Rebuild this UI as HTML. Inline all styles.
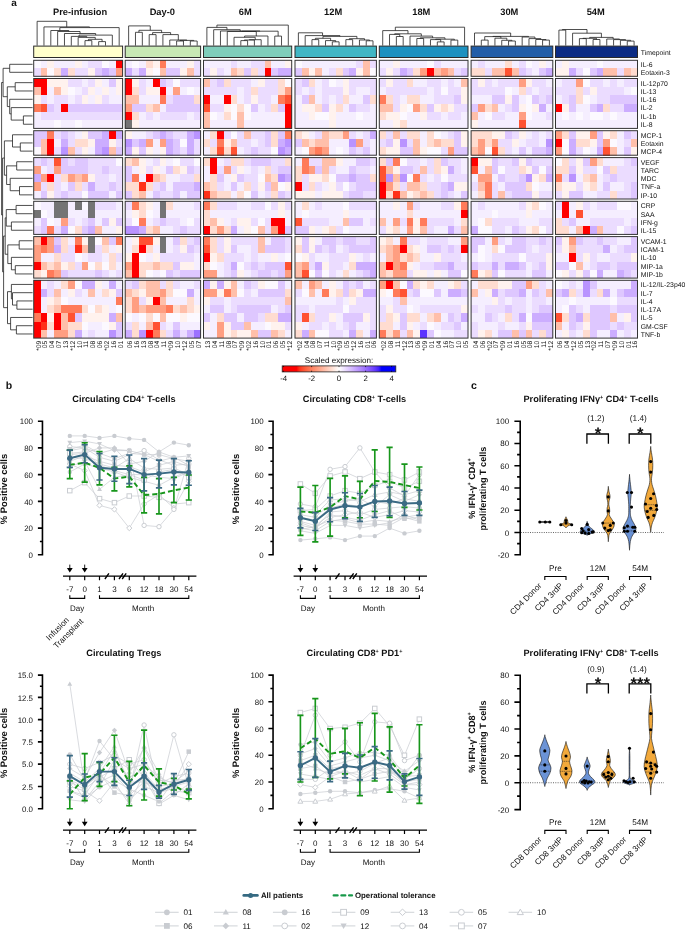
<!DOCTYPE html>
<html><head><meta charset="utf-8"><style>
html,body{margin:0;padding:0;background:#fff;width:685px;height:930px;overflow:hidden}
svg{display:block;will-change:transform}
text{font-family:"Liberation Sans",sans-serif;fill:#111;text-rendering:geometricPrecision}
.b{font-weight:bold}
</style></head><body>
<svg width="685" height="930" viewBox="0 0 685 930">
<text x="11.3" y="5.9" class="b" font-size="10">a</text>
<text x="80.1" y="14.8" class="b" font-size="9.3" text-anchor="middle">Pre-infusion</text>
<path d="M84.99,45.60V40.60H91.83V45.60M98.67,45.60V41.60H105.50V45.60M88.41,40.60V39.30H102.08V41.60M78.15,45.60V37.40H95.25V39.30M71.31,45.60V36.40H86.70V37.40M79.00,36.40V35.10H112.34V45.60M64.47,45.60V33.50H95.67V35.10M57.63,45.60V31.50H80.07V33.50M50.80,45.60V30.50H68.85V31.50M59.83,30.50V27.60H119.18V45.60M43.96,45.60V26.90H89.50V27.60M37.12,45.60V21.30H66.73V26.90" fill="none" stroke="#222" stroke-width="0.8"/>
<rect x="33.70" y="46.1" width="88.90" height="11.4" fill="#ffffcc" stroke="#2a2a2a" stroke-width="1"/>
<g shape-rendering="crispEdges"><rect x="33.7" y="60.3" width="7.1" height="8.3" fill="#fcf9ff"/><rect x="40.5" y="60.3" width="7.1" height="8.3" fill="#f5eeff"/><rect x="47.4" y="60.3" width="7.1" height="8.3" fill="#fff2ee"/><rect x="54.2" y="60.3" width="7.1" height="8.3" fill="#f5eeff"/><rect x="61.1" y="60.3" width="7.1" height="8.3" fill="#f5eeff"/><rect x="67.9" y="60.3" width="7.1" height="8.3" fill="#f5eeff"/><rect x="74.7" y="60.3" width="7.1" height="8.3" fill="#fff2ee"/><rect x="81.6" y="60.3" width="7.1" height="8.3" fill="#f5eeff"/><rect x="88.4" y="60.3" width="7.1" height="8.3" fill="#ebdcff"/><rect x="95.2" y="60.3" width="7.1" height="8.3" fill="#ebdcff"/><rect x="102.1" y="60.3" width="7.1" height="8.3" fill="#fcf9ff"/><rect x="108.9" y="60.3" width="7.1" height="8.3" fill="#f5eeff"/><rect x="115.8" y="60.3" width="7.1" height="8.3" fill="#ff0000"/><rect x="33.7" y="68.3" width="7.1" height="8.3" fill="#ebdcff"/><rect x="40.5" y="68.3" width="7.1" height="8.3" fill="#ffbfaa"/><rect x="47.4" y="68.3" width="7.1" height="8.3" fill="#fcf9ff"/><rect x="54.2" y="68.3" width="7.1" height="8.3" fill="#ffdcd0"/><rect x="61.1" y="68.3" width="7.1" height="8.3" fill="#ccadff"/><rect x="67.9" y="68.3" width="7.1" height="8.3" fill="#ffdcd0"/><rect x="74.7" y="68.3" width="7.1" height="8.3" fill="#ebdcff"/><rect x="81.6" y="68.3" width="7.1" height="8.3" fill="#ebdcff"/><rect x="88.4" y="68.3" width="7.1" height="8.3" fill="#fff2ee"/><rect x="95.2" y="68.3" width="7.1" height="8.3" fill="#dec7ff"/><rect x="102.1" y="68.3" width="7.1" height="8.3" fill="#ccadff"/><rect x="108.9" y="68.3" width="7.1" height="8.3" fill="#dec7ff"/><rect x="115.8" y="68.3" width="7.1" height="8.3" fill="#ff9e81"/><rect x="33.7" y="78.5" width="7.1" height="8.6" fill="#ff0000"/><rect x="40.5" y="78.5" width="7.1" height="8.6" fill="#ff0000"/><rect x="47.4" y="78.5" width="7.1" height="8.6" fill="#fff2ee"/><rect x="54.2" y="78.5" width="7.1" height="8.6" fill="#fff2ee"/><rect x="61.1" y="78.5" width="7.1" height="8.6" fill="#fff2ee"/><rect x="67.9" y="78.5" width="7.1" height="8.6" fill="#ebdcff"/><rect x="74.7" y="78.5" width="7.1" height="8.6" fill="#ebdcff"/><rect x="81.6" y="78.5" width="7.1" height="8.6" fill="#f5eeff"/><rect x="88.4" y="78.5" width="7.1" height="8.6" fill="#ebdcff"/><rect x="95.2" y="78.5" width="7.1" height="8.6" fill="#fff2ee"/><rect x="102.1" y="78.5" width="7.1" height="8.6" fill="#f5eeff"/><rect x="108.9" y="78.5" width="7.1" height="8.6" fill="#dec7ff"/><rect x="115.8" y="78.5" width="7.1" height="8.6" fill="#fff2ee"/><rect x="33.7" y="86.8" width="7.1" height="8.6" fill="#ffbfaa"/><rect x="40.5" y="86.8" width="7.1" height="8.6" fill="#ff0000"/><rect x="47.4" y="86.8" width="7.1" height="8.6" fill="#f5eeff"/><rect x="54.2" y="86.8" width="7.1" height="8.6" fill="#ffbfaa"/><rect x="61.1" y="86.8" width="7.1" height="8.6" fill="#fff2ee"/><rect x="67.9" y="86.8" width="7.1" height="8.6" fill="#fcf9ff"/><rect x="74.7" y="86.8" width="7.1" height="8.6" fill="#f5eeff"/><rect x="81.6" y="86.8" width="7.1" height="8.6" fill="#ebdcff"/><rect x="88.4" y="86.8" width="7.1" height="8.6" fill="#fff2ee"/><rect x="95.2" y="86.8" width="7.1" height="8.6" fill="#f5eeff"/><rect x="102.1" y="86.8" width="7.1" height="8.6" fill="#fff2ee"/><rect x="108.9" y="86.8" width="7.1" height="8.6" fill="#f5eeff"/><rect x="115.8" y="86.8" width="7.1" height="8.6" fill="#fff2ee"/><rect x="33.7" y="95.1" width="7.1" height="8.6" fill="#fff2ee"/><rect x="40.5" y="95.1" width="7.1" height="8.6" fill="#ebdcff"/><rect x="47.4" y="95.1" width="7.1" height="8.6" fill="#f5eeff"/><rect x="54.2" y="95.1" width="7.1" height="8.6" fill="#ebdcff"/><rect x="61.1" y="95.1" width="7.1" height="8.6" fill="#ebdcff"/><rect x="67.9" y="95.1" width="7.1" height="8.6" fill="#f5eeff"/><rect x="74.7" y="95.1" width="7.1" height="8.6" fill="#ebdcff"/><rect x="81.6" y="95.1" width="7.1" height="8.6" fill="#fff2ee"/><rect x="88.4" y="95.1" width="7.1" height="8.6" fill="#f5eeff"/><rect x="95.2" y="95.1" width="7.1" height="8.6" fill="#fff2ee"/><rect x="102.1" y="95.1" width="7.1" height="8.6" fill="#ebdcff"/><rect x="108.9" y="95.1" width="7.1" height="8.6" fill="#f5eeff"/><rect x="115.8" y="95.1" width="7.1" height="8.6" fill="#f5eeff"/><rect x="33.7" y="103.5" width="7.1" height="8.6" fill="#ff7b5a"/><rect x="40.5" y="103.5" width="7.1" height="8.6" fill="#ff5232"/><rect x="47.4" y="103.5" width="7.1" height="8.6" fill="#dec7ff"/><rect x="54.2" y="103.5" width="7.1" height="8.6" fill="#ebdcff"/><rect x="61.1" y="103.5" width="7.1" height="8.6" fill="#ff0000"/><rect x="67.9" y="103.5" width="7.1" height="8.6" fill="#dec7ff"/><rect x="74.7" y="103.5" width="7.1" height="8.6" fill="#dec7ff"/><rect x="81.6" y="103.5" width="7.1" height="8.6" fill="#dec7ff"/><rect x="88.4" y="103.5" width="7.1" height="8.6" fill="#dec7ff"/><rect x="95.2" y="103.5" width="7.1" height="8.6" fill="#dec7ff"/><rect x="102.1" y="103.5" width="7.1" height="8.6" fill="#dec7ff"/><rect x="108.9" y="103.5" width="7.1" height="8.6" fill="#dec7ff"/><rect x="115.8" y="103.5" width="7.1" height="8.6" fill="#dec7ff"/><rect x="33.7" y="111.8" width="7.1" height="8.6" fill="#f5eeff"/><rect x="40.5" y="111.8" width="7.1" height="8.6" fill="#ebdcff"/><rect x="47.4" y="111.8" width="7.1" height="8.6" fill="#ebdcff"/><rect x="54.2" y="111.8" width="7.1" height="8.6" fill="#ebdcff"/><rect x="61.1" y="111.8" width="7.1" height="8.6" fill="#ebdcff"/><rect x="67.9" y="111.8" width="7.1" height="8.6" fill="#ebdcff"/><rect x="74.7" y="111.8" width="7.1" height="8.6" fill="#ebdcff"/><rect x="81.6" y="111.8" width="7.1" height="8.6" fill="#ebdcff"/><rect x="88.4" y="111.8" width="7.1" height="8.6" fill="#ebdcff"/><rect x="95.2" y="111.8" width="7.1" height="8.6" fill="#ebdcff"/><rect x="102.1" y="111.8" width="7.1" height="8.6" fill="#ebdcff"/><rect x="108.9" y="111.8" width="7.1" height="8.6" fill="#ebdcff"/><rect x="115.8" y="111.8" width="7.1" height="8.6" fill="#ebdcff"/><rect x="33.7" y="120.1" width="7.1" height="8.6" fill="#f5eeff"/><rect x="40.5" y="120.1" width="7.1" height="8.6" fill="#f5eeff"/><rect x="47.4" y="120.1" width="7.1" height="8.6" fill="#f5eeff"/><rect x="54.2" y="120.1" width="7.1" height="8.6" fill="#fcf9ff"/><rect x="61.1" y="120.1" width="7.1" height="8.6" fill="#f5eeff"/><rect x="67.9" y="120.1" width="7.1" height="8.6" fill="#f5eeff"/><rect x="74.7" y="120.1" width="7.1" height="8.6" fill="#fcf9ff"/><rect x="81.6" y="120.1" width="7.1" height="8.6" fill="#f5eeff"/><rect x="88.4" y="120.1" width="7.1" height="8.6" fill="#f5eeff"/><rect x="95.2" y="120.1" width="7.1" height="8.6" fill="#f5eeff"/><rect x="102.1" y="120.1" width="7.1" height="8.6" fill="#f5eeff"/><rect x="108.9" y="120.1" width="7.1" height="8.6" fill="#f5eeff"/><rect x="115.8" y="120.1" width="7.1" height="8.6" fill="#f5eeff"/><rect x="33.7" y="130.7" width="7.1" height="8.5" fill="#dec7ff"/><rect x="40.5" y="130.7" width="7.1" height="8.5" fill="#dec7ff"/><rect x="47.4" y="130.7" width="7.1" height="8.5" fill="#ff7b5a"/><rect x="54.2" y="130.7" width="7.1" height="8.5" fill="#ebdcff"/><rect x="61.1" y="130.7" width="7.1" height="8.5" fill="#dec7ff"/><rect x="67.9" y="130.7" width="7.1" height="8.5" fill="#ebdcff"/><rect x="74.7" y="130.7" width="7.1" height="8.5" fill="#f5eeff"/><rect x="81.6" y="130.7" width="7.1" height="8.5" fill="#fff2ee"/><rect x="88.4" y="130.7" width="7.1" height="8.5" fill="#dec7ff"/><rect x="95.2" y="130.7" width="7.1" height="8.5" fill="#dec7ff"/><rect x="102.1" y="130.7" width="7.1" height="8.5" fill="#ccadff"/><rect x="108.9" y="130.7" width="7.1" height="8.5" fill="#ff0000"/><rect x="115.8" y="130.7" width="7.1" height="8.5" fill="#ccadff"/><rect x="33.7" y="138.9" width="7.1" height="8.5" fill="#dec7ff"/><rect x="40.5" y="138.9" width="7.1" height="8.5" fill="#ffbfaa"/><rect x="47.4" y="138.9" width="7.1" height="8.5" fill="#ff0000"/><rect x="54.2" y="138.9" width="7.1" height="8.5" fill="#f5eeff"/><rect x="61.1" y="138.9" width="7.1" height="8.5" fill="#ccadff"/><rect x="67.9" y="138.9" width="7.1" height="8.5" fill="#ebdcff"/><rect x="74.7" y="138.9" width="7.1" height="8.5" fill="#ffdcd0"/><rect x="81.6" y="138.9" width="7.1" height="8.5" fill="#ffdcd0"/><rect x="88.4" y="138.9" width="7.1" height="8.5" fill="#fff2ee"/><rect x="95.2" y="138.9" width="7.1" height="8.5" fill="#ccadff"/><rect x="102.1" y="138.9" width="7.1" height="8.5" fill="#ccadff"/><rect x="108.9" y="138.9" width="7.1" height="8.5" fill="#fff2ee"/><rect x="115.8" y="138.9" width="7.1" height="8.5" fill="#ebdcff"/><rect x="33.7" y="147.0" width="7.1" height="8.5" fill="#fcf9ff"/><rect x="40.5" y="147.0" width="7.1" height="8.5" fill="#ffbfaa"/><rect x="47.4" y="147.0" width="7.1" height="8.5" fill="#ff0000"/><rect x="54.2" y="147.0" width="7.1" height="8.5" fill="#ebdcff"/><rect x="61.1" y="147.0" width="7.1" height="8.5" fill="#b993ff"/><rect x="67.9" y="147.0" width="7.1" height="8.5" fill="#ffbfaa"/><rect x="74.7" y="147.0" width="7.1" height="8.5" fill="#ebdcff"/><rect x="81.6" y="147.0" width="7.1" height="8.5" fill="#fff2ee"/><rect x="88.4" y="147.0" width="7.1" height="8.5" fill="#f5eeff"/><rect x="95.2" y="147.0" width="7.1" height="8.5" fill="#ccadff"/><rect x="102.1" y="147.0" width="7.1" height="8.5" fill="#b993ff"/><rect x="108.9" y="147.0" width="7.1" height="8.5" fill="#ffbfaa"/><rect x="115.8" y="147.0" width="7.1" height="8.5" fill="#dec7ff"/><rect x="33.7" y="157.6" width="7.1" height="8.6" fill="#ebdcff"/><rect x="40.5" y="157.6" width="7.1" height="8.6" fill="#dec7ff"/><rect x="47.4" y="157.6" width="7.1" height="8.6" fill="#ebdcff"/><rect x="54.2" y="157.6" width="7.1" height="8.6" fill="#ff5232"/><rect x="61.1" y="157.6" width="7.1" height="8.6" fill="#dec7ff"/><rect x="67.9" y="157.6" width="7.1" height="8.6" fill="#ebdcff"/><rect x="74.7" y="157.6" width="7.1" height="8.6" fill="#dec7ff"/><rect x="81.6" y="157.6" width="7.1" height="8.6" fill="#dec7ff"/><rect x="88.4" y="157.6" width="7.1" height="8.6" fill="#ebdcff"/><rect x="95.2" y="157.6" width="7.1" height="8.6" fill="#ebdcff"/><rect x="102.1" y="157.6" width="7.1" height="8.6" fill="#ebdcff"/><rect x="108.9" y="157.6" width="7.1" height="8.6" fill="#ebdcff"/><rect x="115.8" y="157.6" width="7.1" height="8.6" fill="#fcf9ff"/><rect x="33.7" y="165.9" width="7.1" height="8.6" fill="#ff9e81"/><rect x="40.5" y="165.9" width="7.1" height="8.6" fill="#f5eeff"/><rect x="47.4" y="165.9" width="7.1" height="8.6" fill="#ebdcff"/><rect x="54.2" y="165.9" width="7.1" height="8.6" fill="#ff9e81"/><rect x="61.1" y="165.9" width="7.1" height="8.6" fill="#dec7ff"/><rect x="67.9" y="165.9" width="7.1" height="8.6" fill="#dec7ff"/><rect x="74.7" y="165.9" width="7.1" height="8.6" fill="#dec7ff"/><rect x="81.6" y="165.9" width="7.1" height="8.6" fill="#dec7ff"/><rect x="88.4" y="165.9" width="7.1" height="8.6" fill="#ebdcff"/><rect x="95.2" y="165.9" width="7.1" height="8.6" fill="#ebdcff"/><rect x="102.1" y="165.9" width="7.1" height="8.6" fill="#dec7ff"/><rect x="108.9" y="165.9" width="7.1" height="8.6" fill="#ebdcff"/><rect x="115.8" y="165.9" width="7.1" height="8.6" fill="#ebdcff"/><rect x="33.7" y="174.2" width="7.1" height="8.6" fill="#ccadff"/><rect x="40.5" y="174.2" width="7.1" height="8.6" fill="#ff9e81"/><rect x="47.4" y="174.2" width="7.1" height="8.6" fill="#ff0000"/><rect x="54.2" y="174.2" width="7.1" height="8.6" fill="#ebdcff"/><rect x="61.1" y="174.2" width="7.1" height="8.6" fill="#ffdcd0"/><rect x="67.9" y="174.2" width="7.1" height="8.6" fill="#ff9e81"/><rect x="74.7" y="174.2" width="7.1" height="8.6" fill="#ffbfaa"/><rect x="81.6" y="174.2" width="7.1" height="8.6" fill="#ff9e81"/><rect x="88.4" y="174.2" width="7.1" height="8.6" fill="#fff2ee"/><rect x="95.2" y="174.2" width="7.1" height="8.6" fill="#ebdcff"/><rect x="102.1" y="174.2" width="7.1" height="8.6" fill="#ebdcff"/><rect x="108.9" y="174.2" width="7.1" height="8.6" fill="#f5eeff"/><rect x="115.8" y="174.2" width="7.1" height="8.6" fill="#ebdcff"/><rect x="33.7" y="182.4" width="7.1" height="8.6" fill="#ff9e81"/><rect x="40.5" y="182.4" width="7.1" height="8.6" fill="#ebdcff"/><rect x="47.4" y="182.4" width="7.1" height="8.6" fill="#ffdcd0"/><rect x="54.2" y="182.4" width="7.1" height="8.6" fill="#ebdcff"/><rect x="61.1" y="182.4" width="7.1" height="8.6" fill="#f5eeff"/><rect x="67.9" y="182.4" width="7.1" height="8.6" fill="#dec7ff"/><rect x="74.7" y="182.4" width="7.1" height="8.6" fill="#ffdcd0"/><rect x="81.6" y="182.4" width="7.1" height="8.6" fill="#ebdcff"/><rect x="88.4" y="182.4" width="7.1" height="8.6" fill="#ccadff"/><rect x="95.2" y="182.4" width="7.1" height="8.6" fill="#ebdcff"/><rect x="102.1" y="182.4" width="7.1" height="8.6" fill="#ebdcff"/><rect x="108.9" y="182.4" width="7.1" height="8.6" fill="#dec7ff"/><rect x="115.8" y="182.4" width="7.1" height="8.6" fill="#ebdcff"/><rect x="33.7" y="190.7" width="7.1" height="8.6" fill="#f5eeff"/><rect x="40.5" y="190.7" width="7.1" height="8.6" fill="#dec7ff"/><rect x="47.4" y="190.7" width="7.1" height="8.6" fill="#fff2ee"/><rect x="54.2" y="190.7" width="7.1" height="8.6" fill="#ebdcff"/><rect x="61.1" y="190.7" width="7.1" height="8.6" fill="#dec7ff"/><rect x="67.9" y="190.7" width="7.1" height="8.6" fill="#ebdcff"/><rect x="74.7" y="190.7" width="7.1" height="8.6" fill="#ebdcff"/><rect x="81.6" y="190.7" width="7.1" height="8.6" fill="#fcf9ff"/><rect x="88.4" y="190.7" width="7.1" height="8.6" fill="#dec7ff"/><rect x="95.2" y="190.7" width="7.1" height="8.6" fill="#dec7ff"/><rect x="102.1" y="190.7" width="7.1" height="8.6" fill="#dec7ff"/><rect x="108.9" y="190.7" width="7.1" height="8.6" fill="#f5eeff"/><rect x="115.8" y="190.7" width="7.1" height="8.6" fill="#dec7ff"/><rect x="33.7" y="201.3" width="7.1" height="8.6" fill="#fcf9ff"/><rect x="40.5" y="201.3" width="7.1" height="8.6" fill="#f5eeff"/><rect x="47.4" y="201.3" width="7.1" height="8.6" fill="#f5eeff"/><rect x="54.2" y="201.3" width="7.1" height="8.6" fill="#747474"/><rect x="61.1" y="201.3" width="7.1" height="8.6" fill="#747474"/><rect x="67.9" y="201.3" width="7.1" height="8.6" fill="#f5eeff"/><rect x="74.7" y="201.3" width="7.1" height="8.6" fill="#747474"/><rect x="81.6" y="201.3" width="7.1" height="8.6" fill="#fcf9ff"/><rect x="88.4" y="201.3" width="7.1" height="8.6" fill="#747474"/><rect x="95.2" y="201.3" width="7.1" height="8.6" fill="#ebdcff"/><rect x="102.1" y="201.3" width="7.1" height="8.6" fill="#ebdcff"/><rect x="108.9" y="201.3" width="7.1" height="8.6" fill="#ebdcff"/><rect x="115.8" y="201.3" width="7.1" height="8.6" fill="#f5eeff"/><rect x="33.7" y="209.6" width="7.1" height="8.6" fill="#747474"/><rect x="40.5" y="209.6" width="7.1" height="8.6" fill="#fcf9ff"/><rect x="47.4" y="209.6" width="7.1" height="8.6" fill="#f5eeff"/><rect x="54.2" y="209.6" width="7.1" height="8.6" fill="#747474"/><rect x="61.1" y="209.6" width="7.1" height="8.6" fill="#747474"/><rect x="67.9" y="209.6" width="7.1" height="8.6" fill="#f5eeff"/><rect x="74.7" y="209.6" width="7.1" height="8.6" fill="#f5eeff"/><rect x="81.6" y="209.6" width="7.1" height="8.6" fill="#f5eeff"/><rect x="88.4" y="209.6" width="7.1" height="8.6" fill="#747474"/><rect x="95.2" y="209.6" width="7.1" height="8.6" fill="#f5eeff"/><rect x="102.1" y="209.6" width="7.1" height="8.6" fill="#f5eeff"/><rect x="108.9" y="209.6" width="7.1" height="8.6" fill="#f5eeff"/><rect x="115.8" y="209.6" width="7.1" height="8.6" fill="#f5eeff"/><rect x="33.7" y="217.9" width="7.1" height="8.6" fill="#f5eeff"/><rect x="40.5" y="217.9" width="7.1" height="8.6" fill="#dec7ff"/><rect x="47.4" y="217.9" width="7.1" height="8.6" fill="#fcf9ff"/><rect x="54.2" y="217.9" width="7.1" height="8.6" fill="#f5eeff"/><rect x="61.1" y="217.9" width="7.1" height="8.6" fill="#ff9e81"/><rect x="67.9" y="217.9" width="7.1" height="8.6" fill="#ebdcff"/><rect x="74.7" y="217.9" width="7.1" height="8.6" fill="#f5eeff"/><rect x="81.6" y="217.9" width="7.1" height="8.6" fill="#ebdcff"/><rect x="88.4" y="217.9" width="7.1" height="8.6" fill="#dec7ff"/><rect x="95.2" y="217.9" width="7.1" height="8.6" fill="#f5eeff"/><rect x="102.1" y="217.9" width="7.1" height="8.6" fill="#dec7ff"/><rect x="108.9" y="217.9" width="7.1" height="8.6" fill="#fff2ee"/><rect x="115.8" y="217.9" width="7.1" height="8.6" fill="#dec7ff"/><rect x="33.7" y="226.1" width="7.1" height="8.6" fill="#ebdcff"/><rect x="40.5" y="226.1" width="7.1" height="8.6" fill="#dec7ff"/><rect x="47.4" y="226.1" width="7.1" height="8.6" fill="#ff7b5a"/><rect x="54.2" y="226.1" width="7.1" height="8.6" fill="#ebdcff"/><rect x="61.1" y="226.1" width="7.1" height="8.6" fill="#ccadff"/><rect x="67.9" y="226.1" width="7.1" height="8.6" fill="#fcf9ff"/><rect x="74.7" y="226.1" width="7.1" height="8.6" fill="#ffdcd0"/><rect x="81.6" y="226.1" width="7.1" height="8.6" fill="#dec7ff"/><rect x="88.4" y="226.1" width="7.1" height="8.6" fill="#ccadff"/><rect x="95.2" y="226.1" width="7.1" height="8.6" fill="#ffbfaa"/><rect x="102.1" y="226.1" width="7.1" height="8.6" fill="#f5eeff"/><rect x="108.9" y="226.1" width="7.1" height="8.6" fill="#f5eeff"/><rect x="115.8" y="226.1" width="7.1" height="8.6" fill="#fff2ee"/><rect x="33.7" y="236.6" width="7.1" height="8.6" fill="#ffbfaa"/><rect x="40.5" y="236.6" width="7.1" height="8.6" fill="#ff0000"/><rect x="47.4" y="236.6" width="7.1" height="8.6" fill="#ff9e81"/><rect x="54.2" y="236.6" width="7.1" height="8.6" fill="#dec7ff"/><rect x="61.1" y="236.6" width="7.1" height="8.6" fill="#ffdcd0"/><rect x="67.9" y="236.6" width="7.1" height="8.6" fill="#f5eeff"/><rect x="74.7" y="236.6" width="7.1" height="8.6" fill="#ff7b5a"/><rect x="81.6" y="236.6" width="7.1" height="8.6" fill="#fff2ee"/><rect x="88.4" y="236.6" width="7.1" height="8.6" fill="#747474"/><rect x="95.2" y="236.6" width="7.1" height="8.6" fill="#fcf9ff"/><rect x="102.1" y="236.6" width="7.1" height="8.6" fill="#ffbfaa"/><rect x="108.9" y="236.6" width="7.1" height="8.6" fill="#dec7ff"/><rect x="115.8" y="236.6" width="7.1" height="8.6" fill="#ff7b5a"/><rect x="33.7" y="244.9" width="7.1" height="8.6" fill="#ff9e81"/><rect x="40.5" y="244.9" width="7.1" height="8.6" fill="#ff7b5a"/><rect x="47.4" y="244.9" width="7.1" height="8.6" fill="#ff9e81"/><rect x="54.2" y="244.9" width="7.1" height="8.6" fill="#ccadff"/><rect x="61.1" y="244.9" width="7.1" height="8.6" fill="#ffdcd0"/><rect x="67.9" y="244.9" width="7.1" height="8.6" fill="#ebdcff"/><rect x="74.7" y="244.9" width="7.1" height="8.6" fill="#ff3118"/><rect x="81.6" y="244.9" width="7.1" height="8.6" fill="#ffbfaa"/><rect x="88.4" y="244.9" width="7.1" height="8.6" fill="#747474"/><rect x="95.2" y="244.9" width="7.1" height="8.6" fill="#ebdcff"/><rect x="102.1" y="244.9" width="7.1" height="8.6" fill="#ffdcd0"/><rect x="108.9" y="244.9" width="7.1" height="8.6" fill="#f5eeff"/><rect x="115.8" y="244.9" width="7.1" height="8.6" fill="#fff2ee"/><rect x="33.7" y="253.2" width="7.1" height="8.6" fill="#ff9e81"/><rect x="40.5" y="253.2" width="7.1" height="8.6" fill="#f5eeff"/><rect x="47.4" y="253.2" width="7.1" height="8.6" fill="#f5eeff"/><rect x="54.2" y="253.2" width="7.1" height="8.6" fill="#ffdcd0"/><rect x="61.1" y="253.2" width="7.1" height="8.6" fill="#ebdcff"/><rect x="67.9" y="253.2" width="7.1" height="8.6" fill="#ebdcff"/><rect x="74.7" y="253.2" width="7.1" height="8.6" fill="#fcf9ff"/><rect x="81.6" y="253.2" width="7.1" height="8.6" fill="#f5eeff"/><rect x="88.4" y="253.2" width="7.1" height="8.6" fill="#ebdcff"/><rect x="95.2" y="253.2" width="7.1" height="8.6" fill="#ebdcff"/><rect x="102.1" y="253.2" width="7.1" height="8.6" fill="#f5eeff"/><rect x="108.9" y="253.2" width="7.1" height="8.6" fill="#ffdcd0"/><rect x="115.8" y="253.2" width="7.1" height="8.6" fill="#ebdcff"/><rect x="33.7" y="261.5" width="7.1" height="8.6" fill="#ff0000"/><rect x="40.5" y="261.5" width="7.1" height="8.6" fill="#ffbfaa"/><rect x="47.4" y="261.5" width="7.1" height="8.6" fill="#ffdcd0"/><rect x="54.2" y="261.5" width="7.1" height="8.6" fill="#ffbfaa"/><rect x="61.1" y="261.5" width="7.1" height="8.6" fill="#fff2ee"/><rect x="67.9" y="261.5" width="7.1" height="8.6" fill="#ffdcd0"/><rect x="74.7" y="261.5" width="7.1" height="8.6" fill="#ebdcff"/><rect x="81.6" y="261.5" width="7.1" height="8.6" fill="#ff9e81"/><rect x="88.4" y="261.5" width="7.1" height="8.6" fill="#fcf9ff"/><rect x="95.2" y="261.5" width="7.1" height="8.6" fill="#ffdcd0"/><rect x="102.1" y="261.5" width="7.1" height="8.6" fill="#fcf9ff"/><rect x="108.9" y="261.5" width="7.1" height="8.6" fill="#ffdcd0"/><rect x="115.8" y="261.5" width="7.1" height="8.6" fill="#f5eeff"/><rect x="33.7" y="269.8" width="7.1" height="8.6" fill="#ffdcd0"/><rect x="40.5" y="269.8" width="7.1" height="8.6" fill="#fff2ee"/><rect x="47.4" y="269.8" width="7.1" height="8.6" fill="#ff7b5a"/><rect x="54.2" y="269.8" width="7.1" height="8.6" fill="#ff9e81"/><rect x="61.1" y="269.8" width="7.1" height="8.6" fill="#dec7ff"/><rect x="67.9" y="269.8" width="7.1" height="8.6" fill="#ebdcff"/><rect x="74.7" y="269.8" width="7.1" height="8.6" fill="#ebdcff"/><rect x="81.6" y="269.8" width="7.1" height="8.6" fill="#ebdcff"/><rect x="88.4" y="269.8" width="7.1" height="8.6" fill="#ebdcff"/><rect x="95.2" y="269.8" width="7.1" height="8.6" fill="#dec7ff"/><rect x="102.1" y="269.8" width="7.1" height="8.6" fill="#ebdcff"/><rect x="108.9" y="269.8" width="7.1" height="8.6" fill="#f5eeff"/><rect x="115.8" y="269.8" width="7.1" height="8.6" fill="#ebdcff"/><rect x="33.7" y="280.3" width="7.1" height="8.6" fill="#ff0000"/><rect x="40.5" y="280.3" width="7.1" height="8.6" fill="#f5eeff"/><rect x="47.4" y="280.3" width="7.1" height="8.6" fill="#ebdcff"/><rect x="54.2" y="280.3" width="7.1" height="8.6" fill="#f5eeff"/><rect x="61.1" y="280.3" width="7.1" height="8.6" fill="#ffdcd0"/><rect x="67.9" y="280.3" width="7.1" height="8.6" fill="#ff9e81"/><rect x="74.7" y="280.3" width="7.1" height="8.6" fill="#fcf9ff"/><rect x="81.6" y="280.3" width="7.1" height="8.6" fill="#ccadff"/><rect x="88.4" y="280.3" width="7.1" height="8.6" fill="#ccadff"/><rect x="95.2" y="280.3" width="7.1" height="8.6" fill="#fff2ee"/><rect x="102.1" y="280.3" width="7.1" height="8.6" fill="#f5eeff"/><rect x="108.9" y="280.3" width="7.1" height="8.6" fill="#ccadff"/><rect x="115.8" y="280.3" width="7.1" height="8.6" fill="#f5eeff"/><rect x="33.7" y="288.6" width="7.1" height="8.6" fill="#ff0000"/><rect x="40.5" y="288.6" width="7.1" height="8.6" fill="#ccadff"/><rect x="47.4" y="288.6" width="7.1" height="8.6" fill="#ebdcff"/><rect x="54.2" y="288.6" width="7.1" height="8.6" fill="#ffbfaa"/><rect x="61.1" y="288.6" width="7.1" height="8.6" fill="#f5eeff"/><rect x="67.9" y="288.6" width="7.1" height="8.6" fill="#fff2ee"/><rect x="74.7" y="288.6" width="7.1" height="8.6" fill="#ebdcff"/><rect x="81.6" y="288.6" width="7.1" height="8.6" fill="#f5eeff"/><rect x="88.4" y="288.6" width="7.1" height="8.6" fill="#ffbfaa"/><rect x="95.2" y="288.6" width="7.1" height="8.6" fill="#f5eeff"/><rect x="102.1" y="288.6" width="7.1" height="8.6" fill="#ffdcd0"/><rect x="108.9" y="288.6" width="7.1" height="8.6" fill="#fff2ee"/><rect x="115.8" y="288.6" width="7.1" height="8.6" fill="#dec7ff"/><rect x="33.7" y="296.8" width="7.1" height="8.6" fill="#ff0000"/><rect x="40.5" y="296.8" width="7.1" height="8.6" fill="#f5eeff"/><rect x="47.4" y="296.8" width="7.1" height="8.6" fill="#fff2ee"/><rect x="54.2" y="296.8" width="7.1" height="8.6" fill="#ffdcd0"/><rect x="61.1" y="296.8" width="7.1" height="8.6" fill="#fcf9ff"/><rect x="67.9" y="296.8" width="7.1" height="8.6" fill="#f5eeff"/><rect x="74.7" y="296.8" width="7.1" height="8.6" fill="#f5eeff"/><rect x="81.6" y="296.8" width="7.1" height="8.6" fill="#f5eeff"/><rect x="88.4" y="296.8" width="7.1" height="8.6" fill="#f5eeff"/><rect x="95.2" y="296.8" width="7.1" height="8.6" fill="#f5eeff"/><rect x="102.1" y="296.8" width="7.1" height="8.6" fill="#f5eeff"/><rect x="108.9" y="296.8" width="7.1" height="8.6" fill="#f5eeff"/><rect x="115.8" y="296.8" width="7.1" height="8.6" fill="#ff7b5a"/><rect x="33.7" y="305.1" width="7.1" height="8.6" fill="#ff0000"/><rect x="40.5" y="305.1" width="7.1" height="8.6" fill="#f5eeff"/><rect x="47.4" y="305.1" width="7.1" height="8.6" fill="#ffdcd0"/><rect x="54.2" y="305.1" width="7.1" height="8.6" fill="#ffbfaa"/><rect x="61.1" y="305.1" width="7.1" height="8.6" fill="#ff7b5a"/><rect x="67.9" y="305.1" width="7.1" height="8.6" fill="#ff7b5a"/><rect x="74.7" y="305.1" width="7.1" height="8.6" fill="#ff7b5a"/><rect x="81.6" y="305.1" width="7.1" height="8.6" fill="#ffdcd0"/><rect x="88.4" y="305.1" width="7.1" height="8.6" fill="#fcf9ff"/><rect x="95.2" y="305.1" width="7.1" height="8.6" fill="#ffdcd0"/><rect x="102.1" y="305.1" width="7.1" height="8.6" fill="#fff2ee"/><rect x="108.9" y="305.1" width="7.1" height="8.6" fill="#f5eeff"/><rect x="115.8" y="305.1" width="7.1" height="8.6" fill="#fcf9ff"/><rect x="33.7" y="313.3" width="7.1" height="8.6" fill="#ff7b5a"/><rect x="40.5" y="313.3" width="7.1" height="8.6" fill="#ff0000"/><rect x="47.4" y="313.3" width="7.1" height="8.6" fill="#fff2ee"/><rect x="54.2" y="313.3" width="7.1" height="8.6" fill="#ff0000"/><rect x="61.1" y="313.3" width="7.1" height="8.6" fill="#ffbfaa"/><rect x="67.9" y="313.3" width="7.1" height="8.6" fill="#ff5232"/><rect x="74.7" y="313.3" width="7.1" height="8.6" fill="#dec7ff"/><rect x="81.6" y="313.3" width="7.1" height="8.6" fill="#fff2ee"/><rect x="88.4" y="313.3" width="7.1" height="8.6" fill="#fff2ee"/><rect x="95.2" y="313.3" width="7.1" height="8.6" fill="#fff2ee"/><rect x="102.1" y="313.3" width="7.1" height="8.6" fill="#fff2ee"/><rect x="108.9" y="313.3" width="7.1" height="8.6" fill="#ccadff"/><rect x="115.8" y="313.3" width="7.1" height="8.6" fill="#ffbfaa"/><rect x="33.7" y="321.6" width="7.1" height="8.6" fill="#ff0000"/><rect x="40.5" y="321.6" width="7.1" height="8.6" fill="#ff3118"/><rect x="47.4" y="321.6" width="7.1" height="8.6" fill="#ffdcd0"/><rect x="54.2" y="321.6" width="7.1" height="8.6" fill="#ff0000"/><rect x="61.1" y="321.6" width="7.1" height="8.6" fill="#ffbfaa"/><rect x="67.9" y="321.6" width="7.1" height="8.6" fill="#ffdcd0"/><rect x="74.7" y="321.6" width="7.1" height="8.6" fill="#ffdcd0"/><rect x="81.6" y="321.6" width="7.1" height="8.6" fill="#fcf9ff"/><rect x="88.4" y="321.6" width="7.1" height="8.6" fill="#f5eeff"/><rect x="95.2" y="321.6" width="7.1" height="8.6" fill="#f5eeff"/><rect x="102.1" y="321.6" width="7.1" height="8.6" fill="#fcf9ff"/><rect x="108.9" y="321.6" width="7.1" height="8.6" fill="#fff2ee"/><rect x="115.8" y="321.6" width="7.1" height="8.6" fill="#dec7ff"/><rect x="33.7" y="329.8" width="7.1" height="8.6" fill="#ff0000"/><rect x="40.5" y="329.8" width="7.1" height="8.6" fill="#ffbfaa"/><rect x="47.4" y="329.8" width="7.1" height="8.6" fill="#f5eeff"/><rect x="54.2" y="329.8" width="7.1" height="8.6" fill="#ff9e81"/><rect x="61.1" y="329.8" width="7.1" height="8.6" fill="#ff9e81"/><rect x="67.9" y="329.8" width="7.1" height="8.6" fill="#ffdcd0"/><rect x="74.7" y="329.8" width="7.1" height="8.6" fill="#ccadff"/><rect x="81.6" y="329.8" width="7.1" height="8.6" fill="#f5eeff"/><rect x="88.4" y="329.8" width="7.1" height="8.6" fill="#ebdcff"/><rect x="95.2" y="329.8" width="7.1" height="8.6" fill="#f5eeff"/><rect x="102.1" y="329.8" width="7.1" height="8.6" fill="#f5eeff"/><rect x="108.9" y="329.8" width="7.1" height="8.6" fill="#b993ff"/><rect x="115.8" y="329.8" width="7.1" height="8.6" fill="#dec7ff"/></g>
<rect x="33.70" y="60.30" width="88.90" height="16.00" fill="none" stroke="#333" stroke-width="1"/>
<rect x="33.70" y="78.50" width="88.90" height="49.90" fill="none" stroke="#333" stroke-width="1"/>
<rect x="33.70" y="130.70" width="88.90" height="24.50" fill="none" stroke="#333" stroke-width="1"/>
<rect x="33.70" y="157.60" width="88.90" height="41.40" fill="none" stroke="#333" stroke-width="1"/>
<rect x="33.70" y="201.30" width="88.90" height="33.10" fill="none" stroke="#333" stroke-width="1"/>
<rect x="33.70" y="236.60" width="88.90" height="41.50" fill="none" stroke="#333" stroke-width="1"/>
<rect x="33.70" y="280.30" width="88.90" height="57.80" fill="none" stroke="#333" stroke-width="1"/>
<text transform="translate(40.52,340.6) rotate(-90)" font-size="6.8" text-anchor="end">*09</text>
<text transform="translate(47.36,340.6) rotate(-90)" font-size="6.8" text-anchor="end">05</text>
<text transform="translate(54.20,340.6) rotate(-90)" font-size="6.8" text-anchor="end">04</text>
<text transform="translate(61.03,340.6) rotate(-90)" font-size="6.8" text-anchor="end">07</text>
<text transform="translate(67.87,340.6) rotate(-90)" font-size="6.8" text-anchor="end">13</text>
<text transform="translate(74.71,340.6) rotate(-90)" font-size="6.8" text-anchor="end">*12</text>
<text transform="translate(81.55,340.6) rotate(-90)" font-size="6.8" text-anchor="end">10</text>
<text transform="translate(88.39,340.6) rotate(-90)" font-size="6.8" text-anchor="end">11</text>
<text transform="translate(95.23,340.6) rotate(-90)" font-size="6.8" text-anchor="end">08</text>
<text transform="translate(102.07,340.6) rotate(-90)" font-size="6.8" text-anchor="end">06</text>
<text transform="translate(108.90,340.6) rotate(-90)" font-size="6.8" text-anchor="end">*02</text>
<text transform="translate(115.74,340.6) rotate(-90)" font-size="6.8" text-anchor="end">16</text>
<text transform="translate(122.58,340.6) rotate(-90)" font-size="6.8" text-anchor="end">01</text>
<text x="162.3" y="14.8" class="b" font-size="9.3" text-anchor="middle">Day-0</text>
<path d="M135.48,45.60V32.30H142.34V45.60M149.19,45.60V34.60H156.05V45.60M176.61,45.60V41.00H183.46V45.60M190.32,45.60V41.00H197.17V45.60M180.04,41.00V40.40H193.75V41.00M169.75,45.60V40.00H186.89V40.40M162.90,45.60V34.60H178.32V40.00M152.62,34.60V32.60H170.61V34.60M138.91,32.30V30.30H161.61V32.60M128.63,45.60V25.90H150.26V30.30" fill="none" stroke="#222" stroke-width="0.8"/>
<rect x="125.20" y="46.1" width="75.40" height="11.4" fill="#c7e9b4" stroke="#2a2a2a" stroke-width="1"/>
<g shape-rendering="crispEdges"><rect x="125.2" y="60.3" width="7.2" height="8.3" fill="#f5eeff"/><rect x="132.1" y="60.3" width="7.2" height="8.3" fill="#fcf9ff"/><rect x="138.9" y="60.3" width="7.2" height="8.3" fill="#f5eeff"/><rect x="145.8" y="60.3" width="7.2" height="8.3" fill="#ffdcd0"/><rect x="152.6" y="60.3" width="7.2" height="8.3" fill="#fff2ee"/><rect x="159.5" y="60.3" width="7.2" height="8.3" fill="#ff7b5a"/><rect x="166.3" y="60.3" width="7.2" height="8.3" fill="#f5eeff"/><rect x="173.2" y="60.3" width="7.2" height="8.3" fill="#f5eeff"/><rect x="180.0" y="60.3" width="7.2" height="8.3" fill="#f5eeff"/><rect x="186.9" y="60.3" width="7.2" height="8.3" fill="#fff2ee"/><rect x="193.7" y="60.3" width="7.2" height="8.3" fill="#ebdcff"/><rect x="125.2" y="68.3" width="7.2" height="8.3" fill="#ccadff"/><rect x="132.1" y="68.3" width="7.2" height="8.3" fill="#ebdcff"/><rect x="138.9" y="68.3" width="7.2" height="8.3" fill="#ccadff"/><rect x="145.8" y="68.3" width="7.2" height="8.3" fill="#fff2ee"/><rect x="152.6" y="68.3" width="7.2" height="8.3" fill="#fcf9ff"/><rect x="159.5" y="68.3" width="7.2" height="8.3" fill="#ffbfaa"/><rect x="166.3" y="68.3" width="7.2" height="8.3" fill="#dec7ff"/><rect x="173.2" y="68.3" width="7.2" height="8.3" fill="#dec7ff"/><rect x="180.0" y="68.3" width="7.2" height="8.3" fill="#fff2ee"/><rect x="186.9" y="68.3" width="7.2" height="8.3" fill="#ffbfaa"/><rect x="193.7" y="68.3" width="7.2" height="8.3" fill="#ebdcff"/><rect x="125.2" y="78.5" width="7.2" height="8.6" fill="#ff0000"/><rect x="132.1" y="78.5" width="7.2" height="8.6" fill="#fff2ee"/><rect x="138.9" y="78.5" width="7.2" height="8.6" fill="#ebdcff"/><rect x="145.8" y="78.5" width="7.2" height="8.6" fill="#f5eeff"/><rect x="152.6" y="78.5" width="7.2" height="8.6" fill="#ff0000"/><rect x="159.5" y="78.5" width="7.2" height="8.6" fill="#dec7ff"/><rect x="166.3" y="78.5" width="7.2" height="8.6" fill="#ebdcff"/><rect x="173.2" y="78.5" width="7.2" height="8.6" fill="#fcf9ff"/><rect x="180.0" y="78.5" width="7.2" height="8.6" fill="#ebdcff"/><rect x="186.9" y="78.5" width="7.2" height="8.6" fill="#ebdcff"/><rect x="193.7" y="78.5" width="7.2" height="8.6" fill="#ebdcff"/><rect x="125.2" y="86.8" width="7.2" height="8.6" fill="#ff0000"/><rect x="132.1" y="86.8" width="7.2" height="8.6" fill="#ffdcd0"/><rect x="138.9" y="86.8" width="7.2" height="8.6" fill="#ebdcff"/><rect x="145.8" y="86.8" width="7.2" height="8.6" fill="#fff2ee"/><rect x="152.6" y="86.8" width="7.2" height="8.6" fill="#fff2ee"/><rect x="159.5" y="86.8" width="7.2" height="8.6" fill="#ff0000"/><rect x="166.3" y="86.8" width="7.2" height="8.6" fill="#f5eeff"/><rect x="173.2" y="86.8" width="7.2" height="8.6" fill="#ff9e81"/><rect x="180.0" y="86.8" width="7.2" height="8.6" fill="#f5eeff"/><rect x="186.9" y="86.8" width="7.2" height="8.6" fill="#fcf9ff"/><rect x="193.7" y="86.8" width="7.2" height="8.6" fill="#f5eeff"/><rect x="125.2" y="95.1" width="7.2" height="8.6" fill="#ffbfaa"/><rect x="132.1" y="95.1" width="7.2" height="8.6" fill="#ffbfaa"/><rect x="138.9" y="95.1" width="7.2" height="8.6" fill="#f5eeff"/><rect x="145.8" y="95.1" width="7.2" height="8.6" fill="#f5eeff"/><rect x="152.6" y="95.1" width="7.2" height="8.6" fill="#f5eeff"/><rect x="159.5" y="95.1" width="7.2" height="8.6" fill="#ff7b5a"/><rect x="166.3" y="95.1" width="7.2" height="8.6" fill="#ebdcff"/><rect x="173.2" y="95.1" width="7.2" height="8.6" fill="#dec7ff"/><rect x="180.0" y="95.1" width="7.2" height="8.6" fill="#dec7ff"/><rect x="186.9" y="95.1" width="7.2" height="8.6" fill="#dec7ff"/><rect x="193.7" y="95.1" width="7.2" height="8.6" fill="#ffdcd0"/><rect x="125.2" y="103.5" width="7.2" height="8.6" fill="#ff9e81"/><rect x="132.1" y="103.5" width="7.2" height="8.6" fill="#dec7ff"/><rect x="138.9" y="103.5" width="7.2" height="8.6" fill="#dec7ff"/><rect x="145.8" y="103.5" width="7.2" height="8.6" fill="#ffdcd0"/><rect x="152.6" y="103.5" width="7.2" height="8.6" fill="#ffbfaa"/><rect x="159.5" y="103.5" width="7.2" height="8.6" fill="#f5eeff"/><rect x="166.3" y="103.5" width="7.2" height="8.6" fill="#dec7ff"/><rect x="173.2" y="103.5" width="7.2" height="8.6" fill="#dec7ff"/><rect x="180.0" y="103.5" width="7.2" height="8.6" fill="#dec7ff"/><rect x="186.9" y="103.5" width="7.2" height="8.6" fill="#dec7ff"/><rect x="193.7" y="103.5" width="7.2" height="8.6" fill="#dec7ff"/><rect x="125.2" y="111.8" width="7.2" height="8.6" fill="#ff0000"/><rect x="132.1" y="111.8" width="7.2" height="8.6" fill="#ffdcd0"/><rect x="138.9" y="111.8" width="7.2" height="8.6" fill="#f5eeff"/><rect x="145.8" y="111.8" width="7.2" height="8.6" fill="#ebdcff"/><rect x="152.6" y="111.8" width="7.2" height="8.6" fill="#f5eeff"/><rect x="159.5" y="111.8" width="7.2" height="8.6" fill="#ebdcff"/><rect x="166.3" y="111.8" width="7.2" height="8.6" fill="#ebdcff"/><rect x="173.2" y="111.8" width="7.2" height="8.6" fill="#ebdcff"/><rect x="180.0" y="111.8" width="7.2" height="8.6" fill="#ebdcff"/><rect x="186.9" y="111.8" width="7.2" height="8.6" fill="#f5eeff"/><rect x="193.7" y="111.8" width="7.2" height="8.6" fill="#ebdcff"/><rect x="125.2" y="120.1" width="7.2" height="8.6" fill="#747474"/><rect x="132.1" y="120.1" width="7.2" height="8.6" fill="#fff2ee"/><rect x="138.9" y="120.1" width="7.2" height="8.6" fill="#f5eeff"/><rect x="145.8" y="120.1" width="7.2" height="8.6" fill="#f5eeff"/><rect x="152.6" y="120.1" width="7.2" height="8.6" fill="#f5eeff"/><rect x="159.5" y="120.1" width="7.2" height="8.6" fill="#f5eeff"/><rect x="166.3" y="120.1" width="7.2" height="8.6" fill="#f5eeff"/><rect x="173.2" y="120.1" width="7.2" height="8.6" fill="#f5eeff"/><rect x="180.0" y="120.1" width="7.2" height="8.6" fill="#f5eeff"/><rect x="186.9" y="120.1" width="7.2" height="8.6" fill="#f5eeff"/><rect x="193.7" y="120.1" width="7.2" height="8.6" fill="#f5eeff"/><rect x="125.2" y="130.7" width="7.2" height="8.5" fill="#fff2ee"/><rect x="132.1" y="130.7" width="7.2" height="8.5" fill="#f5eeff"/><rect x="138.9" y="130.7" width="7.2" height="8.5" fill="#f5eeff"/><rect x="145.8" y="130.7" width="7.2" height="8.5" fill="#ebdcff"/><rect x="152.6" y="130.7" width="7.2" height="8.5" fill="#dec7ff"/><rect x="159.5" y="130.7" width="7.2" height="8.5" fill="#ccadff"/><rect x="166.3" y="130.7" width="7.2" height="8.5" fill="#dec7ff"/><rect x="173.2" y="130.7" width="7.2" height="8.5" fill="#ebdcff"/><rect x="180.0" y="130.7" width="7.2" height="8.5" fill="#ebdcff"/><rect x="186.9" y="130.7" width="7.2" height="8.5" fill="#ccadff"/><rect x="193.7" y="130.7" width="7.2" height="8.5" fill="#b993ff"/><rect x="125.2" y="138.9" width="7.2" height="8.5" fill="#b993ff"/><rect x="132.1" y="138.9" width="7.2" height="8.5" fill="#dec7ff"/><rect x="138.9" y="138.9" width="7.2" height="8.5" fill="#ccadff"/><rect x="145.8" y="138.9" width="7.2" height="8.5" fill="#ff9e81"/><rect x="152.6" y="138.9" width="7.2" height="8.5" fill="#f5eeff"/><rect x="159.5" y="138.9" width="7.2" height="8.5" fill="#ff9e81"/><rect x="166.3" y="138.9" width="7.2" height="8.5" fill="#ccadff"/><rect x="173.2" y="138.9" width="7.2" height="8.5" fill="#dec7ff"/><rect x="180.0" y="138.9" width="7.2" height="8.5" fill="#fcf9ff"/><rect x="186.9" y="138.9" width="7.2" height="8.5" fill="#ccadff"/><rect x="193.7" y="138.9" width="7.2" height="8.5" fill="#ebdcff"/><rect x="125.2" y="147.0" width="7.2" height="8.5" fill="#ccadff"/><rect x="132.1" y="147.0" width="7.2" height="8.5" fill="#fff2ee"/><rect x="138.9" y="147.0" width="7.2" height="8.5" fill="#dec7ff"/><rect x="145.8" y="147.0" width="7.2" height="8.5" fill="#fff2ee"/><rect x="152.6" y="147.0" width="7.2" height="8.5" fill="#f5eeff"/><rect x="159.5" y="147.0" width="7.2" height="8.5" fill="#fff2ee"/><rect x="166.3" y="147.0" width="7.2" height="8.5" fill="#ccadff"/><rect x="173.2" y="147.0" width="7.2" height="8.5" fill="#dec7ff"/><rect x="180.0" y="147.0" width="7.2" height="8.5" fill="#ebdcff"/><rect x="186.9" y="147.0" width="7.2" height="8.5" fill="#ccadff"/><rect x="193.7" y="147.0" width="7.2" height="8.5" fill="#ebdcff"/><rect x="125.2" y="157.6" width="7.2" height="8.6" fill="#ffdcd0"/><rect x="132.1" y="157.6" width="7.2" height="8.6" fill="#ffbfaa"/><rect x="138.9" y="157.6" width="7.2" height="8.6" fill="#fff2ee"/><rect x="145.8" y="157.6" width="7.2" height="8.6" fill="#f5eeff"/><rect x="152.6" y="157.6" width="7.2" height="8.6" fill="#ebdcff"/><rect x="159.5" y="157.6" width="7.2" height="8.6" fill="#fff2ee"/><rect x="166.3" y="157.6" width="7.2" height="8.6" fill="#f5eeff"/><rect x="173.2" y="157.6" width="7.2" height="8.6" fill="#fcf9ff"/><rect x="180.0" y="157.6" width="7.2" height="8.6" fill="#ebdcff"/><rect x="186.9" y="157.6" width="7.2" height="8.6" fill="#ebdcff"/><rect x="193.7" y="157.6" width="7.2" height="8.6" fill="#fcf9ff"/><rect x="125.2" y="165.9" width="7.2" height="8.6" fill="#dec7ff"/><rect x="132.1" y="165.9" width="7.2" height="8.6" fill="#f5eeff"/><rect x="138.9" y="165.9" width="7.2" height="8.6" fill="#fff2ee"/><rect x="145.8" y="165.9" width="7.2" height="8.6" fill="#ebdcff"/><rect x="152.6" y="165.9" width="7.2" height="8.6" fill="#fff2ee"/><rect x="159.5" y="165.9" width="7.2" height="8.6" fill="#f5eeff"/><rect x="166.3" y="165.9" width="7.2" height="8.6" fill="#dec7ff"/><rect x="173.2" y="165.9" width="7.2" height="8.6" fill="#ffdcd0"/><rect x="180.0" y="165.9" width="7.2" height="8.6" fill="#fff2ee"/><rect x="186.9" y="165.9" width="7.2" height="8.6" fill="#dec7ff"/><rect x="193.7" y="165.9" width="7.2" height="8.6" fill="#ebdcff"/><rect x="125.2" y="174.2" width="7.2" height="8.6" fill="#dec7ff"/><rect x="132.1" y="174.2" width="7.2" height="8.6" fill="#ff7b5a"/><rect x="138.9" y="174.2" width="7.2" height="8.6" fill="#f5eeff"/><rect x="145.8" y="174.2" width="7.2" height="8.6" fill="#ff0000"/><rect x="152.6" y="174.2" width="7.2" height="8.6" fill="#ffbfaa"/><rect x="159.5" y="174.2" width="7.2" height="8.6" fill="#ffdcd0"/><rect x="166.3" y="174.2" width="7.2" height="8.6" fill="#f5eeff"/><rect x="173.2" y="174.2" width="7.2" height="8.6" fill="#f5eeff"/><rect x="180.0" y="174.2" width="7.2" height="8.6" fill="#ebdcff"/><rect x="186.9" y="174.2" width="7.2" height="8.6" fill="#ebdcff"/><rect x="193.7" y="174.2" width="7.2" height="8.6" fill="#ffdcd0"/><rect x="125.2" y="182.4" width="7.2" height="8.6" fill="#ffdcd0"/><rect x="132.1" y="182.4" width="7.2" height="8.6" fill="#ffdcd0"/><rect x="138.9" y="182.4" width="7.2" height="8.6" fill="#ff3118"/><rect x="145.8" y="182.4" width="7.2" height="8.6" fill="#ffdcd0"/><rect x="152.6" y="182.4" width="7.2" height="8.6" fill="#ebdcff"/><rect x="159.5" y="182.4" width="7.2" height="8.6" fill="#dec7ff"/><rect x="166.3" y="182.4" width="7.2" height="8.6" fill="#f5eeff"/><rect x="173.2" y="182.4" width="7.2" height="8.6" fill="#dec7ff"/><rect x="180.0" y="182.4" width="7.2" height="8.6" fill="#dec7ff"/><rect x="186.9" y="182.4" width="7.2" height="8.6" fill="#dec7ff"/><rect x="193.7" y="182.4" width="7.2" height="8.6" fill="#ccadff"/><rect x="125.2" y="190.7" width="7.2" height="8.6" fill="#dec7ff"/><rect x="132.1" y="190.7" width="7.2" height="8.6" fill="#ffdcd0"/><rect x="138.9" y="190.7" width="7.2" height="8.6" fill="#ffbfaa"/><rect x="145.8" y="190.7" width="7.2" height="8.6" fill="#f5eeff"/><rect x="152.6" y="190.7" width="7.2" height="8.6" fill="#dec7ff"/><rect x="159.5" y="190.7" width="7.2" height="8.6" fill="#ebdcff"/><rect x="166.3" y="190.7" width="7.2" height="8.6" fill="#ebdcff"/><rect x="173.2" y="190.7" width="7.2" height="8.6" fill="#dec7ff"/><rect x="180.0" y="190.7" width="7.2" height="8.6" fill="#f5eeff"/><rect x="186.9" y="190.7" width="7.2" height="8.6" fill="#dec7ff"/><rect x="193.7" y="190.7" width="7.2" height="8.6" fill="#dec7ff"/><rect x="125.2" y="201.3" width="7.2" height="8.6" fill="#ebdcff"/><rect x="132.1" y="201.3" width="7.2" height="8.6" fill="#ff7b5a"/><rect x="138.9" y="201.3" width="7.2" height="8.6" fill="#ffdcd0"/><rect x="145.8" y="201.3" width="7.2" height="8.6" fill="#fff2ee"/><rect x="152.6" y="201.3" width="7.2" height="8.6" fill="#f5eeff"/><rect x="159.5" y="201.3" width="7.2" height="8.6" fill="#747474"/><rect x="166.3" y="201.3" width="7.2" height="8.6" fill="#ffdcd0"/><rect x="173.2" y="201.3" width="7.2" height="8.6" fill="#f5eeff"/><rect x="180.0" y="201.3" width="7.2" height="8.6" fill="#f5eeff"/><rect x="186.9" y="201.3" width="7.2" height="8.6" fill="#f5eeff"/><rect x="193.7" y="201.3" width="7.2" height="8.6" fill="#ebdcff"/><rect x="125.2" y="209.6" width="7.2" height="8.6" fill="#f5eeff"/><rect x="132.1" y="209.6" width="7.2" height="8.6" fill="#fff2ee"/><rect x="138.9" y="209.6" width="7.2" height="8.6" fill="#ffdcd0"/><rect x="145.8" y="209.6" width="7.2" height="8.6" fill="#fcf9ff"/><rect x="152.6" y="209.6" width="7.2" height="8.6" fill="#f5eeff"/><rect x="159.5" y="209.6" width="7.2" height="8.6" fill="#747474"/><rect x="166.3" y="209.6" width="7.2" height="8.6" fill="#f5eeff"/><rect x="173.2" y="209.6" width="7.2" height="8.6" fill="#f5eeff"/><rect x="180.0" y="209.6" width="7.2" height="8.6" fill="#f5eeff"/><rect x="186.9" y="209.6" width="7.2" height="8.6" fill="#f5eeff"/><rect x="193.7" y="209.6" width="7.2" height="8.6" fill="#f5eeff"/><rect x="125.2" y="217.9" width="7.2" height="8.6" fill="#ebdcff"/><rect x="132.1" y="217.9" width="7.2" height="8.6" fill="#fcf9ff"/><rect x="138.9" y="217.9" width="7.2" height="8.6" fill="#ff7b5a"/><rect x="145.8" y="217.9" width="7.2" height="8.6" fill="#f5eeff"/><rect x="152.6" y="217.9" width="7.2" height="8.6" fill="#ebdcff"/><rect x="159.5" y="217.9" width="7.2" height="8.6" fill="#dec7ff"/><rect x="166.3" y="217.9" width="7.2" height="8.6" fill="#ebdcff"/><rect x="173.2" y="217.9" width="7.2" height="8.6" fill="#ebdcff"/><rect x="180.0" y="217.9" width="7.2" height="8.6" fill="#f5eeff"/><rect x="186.9" y="217.9" width="7.2" height="8.6" fill="#fcf9ff"/><rect x="193.7" y="217.9" width="7.2" height="8.6" fill="#ebdcff"/><rect x="125.2" y="226.1" width="7.2" height="8.6" fill="#b993ff"/><rect x="132.1" y="226.1" width="7.2" height="8.6" fill="#b993ff"/><rect x="138.9" y="226.1" width="7.2" height="8.6" fill="#ccadff"/><rect x="145.8" y="226.1" width="7.2" height="8.6" fill="#ffdcd0"/><rect x="152.6" y="226.1" width="7.2" height="8.6" fill="#ffbfaa"/><rect x="159.5" y="226.1" width="7.2" height="8.6" fill="#f5eeff"/><rect x="166.3" y="226.1" width="7.2" height="8.6" fill="#f5eeff"/><rect x="173.2" y="226.1" width="7.2" height="8.6" fill="#ebdcff"/><rect x="180.0" y="226.1" width="7.2" height="8.6" fill="#dec7ff"/><rect x="186.9" y="226.1" width="7.2" height="8.6" fill="#ebdcff"/><rect x="193.7" y="226.1" width="7.2" height="8.6" fill="#ebdcff"/><rect x="125.2" y="236.6" width="7.2" height="8.6" fill="#f5eeff"/><rect x="132.1" y="236.6" width="7.2" height="8.6" fill="#fff2ee"/><rect x="138.9" y="236.6" width="7.2" height="8.6" fill="#ff5232"/><rect x="145.8" y="236.6" width="7.2" height="8.6" fill="#ff5232"/><rect x="152.6" y="236.6" width="7.2" height="8.6" fill="#fff2ee"/><rect x="159.5" y="236.6" width="7.2" height="8.6" fill="#747474"/><rect x="166.3" y="236.6" width="7.2" height="8.6" fill="#f5eeff"/><rect x="173.2" y="236.6" width="7.2" height="8.6" fill="#dec7ff"/><rect x="180.0" y="236.6" width="7.2" height="8.6" fill="#ffdcd0"/><rect x="186.9" y="236.6" width="7.2" height="8.6" fill="#ebdcff"/><rect x="193.7" y="236.6" width="7.2" height="8.6" fill="#dec7ff"/><rect x="125.2" y="244.9" width="7.2" height="8.6" fill="#f5eeff"/><rect x="132.1" y="244.9" width="7.2" height="8.6" fill="#ffdcd0"/><rect x="138.9" y="244.9" width="7.2" height="8.6" fill="#ff0000"/><rect x="145.8" y="244.9" width="7.2" height="8.6" fill="#ffdcd0"/><rect x="152.6" y="244.9" width="7.2" height="8.6" fill="#f5eeff"/><rect x="159.5" y="244.9" width="7.2" height="8.6" fill="#747474"/><rect x="166.3" y="244.9" width="7.2" height="8.6" fill="#f5eeff"/><rect x="173.2" y="244.9" width="7.2" height="8.6" fill="#ebdcff"/><rect x="180.0" y="244.9" width="7.2" height="8.6" fill="#fff2ee"/><rect x="186.9" y="244.9" width="7.2" height="8.6" fill="#dec7ff"/><rect x="193.7" y="244.9" width="7.2" height="8.6" fill="#ebdcff"/><rect x="125.2" y="253.2" width="7.2" height="8.6" fill="#fff2ee"/><rect x="132.1" y="253.2" width="7.2" height="8.6" fill="#ff0000"/><rect x="138.9" y="253.2" width="7.2" height="8.6" fill="#fcf9ff"/><rect x="145.8" y="253.2" width="7.2" height="8.6" fill="#f5eeff"/><rect x="152.6" y="253.2" width="7.2" height="8.6" fill="#fff2ee"/><rect x="159.5" y="253.2" width="7.2" height="8.6" fill="#ebdcff"/><rect x="166.3" y="253.2" width="7.2" height="8.6" fill="#ebdcff"/><rect x="173.2" y="253.2" width="7.2" height="8.6" fill="#ebdcff"/><rect x="180.0" y="253.2" width="7.2" height="8.6" fill="#ebdcff"/><rect x="186.9" y="253.2" width="7.2" height="8.6" fill="#ebdcff"/><rect x="193.7" y="253.2" width="7.2" height="8.6" fill="#f5eeff"/><rect x="125.2" y="261.5" width="7.2" height="8.6" fill="#ff9e81"/><rect x="132.1" y="261.5" width="7.2" height="8.6" fill="#ff0000"/><rect x="138.9" y="261.5" width="7.2" height="8.6" fill="#ffdcd0"/><rect x="145.8" y="261.5" width="7.2" height="8.6" fill="#ffdcd0"/><rect x="152.6" y="261.5" width="7.2" height="8.6" fill="#ffbfaa"/><rect x="159.5" y="261.5" width="7.2" height="8.6" fill="#ffdcd0"/><rect x="166.3" y="261.5" width="7.2" height="8.6" fill="#ffdcd0"/><rect x="173.2" y="261.5" width="7.2" height="8.6" fill="#dec7ff"/><rect x="180.0" y="261.5" width="7.2" height="8.6" fill="#fff2ee"/><rect x="186.9" y="261.5" width="7.2" height="8.6" fill="#fff2ee"/><rect x="193.7" y="261.5" width="7.2" height="8.6" fill="#f5eeff"/><rect x="125.2" y="269.8" width="7.2" height="8.6" fill="#ffbfaa"/><rect x="132.1" y="269.8" width="7.2" height="8.6" fill="#ff0000"/><rect x="138.9" y="269.8" width="7.2" height="8.6" fill="#ffdcd0"/><rect x="145.8" y="269.8" width="7.2" height="8.6" fill="#fcf9ff"/><rect x="152.6" y="269.8" width="7.2" height="8.6" fill="#f5eeff"/><rect x="159.5" y="269.8" width="7.2" height="8.6" fill="#fcf9ff"/><rect x="166.3" y="269.8" width="7.2" height="8.6" fill="#dec7ff"/><rect x="173.2" y="269.8" width="7.2" height="8.6" fill="#ebdcff"/><rect x="180.0" y="269.8" width="7.2" height="8.6" fill="#dec7ff"/><rect x="186.9" y="269.8" width="7.2" height="8.6" fill="#dec7ff"/><rect x="193.7" y="269.8" width="7.2" height="8.6" fill="#dec7ff"/><rect x="125.2" y="280.3" width="7.2" height="8.6" fill="#ebdcff"/><rect x="132.1" y="280.3" width="7.2" height="8.6" fill="#dec7ff"/><rect x="138.9" y="280.3" width="7.2" height="8.6" fill="#ffdcd0"/><rect x="145.8" y="280.3" width="7.2" height="8.6" fill="#ffbfaa"/><rect x="152.6" y="280.3" width="7.2" height="8.6" fill="#ffbfaa"/><rect x="159.5" y="280.3" width="7.2" height="8.6" fill="#ebdcff"/><rect x="166.3" y="280.3" width="7.2" height="8.6" fill="#ffdcd0"/><rect x="173.2" y="280.3" width="7.2" height="8.6" fill="#ebdcff"/><rect x="180.0" y="280.3" width="7.2" height="8.6" fill="#f5eeff"/><rect x="186.9" y="280.3" width="7.2" height="8.6" fill="#f5eeff"/><rect x="193.7" y="280.3" width="7.2" height="8.6" fill="#ebdcff"/><rect x="125.2" y="288.6" width="7.2" height="8.6" fill="#ffbfaa"/><rect x="132.1" y="288.6" width="7.2" height="8.6" fill="#ffdcd0"/><rect x="138.9" y="288.6" width="7.2" height="8.6" fill="#fff2ee"/><rect x="145.8" y="288.6" width="7.2" height="8.6" fill="#ffbfaa"/><rect x="152.6" y="288.6" width="7.2" height="8.6" fill="#ffbfaa"/><rect x="159.5" y="288.6" width="7.2" height="8.6" fill="#ff9e81"/><rect x="166.3" y="288.6" width="7.2" height="8.6" fill="#ffdcd0"/><rect x="173.2" y="288.6" width="7.2" height="8.6" fill="#fcf9ff"/><rect x="180.0" y="288.6" width="7.2" height="8.6" fill="#fcf9ff"/><rect x="186.9" y="288.6" width="7.2" height="8.6" fill="#ccadff"/><rect x="193.7" y="288.6" width="7.2" height="8.6" fill="#f5eeff"/><rect x="125.2" y="296.8" width="7.2" height="8.6" fill="#ffdcd0"/><rect x="132.1" y="296.8" width="7.2" height="8.6" fill="#ff9e81"/><rect x="138.9" y="296.8" width="7.2" height="8.6" fill="#ebdcff"/><rect x="145.8" y="296.8" width="7.2" height="8.6" fill="#fff2ee"/><rect x="152.6" y="296.8" width="7.2" height="8.6" fill="#ff0000"/><rect x="159.5" y="296.8" width="7.2" height="8.6" fill="#ffbfaa"/><rect x="166.3" y="296.8" width="7.2" height="8.6" fill="#f5eeff"/><rect x="173.2" y="296.8" width="7.2" height="8.6" fill="#f5eeff"/><rect x="180.0" y="296.8" width="7.2" height="8.6" fill="#f5eeff"/><rect x="186.9" y="296.8" width="7.2" height="8.6" fill="#ffdcd0"/><rect x="193.7" y="296.8" width="7.2" height="8.6" fill="#f5eeff"/><rect x="125.2" y="305.1" width="7.2" height="8.6" fill="#ffdcd0"/><rect x="132.1" y="305.1" width="7.2" height="8.6" fill="#ff9e81"/><rect x="138.9" y="305.1" width="7.2" height="8.6" fill="#ffbfaa"/><rect x="145.8" y="305.1" width="7.2" height="8.6" fill="#ff9e81"/><rect x="152.6" y="305.1" width="7.2" height="8.6" fill="#ff9e81"/><rect x="159.5" y="305.1" width="7.2" height="8.6" fill="#ff9e81"/><rect x="166.3" y="305.1" width="7.2" height="8.6" fill="#ff7b5a"/><rect x="173.2" y="305.1" width="7.2" height="8.6" fill="#ffdcd0"/><rect x="180.0" y="305.1" width="7.2" height="8.6" fill="#ffbfaa"/><rect x="186.9" y="305.1" width="7.2" height="8.6" fill="#ffdcd0"/><rect x="193.7" y="305.1" width="7.2" height="8.6" fill="#fff2ee"/><rect x="125.2" y="313.3" width="7.2" height="8.6" fill="#fcf9ff"/><rect x="132.1" y="313.3" width="7.2" height="8.6" fill="#f5eeff"/><rect x="138.9" y="313.3" width="7.2" height="8.6" fill="#fcf9ff"/><rect x="145.8" y="313.3" width="7.2" height="8.6" fill="#ffdcd0"/><rect x="152.6" y="313.3" width="7.2" height="8.6" fill="#fcf9ff"/><rect x="159.5" y="313.3" width="7.2" height="8.6" fill="#ffbfaa"/><rect x="166.3" y="313.3" width="7.2" height="8.6" fill="#fcf9ff"/><rect x="173.2" y="313.3" width="7.2" height="8.6" fill="#fcf9ff"/><rect x="180.0" y="313.3" width="7.2" height="8.6" fill="#fff2ee"/><rect x="186.9" y="313.3" width="7.2" height="8.6" fill="#fcf9ff"/><rect x="193.7" y="313.3" width="7.2" height="8.6" fill="#fcf9ff"/><rect x="125.2" y="321.6" width="7.2" height="8.6" fill="#ebdcff"/><rect x="132.1" y="321.6" width="7.2" height="8.6" fill="#ffdcd0"/><rect x="138.9" y="321.6" width="7.2" height="8.6" fill="#f5eeff"/><rect x="145.8" y="321.6" width="7.2" height="8.6" fill="#ffbfaa"/><rect x="152.6" y="321.6" width="7.2" height="8.6" fill="#ff5232"/><rect x="159.5" y="321.6" width="7.2" height="8.6" fill="#ebdcff"/><rect x="166.3" y="321.6" width="7.2" height="8.6" fill="#f5eeff"/><rect x="173.2" y="321.6" width="7.2" height="8.6" fill="#dec7ff"/><rect x="180.0" y="321.6" width="7.2" height="8.6" fill="#f5eeff"/><rect x="186.9" y="321.6" width="7.2" height="8.6" fill="#f5eeff"/><rect x="193.7" y="321.6" width="7.2" height="8.6" fill="#f5eeff"/><rect x="125.2" y="329.8" width="7.2" height="8.6" fill="#ccadff"/><rect x="132.1" y="329.8" width="7.2" height="8.6" fill="#ffdcd0"/><rect x="138.9" y="329.8" width="7.2" height="8.6" fill="#b993ff"/><rect x="145.8" y="329.8" width="7.2" height="8.6" fill="#ff0000"/><rect x="152.6" y="329.8" width="7.2" height="8.6" fill="#ff7b5a"/><rect x="159.5" y="329.8" width="7.2" height="8.6" fill="#ffdcd0"/><rect x="166.3" y="329.8" width="7.2" height="8.6" fill="#ebdcff"/><rect x="173.2" y="329.8" width="7.2" height="8.6" fill="#ccadff"/><rect x="180.0" y="329.8" width="7.2" height="8.6" fill="#ebdcff"/><rect x="186.9" y="329.8" width="7.2" height="8.6" fill="#ccadff"/><rect x="193.7" y="329.8" width="7.2" height="8.6" fill="#9c71ff"/></g>
<rect x="125.20" y="60.30" width="75.40" height="16.00" fill="none" stroke="#333" stroke-width="1"/>
<rect x="125.20" y="78.50" width="75.40" height="49.90" fill="none" stroke="#333" stroke-width="1"/>
<rect x="125.20" y="130.70" width="75.40" height="24.50" fill="none" stroke="#333" stroke-width="1"/>
<rect x="125.20" y="157.60" width="75.40" height="41.40" fill="none" stroke="#333" stroke-width="1"/>
<rect x="125.20" y="201.30" width="75.40" height="33.10" fill="none" stroke="#333" stroke-width="1"/>
<rect x="125.20" y="236.60" width="75.40" height="41.50" fill="none" stroke="#333" stroke-width="1"/>
<rect x="125.20" y="280.30" width="75.40" height="57.80" fill="none" stroke="#333" stroke-width="1"/>
<text transform="translate(132.03,340.6) rotate(-90)" font-size="6.8" text-anchor="end">06</text>
<text transform="translate(138.88,340.6) rotate(-90)" font-size="6.8" text-anchor="end">16</text>
<text transform="translate(145.74,340.6) rotate(-90)" font-size="6.8" text-anchor="end">13</text>
<text transform="translate(152.59,340.6) rotate(-90)" font-size="6.8" text-anchor="end">08</text>
<text transform="translate(159.45,340.6) rotate(-90)" font-size="6.8" text-anchor="end">04</text>
<text transform="translate(166.30,340.6) rotate(-90)" font-size="6.8" text-anchor="end">11</text>
<text transform="translate(173.15,340.6) rotate(-90)" font-size="6.8" text-anchor="end">*09</text>
<text transform="translate(180.01,340.6) rotate(-90)" font-size="6.8" text-anchor="end">10</text>
<text transform="translate(186.86,340.6) rotate(-90)" font-size="6.8" text-anchor="end">*12</text>
<text transform="translate(193.72,340.6) rotate(-90)" font-size="6.8" text-anchor="end">05</text>
<text transform="translate(200.57,340.6) rotate(-90)" font-size="6.8" text-anchor="end">07</text>
<text x="245.2" y="14.8" class="b" font-size="9.3" text-anchor="middle">6M</text>
<path d="M240.82,45.60V40.60H247.60V45.60M244.21,40.60V40.00H254.38V45.60M249.30,40.00V39.70H261.17V45.60M234.03,45.60V37.30H255.23V39.70M244.63,37.30V36.00H267.95V45.60M227.25,45.60V31.50H256.29V36.00M274.74,45.60V36.10H281.52V45.60M241.77,31.50V31.20H278.13V36.10M220.46,45.60V31.00H259.95V31.20M213.68,45.60V29.70H240.21V31.00M206.89,45.60V27.40H226.94V29.70M216.92,27.40V25.10H288.31V45.60" fill="none" stroke="#222" stroke-width="0.8"/>
<rect x="203.50" y="46.1" width="88.20" height="11.4" fill="#7fcdbb" stroke="#2a2a2a" stroke-width="1"/>
<g shape-rendering="crispEdges"><rect x="203.5" y="60.3" width="7.1" height="8.3" fill="#f5eeff"/><rect x="210.3" y="60.3" width="7.1" height="8.3" fill="#f5eeff"/><rect x="217.1" y="60.3" width="7.1" height="8.3" fill="#f5eeff"/><rect x="223.9" y="60.3" width="7.1" height="8.3" fill="#f5eeff"/><rect x="230.6" y="60.3" width="7.1" height="8.3" fill="#ebdcff"/><rect x="237.4" y="60.3" width="7.1" height="8.3" fill="#f5eeff"/><rect x="244.2" y="60.3" width="7.1" height="8.3" fill="#f5eeff"/><rect x="251.0" y="60.3" width="7.1" height="8.3" fill="#ebdcff"/><rect x="257.8" y="60.3" width="7.1" height="8.3" fill="#ebdcff"/><rect x="264.6" y="60.3" width="7.1" height="8.3" fill="#ffbfaa"/><rect x="271.3" y="60.3" width="7.1" height="8.3" fill="#f5eeff"/><rect x="278.1" y="60.3" width="7.1" height="8.3" fill="#f5eeff"/><rect x="284.9" y="60.3" width="7.1" height="8.3" fill="#fff2ee"/><rect x="203.5" y="68.3" width="7.1" height="8.3" fill="#ebdcff"/><rect x="210.3" y="68.3" width="7.1" height="8.3" fill="#fff2ee"/><rect x="217.1" y="68.3" width="7.1" height="8.3" fill="#ebdcff"/><rect x="223.9" y="68.3" width="7.1" height="8.3" fill="#f5eeff"/><rect x="230.6" y="68.3" width="7.1" height="8.3" fill="#ffbfaa"/><rect x="237.4" y="68.3" width="7.1" height="8.3" fill="#ffdcd0"/><rect x="244.2" y="68.3" width="7.1" height="8.3" fill="#dec7ff"/><rect x="251.0" y="68.3" width="7.1" height="8.3" fill="#ffdcd0"/><rect x="257.8" y="68.3" width="7.1" height="8.3" fill="#ebdcff"/><rect x="264.6" y="68.3" width="7.1" height="8.3" fill="#ff0000"/><rect x="271.3" y="68.3" width="7.1" height="8.3" fill="#dec7ff"/><rect x="278.1" y="68.3" width="7.1" height="8.3" fill="#ccadff"/><rect x="284.9" y="68.3" width="7.1" height="8.3" fill="#ccadff"/><rect x="203.5" y="78.5" width="7.1" height="8.6" fill="#ffbfaa"/><rect x="210.3" y="78.5" width="7.1" height="8.6" fill="#ebdcff"/><rect x="217.1" y="78.5" width="7.1" height="8.6" fill="#dec7ff"/><rect x="223.9" y="78.5" width="7.1" height="8.6" fill="#ffdcd0"/><rect x="230.6" y="78.5" width="7.1" height="8.6" fill="#ebdcff"/><rect x="237.4" y="78.5" width="7.1" height="8.6" fill="#ebdcff"/><rect x="244.2" y="78.5" width="7.1" height="8.6" fill="#ebdcff"/><rect x="251.0" y="78.5" width="7.1" height="8.6" fill="#f5eeff"/><rect x="257.8" y="78.5" width="7.1" height="8.6" fill="#fff2ee"/><rect x="264.6" y="78.5" width="7.1" height="8.6" fill="#ebdcff"/><rect x="271.3" y="78.5" width="7.1" height="8.6" fill="#ebdcff"/><rect x="278.1" y="78.5" width="7.1" height="8.6" fill="#ffdcd0"/><rect x="284.9" y="78.5" width="7.1" height="8.6" fill="#fcf9ff"/><rect x="203.5" y="86.8" width="7.1" height="8.6" fill="#ebdcff"/><rect x="210.3" y="86.8" width="7.1" height="8.6" fill="#ebdcff"/><rect x="217.1" y="86.8" width="7.1" height="8.6" fill="#ebdcff"/><rect x="223.9" y="86.8" width="7.1" height="8.6" fill="#ebdcff"/><rect x="230.6" y="86.8" width="7.1" height="8.6" fill="#ebdcff"/><rect x="237.4" y="86.8" width="7.1" height="8.6" fill="#f5eeff"/><rect x="244.2" y="86.8" width="7.1" height="8.6" fill="#ebdcff"/><rect x="251.0" y="86.8" width="7.1" height="8.6" fill="#ffdcd0"/><rect x="257.8" y="86.8" width="7.1" height="8.6" fill="#ebdcff"/><rect x="264.6" y="86.8" width="7.1" height="8.6" fill="#ebdcff"/><rect x="271.3" y="86.8" width="7.1" height="8.6" fill="#ebdcff"/><rect x="278.1" y="86.8" width="7.1" height="8.6" fill="#ffdcd0"/><rect x="284.9" y="86.8" width="7.1" height="8.6" fill="#ff9e81"/><rect x="203.5" y="95.1" width="7.1" height="8.6" fill="#ff0000"/><rect x="210.3" y="95.1" width="7.1" height="8.6" fill="#f5eeff"/><rect x="217.1" y="95.1" width="7.1" height="8.6" fill="#f5eeff"/><rect x="223.9" y="95.1" width="7.1" height="8.6" fill="#ff0000"/><rect x="230.6" y="95.1" width="7.1" height="8.6" fill="#ffdcd0"/><rect x="237.4" y="95.1" width="7.1" height="8.6" fill="#f5eeff"/><rect x="244.2" y="95.1" width="7.1" height="8.6" fill="#ebdcff"/><rect x="251.0" y="95.1" width="7.1" height="8.6" fill="#fff2ee"/><rect x="257.8" y="95.1" width="7.1" height="8.6" fill="#ebdcff"/><rect x="264.6" y="95.1" width="7.1" height="8.6" fill="#ebdcff"/><rect x="271.3" y="95.1" width="7.1" height="8.6" fill="#f5eeff"/><rect x="278.1" y="95.1" width="7.1" height="8.6" fill="#ff7b5a"/><rect x="284.9" y="95.1" width="7.1" height="8.6" fill="#ff5232"/><rect x="203.5" y="103.5" width="7.1" height="8.6" fill="#ff5232"/><rect x="210.3" y="103.5" width="7.1" height="8.6" fill="#ebdcff"/><rect x="217.1" y="103.5" width="7.1" height="8.6" fill="#ebdcff"/><rect x="223.9" y="103.5" width="7.1" height="8.6" fill="#fff2ee"/><rect x="230.6" y="103.5" width="7.1" height="8.6" fill="#fcf9ff"/><rect x="237.4" y="103.5" width="7.1" height="8.6" fill="#ffdcd0"/><rect x="244.2" y="103.5" width="7.1" height="8.6" fill="#fcf9ff"/><rect x="251.0" y="103.5" width="7.1" height="8.6" fill="#dec7ff"/><rect x="257.8" y="103.5" width="7.1" height="8.6" fill="#f5eeff"/><rect x="264.6" y="103.5" width="7.1" height="8.6" fill="#ebdcff"/><rect x="271.3" y="103.5" width="7.1" height="8.6" fill="#ffdcd0"/><rect x="278.1" y="103.5" width="7.1" height="8.6" fill="#dec7ff"/><rect x="284.9" y="103.5" width="7.1" height="8.6" fill="#ff0000"/><rect x="203.5" y="111.8" width="7.1" height="8.6" fill="#ffbfaa"/><rect x="210.3" y="111.8" width="7.1" height="8.6" fill="#fcf9ff"/><rect x="217.1" y="111.8" width="7.1" height="8.6" fill="#f5eeff"/><rect x="223.9" y="111.8" width="7.1" height="8.6" fill="#ffdcd0"/><rect x="230.6" y="111.8" width="7.1" height="8.6" fill="#fcf9ff"/><rect x="237.4" y="111.8" width="7.1" height="8.6" fill="#ffbfaa"/><rect x="244.2" y="111.8" width="7.1" height="8.6" fill="#fcf9ff"/><rect x="251.0" y="111.8" width="7.1" height="8.6" fill="#f5eeff"/><rect x="257.8" y="111.8" width="7.1" height="8.6" fill="#f5eeff"/><rect x="264.6" y="111.8" width="7.1" height="8.6" fill="#f5eeff"/><rect x="271.3" y="111.8" width="7.1" height="8.6" fill="#f5eeff"/><rect x="278.1" y="111.8" width="7.1" height="8.6" fill="#f5eeff"/><rect x="284.9" y="111.8" width="7.1" height="8.6" fill="#ff0000"/><rect x="203.5" y="120.1" width="7.1" height="8.6" fill="#ffbfaa"/><rect x="210.3" y="120.1" width="7.1" height="8.6" fill="#f5eeff"/><rect x="217.1" y="120.1" width="7.1" height="8.6" fill="#f5eeff"/><rect x="223.9" y="120.1" width="7.1" height="8.6" fill="#f5eeff"/><rect x="230.6" y="120.1" width="7.1" height="8.6" fill="#f5eeff"/><rect x="237.4" y="120.1" width="7.1" height="8.6" fill="#ffbfaa"/><rect x="244.2" y="120.1" width="7.1" height="8.6" fill="#f5eeff"/><rect x="251.0" y="120.1" width="7.1" height="8.6" fill="#f5eeff"/><rect x="257.8" y="120.1" width="7.1" height="8.6" fill="#f5eeff"/><rect x="264.6" y="120.1" width="7.1" height="8.6" fill="#f5eeff"/><rect x="271.3" y="120.1" width="7.1" height="8.6" fill="#f5eeff"/><rect x="278.1" y="120.1" width="7.1" height="8.6" fill="#f5eeff"/><rect x="284.9" y="120.1" width="7.1" height="8.6" fill="#ff0000"/><rect x="203.5" y="130.7" width="7.1" height="8.5" fill="#f5eeff"/><rect x="210.3" y="130.7" width="7.1" height="8.5" fill="#ffdcd0"/><rect x="217.1" y="130.7" width="7.1" height="8.5" fill="#ff0000"/><rect x="223.9" y="130.7" width="7.1" height="8.5" fill="#ebdcff"/><rect x="230.6" y="130.7" width="7.1" height="8.5" fill="#fcf9ff"/><rect x="237.4" y="130.7" width="7.1" height="8.5" fill="#ebdcff"/><rect x="244.2" y="130.7" width="7.1" height="8.5" fill="#ffbfaa"/><rect x="251.0" y="130.7" width="7.1" height="8.5" fill="#ebdcff"/><rect x="257.8" y="130.7" width="7.1" height="8.5" fill="#ebdcff"/><rect x="264.6" y="130.7" width="7.1" height="8.5" fill="#dec7ff"/><rect x="271.3" y="130.7" width="7.1" height="8.5" fill="#ffdcd0"/><rect x="278.1" y="130.7" width="7.1" height="8.5" fill="#dec7ff"/><rect x="284.9" y="130.7" width="7.1" height="8.5" fill="#ff7b5a"/><rect x="203.5" y="138.9" width="7.1" height="8.5" fill="#ffdcd0"/><rect x="210.3" y="138.9" width="7.1" height="8.5" fill="#ebdcff"/><rect x="217.1" y="138.9" width="7.1" height="8.5" fill="#ff7b5a"/><rect x="223.9" y="138.9" width="7.1" height="8.5" fill="#fff2ee"/><rect x="230.6" y="138.9" width="7.1" height="8.5" fill="#ffbfaa"/><rect x="237.4" y="138.9" width="7.1" height="8.5" fill="#ebdcff"/><rect x="244.2" y="138.9" width="7.1" height="8.5" fill="#ebdcff"/><rect x="251.0" y="138.9" width="7.1" height="8.5" fill="#f5eeff"/><rect x="257.8" y="138.9" width="7.1" height="8.5" fill="#ebdcff"/><rect x="264.6" y="138.9" width="7.1" height="8.5" fill="#dec7ff"/><rect x="271.3" y="138.9" width="7.1" height="8.5" fill="#ffdcd0"/><rect x="278.1" y="138.9" width="7.1" height="8.5" fill="#ccadff"/><rect x="284.9" y="138.9" width="7.1" height="8.5" fill="#b993ff"/><rect x="203.5" y="147.0" width="7.1" height="8.5" fill="#f5eeff"/><rect x="210.3" y="147.0" width="7.1" height="8.5" fill="#ffdcd0"/><rect x="217.1" y="147.0" width="7.1" height="8.5" fill="#ff5232"/><rect x="223.9" y="147.0" width="7.1" height="8.5" fill="#ffdcd0"/><rect x="230.6" y="147.0" width="7.1" height="8.5" fill="#ff5232"/><rect x="237.4" y="147.0" width="7.1" height="8.5" fill="#f5eeff"/><rect x="244.2" y="147.0" width="7.1" height="8.5" fill="#ebdcff"/><rect x="251.0" y="147.0" width="7.1" height="8.5" fill="#dec7ff"/><rect x="257.8" y="147.0" width="7.1" height="8.5" fill="#ebdcff"/><rect x="264.6" y="147.0" width="7.1" height="8.5" fill="#ebdcff"/><rect x="271.3" y="147.0" width="7.1" height="8.5" fill="#fcf9ff"/><rect x="278.1" y="147.0" width="7.1" height="8.5" fill="#b993ff"/><rect x="284.9" y="147.0" width="7.1" height="8.5" fill="#ccadff"/><rect x="203.5" y="157.6" width="7.1" height="8.6" fill="#ffdcd0"/><rect x="210.3" y="157.6" width="7.1" height="8.6" fill="#ff0000"/><rect x="217.1" y="157.6" width="7.1" height="8.6" fill="#f5eeff"/><rect x="223.9" y="157.6" width="7.1" height="8.6" fill="#ebdcff"/><rect x="230.6" y="157.6" width="7.1" height="8.6" fill="#ffdcd0"/><rect x="237.4" y="157.6" width="7.1" height="8.6" fill="#ffdcd0"/><rect x="244.2" y="157.6" width="7.1" height="8.6" fill="#ebdcff"/><rect x="251.0" y="157.6" width="7.1" height="8.6" fill="#dec7ff"/><rect x="257.8" y="157.6" width="7.1" height="8.6" fill="#dec7ff"/><rect x="264.6" y="157.6" width="7.1" height="8.6" fill="#dec7ff"/><rect x="271.3" y="157.6" width="7.1" height="8.6" fill="#ebdcff"/><rect x="278.1" y="157.6" width="7.1" height="8.6" fill="#ebdcff"/><rect x="284.9" y="157.6" width="7.1" height="8.6" fill="#ffdcd0"/><rect x="203.5" y="165.9" width="7.1" height="8.6" fill="#f5eeff"/><rect x="210.3" y="165.9" width="7.1" height="8.6" fill="#ff0000"/><rect x="217.1" y="165.9" width="7.1" height="8.6" fill="#ebdcff"/><rect x="223.9" y="165.9" width="7.1" height="8.6" fill="#ff9e81"/><rect x="230.6" y="165.9" width="7.1" height="8.6" fill="#ebdcff"/><rect x="237.4" y="165.9" width="7.1" height="8.6" fill="#fff2ee"/><rect x="244.2" y="165.9" width="7.1" height="8.6" fill="#f5eeff"/><rect x="251.0" y="165.9" width="7.1" height="8.6" fill="#ebdcff"/><rect x="257.8" y="165.9" width="7.1" height="8.6" fill="#f5eeff"/><rect x="264.6" y="165.9" width="7.1" height="8.6" fill="#ffdcd0"/><rect x="271.3" y="165.9" width="7.1" height="8.6" fill="#ebdcff"/><rect x="278.1" y="165.9" width="7.1" height="8.6" fill="#dec7ff"/><rect x="284.9" y="165.9" width="7.1" height="8.6" fill="#dec7ff"/><rect x="203.5" y="174.2" width="7.1" height="8.6" fill="#f5eeff"/><rect x="210.3" y="174.2" width="7.1" height="8.6" fill="#ffdcd0"/><rect x="217.1" y="174.2" width="7.1" height="8.6" fill="#dec7ff"/><rect x="223.9" y="174.2" width="7.1" height="8.6" fill="#f5eeff"/><rect x="230.6" y="174.2" width="7.1" height="8.6" fill="#fff2ee"/><rect x="237.4" y="174.2" width="7.1" height="8.6" fill="#dec7ff"/><rect x="244.2" y="174.2" width="7.1" height="8.6" fill="#ebdcff"/><rect x="251.0" y="174.2" width="7.1" height="8.6" fill="#ebdcff"/><rect x="257.8" y="174.2" width="7.1" height="8.6" fill="#fcf9ff"/><rect x="264.6" y="174.2" width="7.1" height="8.6" fill="#ffbfaa"/><rect x="271.3" y="174.2" width="7.1" height="8.6" fill="#ffdcd0"/><rect x="278.1" y="174.2" width="7.1" height="8.6" fill="#b993ff"/><rect x="284.9" y="174.2" width="7.1" height="8.6" fill="#ccadff"/><rect x="203.5" y="182.4" width="7.1" height="8.6" fill="#ffbfaa"/><rect x="210.3" y="182.4" width="7.1" height="8.6" fill="#ffdcd0"/><rect x="217.1" y="182.4" width="7.1" height="8.6" fill="#ebdcff"/><rect x="223.9" y="182.4" width="7.1" height="8.6" fill="#f5eeff"/><rect x="230.6" y="182.4" width="7.1" height="8.6" fill="#dec7ff"/><rect x="237.4" y="182.4" width="7.1" height="8.6" fill="#f5eeff"/><rect x="244.2" y="182.4" width="7.1" height="8.6" fill="#ffdcd0"/><rect x="251.0" y="182.4" width="7.1" height="8.6" fill="#ebdcff"/><rect x="257.8" y="182.4" width="7.1" height="8.6" fill="#fff2ee"/><rect x="264.6" y="182.4" width="7.1" height="8.6" fill="#dec7ff"/><rect x="271.3" y="182.4" width="7.1" height="8.6" fill="#ffbfaa"/><rect x="278.1" y="182.4" width="7.1" height="8.6" fill="#fcf9ff"/><rect x="284.9" y="182.4" width="7.1" height="8.6" fill="#fff2ee"/><rect x="203.5" y="190.7" width="7.1" height="8.6" fill="#ff3118"/><rect x="210.3" y="190.7" width="7.1" height="8.6" fill="#ffbfaa"/><rect x="217.1" y="190.7" width="7.1" height="8.6" fill="#ffdcd0"/><rect x="223.9" y="190.7" width="7.1" height="8.6" fill="#ffdcd0"/><rect x="230.6" y="190.7" width="7.1" height="8.6" fill="#f5eeff"/><rect x="237.4" y="190.7" width="7.1" height="8.6" fill="#ffdcd0"/><rect x="244.2" y="190.7" width="7.1" height="8.6" fill="#fcf9ff"/><rect x="251.0" y="190.7" width="7.1" height="8.6" fill="#dec7ff"/><rect x="257.8" y="190.7" width="7.1" height="8.6" fill="#f5eeff"/><rect x="264.6" y="190.7" width="7.1" height="8.6" fill="#ebdcff"/><rect x="271.3" y="190.7" width="7.1" height="8.6" fill="#ffdcd0"/><rect x="278.1" y="190.7" width="7.1" height="8.6" fill="#dec7ff"/><rect x="284.9" y="190.7" width="7.1" height="8.6" fill="#ebdcff"/><rect x="203.5" y="201.3" width="7.1" height="8.6" fill="#ff7b5a"/><rect x="210.3" y="201.3" width="7.1" height="8.6" fill="#ffdcd0"/><rect x="217.1" y="201.3" width="7.1" height="8.6" fill="#ebdcff"/><rect x="223.9" y="201.3" width="7.1" height="8.6" fill="#ebdcff"/><rect x="230.6" y="201.3" width="7.1" height="8.6" fill="#ebdcff"/><rect x="237.4" y="201.3" width="7.1" height="8.6" fill="#f5eeff"/><rect x="244.2" y="201.3" width="7.1" height="8.6" fill="#f5eeff"/><rect x="251.0" y="201.3" width="7.1" height="8.6" fill="#ebdcff"/><rect x="257.8" y="201.3" width="7.1" height="8.6" fill="#ebdcff"/><rect x="264.6" y="201.3" width="7.1" height="8.6" fill="#fcf9ff"/><rect x="271.3" y="201.3" width="7.1" height="8.6" fill="#ebdcff"/><rect x="278.1" y="201.3" width="7.1" height="8.6" fill="#fff2ee"/><rect x="284.9" y="201.3" width="7.1" height="8.6" fill="#ebdcff"/><rect x="203.5" y="209.6" width="7.1" height="8.6" fill="#ffdcd0"/><rect x="210.3" y="209.6" width="7.1" height="8.6" fill="#f5eeff"/><rect x="217.1" y="209.6" width="7.1" height="8.6" fill="#f5eeff"/><rect x="223.9" y="209.6" width="7.1" height="8.6" fill="#f5eeff"/><rect x="230.6" y="209.6" width="7.1" height="8.6" fill="#f5eeff"/><rect x="237.4" y="209.6" width="7.1" height="8.6" fill="#f5eeff"/><rect x="244.2" y="209.6" width="7.1" height="8.6" fill="#f5eeff"/><rect x="251.0" y="209.6" width="7.1" height="8.6" fill="#f5eeff"/><rect x="257.8" y="209.6" width="7.1" height="8.6" fill="#f5eeff"/><rect x="264.6" y="209.6" width="7.1" height="8.6" fill="#f5eeff"/><rect x="271.3" y="209.6" width="7.1" height="8.6" fill="#f5eeff"/><rect x="278.1" y="209.6" width="7.1" height="8.6" fill="#fff2ee"/><rect x="284.9" y="209.6" width="7.1" height="8.6" fill="#f5eeff"/><rect x="203.5" y="217.9" width="7.1" height="8.6" fill="#ffdcd0"/><rect x="210.3" y="217.9" width="7.1" height="8.6" fill="#ffbfaa"/><rect x="217.1" y="217.9" width="7.1" height="8.6" fill="#fff2ee"/><rect x="223.9" y="217.9" width="7.1" height="8.6" fill="#f5eeff"/><rect x="230.6" y="217.9" width="7.1" height="8.6" fill="#ebdcff"/><rect x="237.4" y="217.9" width="7.1" height="8.6" fill="#fff2ee"/><rect x="244.2" y="217.9" width="7.1" height="8.6" fill="#fff2ee"/><rect x="251.0" y="217.9" width="7.1" height="8.6" fill="#ebdcff"/><rect x="257.8" y="217.9" width="7.1" height="8.6" fill="#fcf9ff"/><rect x="264.6" y="217.9" width="7.1" height="8.6" fill="#ebdcff"/><rect x="271.3" y="217.9" width="7.1" height="8.6" fill="#ff0000"/><rect x="278.1" y="217.9" width="7.1" height="8.6" fill="#ff0000"/><rect x="284.9" y="217.9" width="7.1" height="8.6" fill="#f5eeff"/><rect x="203.5" y="226.1" width="7.1" height="8.6" fill="#ff0000"/><rect x="210.3" y="226.1" width="7.1" height="8.6" fill="#ffdcd0"/><rect x="217.1" y="226.1" width="7.1" height="8.6" fill="#ff9e81"/><rect x="223.9" y="226.1" width="7.1" height="8.6" fill="#ffdcd0"/><rect x="230.6" y="226.1" width="7.1" height="8.6" fill="#ccadff"/><rect x="237.4" y="226.1" width="7.1" height="8.6" fill="#f5eeff"/><rect x="244.2" y="226.1" width="7.1" height="8.6" fill="#fff2ee"/><rect x="251.0" y="226.1" width="7.1" height="8.6" fill="#fcf9ff"/><rect x="257.8" y="226.1" width="7.1" height="8.6" fill="#ffbfaa"/><rect x="264.6" y="226.1" width="7.1" height="8.6" fill="#ebdcff"/><rect x="271.3" y="226.1" width="7.1" height="8.6" fill="#ff9e81"/><rect x="278.1" y="226.1" width="7.1" height="8.6" fill="#ff0000"/><rect x="284.9" y="226.1" width="7.1" height="8.6" fill="#dec7ff"/><rect x="203.5" y="236.6" width="7.1" height="8.6" fill="#ff7b5a"/><rect x="210.3" y="236.6" width="7.1" height="8.6" fill="#ffdcd0"/><rect x="217.1" y="236.6" width="7.1" height="8.6" fill="#ebdcff"/><rect x="223.9" y="236.6" width="7.1" height="8.6" fill="#fff2ee"/><rect x="230.6" y="236.6" width="7.1" height="8.6" fill="#ebdcff"/><rect x="237.4" y="236.6" width="7.1" height="8.6" fill="#ebdcff"/><rect x="244.2" y="236.6" width="7.1" height="8.6" fill="#ebdcff"/><rect x="251.0" y="236.6" width="7.1" height="8.6" fill="#ebdcff"/><rect x="257.8" y="236.6" width="7.1" height="8.6" fill="#ffbfaa"/><rect x="264.6" y="236.6" width="7.1" height="8.6" fill="#f5eeff"/><rect x="271.3" y="236.6" width="7.1" height="8.6" fill="#dec7ff"/><rect x="278.1" y="236.6" width="7.1" height="8.6" fill="#dec7ff"/><rect x="284.9" y="236.6" width="7.1" height="8.6" fill="#ebdcff"/><rect x="203.5" y="244.9" width="7.1" height="8.6" fill="#ff5232"/><rect x="210.3" y="244.9" width="7.1" height="8.6" fill="#ffdcd0"/><rect x="217.1" y="244.9" width="7.1" height="8.6" fill="#ebdcff"/><rect x="223.9" y="244.9" width="7.1" height="8.6" fill="#fff2ee"/><rect x="230.6" y="244.9" width="7.1" height="8.6" fill="#dec7ff"/><rect x="237.4" y="244.9" width="7.1" height="8.6" fill="#f5eeff"/><rect x="244.2" y="244.9" width="7.1" height="8.6" fill="#f5eeff"/><rect x="251.0" y="244.9" width="7.1" height="8.6" fill="#ebdcff"/><rect x="257.8" y="244.9" width="7.1" height="8.6" fill="#ffbfaa"/><rect x="264.6" y="244.9" width="7.1" height="8.6" fill="#dec7ff"/><rect x="271.3" y="244.9" width="7.1" height="8.6" fill="#dec7ff"/><rect x="278.1" y="244.9" width="7.1" height="8.6" fill="#dec7ff"/><rect x="284.9" y="244.9" width="7.1" height="8.6" fill="#ebdcff"/><rect x="203.5" y="253.2" width="7.1" height="8.6" fill="#ff0000"/><rect x="210.3" y="253.2" width="7.1" height="8.6" fill="#fff2ee"/><rect x="217.1" y="253.2" width="7.1" height="8.6" fill="#ffdcd0"/><rect x="223.9" y="253.2" width="7.1" height="8.6" fill="#ebdcff"/><rect x="230.6" y="253.2" width="7.1" height="8.6" fill="#ebdcff"/><rect x="237.4" y="253.2" width="7.1" height="8.6" fill="#ebdcff"/><rect x="244.2" y="253.2" width="7.1" height="8.6" fill="#f5eeff"/><rect x="251.0" y="253.2" width="7.1" height="8.6" fill="#ebdcff"/><rect x="257.8" y="253.2" width="7.1" height="8.6" fill="#f5eeff"/><rect x="264.6" y="253.2" width="7.1" height="8.6" fill="#f5eeff"/><rect x="271.3" y="253.2" width="7.1" height="8.6" fill="#fff2ee"/><rect x="278.1" y="253.2" width="7.1" height="8.6" fill="#f5eeff"/><rect x="284.9" y="253.2" width="7.1" height="8.6" fill="#fcf9ff"/><rect x="203.5" y="261.5" width="7.1" height="8.6" fill="#ffdcd0"/><rect x="210.3" y="261.5" width="7.1" height="8.6" fill="#fcf9ff"/><rect x="217.1" y="261.5" width="7.1" height="8.6" fill="#f5eeff"/><rect x="223.9" y="261.5" width="7.1" height="8.6" fill="#ebdcff"/><rect x="230.6" y="261.5" width="7.1" height="8.6" fill="#ccadff"/><rect x="237.4" y="261.5" width="7.1" height="8.6" fill="#fcf9ff"/><rect x="244.2" y="261.5" width="7.1" height="8.6" fill="#ebdcff"/><rect x="251.0" y="261.5" width="7.1" height="8.6" fill="#dec7ff"/><rect x="257.8" y="261.5" width="7.1" height="8.6" fill="#ebdcff"/><rect x="264.6" y="261.5" width="7.1" height="8.6" fill="#dec7ff"/><rect x="271.3" y="261.5" width="7.1" height="8.6" fill="#dec7ff"/><rect x="278.1" y="261.5" width="7.1" height="8.6" fill="#dec7ff"/><rect x="284.9" y="261.5" width="7.1" height="8.6" fill="#ff5232"/><rect x="203.5" y="269.8" width="7.1" height="8.6" fill="#ff9e81"/><rect x="210.3" y="269.8" width="7.1" height="8.6" fill="#ff9e81"/><rect x="217.1" y="269.8" width="7.1" height="8.6" fill="#f5eeff"/><rect x="223.9" y="269.8" width="7.1" height="8.6" fill="#ebdcff"/><rect x="230.6" y="269.8" width="7.1" height="8.6" fill="#dec7ff"/><rect x="237.4" y="269.8" width="7.1" height="8.6" fill="#fff2ee"/><rect x="244.2" y="269.8" width="7.1" height="8.6" fill="#f5eeff"/><rect x="251.0" y="269.8" width="7.1" height="8.6" fill="#ebdcff"/><rect x="257.8" y="269.8" width="7.1" height="8.6" fill="#dec7ff"/><rect x="264.6" y="269.8" width="7.1" height="8.6" fill="#dec7ff"/><rect x="271.3" y="269.8" width="7.1" height="8.6" fill="#ebdcff"/><rect x="278.1" y="269.8" width="7.1" height="8.6" fill="#dec7ff"/><rect x="284.9" y="269.8" width="7.1" height="8.6" fill="#ff9e81"/><rect x="203.5" y="280.3" width="7.1" height="8.6" fill="#ccadff"/><rect x="210.3" y="280.3" width="7.1" height="8.6" fill="#fff2ee"/><rect x="217.1" y="280.3" width="7.1" height="8.6" fill="#ccadff"/><rect x="223.9" y="280.3" width="7.1" height="8.6" fill="#fff2ee"/><rect x="230.6" y="280.3" width="7.1" height="8.6" fill="#ffbfaa"/><rect x="237.4" y="280.3" width="7.1" height="8.6" fill="#f5eeff"/><rect x="244.2" y="280.3" width="7.1" height="8.6" fill="#dec7ff"/><rect x="251.0" y="280.3" width="7.1" height="8.6" fill="#ebdcff"/><rect x="257.8" y="280.3" width="7.1" height="8.6" fill="#fff2ee"/><rect x="264.6" y="280.3" width="7.1" height="8.6" fill="#fcf9ff"/><rect x="271.3" y="280.3" width="7.1" height="8.6" fill="#fcf9ff"/><rect x="278.1" y="280.3" width="7.1" height="8.6" fill="#dec7ff"/><rect x="284.9" y="280.3" width="7.1" height="8.6" fill="#f5eeff"/><rect x="203.5" y="288.6" width="7.1" height="8.6" fill="#ff9e81"/><rect x="210.3" y="288.6" width="7.1" height="8.6" fill="#ff9e81"/><rect x="217.1" y="288.6" width="7.1" height="8.6" fill="#fff2ee"/><rect x="223.9" y="288.6" width="7.1" height="8.6" fill="#ff7b5a"/><rect x="230.6" y="288.6" width="7.1" height="8.6" fill="#ffbfaa"/><rect x="237.4" y="288.6" width="7.1" height="8.6" fill="#fcf9ff"/><rect x="244.2" y="288.6" width="7.1" height="8.6" fill="#ebdcff"/><rect x="251.0" y="288.6" width="7.1" height="8.6" fill="#f5eeff"/><rect x="257.8" y="288.6" width="7.1" height="8.6" fill="#dec7ff"/><rect x="264.6" y="288.6" width="7.1" height="8.6" fill="#dec7ff"/><rect x="271.3" y="288.6" width="7.1" height="8.6" fill="#dec7ff"/><rect x="278.1" y="288.6" width="7.1" height="8.6" fill="#dec7ff"/><rect x="284.9" y="288.6" width="7.1" height="8.6" fill="#ffdcd0"/><rect x="203.5" y="296.8" width="7.1" height="8.6" fill="#fff2ee"/><rect x="210.3" y="296.8" width="7.1" height="8.6" fill="#ebdcff"/><rect x="217.1" y="296.8" width="7.1" height="8.6" fill="#ebdcff"/><rect x="223.9" y="296.8" width="7.1" height="8.6" fill="#f5eeff"/><rect x="230.6" y="296.8" width="7.1" height="8.6" fill="#ebdcff"/><rect x="237.4" y="296.8" width="7.1" height="8.6" fill="#ebdcff"/><rect x="244.2" y="296.8" width="7.1" height="8.6" fill="#ebdcff"/><rect x="251.0" y="296.8" width="7.1" height="8.6" fill="#ebdcff"/><rect x="257.8" y="296.8" width="7.1" height="8.6" fill="#ebdcff"/><rect x="264.6" y="296.8" width="7.1" height="8.6" fill="#ebdcff"/><rect x="271.3" y="296.8" width="7.1" height="8.6" fill="#ebdcff"/><rect x="278.1" y="296.8" width="7.1" height="8.6" fill="#ebdcff"/><rect x="284.9" y="296.8" width="7.1" height="8.6" fill="#ffbfaa"/><rect x="203.5" y="305.1" width="7.1" height="8.6" fill="#f5eeff"/><rect x="210.3" y="305.1" width="7.1" height="8.6" fill="#dec7ff"/><rect x="217.1" y="305.1" width="7.1" height="8.6" fill="#dec7ff"/><rect x="223.9" y="305.1" width="7.1" height="8.6" fill="#f5eeff"/><rect x="230.6" y="305.1" width="7.1" height="8.6" fill="#ebdcff"/><rect x="237.4" y="305.1" width="7.1" height="8.6" fill="#dec7ff"/><rect x="244.2" y="305.1" width="7.1" height="8.6" fill="#dec7ff"/><rect x="251.0" y="305.1" width="7.1" height="8.6" fill="#dec7ff"/><rect x="257.8" y="305.1" width="7.1" height="8.6" fill="#dec7ff"/><rect x="264.6" y="305.1" width="7.1" height="8.6" fill="#dec7ff"/><rect x="271.3" y="305.1" width="7.1" height="8.6" fill="#f5eeff"/><rect x="278.1" y="305.1" width="7.1" height="8.6" fill="#ebdcff"/><rect x="284.9" y="305.1" width="7.1" height="8.6" fill="#dec7ff"/><rect x="203.5" y="313.3" width="7.1" height="8.6" fill="#dec7ff"/><rect x="210.3" y="313.3" width="7.1" height="8.6" fill="#f5eeff"/><rect x="217.1" y="313.3" width="7.1" height="8.6" fill="#ffdcd0"/><rect x="223.9" y="313.3" width="7.1" height="8.6" fill="#dec7ff"/><rect x="230.6" y="313.3" width="7.1" height="8.6" fill="#dec7ff"/><rect x="237.4" y="313.3" width="7.1" height="8.6" fill="#f5eeff"/><rect x="244.2" y="313.3" width="7.1" height="8.6" fill="#dec7ff"/><rect x="251.0" y="313.3" width="7.1" height="8.6" fill="#dec7ff"/><rect x="257.8" y="313.3" width="7.1" height="8.6" fill="#ebdcff"/><rect x="264.6" y="313.3" width="7.1" height="8.6" fill="#ffdcd0"/><rect x="271.3" y="313.3" width="7.1" height="8.6" fill="#ffdcd0"/><rect x="278.1" y="313.3" width="7.1" height="8.6" fill="#ccadff"/><rect x="284.9" y="313.3" width="7.1" height="8.6" fill="#ccadff"/><rect x="203.5" y="321.6" width="7.1" height="8.6" fill="#fff2ee"/><rect x="210.3" y="321.6" width="7.1" height="8.6" fill="#f5eeff"/><rect x="217.1" y="321.6" width="7.1" height="8.6" fill="#ff9e81"/><rect x="223.9" y="321.6" width="7.1" height="8.6" fill="#fff2ee"/><rect x="230.6" y="321.6" width="7.1" height="8.6" fill="#dec7ff"/><rect x="237.4" y="321.6" width="7.1" height="8.6" fill="#dec7ff"/><rect x="244.2" y="321.6" width="7.1" height="8.6" fill="#ffbfaa"/><rect x="251.0" y="321.6" width="7.1" height="8.6" fill="#f5eeff"/><rect x="257.8" y="321.6" width="7.1" height="8.6" fill="#f5eeff"/><rect x="264.6" y="321.6" width="7.1" height="8.6" fill="#fcf9ff"/><rect x="271.3" y="321.6" width="7.1" height="8.6" fill="#fff2ee"/><rect x="278.1" y="321.6" width="7.1" height="8.6" fill="#fff2ee"/><rect x="284.9" y="321.6" width="7.1" height="8.6" fill="#ebdcff"/><rect x="203.5" y="329.8" width="7.1" height="8.6" fill="#f5eeff"/><rect x="210.3" y="329.8" width="7.1" height="8.6" fill="#f5eeff"/><rect x="217.1" y="329.8" width="7.1" height="8.6" fill="#ff9e81"/><rect x="223.9" y="329.8" width="7.1" height="8.6" fill="#fff2ee"/><rect x="230.6" y="329.8" width="7.1" height="8.6" fill="#ffdcd0"/><rect x="237.4" y="329.8" width="7.1" height="8.6" fill="#fff2ee"/><rect x="244.2" y="329.8" width="7.1" height="8.6" fill="#fff2ee"/><rect x="251.0" y="329.8" width="7.1" height="8.6" fill="#ffbfaa"/><rect x="257.8" y="329.8" width="7.1" height="8.6" fill="#dec7ff"/><rect x="264.6" y="329.8" width="7.1" height="8.6" fill="#dec7ff"/><rect x="271.3" y="329.8" width="7.1" height="8.6" fill="#ffbfaa"/><rect x="278.1" y="329.8" width="7.1" height="8.6" fill="#ffdcd0"/><rect x="284.9" y="329.8" width="7.1" height="8.6" fill="#f5eeff"/></g>
<rect x="203.50" y="60.30" width="88.20" height="16.00" fill="none" stroke="#333" stroke-width="1"/>
<rect x="203.50" y="78.50" width="88.20" height="49.90" fill="none" stroke="#333" stroke-width="1"/>
<rect x="203.50" y="130.70" width="88.20" height="24.50" fill="none" stroke="#333" stroke-width="1"/>
<rect x="203.50" y="157.60" width="88.20" height="41.40" fill="none" stroke="#333" stroke-width="1"/>
<rect x="203.50" y="201.30" width="88.20" height="33.10" fill="none" stroke="#333" stroke-width="1"/>
<rect x="203.50" y="236.60" width="88.20" height="41.50" fill="none" stroke="#333" stroke-width="1"/>
<rect x="203.50" y="280.30" width="88.20" height="57.80" fill="none" stroke="#333" stroke-width="1"/>
<text transform="translate(210.29,340.6) rotate(-90)" font-size="6.8" text-anchor="end">13</text>
<text transform="translate(217.08,340.6) rotate(-90)" font-size="6.8" text-anchor="end">04</text>
<text transform="translate(223.86,340.6) rotate(-90)" font-size="6.8" text-anchor="end">11</text>
<text transform="translate(230.65,340.6) rotate(-90)" font-size="6.8" text-anchor="end">08</text>
<text transform="translate(237.43,340.6) rotate(-90)" font-size="6.8" text-anchor="end">07</text>
<text transform="translate(244.22,340.6) rotate(-90)" font-size="6.8" text-anchor="end">*09</text>
<text transform="translate(251.00,340.6) rotate(-90)" font-size="6.8" text-anchor="end">*02</text>
<text transform="translate(257.78,340.6) rotate(-90)" font-size="6.8" text-anchor="end">16</text>
<text transform="translate(264.57,340.6) rotate(-90)" font-size="6.8" text-anchor="end">10</text>
<text transform="translate(271.35,340.6) rotate(-90)" font-size="6.8" text-anchor="end">01</text>
<text transform="translate(278.14,340.6) rotate(-90)" font-size="6.8" text-anchor="end">06</text>
<text transform="translate(284.92,340.6) rotate(-90)" font-size="6.8" text-anchor="end">05</text>
<text transform="translate(291.71,340.6) rotate(-90)" font-size="6.8" text-anchor="end">*12</text>
<text x="333.1" y="14.8" class="b" font-size="9.3" text-anchor="middle">12M</text>
<path d="M311.96,45.60V39.60H318.74V45.60M332.31,45.60V41.80H339.09V45.60M325.52,45.60V40.60H335.70V41.80M315.35,39.60V38.30H330.61V40.60M345.88,45.60V39.60H352.66V45.60M366.22,45.60V40.80H373.01V45.60M359.44,45.60V40.00H369.62V40.80M349.27,39.60V38.70H364.53V40.00M322.98,38.30V36.40H356.90V38.70M305.18,45.60V35.60H339.94V36.40M298.39,45.60V32.80H322.56V35.60" fill="none" stroke="#222" stroke-width="0.8"/>
<rect x="295.00" y="46.1" width="81.40" height="11.4" fill="#41b6c4" stroke="#2a2a2a" stroke-width="1"/>
<g shape-rendering="crispEdges"><rect x="295.0" y="60.3" width="7.1" height="8.3" fill="#fcf9ff"/><rect x="301.8" y="60.3" width="7.1" height="8.3" fill="#f5eeff"/><rect x="308.6" y="60.3" width="7.1" height="8.3" fill="#f5eeff"/><rect x="315.4" y="60.3" width="7.1" height="8.3" fill="#f5eeff"/><rect x="322.1" y="60.3" width="7.1" height="8.3" fill="#f5eeff"/><rect x="328.9" y="60.3" width="7.1" height="8.3" fill="#f5eeff"/><rect x="335.7" y="60.3" width="7.1" height="8.3" fill="#f5eeff"/><rect x="342.5" y="60.3" width="7.1" height="8.3" fill="#f5eeff"/><rect x="349.3" y="60.3" width="7.1" height="8.3" fill="#f5eeff"/><rect x="356.0" y="60.3" width="7.1" height="8.3" fill="#ebdcff"/><rect x="362.8" y="60.3" width="7.1" height="8.3" fill="#ffbfaa"/><rect x="369.6" y="60.3" width="7.1" height="8.3" fill="#ebdcff"/><rect x="295.0" y="68.3" width="7.1" height="8.3" fill="#dec7ff"/><rect x="301.8" y="68.3" width="7.1" height="8.3" fill="#ffbfaa"/><rect x="308.6" y="68.3" width="7.1" height="8.3" fill="#fff2ee"/><rect x="315.4" y="68.3" width="7.1" height="8.3" fill="#ffbfaa"/><rect x="322.1" y="68.3" width="7.1" height="8.3" fill="#f5eeff"/><rect x="328.9" y="68.3" width="7.1" height="8.3" fill="#ebdcff"/><rect x="335.7" y="68.3" width="7.1" height="8.3" fill="#ffdcd0"/><rect x="342.5" y="68.3" width="7.1" height="8.3" fill="#dec7ff"/><rect x="349.3" y="68.3" width="7.1" height="8.3" fill="#ccadff"/><rect x="356.0" y="68.3" width="7.1" height="8.3" fill="#fff2ee"/><rect x="362.8" y="68.3" width="7.1" height="8.3" fill="#ffbfaa"/><rect x="369.6" y="68.3" width="7.1" height="8.3" fill="#fcf9ff"/><rect x="295.0" y="78.5" width="7.1" height="8.6" fill="#ebdcff"/><rect x="301.8" y="78.5" width="7.1" height="8.6" fill="#dec7ff"/><rect x="308.6" y="78.5" width="7.1" height="8.6" fill="#ffdcd0"/><rect x="315.4" y="78.5" width="7.1" height="8.6" fill="#f5eeff"/><rect x="322.1" y="78.5" width="7.1" height="8.6" fill="#ebdcff"/><rect x="328.9" y="78.5" width="7.1" height="8.6" fill="#fcf9ff"/><rect x="335.7" y="78.5" width="7.1" height="8.6" fill="#f5eeff"/><rect x="342.5" y="78.5" width="7.1" height="8.6" fill="#fff2ee"/><rect x="349.3" y="78.5" width="7.1" height="8.6" fill="#ebdcff"/><rect x="356.0" y="78.5" width="7.1" height="8.6" fill="#ebdcff"/><rect x="362.8" y="78.5" width="7.1" height="8.6" fill="#ebdcff"/><rect x="369.6" y="78.5" width="7.1" height="8.6" fill="#ebdcff"/><rect x="295.0" y="86.8" width="7.1" height="8.6" fill="#ebdcff"/><rect x="301.8" y="86.8" width="7.1" height="8.6" fill="#f5eeff"/><rect x="308.6" y="86.8" width="7.1" height="8.6" fill="#ebdcff"/><rect x="315.4" y="86.8" width="7.1" height="8.6" fill="#f5eeff"/><rect x="322.1" y="86.8" width="7.1" height="8.6" fill="#ebdcff"/><rect x="328.9" y="86.8" width="7.1" height="8.6" fill="#ebdcff"/><rect x="335.7" y="86.8" width="7.1" height="8.6" fill="#ebdcff"/><rect x="342.5" y="86.8" width="7.1" height="8.6" fill="#fff2ee"/><rect x="349.3" y="86.8" width="7.1" height="8.6" fill="#ebdcff"/><rect x="356.0" y="86.8" width="7.1" height="8.6" fill="#f5eeff"/><rect x="362.8" y="86.8" width="7.1" height="8.6" fill="#f5eeff"/><rect x="369.6" y="86.8" width="7.1" height="8.6" fill="#ebdcff"/><rect x="295.0" y="95.1" width="7.1" height="8.6" fill="#f5eeff"/><rect x="301.8" y="95.1" width="7.1" height="8.6" fill="#dec7ff"/><rect x="308.6" y="95.1" width="7.1" height="8.6" fill="#ffbfaa"/><rect x="315.4" y="95.1" width="7.1" height="8.6" fill="#f5eeff"/><rect x="322.1" y="95.1" width="7.1" height="8.6" fill="#ebdcff"/><rect x="328.9" y="95.1" width="7.1" height="8.6" fill="#f5eeff"/><rect x="335.7" y="95.1" width="7.1" height="8.6" fill="#ebdcff"/><rect x="342.5" y="95.1" width="7.1" height="8.6" fill="#ffdcd0"/><rect x="349.3" y="95.1" width="7.1" height="8.6" fill="#f5eeff"/><rect x="356.0" y="95.1" width="7.1" height="8.6" fill="#f5eeff"/><rect x="362.8" y="95.1" width="7.1" height="8.6" fill="#dec7ff"/><rect x="369.6" y="95.1" width="7.1" height="8.6" fill="#ffdcd0"/><rect x="295.0" y="103.5" width="7.1" height="8.6" fill="#f5eeff"/><rect x="301.8" y="103.5" width="7.1" height="8.6" fill="#fff2ee"/><rect x="308.6" y="103.5" width="7.1" height="8.6" fill="#fff2ee"/><rect x="315.4" y="103.5" width="7.1" height="8.6" fill="#ffdcd0"/><rect x="322.1" y="103.5" width="7.1" height="8.6" fill="#dec7ff"/><rect x="328.9" y="103.5" width="7.1" height="8.6" fill="#fff2ee"/><rect x="335.7" y="103.5" width="7.1" height="8.6" fill="#ffdcd0"/><rect x="342.5" y="103.5" width="7.1" height="8.6" fill="#f5eeff"/><rect x="349.3" y="103.5" width="7.1" height="8.6" fill="#dec7ff"/><rect x="356.0" y="103.5" width="7.1" height="8.6" fill="#ebdcff"/><rect x="362.8" y="103.5" width="7.1" height="8.6" fill="#ebdcff"/><rect x="369.6" y="103.5" width="7.1" height="8.6" fill="#f5eeff"/><rect x="295.0" y="111.8" width="7.1" height="8.6" fill="#f5eeff"/><rect x="301.8" y="111.8" width="7.1" height="8.6" fill="#f5eeff"/><rect x="308.6" y="111.8" width="7.1" height="8.6" fill="#fff2ee"/><rect x="315.4" y="111.8" width="7.1" height="8.6" fill="#fcf9ff"/><rect x="322.1" y="111.8" width="7.1" height="8.6" fill="#fcf9ff"/><rect x="328.9" y="111.8" width="7.1" height="8.6" fill="#fff2ee"/><rect x="335.7" y="111.8" width="7.1" height="8.6" fill="#f5eeff"/><rect x="342.5" y="111.8" width="7.1" height="8.6" fill="#f5eeff"/><rect x="349.3" y="111.8" width="7.1" height="8.6" fill="#f5eeff"/><rect x="356.0" y="111.8" width="7.1" height="8.6" fill="#fcf9ff"/><rect x="362.8" y="111.8" width="7.1" height="8.6" fill="#f5eeff"/><rect x="369.6" y="111.8" width="7.1" height="8.6" fill="#f5eeff"/><rect x="295.0" y="120.1" width="7.1" height="8.6" fill="#f5eeff"/><rect x="301.8" y="120.1" width="7.1" height="8.6" fill="#f5eeff"/><rect x="308.6" y="120.1" width="7.1" height="8.6" fill="#f5eeff"/><rect x="315.4" y="120.1" width="7.1" height="8.6" fill="#f5eeff"/><rect x="322.1" y="120.1" width="7.1" height="8.6" fill="#f5eeff"/><rect x="328.9" y="120.1" width="7.1" height="8.6" fill="#fff2ee"/><rect x="335.7" y="120.1" width="7.1" height="8.6" fill="#f5eeff"/><rect x="342.5" y="120.1" width="7.1" height="8.6" fill="#f5eeff"/><rect x="349.3" y="120.1" width="7.1" height="8.6" fill="#f5eeff"/><rect x="356.0" y="120.1" width="7.1" height="8.6" fill="#f5eeff"/><rect x="362.8" y="120.1" width="7.1" height="8.6" fill="#f5eeff"/><rect x="369.6" y="120.1" width="7.1" height="8.6" fill="#f5eeff"/><rect x="295.0" y="130.7" width="7.1" height="8.5" fill="#ffdcd0"/><rect x="301.8" y="130.7" width="7.1" height="8.5" fill="#fff2ee"/><rect x="308.6" y="130.7" width="7.1" height="8.5" fill="#f5eeff"/><rect x="315.4" y="130.7" width="7.1" height="8.5" fill="#ebdcff"/><rect x="322.1" y="130.7" width="7.1" height="8.5" fill="#ffbfaa"/><rect x="328.9" y="130.7" width="7.1" height="8.5" fill="#ffdcd0"/><rect x="335.7" y="130.7" width="7.1" height="8.5" fill="#ffdcd0"/><rect x="342.5" y="130.7" width="7.1" height="8.5" fill="#ff9e81"/><rect x="349.3" y="130.7" width="7.1" height="8.5" fill="#ebdcff"/><rect x="356.0" y="130.7" width="7.1" height="8.5" fill="#f5eeff"/><rect x="362.8" y="130.7" width="7.1" height="8.5" fill="#ebdcff"/><rect x="369.6" y="130.7" width="7.1" height="8.5" fill="#ccadff"/><rect x="295.0" y="138.9" width="7.1" height="8.5" fill="#dec7ff"/><rect x="301.8" y="138.9" width="7.1" height="8.5" fill="#ffbfaa"/><rect x="308.6" y="138.9" width="7.1" height="8.5" fill="#ffdcd0"/><rect x="315.4" y="138.9" width="7.1" height="8.5" fill="#ffbfaa"/><rect x="322.1" y="138.9" width="7.1" height="8.5" fill="#ffbfaa"/><rect x="328.9" y="138.9" width="7.1" height="8.5" fill="#f5eeff"/><rect x="335.7" y="138.9" width="7.1" height="8.5" fill="#f5eeff"/><rect x="342.5" y="138.9" width="7.1" height="8.5" fill="#f5eeff"/><rect x="349.3" y="138.9" width="7.1" height="8.5" fill="#b993ff"/><rect x="356.0" y="138.9" width="7.1" height="8.5" fill="#ff9e81"/><rect x="362.8" y="138.9" width="7.1" height="8.5" fill="#ebdcff"/><rect x="369.6" y="138.9" width="7.1" height="8.5" fill="#f5eeff"/><rect x="295.0" y="147.0" width="7.1" height="8.5" fill="#f5eeff"/><rect x="301.8" y="147.0" width="7.1" height="8.5" fill="#fcf9ff"/><rect x="308.6" y="147.0" width="7.1" height="8.5" fill="#ff9e81"/><rect x="315.4" y="147.0" width="7.1" height="8.5" fill="#ff7b5a"/><rect x="322.1" y="147.0" width="7.1" height="8.5" fill="#ff9e81"/><rect x="328.9" y="147.0" width="7.1" height="8.5" fill="#f5eeff"/><rect x="335.7" y="147.0" width="7.1" height="8.5" fill="#fcf9ff"/><rect x="342.5" y="147.0" width="7.1" height="8.5" fill="#f5eeff"/><rect x="349.3" y="147.0" width="7.1" height="8.5" fill="#dec7ff"/><rect x="356.0" y="147.0" width="7.1" height="8.5" fill="#ebdcff"/><rect x="362.8" y="147.0" width="7.1" height="8.5" fill="#dec7ff"/><rect x="369.6" y="147.0" width="7.1" height="8.5" fill="#f5eeff"/><rect x="295.0" y="157.6" width="7.1" height="8.6" fill="#f5eeff"/><rect x="301.8" y="157.6" width="7.1" height="8.6" fill="#ff7b5a"/><rect x="308.6" y="157.6" width="7.1" height="8.6" fill="#ebdcff"/><rect x="315.4" y="157.6" width="7.1" height="8.6" fill="#ebdcff"/><rect x="322.1" y="157.6" width="7.1" height="8.6" fill="#ffbfaa"/><rect x="328.9" y="157.6" width="7.1" height="8.6" fill="#ffbfaa"/><rect x="335.7" y="157.6" width="7.1" height="8.6" fill="#fff2ee"/><rect x="342.5" y="157.6" width="7.1" height="8.6" fill="#f5eeff"/><rect x="349.3" y="157.6" width="7.1" height="8.6" fill="#f5eeff"/><rect x="356.0" y="157.6" width="7.1" height="8.6" fill="#dec7ff"/><rect x="362.8" y="157.6" width="7.1" height="8.6" fill="#dec7ff"/><rect x="369.6" y="157.6" width="7.1" height="8.6" fill="#ebdcff"/><rect x="295.0" y="165.9" width="7.1" height="8.6" fill="#ffdcd0"/><rect x="301.8" y="165.9" width="7.1" height="8.6" fill="#ff7b5a"/><rect x="308.6" y="165.9" width="7.1" height="8.6" fill="#ff9e81"/><rect x="315.4" y="165.9" width="7.1" height="8.6" fill="#dec7ff"/><rect x="322.1" y="165.9" width="7.1" height="8.6" fill="#ffbfaa"/><rect x="328.9" y="165.9" width="7.1" height="8.6" fill="#ebdcff"/><rect x="335.7" y="165.9" width="7.1" height="8.6" fill="#f5eeff"/><rect x="342.5" y="165.9" width="7.1" height="8.6" fill="#f5eeff"/><rect x="349.3" y="165.9" width="7.1" height="8.6" fill="#dec7ff"/><rect x="356.0" y="165.9" width="7.1" height="8.6" fill="#ebdcff"/><rect x="362.8" y="165.9" width="7.1" height="8.6" fill="#ebdcff"/><rect x="369.6" y="165.9" width="7.1" height="8.6" fill="#f5eeff"/><rect x="295.0" y="174.2" width="7.1" height="8.6" fill="#ffdcd0"/><rect x="301.8" y="174.2" width="7.1" height="8.6" fill="#ebdcff"/><rect x="308.6" y="174.2" width="7.1" height="8.6" fill="#fff2ee"/><rect x="315.4" y="174.2" width="7.1" height="8.6" fill="#fff2ee"/><rect x="322.1" y="174.2" width="7.1" height="8.6" fill="#ffdcd0"/><rect x="328.9" y="174.2" width="7.1" height="8.6" fill="#fcf9ff"/><rect x="335.7" y="174.2" width="7.1" height="8.6" fill="#dec7ff"/><rect x="342.5" y="174.2" width="7.1" height="8.6" fill="#dec7ff"/><rect x="349.3" y="174.2" width="7.1" height="8.6" fill="#ccadff"/><rect x="356.0" y="174.2" width="7.1" height="8.6" fill="#dec7ff"/><rect x="362.8" y="174.2" width="7.1" height="8.6" fill="#dec7ff"/><rect x="369.6" y="174.2" width="7.1" height="8.6" fill="#ffdcd0"/><rect x="295.0" y="182.4" width="7.1" height="8.6" fill="#ff0000"/><rect x="301.8" y="182.4" width="7.1" height="8.6" fill="#ebdcff"/><rect x="308.6" y="182.4" width="7.1" height="8.6" fill="#ffdcd0"/><rect x="315.4" y="182.4" width="7.1" height="8.6" fill="#ebdcff"/><rect x="322.1" y="182.4" width="7.1" height="8.6" fill="#f5eeff"/><rect x="328.9" y="182.4" width="7.1" height="8.6" fill="#fff2ee"/><rect x="335.7" y="182.4" width="7.1" height="8.6" fill="#ebdcff"/><rect x="342.5" y="182.4" width="7.1" height="8.6" fill="#fcf9ff"/><rect x="349.3" y="182.4" width="7.1" height="8.6" fill="#ebdcff"/><rect x="356.0" y="182.4" width="7.1" height="8.6" fill="#dec7ff"/><rect x="362.8" y="182.4" width="7.1" height="8.6" fill="#dec7ff"/><rect x="369.6" y="182.4" width="7.1" height="8.6" fill="#dec7ff"/><rect x="295.0" y="190.7" width="7.1" height="8.6" fill="#fff2ee"/><rect x="301.8" y="190.7" width="7.1" height="8.6" fill="#fff2ee"/><rect x="308.6" y="190.7" width="7.1" height="8.6" fill="#fff2ee"/><rect x="315.4" y="190.7" width="7.1" height="8.6" fill="#f5eeff"/><rect x="322.1" y="190.7" width="7.1" height="8.6" fill="#fff2ee"/><rect x="328.9" y="190.7" width="7.1" height="8.6" fill="#fff2ee"/><rect x="335.7" y="190.7" width="7.1" height="8.6" fill="#fff2ee"/><rect x="342.5" y="190.7" width="7.1" height="8.6" fill="#ebdcff"/><rect x="349.3" y="190.7" width="7.1" height="8.6" fill="#dec7ff"/><rect x="356.0" y="190.7" width="7.1" height="8.6" fill="#dec7ff"/><rect x="362.8" y="190.7" width="7.1" height="8.6" fill="#ebdcff"/><rect x="369.6" y="190.7" width="7.1" height="8.6" fill="#ebdcff"/><rect x="295.0" y="201.3" width="7.1" height="8.6" fill="#f5eeff"/><rect x="301.8" y="201.3" width="7.1" height="8.6" fill="#ffdcd0"/><rect x="308.6" y="201.3" width="7.1" height="8.6" fill="#f5eeff"/><rect x="315.4" y="201.3" width="7.1" height="8.6" fill="#ebdcff"/><rect x="322.1" y="201.3" width="7.1" height="8.6" fill="#f5eeff"/><rect x="328.9" y="201.3" width="7.1" height="8.6" fill="#f5eeff"/><rect x="335.7" y="201.3" width="7.1" height="8.6" fill="#f5eeff"/><rect x="342.5" y="201.3" width="7.1" height="8.6" fill="#fcf9ff"/><rect x="349.3" y="201.3" width="7.1" height="8.6" fill="#ebdcff"/><rect x="356.0" y="201.3" width="7.1" height="8.6" fill="#ebdcff"/><rect x="362.8" y="201.3" width="7.1" height="8.6" fill="#ebdcff"/><rect x="369.6" y="201.3" width="7.1" height="8.6" fill="#ebdcff"/><rect x="295.0" y="209.6" width="7.1" height="8.6" fill="#f5eeff"/><rect x="301.8" y="209.6" width="7.1" height="8.6" fill="#fcf9ff"/><rect x="308.6" y="209.6" width="7.1" height="8.6" fill="#f5eeff"/><rect x="315.4" y="209.6" width="7.1" height="8.6" fill="#f5eeff"/><rect x="322.1" y="209.6" width="7.1" height="8.6" fill="#f5eeff"/><rect x="328.9" y="209.6" width="7.1" height="8.6" fill="#f5eeff"/><rect x="335.7" y="209.6" width="7.1" height="8.6" fill="#f5eeff"/><rect x="342.5" y="209.6" width="7.1" height="8.6" fill="#fff2ee"/><rect x="349.3" y="209.6" width="7.1" height="8.6" fill="#f5eeff"/><rect x="356.0" y="209.6" width="7.1" height="8.6" fill="#f5eeff"/><rect x="362.8" y="209.6" width="7.1" height="8.6" fill="#f5eeff"/><rect x="369.6" y="209.6" width="7.1" height="8.6" fill="#f5eeff"/><rect x="295.0" y="217.9" width="7.1" height="8.6" fill="#ff5232"/><rect x="301.8" y="217.9" width="7.1" height="8.6" fill="#ebdcff"/><rect x="308.6" y="217.9" width="7.1" height="8.6" fill="#ebdcff"/><rect x="315.4" y="217.9" width="7.1" height="8.6" fill="#ebdcff"/><rect x="322.1" y="217.9" width="7.1" height="8.6" fill="#ebdcff"/><rect x="328.9" y="217.9" width="7.1" height="8.6" fill="#f5eeff"/><rect x="335.7" y="217.9" width="7.1" height="8.6" fill="#f5eeff"/><rect x="342.5" y="217.9" width="7.1" height="8.6" fill="#ffbfaa"/><rect x="349.3" y="217.9" width="7.1" height="8.6" fill="#dec7ff"/><rect x="356.0" y="217.9" width="7.1" height="8.6" fill="#dec7ff"/><rect x="362.8" y="217.9" width="7.1" height="8.6" fill="#f5eeff"/><rect x="369.6" y="217.9" width="7.1" height="8.6" fill="#ebdcff"/><rect x="295.0" y="226.1" width="7.1" height="8.6" fill="#dec7ff"/><rect x="301.8" y="226.1" width="7.1" height="8.6" fill="#dec7ff"/><rect x="308.6" y="226.1" width="7.1" height="8.6" fill="#fff2ee"/><rect x="315.4" y="226.1" width="7.1" height="8.6" fill="#f5eeff"/><rect x="322.1" y="226.1" width="7.1" height="8.6" fill="#fff2ee"/><rect x="328.9" y="226.1" width="7.1" height="8.6" fill="#ffdcd0"/><rect x="335.7" y="226.1" width="7.1" height="8.6" fill="#ebdcff"/><rect x="342.5" y="226.1" width="7.1" height="8.6" fill="#fcf9ff"/><rect x="349.3" y="226.1" width="7.1" height="8.6" fill="#f5eeff"/><rect x="356.0" y="226.1" width="7.1" height="8.6" fill="#f5eeff"/><rect x="362.8" y="226.1" width="7.1" height="8.6" fill="#f5eeff"/><rect x="369.6" y="226.1" width="7.1" height="8.6" fill="#f5eeff"/><rect x="295.0" y="236.6" width="7.1" height="8.6" fill="#fff2ee"/><rect x="301.8" y="236.6" width="7.1" height="8.6" fill="#dec7ff"/><rect x="308.6" y="236.6" width="7.1" height="8.6" fill="#fff2ee"/><rect x="315.4" y="236.6" width="7.1" height="8.6" fill="#f5eeff"/><rect x="322.1" y="236.6" width="7.1" height="8.6" fill="#dec7ff"/><rect x="328.9" y="236.6" width="7.1" height="8.6" fill="#dec7ff"/><rect x="335.7" y="236.6" width="7.1" height="8.6" fill="#ebdcff"/><rect x="342.5" y="236.6" width="7.1" height="8.6" fill="#dec7ff"/><rect x="349.3" y="236.6" width="7.1" height="8.6" fill="#dec7ff"/><rect x="356.0" y="236.6" width="7.1" height="8.6" fill="#ebdcff"/><rect x="362.8" y="236.6" width="7.1" height="8.6" fill="#ebdcff"/><rect x="369.6" y="236.6" width="7.1" height="8.6" fill="#dec7ff"/><rect x="295.0" y="244.9" width="7.1" height="8.6" fill="#ffdcd0"/><rect x="301.8" y="244.9" width="7.1" height="8.6" fill="#dec7ff"/><rect x="308.6" y="244.9" width="7.1" height="8.6" fill="#fff2ee"/><rect x="315.4" y="244.9" width="7.1" height="8.6" fill="#dec7ff"/><rect x="322.1" y="244.9" width="7.1" height="8.6" fill="#ebdcff"/><rect x="328.9" y="244.9" width="7.1" height="8.6" fill="#dec7ff"/><rect x="335.7" y="244.9" width="7.1" height="8.6" fill="#f5eeff"/><rect x="342.5" y="244.9" width="7.1" height="8.6" fill="#ebdcff"/><rect x="349.3" y="244.9" width="7.1" height="8.6" fill="#dec7ff"/><rect x="356.0" y="244.9" width="7.1" height="8.6" fill="#dec7ff"/><rect x="362.8" y="244.9" width="7.1" height="8.6" fill="#dec7ff"/><rect x="369.6" y="244.9" width="7.1" height="8.6" fill="#dec7ff"/><rect x="295.0" y="253.2" width="7.1" height="8.6" fill="#fcf9ff"/><rect x="301.8" y="253.2" width="7.1" height="8.6" fill="#fff2ee"/><rect x="308.6" y="253.2" width="7.1" height="8.6" fill="#ebdcff"/><rect x="315.4" y="253.2" width="7.1" height="8.6" fill="#f5eeff"/><rect x="322.1" y="253.2" width="7.1" height="8.6" fill="#f5eeff"/><rect x="328.9" y="253.2" width="7.1" height="8.6" fill="#ebdcff"/><rect x="335.7" y="253.2" width="7.1" height="8.6" fill="#ebdcff"/><rect x="342.5" y="253.2" width="7.1" height="8.6" fill="#ebdcff"/><rect x="349.3" y="253.2" width="7.1" height="8.6" fill="#fff2ee"/><rect x="356.0" y="253.2" width="7.1" height="8.6" fill="#f5eeff"/><rect x="362.8" y="253.2" width="7.1" height="8.6" fill="#ebdcff"/><rect x="369.6" y="253.2" width="7.1" height="8.6" fill="#f5eeff"/><rect x="295.0" y="261.5" width="7.1" height="8.6" fill="#ffbfaa"/><rect x="301.8" y="261.5" width="7.1" height="8.6" fill="#ff9e81"/><rect x="308.6" y="261.5" width="7.1" height="8.6" fill="#ebdcff"/><rect x="315.4" y="261.5" width="7.1" height="8.6" fill="#ccadff"/><rect x="322.1" y="261.5" width="7.1" height="8.6" fill="#fff2ee"/><rect x="328.9" y="261.5" width="7.1" height="8.6" fill="#ebdcff"/><rect x="335.7" y="261.5" width="7.1" height="8.6" fill="#ebdcff"/><rect x="342.5" y="261.5" width="7.1" height="8.6" fill="#f5eeff"/><rect x="349.3" y="261.5" width="7.1" height="8.6" fill="#ffdcd0"/><rect x="356.0" y="261.5" width="7.1" height="8.6" fill="#ccadff"/><rect x="362.8" y="261.5" width="7.1" height="8.6" fill="#ccadff"/><rect x="369.6" y="261.5" width="7.1" height="8.6" fill="#ccadff"/><rect x="295.0" y="269.8" width="7.1" height="8.6" fill="#ffbfaa"/><rect x="301.8" y="269.8" width="7.1" height="8.6" fill="#ff5232"/><rect x="308.6" y="269.8" width="7.1" height="8.6" fill="#fcf9ff"/><rect x="315.4" y="269.8" width="7.1" height="8.6" fill="#dec7ff"/><rect x="322.1" y="269.8" width="7.1" height="8.6" fill="#fcf9ff"/><rect x="328.9" y="269.8" width="7.1" height="8.6" fill="#ebdcff"/><rect x="335.7" y="269.8" width="7.1" height="8.6" fill="#f5eeff"/><rect x="342.5" y="269.8" width="7.1" height="8.6" fill="#ffdcd0"/><rect x="349.3" y="269.8" width="7.1" height="8.6" fill="#f5eeff"/><rect x="356.0" y="269.8" width="7.1" height="8.6" fill="#ebdcff"/><rect x="362.8" y="269.8" width="7.1" height="8.6" fill="#dec7ff"/><rect x="369.6" y="269.8" width="7.1" height="8.6" fill="#ccadff"/><rect x="295.0" y="280.3" width="7.1" height="8.6" fill="#ffbfaa"/><rect x="301.8" y="280.3" width="7.1" height="8.6" fill="#f5eeff"/><rect x="308.6" y="280.3" width="7.1" height="8.6" fill="#ff9e81"/><rect x="315.4" y="280.3" width="7.1" height="8.6" fill="#ffbfaa"/><rect x="322.1" y="280.3" width="7.1" height="8.6" fill="#f5eeff"/><rect x="328.9" y="280.3" width="7.1" height="8.6" fill="#fff2ee"/><rect x="335.7" y="280.3" width="7.1" height="8.6" fill="#f5eeff"/><rect x="342.5" y="280.3" width="7.1" height="8.6" fill="#dec7ff"/><rect x="349.3" y="280.3" width="7.1" height="8.6" fill="#ebdcff"/><rect x="356.0" y="280.3" width="7.1" height="8.6" fill="#dec7ff"/><rect x="362.8" y="280.3" width="7.1" height="8.6" fill="#f5eeff"/><rect x="369.6" y="280.3" width="7.1" height="8.6" fill="#ebdcff"/><rect x="295.0" y="288.6" width="7.1" height="8.6" fill="#ebdcff"/><rect x="301.8" y="288.6" width="7.1" height="8.6" fill="#fcf9ff"/><rect x="308.6" y="288.6" width="7.1" height="8.6" fill="#ffbfaa"/><rect x="315.4" y="288.6" width="7.1" height="8.6" fill="#f5eeff"/><rect x="322.1" y="288.6" width="7.1" height="8.6" fill="#ff7b5a"/><rect x="328.9" y="288.6" width="7.1" height="8.6" fill="#fff2ee"/><rect x="335.7" y="288.6" width="7.1" height="8.6" fill="#ffdcd0"/><rect x="342.5" y="288.6" width="7.1" height="8.6" fill="#dec7ff"/><rect x="349.3" y="288.6" width="7.1" height="8.6" fill="#ffdcd0"/><rect x="356.0" y="288.6" width="7.1" height="8.6" fill="#fff2ee"/><rect x="362.8" y="288.6" width="7.1" height="8.6" fill="#ccadff"/><rect x="369.6" y="288.6" width="7.1" height="8.6" fill="#ccadff"/><rect x="295.0" y="296.8" width="7.1" height="8.6" fill="#f5eeff"/><rect x="301.8" y="296.8" width="7.1" height="8.6" fill="#f5eeff"/><rect x="308.6" y="296.8" width="7.1" height="8.6" fill="#f5eeff"/><rect x="315.4" y="296.8" width="7.1" height="8.6" fill="#f5eeff"/><rect x="322.1" y="296.8" width="7.1" height="8.6" fill="#f5eeff"/><rect x="328.9" y="296.8" width="7.1" height="8.6" fill="#f5eeff"/><rect x="335.7" y="296.8" width="7.1" height="8.6" fill="#ebdcff"/><rect x="342.5" y="296.8" width="7.1" height="8.6" fill="#f5eeff"/><rect x="349.3" y="296.8" width="7.1" height="8.6" fill="#fff2ee"/><rect x="356.0" y="296.8" width="7.1" height="8.6" fill="#ebdcff"/><rect x="362.8" y="296.8" width="7.1" height="8.6" fill="#ebdcff"/><rect x="369.6" y="296.8" width="7.1" height="8.6" fill="#ebdcff"/><rect x="295.0" y="305.1" width="7.1" height="8.6" fill="#ebdcff"/><rect x="301.8" y="305.1" width="7.1" height="8.6" fill="#ebdcff"/><rect x="308.6" y="305.1" width="7.1" height="8.6" fill="#f5eeff"/><rect x="315.4" y="305.1" width="7.1" height="8.6" fill="#ebdcff"/><rect x="322.1" y="305.1" width="7.1" height="8.6" fill="#ebdcff"/><rect x="328.9" y="305.1" width="7.1" height="8.6" fill="#ebdcff"/><rect x="335.7" y="305.1" width="7.1" height="8.6" fill="#ebdcff"/><rect x="342.5" y="305.1" width="7.1" height="8.6" fill="#fcf9ff"/><rect x="349.3" y="305.1" width="7.1" height="8.6" fill="#ebdcff"/><rect x="356.0" y="305.1" width="7.1" height="8.6" fill="#ebdcff"/><rect x="362.8" y="305.1" width="7.1" height="8.6" fill="#ebdcff"/><rect x="369.6" y="305.1" width="7.1" height="8.6" fill="#ebdcff"/><rect x="295.0" y="313.3" width="7.1" height="8.6" fill="#ebdcff"/><rect x="301.8" y="313.3" width="7.1" height="8.6" fill="#ff5232"/><rect x="308.6" y="313.3" width="7.1" height="8.6" fill="#ffdcd0"/><rect x="315.4" y="313.3" width="7.1" height="8.6" fill="#ebdcff"/><rect x="322.1" y="313.3" width="7.1" height="8.6" fill="#ebdcff"/><rect x="328.9" y="313.3" width="7.1" height="8.6" fill="#fff2ee"/><rect x="335.7" y="313.3" width="7.1" height="8.6" fill="#f5eeff"/><rect x="342.5" y="313.3" width="7.1" height="8.6" fill="#dec7ff"/><rect x="349.3" y="313.3" width="7.1" height="8.6" fill="#dec7ff"/><rect x="356.0" y="313.3" width="7.1" height="8.6" fill="#dec7ff"/><rect x="362.8" y="313.3" width="7.1" height="8.6" fill="#fff2ee"/><rect x="369.6" y="313.3" width="7.1" height="8.6" fill="#ebdcff"/><rect x="295.0" y="321.6" width="7.1" height="8.6" fill="#fff2ee"/><rect x="301.8" y="321.6" width="7.1" height="8.6" fill="#f5eeff"/><rect x="308.6" y="321.6" width="7.1" height="8.6" fill="#ebdcff"/><rect x="315.4" y="321.6" width="7.1" height="8.6" fill="#ebdcff"/><rect x="322.1" y="321.6" width="7.1" height="8.6" fill="#f5eeff"/><rect x="328.9" y="321.6" width="7.1" height="8.6" fill="#ebdcff"/><rect x="335.7" y="321.6" width="7.1" height="8.6" fill="#f5eeff"/><rect x="342.5" y="321.6" width="7.1" height="8.6" fill="#ebdcff"/><rect x="349.3" y="321.6" width="7.1" height="8.6" fill="#dec7ff"/><rect x="356.0" y="321.6" width="7.1" height="8.6" fill="#f5eeff"/><rect x="362.8" y="321.6" width="7.1" height="8.6" fill="#f5eeff"/><rect x="369.6" y="321.6" width="7.1" height="8.6" fill="#ebdcff"/><rect x="295.0" y="329.8" width="7.1" height="8.6" fill="#ffdcd0"/><rect x="301.8" y="329.8" width="7.1" height="8.6" fill="#ccadff"/><rect x="308.6" y="329.8" width="7.1" height="8.6" fill="#ffbfaa"/><rect x="315.4" y="329.8" width="7.1" height="8.6" fill="#fcf9ff"/><rect x="322.1" y="329.8" width="7.1" height="8.6" fill="#fcf9ff"/><rect x="328.9" y="329.8" width="7.1" height="8.6" fill="#ebdcff"/><rect x="335.7" y="329.8" width="7.1" height="8.6" fill="#ebdcff"/><rect x="342.5" y="329.8" width="7.1" height="8.6" fill="#f5eeff"/><rect x="349.3" y="329.8" width="7.1" height="8.6" fill="#ccadff"/><rect x="356.0" y="329.8" width="7.1" height="8.6" fill="#ffdcd0"/><rect x="362.8" y="329.8" width="7.1" height="8.6" fill="#f5eeff"/><rect x="369.6" y="329.8" width="7.1" height="8.6" fill="#ccadff"/></g>
<rect x="295.00" y="60.30" width="81.40" height="16.00" fill="none" stroke="#333" stroke-width="1"/>
<rect x="295.00" y="78.50" width="81.40" height="49.90" fill="none" stroke="#333" stroke-width="1"/>
<rect x="295.00" y="130.70" width="81.40" height="24.50" fill="none" stroke="#333" stroke-width="1"/>
<rect x="295.00" y="157.60" width="81.40" height="41.40" fill="none" stroke="#333" stroke-width="1"/>
<rect x="295.00" y="201.30" width="81.40" height="33.10" fill="none" stroke="#333" stroke-width="1"/>
<rect x="295.00" y="236.60" width="81.40" height="41.50" fill="none" stroke="#333" stroke-width="1"/>
<rect x="295.00" y="280.30" width="81.40" height="57.80" fill="none" stroke="#333" stroke-width="1"/>
<text transform="translate(301.79,340.6) rotate(-90)" font-size="6.8" text-anchor="end">*02</text>
<text transform="translate(308.57,340.6) rotate(-90)" font-size="6.8" text-anchor="end">04</text>
<text transform="translate(315.36,340.6) rotate(-90)" font-size="6.8" text-anchor="end">08</text>
<text transform="translate(322.14,340.6) rotate(-90)" font-size="6.8" text-anchor="end">07</text>
<text transform="translate(328.92,340.6) rotate(-90)" font-size="6.8" text-anchor="end">11</text>
<text transform="translate(335.71,340.6) rotate(-90)" font-size="6.8" text-anchor="end">10</text>
<text transform="translate(342.49,340.6) rotate(-90)" font-size="6.8" text-anchor="end">*09</text>
<text transform="translate(349.27,340.6) rotate(-90)" font-size="6.8" text-anchor="end">05</text>
<text transform="translate(356.06,340.6) rotate(-90)" font-size="6.8" text-anchor="end">*12</text>
<text transform="translate(362.84,340.6) rotate(-90)" font-size="6.8" text-anchor="end">16</text>
<text transform="translate(369.62,340.6) rotate(-90)" font-size="6.8" text-anchor="end">01</text>
<text transform="translate(376.41,340.6) rotate(-90)" font-size="6.8" text-anchor="end">06</text>
<text x="421.3" y="14.8" class="b" font-size="9.3" text-anchor="middle">18M</text>
<path d="M396.36,45.60V36.50H403.18V45.60M389.53,45.60V34.40H399.77V36.50M416.83,45.60V38.50H423.65V45.60M437.30,45.60V41.90H444.12V45.60M430.47,45.60V39.60H440.71V41.90M450.94,45.60V40.10H457.77V45.60M435.59,39.60V39.20H454.35V40.10M420.24,38.50V37.80H444.97V39.20M410.00,45.60V36.10H432.61V37.80M394.65,34.40V33.80H421.30V36.10M382.71,45.60V30.60H407.98V33.80M395.34,30.60V27.20H464.59V45.60" fill="none" stroke="#222" stroke-width="0.8"/>
<rect x="379.30" y="46.1" width="88.70" height="11.4" fill="#1d91c0" stroke="#2a2a2a" stroke-width="1"/>
<g shape-rendering="crispEdges"><rect x="379.3" y="60.3" width="7.1" height="8.3" fill="#f5eeff"/><rect x="386.1" y="60.3" width="7.1" height="8.3" fill="#f5eeff"/><rect x="392.9" y="60.3" width="7.1" height="8.3" fill="#fff2ee"/><rect x="399.8" y="60.3" width="7.1" height="8.3" fill="#f5eeff"/><rect x="406.6" y="60.3" width="7.1" height="8.3" fill="#f5eeff"/><rect x="413.4" y="60.3" width="7.1" height="8.3" fill="#f5eeff"/><rect x="420.2" y="60.3" width="7.1" height="8.3" fill="#f5eeff"/><rect x="427.1" y="60.3" width="7.1" height="8.3" fill="#fcf9ff"/><rect x="433.9" y="60.3" width="7.1" height="8.3" fill="#ebdcff"/><rect x="440.7" y="60.3" width="7.1" height="8.3" fill="#f5eeff"/><rect x="447.5" y="60.3" width="7.1" height="8.3" fill="#f5eeff"/><rect x="454.4" y="60.3" width="7.1" height="8.3" fill="#f5eeff"/><rect x="461.2" y="60.3" width="7.1" height="8.3" fill="#f5eeff"/><rect x="379.3" y="68.3" width="7.1" height="8.3" fill="#ebdcff"/><rect x="386.1" y="68.3" width="7.1" height="8.3" fill="#fff2ee"/><rect x="392.9" y="68.3" width="7.1" height="8.3" fill="#ebdcff"/><rect x="399.8" y="68.3" width="7.1" height="8.3" fill="#ccadff"/><rect x="406.6" y="68.3" width="7.1" height="8.3" fill="#dec7ff"/><rect x="413.4" y="68.3" width="7.1" height="8.3" fill="#ffdcd0"/><rect x="420.2" y="68.3" width="7.1" height="8.3" fill="#ff9e81"/><rect x="427.1" y="68.3" width="7.1" height="8.3" fill="#ff0000"/><rect x="433.9" y="68.3" width="7.1" height="8.3" fill="#ffbfaa"/><rect x="440.7" y="68.3" width="7.1" height="8.3" fill="#ff9e81"/><rect x="447.5" y="68.3" width="7.1" height="8.3" fill="#ffbfaa"/><rect x="454.4" y="68.3" width="7.1" height="8.3" fill="#ebdcff"/><rect x="461.2" y="68.3" width="7.1" height="8.3" fill="#dec7ff"/><rect x="379.3" y="78.5" width="7.1" height="8.6" fill="#ebdcff"/><rect x="386.1" y="78.5" width="7.1" height="8.6" fill="#fff2ee"/><rect x="392.9" y="78.5" width="7.1" height="8.6" fill="#ebdcff"/><rect x="399.8" y="78.5" width="7.1" height="8.6" fill="#ebdcff"/><rect x="406.6" y="78.5" width="7.1" height="8.6" fill="#ffdcd0"/><rect x="413.4" y="78.5" width="7.1" height="8.6" fill="#f5eeff"/><rect x="420.2" y="78.5" width="7.1" height="8.6" fill="#f5eeff"/><rect x="427.1" y="78.5" width="7.1" height="8.6" fill="#ebdcff"/><rect x="433.9" y="78.5" width="7.1" height="8.6" fill="#ebdcff"/><rect x="440.7" y="78.5" width="7.1" height="8.6" fill="#f5eeff"/><rect x="447.5" y="78.5" width="7.1" height="8.6" fill="#ebdcff"/><rect x="454.4" y="78.5" width="7.1" height="8.6" fill="#f5eeff"/><rect x="461.2" y="78.5" width="7.1" height="8.6" fill="#ffbfaa"/><rect x="379.3" y="86.8" width="7.1" height="8.6" fill="#f5eeff"/><rect x="386.1" y="86.8" width="7.1" height="8.6" fill="#ebdcff"/><rect x="392.9" y="86.8" width="7.1" height="8.6" fill="#ebdcff"/><rect x="399.8" y="86.8" width="7.1" height="8.6" fill="#ebdcff"/><rect x="406.6" y="86.8" width="7.1" height="8.6" fill="#ebdcff"/><rect x="413.4" y="86.8" width="7.1" height="8.6" fill="#ebdcff"/><rect x="420.2" y="86.8" width="7.1" height="8.6" fill="#ebdcff"/><rect x="427.1" y="86.8" width="7.1" height="8.6" fill="#f5eeff"/><rect x="433.9" y="86.8" width="7.1" height="8.6" fill="#ebdcff"/><rect x="440.7" y="86.8" width="7.1" height="8.6" fill="#fcf9ff"/><rect x="447.5" y="86.8" width="7.1" height="8.6" fill="#ebdcff"/><rect x="454.4" y="86.8" width="7.1" height="8.6" fill="#ebdcff"/><rect x="461.2" y="86.8" width="7.1" height="8.6" fill="#fff2ee"/><rect x="379.3" y="95.1" width="7.1" height="8.6" fill="#ff7b5a"/><rect x="386.1" y="95.1" width="7.1" height="8.6" fill="#ffdcd0"/><rect x="392.9" y="95.1" width="7.1" height="8.6" fill="#ebdcff"/><rect x="399.8" y="95.1" width="7.1" height="8.6" fill="#f5eeff"/><rect x="406.6" y="95.1" width="7.1" height="8.6" fill="#ffdcd0"/><rect x="413.4" y="95.1" width="7.1" height="8.6" fill="#ffdcd0"/><rect x="420.2" y="95.1" width="7.1" height="8.6" fill="#f5eeff"/><rect x="427.1" y="95.1" width="7.1" height="8.6" fill="#f5eeff"/><rect x="433.9" y="95.1" width="7.1" height="8.6" fill="#ebdcff"/><rect x="440.7" y="95.1" width="7.1" height="8.6" fill="#ebdcff"/><rect x="447.5" y="95.1" width="7.1" height="8.6" fill="#ebdcff"/><rect x="454.4" y="95.1" width="7.1" height="8.6" fill="#dec7ff"/><rect x="461.2" y="95.1" width="7.1" height="8.6" fill="#fff2ee"/><rect x="379.3" y="103.5" width="7.1" height="8.6" fill="#ffbfaa"/><rect x="386.1" y="103.5" width="7.1" height="8.6" fill="#ffbfaa"/><rect x="392.9" y="103.5" width="7.1" height="8.6" fill="#ebdcff"/><rect x="399.8" y="103.5" width="7.1" height="8.6" fill="#fff2ee"/><rect x="406.6" y="103.5" width="7.1" height="8.6" fill="#fcf9ff"/><rect x="413.4" y="103.5" width="7.1" height="8.6" fill="#ff9e81"/><rect x="420.2" y="103.5" width="7.1" height="8.6" fill="#ffdcd0"/><rect x="427.1" y="103.5" width="7.1" height="8.6" fill="#dec7ff"/><rect x="433.9" y="103.5" width="7.1" height="8.6" fill="#fff2ee"/><rect x="440.7" y="103.5" width="7.1" height="8.6" fill="#ffdcd0"/><rect x="447.5" y="103.5" width="7.1" height="8.6" fill="#fff2ee"/><rect x="454.4" y="103.5" width="7.1" height="8.6" fill="#ebdcff"/><rect x="461.2" y="103.5" width="7.1" height="8.6" fill="#ebdcff"/><rect x="379.3" y="111.8" width="7.1" height="8.6" fill="#ffdcd0"/><rect x="386.1" y="111.8" width="7.1" height="8.6" fill="#fff2ee"/><rect x="392.9" y="111.8" width="7.1" height="8.6" fill="#fff2ee"/><rect x="399.8" y="111.8" width="7.1" height="8.6" fill="#fcf9ff"/><rect x="406.6" y="111.8" width="7.1" height="8.6" fill="#f5eeff"/><rect x="413.4" y="111.8" width="7.1" height="8.6" fill="#f5eeff"/><rect x="420.2" y="111.8" width="7.1" height="8.6" fill="#fff2ee"/><rect x="427.1" y="111.8" width="7.1" height="8.6" fill="#ebdcff"/><rect x="433.9" y="111.8" width="7.1" height="8.6" fill="#ebdcff"/><rect x="440.7" y="111.8" width="7.1" height="8.6" fill="#f5eeff"/><rect x="447.5" y="111.8" width="7.1" height="8.6" fill="#ebdcff"/><rect x="454.4" y="111.8" width="7.1" height="8.6" fill="#ebdcff"/><rect x="461.2" y="111.8" width="7.1" height="8.6" fill="#f5eeff"/><rect x="379.3" y="120.1" width="7.1" height="8.6" fill="#f5eeff"/><rect x="386.1" y="120.1" width="7.1" height="8.6" fill="#f5eeff"/><rect x="392.9" y="120.1" width="7.1" height="8.6" fill="#fff2ee"/><rect x="399.8" y="120.1" width="7.1" height="8.6" fill="#ffdcd0"/><rect x="406.6" y="120.1" width="7.1" height="8.6" fill="#f5eeff"/><rect x="413.4" y="120.1" width="7.1" height="8.6" fill="#f5eeff"/><rect x="420.2" y="120.1" width="7.1" height="8.6" fill="#f5eeff"/><rect x="427.1" y="120.1" width="7.1" height="8.6" fill="#f5eeff"/><rect x="433.9" y="120.1" width="7.1" height="8.6" fill="#f5eeff"/><rect x="440.7" y="120.1" width="7.1" height="8.6" fill="#f5eeff"/><rect x="447.5" y="120.1" width="7.1" height="8.6" fill="#f5eeff"/><rect x="454.4" y="120.1" width="7.1" height="8.6" fill="#f5eeff"/><rect x="461.2" y="120.1" width="7.1" height="8.6" fill="#f5eeff"/><rect x="379.3" y="130.7" width="7.1" height="8.5" fill="#ffdcd0"/><rect x="386.1" y="130.7" width="7.1" height="8.5" fill="#ebdcff"/><rect x="392.9" y="130.7" width="7.1" height="8.5" fill="#ffbfaa"/><rect x="399.8" y="130.7" width="7.1" height="8.5" fill="#ebdcff"/><rect x="406.6" y="130.7" width="7.1" height="8.5" fill="#ffdcd0"/><rect x="413.4" y="130.7" width="7.1" height="8.5" fill="#ffdcd0"/><rect x="420.2" y="130.7" width="7.1" height="8.5" fill="#f5eeff"/><rect x="427.1" y="130.7" width="7.1" height="8.5" fill="#ffdcd0"/><rect x="433.9" y="130.7" width="7.1" height="8.5" fill="#fcf9ff"/><rect x="440.7" y="130.7" width="7.1" height="8.5" fill="#f5eeff"/><rect x="447.5" y="130.7" width="7.1" height="8.5" fill="#ebdcff"/><rect x="454.4" y="130.7" width="7.1" height="8.5" fill="#dec7ff"/><rect x="461.2" y="130.7" width="7.1" height="8.5" fill="#fff2ee"/><rect x="379.3" y="138.9" width="7.1" height="8.5" fill="#ebdcff"/><rect x="386.1" y="138.9" width="7.1" height="8.5" fill="#dec7ff"/><rect x="392.9" y="138.9" width="7.1" height="8.5" fill="#fff2ee"/><rect x="399.8" y="138.9" width="7.1" height="8.5" fill="#b993ff"/><rect x="406.6" y="138.9" width="7.1" height="8.5" fill="#ebdcff"/><rect x="413.4" y="138.9" width="7.1" height="8.5" fill="#ffbfaa"/><rect x="420.2" y="138.9" width="7.1" height="8.5" fill="#f5eeff"/><rect x="427.1" y="138.9" width="7.1" height="8.5" fill="#ffdcd0"/><rect x="433.9" y="138.9" width="7.1" height="8.5" fill="#ffbfaa"/><rect x="440.7" y="138.9" width="7.1" height="8.5" fill="#ffdcd0"/><rect x="447.5" y="138.9" width="7.1" height="8.5" fill="#ffdcd0"/><rect x="454.4" y="138.9" width="7.1" height="8.5" fill="#dec7ff"/><rect x="461.2" y="138.9" width="7.1" height="8.5" fill="#fff2ee"/><rect x="379.3" y="147.0" width="7.1" height="8.5" fill="#ffdcd0"/><rect x="386.1" y="147.0" width="7.1" height="8.5" fill="#fff2ee"/><rect x="392.9" y="147.0" width="7.1" height="8.5" fill="#fff2ee"/><rect x="399.8" y="147.0" width="7.1" height="8.5" fill="#dec7ff"/><rect x="406.6" y="147.0" width="7.1" height="8.5" fill="#dec7ff"/><rect x="413.4" y="147.0" width="7.1" height="8.5" fill="#ffbfaa"/><rect x="420.2" y="147.0" width="7.1" height="8.5" fill="#fff2ee"/><rect x="427.1" y="147.0" width="7.1" height="8.5" fill="#fcf9ff"/><rect x="433.9" y="147.0" width="7.1" height="8.5" fill="#fcf9ff"/><rect x="440.7" y="147.0" width="7.1" height="8.5" fill="#ebdcff"/><rect x="447.5" y="147.0" width="7.1" height="8.5" fill="#ff9e81"/><rect x="454.4" y="147.0" width="7.1" height="8.5" fill="#dec7ff"/><rect x="461.2" y="147.0" width="7.1" height="8.5" fill="#dec7ff"/><rect x="379.3" y="157.6" width="7.1" height="8.6" fill="#ffdcd0"/><rect x="386.1" y="157.6" width="7.1" height="8.6" fill="#dec7ff"/><rect x="392.9" y="157.6" width="7.1" height="8.6" fill="#ff7b5a"/><rect x="399.8" y="157.6" width="7.1" height="8.6" fill="#fcf9ff"/><rect x="406.6" y="157.6" width="7.1" height="8.6" fill="#ebdcff"/><rect x="413.4" y="157.6" width="7.1" height="8.6" fill="#ebdcff"/><rect x="420.2" y="157.6" width="7.1" height="8.6" fill="#f5eeff"/><rect x="427.1" y="157.6" width="7.1" height="8.6" fill="#ebdcff"/><rect x="433.9" y="157.6" width="7.1" height="8.6" fill="#ffdcd0"/><rect x="440.7" y="157.6" width="7.1" height="8.6" fill="#dec7ff"/><rect x="447.5" y="157.6" width="7.1" height="8.6" fill="#ebdcff"/><rect x="454.4" y="157.6" width="7.1" height="8.6" fill="#ebdcff"/><rect x="461.2" y="157.6" width="7.1" height="8.6" fill="#f5eeff"/><rect x="379.3" y="165.9" width="7.1" height="8.6" fill="#ff5232"/><rect x="386.1" y="165.9" width="7.1" height="8.6" fill="#ffbfaa"/><rect x="392.9" y="165.9" width="7.1" height="8.6" fill="#fff2ee"/><rect x="399.8" y="165.9" width="7.1" height="8.6" fill="#dec7ff"/><rect x="406.6" y="165.9" width="7.1" height="8.6" fill="#dec7ff"/><rect x="413.4" y="165.9" width="7.1" height="8.6" fill="#ebdcff"/><rect x="420.2" y="165.9" width="7.1" height="8.6" fill="#ffbfaa"/><rect x="427.1" y="165.9" width="7.1" height="8.6" fill="#ebdcff"/><rect x="433.9" y="165.9" width="7.1" height="8.6" fill="#ffdcd0"/><rect x="440.7" y="165.9" width="7.1" height="8.6" fill="#fff2ee"/><rect x="447.5" y="165.9" width="7.1" height="8.6" fill="#ccadff"/><rect x="454.4" y="165.9" width="7.1" height="8.6" fill="#ebdcff"/><rect x="461.2" y="165.9" width="7.1" height="8.6" fill="#f5eeff"/><rect x="379.3" y="174.2" width="7.1" height="8.6" fill="#ff5232"/><rect x="386.1" y="174.2" width="7.1" height="8.6" fill="#b993ff"/><rect x="392.9" y="174.2" width="7.1" height="8.6" fill="#ffbfaa"/><rect x="399.8" y="174.2" width="7.1" height="8.6" fill="#b993ff"/><rect x="406.6" y="174.2" width="7.1" height="8.6" fill="#fcf9ff"/><rect x="413.4" y="174.2" width="7.1" height="8.6" fill="#ff7b5a"/><rect x="420.2" y="174.2" width="7.1" height="8.6" fill="#ebdcff"/><rect x="427.1" y="174.2" width="7.1" height="8.6" fill="#f5eeff"/><rect x="433.9" y="174.2" width="7.1" height="8.6" fill="#ebdcff"/><rect x="440.7" y="174.2" width="7.1" height="8.6" fill="#fcf9ff"/><rect x="447.5" y="174.2" width="7.1" height="8.6" fill="#ebdcff"/><rect x="454.4" y="174.2" width="7.1" height="8.6" fill="#ebdcff"/><rect x="461.2" y="174.2" width="7.1" height="8.6" fill="#ebdcff"/><rect x="379.3" y="182.4" width="7.1" height="8.6" fill="#ff0000"/><rect x="386.1" y="182.4" width="7.1" height="8.6" fill="#ff9e81"/><rect x="392.9" y="182.4" width="7.1" height="8.6" fill="#ffdcd0"/><rect x="399.8" y="182.4" width="7.1" height="8.6" fill="#ebdcff"/><rect x="406.6" y="182.4" width="7.1" height="8.6" fill="#ffbfaa"/><rect x="413.4" y="182.4" width="7.1" height="8.6" fill="#ffbfaa"/><rect x="420.2" y="182.4" width="7.1" height="8.6" fill="#ffdcd0"/><rect x="427.1" y="182.4" width="7.1" height="8.6" fill="#ebdcff"/><rect x="433.9" y="182.4" width="7.1" height="8.6" fill="#ebdcff"/><rect x="440.7" y="182.4" width="7.1" height="8.6" fill="#dec7ff"/><rect x="447.5" y="182.4" width="7.1" height="8.6" fill="#ccadff"/><rect x="454.4" y="182.4" width="7.1" height="8.6" fill="#fff2ee"/><rect x="461.2" y="182.4" width="7.1" height="8.6" fill="#fff2ee"/><rect x="379.3" y="190.7" width="7.1" height="8.6" fill="#ff0000"/><rect x="386.1" y="190.7" width="7.1" height="8.6" fill="#ffdcd0"/><rect x="392.9" y="190.7" width="7.1" height="8.6" fill="#ff3118"/><rect x="399.8" y="190.7" width="7.1" height="8.6" fill="#ffbfaa"/><rect x="406.6" y="190.7" width="7.1" height="8.6" fill="#fff2ee"/><rect x="413.4" y="190.7" width="7.1" height="8.6" fill="#ffdcd0"/><rect x="420.2" y="190.7" width="7.1" height="8.6" fill="#ffbfaa"/><rect x="427.1" y="190.7" width="7.1" height="8.6" fill="#ffdcd0"/><rect x="433.9" y="190.7" width="7.1" height="8.6" fill="#ebdcff"/><rect x="440.7" y="190.7" width="7.1" height="8.6" fill="#dec7ff"/><rect x="447.5" y="190.7" width="7.1" height="8.6" fill="#ebdcff"/><rect x="454.4" y="190.7" width="7.1" height="8.6" fill="#f5eeff"/><rect x="461.2" y="190.7" width="7.1" height="8.6" fill="#dec7ff"/><rect x="379.3" y="201.3" width="7.1" height="8.6" fill="#f5eeff"/><rect x="386.1" y="201.3" width="7.1" height="8.6" fill="#f5eeff"/><rect x="392.9" y="201.3" width="7.1" height="8.6" fill="#fff2ee"/><rect x="399.8" y="201.3" width="7.1" height="8.6" fill="#f5eeff"/><rect x="406.6" y="201.3" width="7.1" height="8.6" fill="#ff9e81"/><rect x="413.4" y="201.3" width="7.1" height="8.6" fill="#ebdcff"/><rect x="420.2" y="201.3" width="7.1" height="8.6" fill="#f5eeff"/><rect x="427.1" y="201.3" width="7.1" height="8.6" fill="#f5eeff"/><rect x="433.9" y="201.3" width="7.1" height="8.6" fill="#f5eeff"/><rect x="440.7" y="201.3" width="7.1" height="8.6" fill="#ebdcff"/><rect x="447.5" y="201.3" width="7.1" height="8.6" fill="#ebdcff"/><rect x="454.4" y="201.3" width="7.1" height="8.6" fill="#fff2ee"/><rect x="461.2" y="201.3" width="7.1" height="8.6" fill="#ff7b5a"/><rect x="379.3" y="209.6" width="7.1" height="8.6" fill="#f5eeff"/><rect x="386.1" y="209.6" width="7.1" height="8.6" fill="#f5eeff"/><rect x="392.9" y="209.6" width="7.1" height="8.6" fill="#f5eeff"/><rect x="399.8" y="209.6" width="7.1" height="8.6" fill="#f5eeff"/><rect x="406.6" y="209.6" width="7.1" height="8.6" fill="#ffdcd0"/><rect x="413.4" y="209.6" width="7.1" height="8.6" fill="#f5eeff"/><rect x="420.2" y="209.6" width="7.1" height="8.6" fill="#f5eeff"/><rect x="427.1" y="209.6" width="7.1" height="8.6" fill="#f5eeff"/><rect x="433.9" y="209.6" width="7.1" height="8.6" fill="#f5eeff"/><rect x="440.7" y="209.6" width="7.1" height="8.6" fill="#f5eeff"/><rect x="447.5" y="209.6" width="7.1" height="8.6" fill="#f5eeff"/><rect x="454.4" y="209.6" width="7.1" height="8.6" fill="#f5eeff"/><rect x="461.2" y="209.6" width="7.1" height="8.6" fill="#ff0000"/><rect x="379.3" y="217.9" width="7.1" height="8.6" fill="#ffbfaa"/><rect x="386.1" y="217.9" width="7.1" height="8.6" fill="#f5eeff"/><rect x="392.9" y="217.9" width="7.1" height="8.6" fill="#ff9e81"/><rect x="399.8" y="217.9" width="7.1" height="8.6" fill="#ebdcff"/><rect x="406.6" y="217.9" width="7.1" height="8.6" fill="#ff7b5a"/><rect x="413.4" y="217.9" width="7.1" height="8.6" fill="#fff2ee"/><rect x="420.2" y="217.9" width="7.1" height="8.6" fill="#ff7b5a"/><rect x="427.1" y="217.9" width="7.1" height="8.6" fill="#ebdcff"/><rect x="433.9" y="217.9" width="7.1" height="8.6" fill="#ebdcff"/><rect x="440.7" y="217.9" width="7.1" height="8.6" fill="#ebdcff"/><rect x="447.5" y="217.9" width="7.1" height="8.6" fill="#ebdcff"/><rect x="454.4" y="217.9" width="7.1" height="8.6" fill="#f5eeff"/><rect x="461.2" y="217.9" width="7.1" height="8.6" fill="#ffdcd0"/><rect x="379.3" y="226.1" width="7.1" height="8.6" fill="#ebdcff"/><rect x="386.1" y="226.1" width="7.1" height="8.6" fill="#fff2ee"/><rect x="392.9" y="226.1" width="7.1" height="8.6" fill="#ffdcd0"/><rect x="399.8" y="226.1" width="7.1" height="8.6" fill="#f5eeff"/><rect x="406.6" y="226.1" width="7.1" height="8.6" fill="#ff9e81"/><rect x="413.4" y="226.1" width="7.1" height="8.6" fill="#fff2ee"/><rect x="420.2" y="226.1" width="7.1" height="8.6" fill="#ffbfaa"/><rect x="427.1" y="226.1" width="7.1" height="8.6" fill="#ebdcff"/><rect x="433.9" y="226.1" width="7.1" height="8.6" fill="#f5eeff"/><rect x="440.7" y="226.1" width="7.1" height="8.6" fill="#f5eeff"/><rect x="447.5" y="226.1" width="7.1" height="8.6" fill="#ccadff"/><rect x="454.4" y="226.1" width="7.1" height="8.6" fill="#ebdcff"/><rect x="461.2" y="226.1" width="7.1" height="8.6" fill="#ffbfaa"/><rect x="379.3" y="236.6" width="7.1" height="8.6" fill="#fff2ee"/><rect x="386.1" y="236.6" width="7.1" height="8.6" fill="#ffdcd0"/><rect x="392.9" y="236.6" width="7.1" height="8.6" fill="#f5eeff"/><rect x="399.8" y="236.6" width="7.1" height="8.6" fill="#ff7b5a"/><rect x="406.6" y="236.6" width="7.1" height="8.6" fill="#ebdcff"/><rect x="413.4" y="236.6" width="7.1" height="8.6" fill="#ebdcff"/><rect x="420.2" y="236.6" width="7.1" height="8.6" fill="#f5eeff"/><rect x="427.1" y="236.6" width="7.1" height="8.6" fill="#ebdcff"/><rect x="433.9" y="236.6" width="7.1" height="8.6" fill="#ebdcff"/><rect x="440.7" y="236.6" width="7.1" height="8.6" fill="#ebdcff"/><rect x="447.5" y="236.6" width="7.1" height="8.6" fill="#f5eeff"/><rect x="454.4" y="236.6" width="7.1" height="8.6" fill="#f5eeff"/><rect x="461.2" y="236.6" width="7.1" height="8.6" fill="#ff9e81"/><rect x="379.3" y="244.9" width="7.1" height="8.6" fill="#ffdcd0"/><rect x="386.1" y="244.9" width="7.1" height="8.6" fill="#ffbfaa"/><rect x="392.9" y="244.9" width="7.1" height="8.6" fill="#ff9e81"/><rect x="399.8" y="244.9" width="7.1" height="8.6" fill="#ff0000"/><rect x="406.6" y="244.9" width="7.1" height="8.6" fill="#ffdcd0"/><rect x="413.4" y="244.9" width="7.1" height="8.6" fill="#fff2ee"/><rect x="420.2" y="244.9" width="7.1" height="8.6" fill="#f5eeff"/><rect x="427.1" y="244.9" width="7.1" height="8.6" fill="#dec7ff"/><rect x="433.9" y="244.9" width="7.1" height="8.6" fill="#dec7ff"/><rect x="440.7" y="244.9" width="7.1" height="8.6" fill="#ebdcff"/><rect x="447.5" y="244.9" width="7.1" height="8.6" fill="#dec7ff"/><rect x="454.4" y="244.9" width="7.1" height="8.6" fill="#ebdcff"/><rect x="461.2" y="244.9" width="7.1" height="8.6" fill="#ff0000"/><rect x="379.3" y="253.2" width="7.1" height="8.6" fill="#f5eeff"/><rect x="386.1" y="253.2" width="7.1" height="8.6" fill="#ffbfaa"/><rect x="392.9" y="253.2" width="7.1" height="8.6" fill="#ff9e81"/><rect x="399.8" y="253.2" width="7.1" height="8.6" fill="#ffdcd0"/><rect x="406.6" y="253.2" width="7.1" height="8.6" fill="#ffbfaa"/><rect x="413.4" y="253.2" width="7.1" height="8.6" fill="#ffdcd0"/><rect x="420.2" y="253.2" width="7.1" height="8.6" fill="#f5eeff"/><rect x="427.1" y="253.2" width="7.1" height="8.6" fill="#f5eeff"/><rect x="433.9" y="253.2" width="7.1" height="8.6" fill="#fff2ee"/><rect x="440.7" y="253.2" width="7.1" height="8.6" fill="#ebdcff"/><rect x="447.5" y="253.2" width="7.1" height="8.6" fill="#ebdcff"/><rect x="454.4" y="253.2" width="7.1" height="8.6" fill="#ebdcff"/><rect x="461.2" y="253.2" width="7.1" height="8.6" fill="#f5eeff"/><rect x="379.3" y="261.5" width="7.1" height="8.6" fill="#ffbfaa"/><rect x="386.1" y="261.5" width="7.1" height="8.6" fill="#ff0000"/><rect x="392.9" y="261.5" width="7.1" height="8.6" fill="#ff9e81"/><rect x="399.8" y="261.5" width="7.1" height="8.6" fill="#ff7b5a"/><rect x="406.6" y="261.5" width="7.1" height="8.6" fill="#fff2ee"/><rect x="413.4" y="261.5" width="7.1" height="8.6" fill="#f5eeff"/><rect x="420.2" y="261.5" width="7.1" height="8.6" fill="#ebdcff"/><rect x="427.1" y="261.5" width="7.1" height="8.6" fill="#ebdcff"/><rect x="433.9" y="261.5" width="7.1" height="8.6" fill="#dec7ff"/><rect x="440.7" y="261.5" width="7.1" height="8.6" fill="#dec7ff"/><rect x="447.5" y="261.5" width="7.1" height="8.6" fill="#ccadff"/><rect x="454.4" y="261.5" width="7.1" height="8.6" fill="#ebdcff"/><rect x="461.2" y="261.5" width="7.1" height="8.6" fill="#ebdcff"/><rect x="379.3" y="269.8" width="7.1" height="8.6" fill="#ffbfaa"/><rect x="386.1" y="269.8" width="7.1" height="8.6" fill="#ffdcd0"/><rect x="392.9" y="269.8" width="7.1" height="8.6" fill="#ff9e81"/><rect x="399.8" y="269.8" width="7.1" height="8.6" fill="#ff9e81"/><rect x="406.6" y="269.8" width="7.1" height="8.6" fill="#ebdcff"/><rect x="413.4" y="269.8" width="7.1" height="8.6" fill="#fff2ee"/><rect x="420.2" y="269.8" width="7.1" height="8.6" fill="#fff2ee"/><rect x="427.1" y="269.8" width="7.1" height="8.6" fill="#f5eeff"/><rect x="433.9" y="269.8" width="7.1" height="8.6" fill="#fff2ee"/><rect x="440.7" y="269.8" width="7.1" height="8.6" fill="#f5eeff"/><rect x="447.5" y="269.8" width="7.1" height="8.6" fill="#dec7ff"/><rect x="454.4" y="269.8" width="7.1" height="8.6" fill="#dec7ff"/><rect x="461.2" y="269.8" width="7.1" height="8.6" fill="#fcf9ff"/><rect x="379.3" y="280.3" width="7.1" height="8.6" fill="#ff9e81"/><rect x="386.1" y="280.3" width="7.1" height="8.6" fill="#ff0000"/><rect x="392.9" y="280.3" width="7.1" height="8.6" fill="#ffbfaa"/><rect x="399.8" y="280.3" width="7.1" height="8.6" fill="#fcf9ff"/><rect x="406.6" y="280.3" width="7.1" height="8.6" fill="#ccadff"/><rect x="413.4" y="280.3" width="7.1" height="8.6" fill="#ffdcd0"/><rect x="420.2" y="280.3" width="7.1" height="8.6" fill="#fff2ee"/><rect x="427.1" y="280.3" width="7.1" height="8.6" fill="#ffdcd0"/><rect x="433.9" y="280.3" width="7.1" height="8.6" fill="#f5eeff"/><rect x="440.7" y="280.3" width="7.1" height="8.6" fill="#f5eeff"/><rect x="447.5" y="280.3" width="7.1" height="8.6" fill="#fff2ee"/><rect x="454.4" y="280.3" width="7.1" height="8.6" fill="#ffdcd0"/><rect x="461.2" y="280.3" width="7.1" height="8.6" fill="#ebdcff"/><rect x="379.3" y="288.6" width="7.1" height="8.6" fill="#fff2ee"/><rect x="386.1" y="288.6" width="7.1" height="8.6" fill="#fcf9ff"/><rect x="392.9" y="288.6" width="7.1" height="8.6" fill="#ff7b5a"/><rect x="399.8" y="288.6" width="7.1" height="8.6" fill="#ff5232"/><rect x="406.6" y="288.6" width="7.1" height="8.6" fill="#ebdcff"/><rect x="413.4" y="288.6" width="7.1" height="8.6" fill="#dec7ff"/><rect x="420.2" y="288.6" width="7.1" height="8.6" fill="#fcf9ff"/><rect x="427.1" y="288.6" width="7.1" height="8.6" fill="#fcf9ff"/><rect x="433.9" y="288.6" width="7.1" height="8.6" fill="#dec7ff"/><rect x="440.7" y="288.6" width="7.1" height="8.6" fill="#f5eeff"/><rect x="447.5" y="288.6" width="7.1" height="8.6" fill="#ccadff"/><rect x="454.4" y="288.6" width="7.1" height="8.6" fill="#ccadff"/><rect x="461.2" y="288.6" width="7.1" height="8.6" fill="#dec7ff"/><rect x="379.3" y="296.8" width="7.1" height="8.6" fill="#f5eeff"/><rect x="386.1" y="296.8" width="7.1" height="8.6" fill="#f5eeff"/><rect x="392.9" y="296.8" width="7.1" height="8.6" fill="#ebdcff"/><rect x="399.8" y="296.8" width="7.1" height="8.6" fill="#ffbfaa"/><rect x="406.6" y="296.8" width="7.1" height="8.6" fill="#f5eeff"/><rect x="413.4" y="296.8" width="7.1" height="8.6" fill="#f5eeff"/><rect x="420.2" y="296.8" width="7.1" height="8.6" fill="#f5eeff"/><rect x="427.1" y="296.8" width="7.1" height="8.6" fill="#f5eeff"/><rect x="433.9" y="296.8" width="7.1" height="8.6" fill="#f5eeff"/><rect x="440.7" y="296.8" width="7.1" height="8.6" fill="#f5eeff"/><rect x="447.5" y="296.8" width="7.1" height="8.6" fill="#f5eeff"/><rect x="454.4" y="296.8" width="7.1" height="8.6" fill="#f5eeff"/><rect x="461.2" y="296.8" width="7.1" height="8.6" fill="#f5eeff"/><rect x="379.3" y="305.1" width="7.1" height="8.6" fill="#ebdcff"/><rect x="386.1" y="305.1" width="7.1" height="8.6" fill="#fff2ee"/><rect x="392.9" y="305.1" width="7.1" height="8.6" fill="#ebdcff"/><rect x="399.8" y="305.1" width="7.1" height="8.6" fill="#ebdcff"/><rect x="406.6" y="305.1" width="7.1" height="8.6" fill="#fcf9ff"/><rect x="413.4" y="305.1" width="7.1" height="8.6" fill="#f5eeff"/><rect x="420.2" y="305.1" width="7.1" height="8.6" fill="#ebdcff"/><rect x="427.1" y="305.1" width="7.1" height="8.6" fill="#ebdcff"/><rect x="433.9" y="305.1" width="7.1" height="8.6" fill="#ebdcff"/><rect x="440.7" y="305.1" width="7.1" height="8.6" fill="#ebdcff"/><rect x="447.5" y="305.1" width="7.1" height="8.6" fill="#ebdcff"/><rect x="454.4" y="305.1" width="7.1" height="8.6" fill="#ebdcff"/><rect x="461.2" y="305.1" width="7.1" height="8.6" fill="#fff2ee"/><rect x="379.3" y="313.3" width="7.1" height="8.6" fill="#ebdcff"/><rect x="386.1" y="313.3" width="7.1" height="8.6" fill="#ffdcd0"/><rect x="392.9" y="313.3" width="7.1" height="8.6" fill="#fff2ee"/><rect x="399.8" y="313.3" width="7.1" height="8.6" fill="#dec7ff"/><rect x="406.6" y="313.3" width="7.1" height="8.6" fill="#ffdcd0"/><rect x="413.4" y="313.3" width="7.1" height="8.6" fill="#ffdcd0"/><rect x="420.2" y="313.3" width="7.1" height="8.6" fill="#f5eeff"/><rect x="427.1" y="313.3" width="7.1" height="8.6" fill="#ffdcd0"/><rect x="433.9" y="313.3" width="7.1" height="8.6" fill="#ffbfaa"/><rect x="440.7" y="313.3" width="7.1" height="8.6" fill="#f5eeff"/><rect x="447.5" y="313.3" width="7.1" height="8.6" fill="#dec7ff"/><rect x="454.4" y="313.3" width="7.1" height="8.6" fill="#ebdcff"/><rect x="461.2" y="313.3" width="7.1" height="8.6" fill="#ccadff"/><rect x="379.3" y="321.6" width="7.1" height="8.6" fill="#ffdcd0"/><rect x="386.1" y="321.6" width="7.1" height="8.6" fill="#ffdcd0"/><rect x="392.9" y="321.6" width="7.1" height="8.6" fill="#f5eeff"/><rect x="399.8" y="321.6" width="7.1" height="8.6" fill="#dec7ff"/><rect x="406.6" y="321.6" width="7.1" height="8.6" fill="#fff2ee"/><rect x="413.4" y="321.6" width="7.1" height="8.6" fill="#f5eeff"/><rect x="420.2" y="321.6" width="7.1" height="8.6" fill="#ebdcff"/><rect x="427.1" y="321.6" width="7.1" height="8.6" fill="#fcf9ff"/><rect x="433.9" y="321.6" width="7.1" height="8.6" fill="#f5eeff"/><rect x="440.7" y="321.6" width="7.1" height="8.6" fill="#ebdcff"/><rect x="447.5" y="321.6" width="7.1" height="8.6" fill="#ebdcff"/><rect x="454.4" y="321.6" width="7.1" height="8.6" fill="#dec7ff"/><rect x="461.2" y="321.6" width="7.1" height="8.6" fill="#f5eeff"/><rect x="379.3" y="329.8" width="7.1" height="8.6" fill="#ff7b5a"/><rect x="386.1" y="329.8" width="7.1" height="8.6" fill="#ffdcd0"/><rect x="392.9" y="329.8" width="7.1" height="8.6" fill="#ff9e81"/><rect x="399.8" y="329.8" width="7.1" height="8.6" fill="#ebdcff"/><rect x="406.6" y="329.8" width="7.1" height="8.6" fill="#ffbfaa"/><rect x="413.4" y="329.8" width="7.1" height="8.6" fill="#fff2ee"/><rect x="420.2" y="329.8" width="7.1" height="8.6" fill="#5c34ff"/><rect x="427.1" y="329.8" width="7.1" height="8.6" fill="#dec7ff"/><rect x="433.9" y="329.8" width="7.1" height="8.6" fill="#fcf9ff"/><rect x="440.7" y="329.8" width="7.1" height="8.6" fill="#f5eeff"/><rect x="447.5" y="329.8" width="7.1" height="8.6" fill="#f5eeff"/><rect x="454.4" y="329.8" width="7.1" height="8.6" fill="#ebdcff"/><rect x="461.2" y="329.8" width="7.1" height="8.6" fill="#ebdcff"/></g>
<rect x="379.30" y="60.30" width="88.70" height="16.00" fill="none" stroke="#333" stroke-width="1"/>
<rect x="379.30" y="78.50" width="88.70" height="49.90" fill="none" stroke="#333" stroke-width="1"/>
<rect x="379.30" y="130.70" width="88.70" height="24.50" fill="none" stroke="#333" stroke-width="1"/>
<rect x="379.30" y="157.60" width="88.70" height="41.40" fill="none" stroke="#333" stroke-width="1"/>
<rect x="379.30" y="201.30" width="88.70" height="33.10" fill="none" stroke="#333" stroke-width="1"/>
<rect x="379.30" y="236.60" width="88.70" height="41.50" fill="none" stroke="#333" stroke-width="1"/>
<rect x="379.30" y="280.30" width="88.70" height="57.80" fill="none" stroke="#333" stroke-width="1"/>
<text transform="translate(386.11,340.6) rotate(-90)" font-size="6.8" text-anchor="end">*02</text>
<text transform="translate(392.93,340.6) rotate(-90)" font-size="6.8" text-anchor="end">08</text>
<text transform="translate(399.76,340.6) rotate(-90)" font-size="6.8" text-anchor="end">11</text>
<text transform="translate(406.58,340.6) rotate(-90)" font-size="6.8" text-anchor="end">*12</text>
<text transform="translate(413.40,340.6) rotate(-90)" font-size="6.8" text-anchor="end">13</text>
<text transform="translate(420.23,340.6) rotate(-90)" font-size="6.8" text-anchor="end">06</text>
<text transform="translate(427.05,340.6) rotate(-90)" font-size="6.8" text-anchor="end">*09</text>
<text transform="translate(433.87,340.6) rotate(-90)" font-size="6.8" text-anchor="end">01</text>
<text transform="translate(440.70,340.6) rotate(-90)" font-size="6.8" text-anchor="end">04</text>
<text transform="translate(447.52,340.6) rotate(-90)" font-size="6.8" text-anchor="end">16</text>
<text transform="translate(454.34,340.6) rotate(-90)" font-size="6.8" text-anchor="end">07</text>
<text transform="translate(461.17,340.6) rotate(-90)" font-size="6.8" text-anchor="end">10</text>
<text transform="translate(467.99,340.6) rotate(-90)" font-size="6.8" text-anchor="end">05</text>
<text x="509.3" y="14.8" class="b" font-size="9.3" text-anchor="middle">30M</text>
<path d="M481.31,45.60V40.10H488.12V45.60M508.55,45.60V41.00H515.35V45.60M501.74,45.60V40.30H511.95V41.00M494.93,45.60V38.20H506.84V40.30M484.72,40.10V36.60H500.89V38.20M542.59,45.60V40.10H549.40V45.60M535.78,45.60V39.50H545.99V40.10M528.97,45.60V38.60H540.89V39.50M522.16,45.60V37.00H534.93V38.60M492.80,36.60V36.40H528.55V37.00M474.50,45.60V33.00H510.67V36.40" fill="none" stroke="#222" stroke-width="0.8"/>
<rect x="471.10" y="46.1" width="81.70" height="11.4" fill="#225ea8" stroke="#2a2a2a" stroke-width="1"/>
<g shape-rendering="crispEdges"><rect x="471.1" y="60.3" width="7.1" height="8.3" fill="#f5eeff"/><rect x="477.9" y="60.3" width="7.1" height="8.3" fill="#ebdcff"/><rect x="484.7" y="60.3" width="7.1" height="8.3" fill="#f5eeff"/><rect x="491.5" y="60.3" width="7.1" height="8.3" fill="#f5eeff"/><rect x="498.3" y="60.3" width="7.1" height="8.3" fill="#f5eeff"/><rect x="505.1" y="60.3" width="7.1" height="8.3" fill="#ffdcd0"/><rect x="511.9" y="60.3" width="7.1" height="8.3" fill="#f5eeff"/><rect x="518.8" y="60.3" width="7.1" height="8.3" fill="#ebdcff"/><rect x="525.6" y="60.3" width="7.1" height="8.3" fill="#fcf9ff"/><rect x="532.4" y="60.3" width="7.1" height="8.3" fill="#f5eeff"/><rect x="539.2" y="60.3" width="7.1" height="8.3" fill="#fff2ee"/><rect x="546.0" y="60.3" width="7.1" height="8.3" fill="#f5eeff"/><rect x="471.1" y="68.3" width="7.1" height="8.3" fill="#ffdcd0"/><rect x="477.9" y="68.3" width="7.1" height="8.3" fill="#ffdcd0"/><rect x="484.7" y="68.3" width="7.1" height="8.3" fill="#ebdcff"/><rect x="491.5" y="68.3" width="7.1" height="8.3" fill="#ffbfaa"/><rect x="498.3" y="68.3" width="7.1" height="8.3" fill="#ffbfaa"/><rect x="505.1" y="68.3" width="7.1" height="8.3" fill="#ff5232"/><rect x="511.9" y="68.3" width="7.1" height="8.3" fill="#ffbfaa"/><rect x="518.8" y="68.3" width="7.1" height="8.3" fill="#dec7ff"/><rect x="525.6" y="68.3" width="7.1" height="8.3" fill="#ebdcff"/><rect x="532.4" y="68.3" width="7.1" height="8.3" fill="#f5eeff"/><rect x="539.2" y="68.3" width="7.1" height="8.3" fill="#dec7ff"/><rect x="546.0" y="68.3" width="7.1" height="8.3" fill="#ccadff"/><rect x="471.1" y="78.5" width="7.1" height="8.6" fill="#ebdcff"/><rect x="477.9" y="78.5" width="7.1" height="8.6" fill="#fff2ee"/><rect x="484.7" y="78.5" width="7.1" height="8.6" fill="#ebdcff"/><rect x="491.5" y="78.5" width="7.1" height="8.6" fill="#f5eeff"/><rect x="498.3" y="78.5" width="7.1" height="8.6" fill="#ebdcff"/><rect x="505.1" y="78.5" width="7.1" height="8.6" fill="#ebdcff"/><rect x="511.9" y="78.5" width="7.1" height="8.6" fill="#ebdcff"/><rect x="518.8" y="78.5" width="7.1" height="8.6" fill="#ff9e81"/><rect x="525.6" y="78.5" width="7.1" height="8.6" fill="#fff2ee"/><rect x="532.4" y="78.5" width="7.1" height="8.6" fill="#ebdcff"/><rect x="539.2" y="78.5" width="7.1" height="8.6" fill="#ebdcff"/><rect x="546.0" y="78.5" width="7.1" height="8.6" fill="#f5eeff"/><rect x="471.1" y="86.8" width="7.1" height="8.6" fill="#ebdcff"/><rect x="477.9" y="86.8" width="7.1" height="8.6" fill="#ebdcff"/><rect x="484.7" y="86.8" width="7.1" height="8.6" fill="#ebdcff"/><rect x="491.5" y="86.8" width="7.1" height="8.6" fill="#ebdcff"/><rect x="498.3" y="86.8" width="7.1" height="8.6" fill="#ebdcff"/><rect x="505.1" y="86.8" width="7.1" height="8.6" fill="#fcf9ff"/><rect x="511.9" y="86.8" width="7.1" height="8.6" fill="#f5eeff"/><rect x="518.8" y="86.8" width="7.1" height="8.6" fill="#ffdcd0"/><rect x="525.6" y="86.8" width="7.1" height="8.6" fill="#ebdcff"/><rect x="532.4" y="86.8" width="7.1" height="8.6" fill="#f5eeff"/><rect x="539.2" y="86.8" width="7.1" height="8.6" fill="#ebdcff"/><rect x="546.0" y="86.8" width="7.1" height="8.6" fill="#ebdcff"/><rect x="471.1" y="95.1" width="7.1" height="8.6" fill="#f5eeff"/><rect x="477.9" y="95.1" width="7.1" height="8.6" fill="#f5eeff"/><rect x="484.7" y="95.1" width="7.1" height="8.6" fill="#f5eeff"/><rect x="491.5" y="95.1" width="7.1" height="8.6" fill="#dec7ff"/><rect x="498.3" y="95.1" width="7.1" height="8.6" fill="#dec7ff"/><rect x="505.1" y="95.1" width="7.1" height="8.6" fill="#fff2ee"/><rect x="511.9" y="95.1" width="7.1" height="8.6" fill="#dec7ff"/><rect x="518.8" y="95.1" width="7.1" height="8.6" fill="#f5eeff"/><rect x="525.6" y="95.1" width="7.1" height="8.6" fill="#fcf9ff"/><rect x="532.4" y="95.1" width="7.1" height="8.6" fill="#dec7ff"/><rect x="539.2" y="95.1" width="7.1" height="8.6" fill="#ebdcff"/><rect x="546.0" y="95.1" width="7.1" height="8.6" fill="#dec7ff"/><rect x="471.1" y="103.5" width="7.1" height="8.6" fill="#dec7ff"/><rect x="477.9" y="103.5" width="7.1" height="8.6" fill="#ff9e81"/><rect x="484.7" y="103.5" width="7.1" height="8.6" fill="#ffdcd0"/><rect x="491.5" y="103.5" width="7.1" height="8.6" fill="#ffbfaa"/><rect x="498.3" y="103.5" width="7.1" height="8.6" fill="#f5eeff"/><rect x="505.1" y="103.5" width="7.1" height="8.6" fill="#ebdcff"/><rect x="511.9" y="103.5" width="7.1" height="8.6" fill="#dec7ff"/><rect x="518.8" y="103.5" width="7.1" height="8.6" fill="#fff2ee"/><rect x="525.6" y="103.5" width="7.1" height="8.6" fill="#fcf9ff"/><rect x="532.4" y="103.5" width="7.1" height="8.6" fill="#fff2ee"/><rect x="539.2" y="103.5" width="7.1" height="8.6" fill="#ccadff"/><rect x="546.0" y="103.5" width="7.1" height="8.6" fill="#f5eeff"/><rect x="471.1" y="111.8" width="7.1" height="8.6" fill="#ffbfaa"/><rect x="477.9" y="111.8" width="7.1" height="8.6" fill="#f5eeff"/><rect x="484.7" y="111.8" width="7.1" height="8.6" fill="#fcf9ff"/><rect x="491.5" y="111.8" width="7.1" height="8.6" fill="#ebdcff"/><rect x="498.3" y="111.8" width="7.1" height="8.6" fill="#ebdcff"/><rect x="505.1" y="111.8" width="7.1" height="8.6" fill="#f5eeff"/><rect x="511.9" y="111.8" width="7.1" height="8.6" fill="#f5eeff"/><rect x="518.8" y="111.8" width="7.1" height="8.6" fill="#ff9e81"/><rect x="525.6" y="111.8" width="7.1" height="8.6" fill="#fcf9ff"/><rect x="532.4" y="111.8" width="7.1" height="8.6" fill="#f5eeff"/><rect x="539.2" y="111.8" width="7.1" height="8.6" fill="#f5eeff"/><rect x="546.0" y="111.8" width="7.1" height="8.6" fill="#ebdcff"/><rect x="471.1" y="120.1" width="7.1" height="8.6" fill="#fff2ee"/><rect x="477.9" y="120.1" width="7.1" height="8.6" fill="#f5eeff"/><rect x="484.7" y="120.1" width="7.1" height="8.6" fill="#f5eeff"/><rect x="491.5" y="120.1" width="7.1" height="8.6" fill="#f5eeff"/><rect x="498.3" y="120.1" width="7.1" height="8.6" fill="#f5eeff"/><rect x="505.1" y="120.1" width="7.1" height="8.6" fill="#f5eeff"/><rect x="511.9" y="120.1" width="7.1" height="8.6" fill="#f5eeff"/><rect x="518.8" y="120.1" width="7.1" height="8.6" fill="#ff5232"/><rect x="525.6" y="120.1" width="7.1" height="8.6" fill="#f5eeff"/><rect x="532.4" y="120.1" width="7.1" height="8.6" fill="#f5eeff"/><rect x="539.2" y="120.1" width="7.1" height="8.6" fill="#f5eeff"/><rect x="546.0" y="120.1" width="7.1" height="8.6" fill="#f5eeff"/><rect x="471.1" y="130.7" width="7.1" height="8.5" fill="#ffdcd0"/><rect x="477.9" y="130.7" width="7.1" height="8.5" fill="#ffdcd0"/><rect x="484.7" y="130.7" width="7.1" height="8.5" fill="#ffdcd0"/><rect x="491.5" y="130.7" width="7.1" height="8.5" fill="#fff2ee"/><rect x="498.3" y="130.7" width="7.1" height="8.5" fill="#fff2ee"/><rect x="505.1" y="130.7" width="7.1" height="8.5" fill="#dec7ff"/><rect x="511.9" y="130.7" width="7.1" height="8.5" fill="#ebdcff"/><rect x="518.8" y="130.7" width="7.1" height="8.5" fill="#fff2ee"/><rect x="525.6" y="130.7" width="7.1" height="8.5" fill="#f5eeff"/><rect x="532.4" y="130.7" width="7.1" height="8.5" fill="#ebdcff"/><rect x="539.2" y="130.7" width="7.1" height="8.5" fill="#f5eeff"/><rect x="546.0" y="130.7" width="7.1" height="8.5" fill="#ebdcff"/><rect x="471.1" y="138.9" width="7.1" height="8.5" fill="#ffdcd0"/><rect x="477.9" y="138.9" width="7.1" height="8.5" fill="#ff9e81"/><rect x="484.7" y="138.9" width="7.1" height="8.5" fill="#ffdcd0"/><rect x="491.5" y="138.9" width="7.1" height="8.5" fill="#ff9e81"/><rect x="498.3" y="138.9" width="7.1" height="8.5" fill="#ebdcff"/><rect x="505.1" y="138.9" width="7.1" height="8.5" fill="#ebdcff"/><rect x="511.9" y="138.9" width="7.1" height="8.5" fill="#fff2ee"/><rect x="518.8" y="138.9" width="7.1" height="8.5" fill="#f5eeff"/><rect x="525.6" y="138.9" width="7.1" height="8.5" fill="#ebdcff"/><rect x="532.4" y="138.9" width="7.1" height="8.5" fill="#ebdcff"/><rect x="539.2" y="138.9" width="7.1" height="8.5" fill="#f5eeff"/><rect x="546.0" y="138.9" width="7.1" height="8.5" fill="#b993ff"/><rect x="471.1" y="147.0" width="7.1" height="8.5" fill="#ffbfaa"/><rect x="477.9" y="147.0" width="7.1" height="8.5" fill="#ff9e81"/><rect x="484.7" y="147.0" width="7.1" height="8.5" fill="#fcf9ff"/><rect x="491.5" y="147.0" width="7.1" height="8.5" fill="#ff5232"/><rect x="498.3" y="147.0" width="7.1" height="8.5" fill="#ffdcd0"/><rect x="505.1" y="147.0" width="7.1" height="8.5" fill="#ebdcff"/><rect x="511.9" y="147.0" width="7.1" height="8.5" fill="#f5eeff"/><rect x="518.8" y="147.0" width="7.1" height="8.5" fill="#dec7ff"/><rect x="525.6" y="147.0" width="7.1" height="8.5" fill="#f5eeff"/><rect x="532.4" y="147.0" width="7.1" height="8.5" fill="#dec7ff"/><rect x="539.2" y="147.0" width="7.1" height="8.5" fill="#dec7ff"/><rect x="546.0" y="147.0" width="7.1" height="8.5" fill="#ccadff"/><rect x="471.1" y="157.6" width="7.1" height="8.6" fill="#ff0000"/><rect x="477.9" y="157.6" width="7.1" height="8.6" fill="#fff2ee"/><rect x="484.7" y="157.6" width="7.1" height="8.6" fill="#fff2ee"/><rect x="491.5" y="157.6" width="7.1" height="8.6" fill="#dec7ff"/><rect x="498.3" y="157.6" width="7.1" height="8.6" fill="#ebdcff"/><rect x="505.1" y="157.6" width="7.1" height="8.6" fill="#ebdcff"/><rect x="511.9" y="157.6" width="7.1" height="8.6" fill="#dec7ff"/><rect x="518.8" y="157.6" width="7.1" height="8.6" fill="#fff2ee"/><rect x="525.6" y="157.6" width="7.1" height="8.6" fill="#dec7ff"/><rect x="532.4" y="157.6" width="7.1" height="8.6" fill="#ebdcff"/><rect x="539.2" y="157.6" width="7.1" height="8.6" fill="#ebdcff"/><rect x="546.0" y="157.6" width="7.1" height="8.6" fill="#ebdcff"/><rect x="471.1" y="165.9" width="7.1" height="8.6" fill="#ff5232"/><rect x="477.9" y="165.9" width="7.1" height="8.6" fill="#f5eeff"/><rect x="484.7" y="165.9" width="7.1" height="8.6" fill="#ffbfaa"/><rect x="491.5" y="165.9" width="7.1" height="8.6" fill="#dec7ff"/><rect x="498.3" y="165.9" width="7.1" height="8.6" fill="#fcf9ff"/><rect x="505.1" y="165.9" width="7.1" height="8.6" fill="#ebdcff"/><rect x="511.9" y="165.9" width="7.1" height="8.6" fill="#ebdcff"/><rect x="518.8" y="165.9" width="7.1" height="8.6" fill="#ffdcd0"/><rect x="525.6" y="165.9" width="7.1" height="8.6" fill="#fff2ee"/><rect x="532.4" y="165.9" width="7.1" height="8.6" fill="#dec7ff"/><rect x="539.2" y="165.9" width="7.1" height="8.6" fill="#fcf9ff"/><rect x="546.0" y="165.9" width="7.1" height="8.6" fill="#dec7ff"/><rect x="471.1" y="174.2" width="7.1" height="8.6" fill="#f5eeff"/><rect x="477.9" y="174.2" width="7.1" height="8.6" fill="#ff9e81"/><rect x="484.7" y="174.2" width="7.1" height="8.6" fill="#ff9e81"/><rect x="491.5" y="174.2" width="7.1" height="8.6" fill="#f5eeff"/><rect x="498.3" y="174.2" width="7.1" height="8.6" fill="#dec7ff"/><rect x="505.1" y="174.2" width="7.1" height="8.6" fill="#ebdcff"/><rect x="511.9" y="174.2" width="7.1" height="8.6" fill="#ebdcff"/><rect x="518.8" y="174.2" width="7.1" height="8.6" fill="#dec7ff"/><rect x="525.6" y="174.2" width="7.1" height="8.6" fill="#b993ff"/><rect x="532.4" y="174.2" width="7.1" height="8.6" fill="#fff2ee"/><rect x="539.2" y="174.2" width="7.1" height="8.6" fill="#ffdcd0"/><rect x="546.0" y="174.2" width="7.1" height="8.6" fill="#ccadff"/><rect x="471.1" y="182.4" width="7.1" height="8.6" fill="#ebdcff"/><rect x="477.9" y="182.4" width="7.1" height="8.6" fill="#ffbfaa"/><rect x="484.7" y="182.4" width="7.1" height="8.6" fill="#ff7b5a"/><rect x="491.5" y="182.4" width="7.1" height="8.6" fill="#ebdcff"/><rect x="498.3" y="182.4" width="7.1" height="8.6" fill="#f5eeff"/><rect x="505.1" y="182.4" width="7.1" height="8.6" fill="#dec7ff"/><rect x="511.9" y="182.4" width="7.1" height="8.6" fill="#dec7ff"/><rect x="518.8" y="182.4" width="7.1" height="8.6" fill="#dec7ff"/><rect x="525.6" y="182.4" width="7.1" height="8.6" fill="#ffdcd0"/><rect x="532.4" y="182.4" width="7.1" height="8.6" fill="#fcf9ff"/><rect x="539.2" y="182.4" width="7.1" height="8.6" fill="#f5eeff"/><rect x="546.0" y="182.4" width="7.1" height="8.6" fill="#f5eeff"/><rect x="471.1" y="190.7" width="7.1" height="8.6" fill="#f5eeff"/><rect x="477.9" y="190.7" width="7.1" height="8.6" fill="#ffdcd0"/><rect x="484.7" y="190.7" width="7.1" height="8.6" fill="#ff7b5a"/><rect x="491.5" y="190.7" width="7.1" height="8.6" fill="#ebdcff"/><rect x="498.3" y="190.7" width="7.1" height="8.6" fill="#ffbfaa"/><rect x="505.1" y="190.7" width="7.1" height="8.6" fill="#ebdcff"/><rect x="511.9" y="190.7" width="7.1" height="8.6" fill="#dec7ff"/><rect x="518.8" y="190.7" width="7.1" height="8.6" fill="#dec7ff"/><rect x="525.6" y="190.7" width="7.1" height="8.6" fill="#dec7ff"/><rect x="532.4" y="190.7" width="7.1" height="8.6" fill="#fff2ee"/><rect x="539.2" y="190.7" width="7.1" height="8.6" fill="#ebdcff"/><rect x="546.0" y="190.7" width="7.1" height="8.6" fill="#ebdcff"/><rect x="471.1" y="201.3" width="7.1" height="8.6" fill="#f5eeff"/><rect x="477.9" y="201.3" width="7.1" height="8.6" fill="#ebdcff"/><rect x="484.7" y="201.3" width="7.1" height="8.6" fill="#f5eeff"/><rect x="491.5" y="201.3" width="7.1" height="8.6" fill="#f5eeff"/><rect x="498.3" y="201.3" width="7.1" height="8.6" fill="#f5eeff"/><rect x="505.1" y="201.3" width="7.1" height="8.6" fill="#f5eeff"/><rect x="511.9" y="201.3" width="7.1" height="8.6" fill="#f5eeff"/><rect x="518.8" y="201.3" width="7.1" height="8.6" fill="#ebdcff"/><rect x="525.6" y="201.3" width="7.1" height="8.6" fill="#fff2ee"/><rect x="532.4" y="201.3" width="7.1" height="8.6" fill="#ffdcd0"/><rect x="539.2" y="201.3" width="7.1" height="8.6" fill="#fcf9ff"/><rect x="546.0" y="201.3" width="7.1" height="8.6" fill="#f5eeff"/><rect x="471.1" y="209.6" width="7.1" height="8.6" fill="#f5eeff"/><rect x="477.9" y="209.6" width="7.1" height="8.6" fill="#f5eeff"/><rect x="484.7" y="209.6" width="7.1" height="8.6" fill="#f5eeff"/><rect x="491.5" y="209.6" width="7.1" height="8.6" fill="#fcf9ff"/><rect x="498.3" y="209.6" width="7.1" height="8.6" fill="#f5eeff"/><rect x="505.1" y="209.6" width="7.1" height="8.6" fill="#f5eeff"/><rect x="511.9" y="209.6" width="7.1" height="8.6" fill="#f5eeff"/><rect x="518.8" y="209.6" width="7.1" height="8.6" fill="#f5eeff"/><rect x="525.6" y="209.6" width="7.1" height="8.6" fill="#fff2ee"/><rect x="532.4" y="209.6" width="7.1" height="8.6" fill="#f5eeff"/><rect x="539.2" y="209.6" width="7.1" height="8.6" fill="#f5eeff"/><rect x="546.0" y="209.6" width="7.1" height="8.6" fill="#f5eeff"/><rect x="471.1" y="217.9" width="7.1" height="8.6" fill="#f5eeff"/><rect x="477.9" y="217.9" width="7.1" height="8.6" fill="#fcf9ff"/><rect x="484.7" y="217.9" width="7.1" height="8.6" fill="#ffdcd0"/><rect x="491.5" y="217.9" width="7.1" height="8.6" fill="#ebdcff"/><rect x="498.3" y="217.9" width="7.1" height="8.6" fill="#ebdcff"/><rect x="505.1" y="217.9" width="7.1" height="8.6" fill="#ebdcff"/><rect x="511.9" y="217.9" width="7.1" height="8.6" fill="#ebdcff"/><rect x="518.8" y="217.9" width="7.1" height="8.6" fill="#f5eeff"/><rect x="525.6" y="217.9" width="7.1" height="8.6" fill="#f5eeff"/><rect x="532.4" y="217.9" width="7.1" height="8.6" fill="#f5eeff"/><rect x="539.2" y="217.9" width="7.1" height="8.6" fill="#ebdcff"/><rect x="546.0" y="217.9" width="7.1" height="8.6" fill="#ebdcff"/><rect x="471.1" y="226.1" width="7.1" height="8.6" fill="#ccadff"/><rect x="477.9" y="226.1" width="7.1" height="8.6" fill="#fcf9ff"/><rect x="484.7" y="226.1" width="7.1" height="8.6" fill="#fcf9ff"/><rect x="491.5" y="226.1" width="7.1" height="8.6" fill="#ebdcff"/><rect x="498.3" y="226.1" width="7.1" height="8.6" fill="#ebdcff"/><rect x="505.1" y="226.1" width="7.1" height="8.6" fill="#f5eeff"/><rect x="511.9" y="226.1" width="7.1" height="8.6" fill="#dec7ff"/><rect x="518.8" y="226.1" width="7.1" height="8.6" fill="#ebdcff"/><rect x="525.6" y="226.1" width="7.1" height="8.6" fill="#fff2ee"/><rect x="532.4" y="226.1" width="7.1" height="8.6" fill="#ffdcd0"/><rect x="539.2" y="226.1" width="7.1" height="8.6" fill="#fcf9ff"/><rect x="546.0" y="226.1" width="7.1" height="8.6" fill="#ebdcff"/><rect x="471.1" y="236.6" width="7.1" height="8.6" fill="#dec7ff"/><rect x="477.9" y="236.6" width="7.1" height="8.6" fill="#dec7ff"/><rect x="484.7" y="236.6" width="7.1" height="8.6" fill="#f5eeff"/><rect x="491.5" y="236.6" width="7.1" height="8.6" fill="#ff9e81"/><rect x="498.3" y="236.6" width="7.1" height="8.6" fill="#ebdcff"/><rect x="505.1" y="236.6" width="7.1" height="8.6" fill="#f5eeff"/><rect x="511.9" y="236.6" width="7.1" height="8.6" fill="#dec7ff"/><rect x="518.8" y="236.6" width="7.1" height="8.6" fill="#dec7ff"/><rect x="525.6" y="236.6" width="7.1" height="8.6" fill="#ebdcff"/><rect x="532.4" y="236.6" width="7.1" height="8.6" fill="#ebdcff"/><rect x="539.2" y="236.6" width="7.1" height="8.6" fill="#dec7ff"/><rect x="546.0" y="236.6" width="7.1" height="8.6" fill="#ebdcff"/><rect x="471.1" y="244.9" width="7.1" height="8.6" fill="#dec7ff"/><rect x="477.9" y="244.9" width="7.1" height="8.6" fill="#fcf9ff"/><rect x="484.7" y="244.9" width="7.1" height="8.6" fill="#f5eeff"/><rect x="491.5" y="244.9" width="7.1" height="8.6" fill="#ffdcd0"/><rect x="498.3" y="244.9" width="7.1" height="8.6" fill="#fcf9ff"/><rect x="505.1" y="244.9" width="7.1" height="8.6" fill="#dec7ff"/><rect x="511.9" y="244.9" width="7.1" height="8.6" fill="#dec7ff"/><rect x="518.8" y="244.9" width="7.1" height="8.6" fill="#dec7ff"/><rect x="525.6" y="244.9" width="7.1" height="8.6" fill="#ebdcff"/><rect x="532.4" y="244.9" width="7.1" height="8.6" fill="#f5eeff"/><rect x="539.2" y="244.9" width="7.1" height="8.6" fill="#ebdcff"/><rect x="546.0" y="244.9" width="7.1" height="8.6" fill="#ebdcff"/><rect x="471.1" y="253.2" width="7.1" height="8.6" fill="#f5eeff"/><rect x="477.9" y="253.2" width="7.1" height="8.6" fill="#fcf9ff"/><rect x="484.7" y="253.2" width="7.1" height="8.6" fill="#f5eeff"/><rect x="491.5" y="253.2" width="7.1" height="8.6" fill="#ebdcff"/><rect x="498.3" y="253.2" width="7.1" height="8.6" fill="#ebdcff"/><rect x="505.1" y="253.2" width="7.1" height="8.6" fill="#ebdcff"/><rect x="511.9" y="253.2" width="7.1" height="8.6" fill="#ebdcff"/><rect x="518.8" y="253.2" width="7.1" height="8.6" fill="#fcf9ff"/><rect x="525.6" y="253.2" width="7.1" height="8.6" fill="#ebdcff"/><rect x="532.4" y="253.2" width="7.1" height="8.6" fill="#ebdcff"/><rect x="539.2" y="253.2" width="7.1" height="8.6" fill="#ebdcff"/><rect x="546.0" y="253.2" width="7.1" height="8.6" fill="#fff2ee"/><rect x="471.1" y="261.5" width="7.1" height="8.6" fill="#dec7ff"/><rect x="477.9" y="261.5" width="7.1" height="8.6" fill="#ebdcff"/><rect x="484.7" y="261.5" width="7.1" height="8.6" fill="#ebdcff"/><rect x="491.5" y="261.5" width="7.1" height="8.6" fill="#ccadff"/><rect x="498.3" y="261.5" width="7.1" height="8.6" fill="#ebdcff"/><rect x="505.1" y="261.5" width="7.1" height="8.6" fill="#ccadff"/><rect x="511.9" y="261.5" width="7.1" height="8.6" fill="#ccadff"/><rect x="518.8" y="261.5" width="7.1" height="8.6" fill="#dec7ff"/><rect x="525.6" y="261.5" width="7.1" height="8.6" fill="#f5eeff"/><rect x="532.4" y="261.5" width="7.1" height="8.6" fill="#ebdcff"/><rect x="539.2" y="261.5" width="7.1" height="8.6" fill="#dec7ff"/><rect x="546.0" y="261.5" width="7.1" height="8.6" fill="#fff2ee"/><rect x="471.1" y="269.8" width="7.1" height="8.6" fill="#ff7b5a"/><rect x="477.9" y="269.8" width="7.1" height="8.6" fill="#fff2ee"/><rect x="484.7" y="269.8" width="7.1" height="8.6" fill="#ffdcd0"/><rect x="491.5" y="269.8" width="7.1" height="8.6" fill="#dec7ff"/><rect x="498.3" y="269.8" width="7.1" height="8.6" fill="#fcf9ff"/><rect x="505.1" y="269.8" width="7.1" height="8.6" fill="#ebdcff"/><rect x="511.9" y="269.8" width="7.1" height="8.6" fill="#ebdcff"/><rect x="518.8" y="269.8" width="7.1" height="8.6" fill="#ebdcff"/><rect x="525.6" y="269.8" width="7.1" height="8.6" fill="#f5eeff"/><rect x="532.4" y="269.8" width="7.1" height="8.6" fill="#dec7ff"/><rect x="539.2" y="269.8" width="7.1" height="8.6" fill="#dec7ff"/><rect x="546.0" y="269.8" width="7.1" height="8.6" fill="#f5eeff"/><rect x="471.1" y="280.3" width="7.1" height="8.6" fill="#f5eeff"/><rect x="477.9" y="280.3" width="7.1" height="8.6" fill="#ffdcd0"/><rect x="484.7" y="280.3" width="7.1" height="8.6" fill="#ffdcd0"/><rect x="491.5" y="280.3" width="7.1" height="8.6" fill="#ffdcd0"/><rect x="498.3" y="280.3" width="7.1" height="8.6" fill="#fff2ee"/><rect x="505.1" y="280.3" width="7.1" height="8.6" fill="#fff2ee"/><rect x="511.9" y="280.3" width="7.1" height="8.6" fill="#dec7ff"/><rect x="518.8" y="280.3" width="7.1" height="8.6" fill="#dec7ff"/><rect x="525.6" y="280.3" width="7.1" height="8.6" fill="#ff9e81"/><rect x="532.4" y="280.3" width="7.1" height="8.6" fill="#ffdcd0"/><rect x="539.2" y="280.3" width="7.1" height="8.6" fill="#ebdcff"/><rect x="546.0" y="280.3" width="7.1" height="8.6" fill="#f5eeff"/><rect x="471.1" y="288.6" width="7.1" height="8.6" fill="#ffbfaa"/><rect x="477.9" y="288.6" width="7.1" height="8.6" fill="#f5eeff"/><rect x="484.7" y="288.6" width="7.1" height="8.6" fill="#fff2ee"/><rect x="491.5" y="288.6" width="7.1" height="8.6" fill="#ccadff"/><rect x="498.3" y="288.6" width="7.1" height="8.6" fill="#ebdcff"/><rect x="505.1" y="288.6" width="7.1" height="8.6" fill="#dec7ff"/><rect x="511.9" y="288.6" width="7.1" height="8.6" fill="#dec7ff"/><rect x="518.8" y="288.6" width="7.1" height="8.6" fill="#ccadff"/><rect x="525.6" y="288.6" width="7.1" height="8.6" fill="#f5eeff"/><rect x="532.4" y="288.6" width="7.1" height="8.6" fill="#dec7ff"/><rect x="539.2" y="288.6" width="7.1" height="8.6" fill="#ebdcff"/><rect x="546.0" y="288.6" width="7.1" height="8.6" fill="#ffbfaa"/><rect x="471.1" y="296.8" width="7.1" height="8.6" fill="#f5eeff"/><rect x="477.9" y="296.8" width="7.1" height="8.6" fill="#f5eeff"/><rect x="484.7" y="296.8" width="7.1" height="8.6" fill="#f5eeff"/><rect x="491.5" y="296.8" width="7.1" height="8.6" fill="#fff2ee"/><rect x="498.3" y="296.8" width="7.1" height="8.6" fill="#ebdcff"/><rect x="505.1" y="296.8" width="7.1" height="8.6" fill="#f5eeff"/><rect x="511.9" y="296.8" width="7.1" height="8.6" fill="#ebdcff"/><rect x="518.8" y="296.8" width="7.1" height="8.6" fill="#ebdcff"/><rect x="525.6" y="296.8" width="7.1" height="8.6" fill="#f5eeff"/><rect x="532.4" y="296.8" width="7.1" height="8.6" fill="#ebdcff"/><rect x="539.2" y="296.8" width="7.1" height="8.6" fill="#ebdcff"/><rect x="546.0" y="296.8" width="7.1" height="8.6" fill="#f5eeff"/><rect x="471.1" y="305.1" width="7.1" height="8.6" fill="#ebdcff"/><rect x="477.9" y="305.1" width="7.1" height="8.6" fill="#f5eeff"/><rect x="484.7" y="305.1" width="7.1" height="8.6" fill="#ebdcff"/><rect x="491.5" y="305.1" width="7.1" height="8.6" fill="#ebdcff"/><rect x="498.3" y="305.1" width="7.1" height="8.6" fill="#ebdcff"/><rect x="505.1" y="305.1" width="7.1" height="8.6" fill="#dec7ff"/><rect x="511.9" y="305.1" width="7.1" height="8.6" fill="#ebdcff"/><rect x="518.8" y="305.1" width="7.1" height="8.6" fill="#ebdcff"/><rect x="525.6" y="305.1" width="7.1" height="8.6" fill="#f5eeff"/><rect x="532.4" y="305.1" width="7.1" height="8.6" fill="#ebdcff"/><rect x="539.2" y="305.1" width="7.1" height="8.6" fill="#dec7ff"/><rect x="546.0" y="305.1" width="7.1" height="8.6" fill="#dec7ff"/><rect x="471.1" y="313.3" width="7.1" height="8.6" fill="#f5eeff"/><rect x="477.9" y="313.3" width="7.1" height="8.6" fill="#f5eeff"/><rect x="484.7" y="313.3" width="7.1" height="8.6" fill="#dec7ff"/><rect x="491.5" y="313.3" width="7.1" height="8.6" fill="#ebdcff"/><rect x="498.3" y="313.3" width="7.1" height="8.6" fill="#f5eeff"/><rect x="505.1" y="313.3" width="7.1" height="8.6" fill="#ffdcd0"/><rect x="511.9" y="313.3" width="7.1" height="8.6" fill="#ebdcff"/><rect x="518.8" y="313.3" width="7.1" height="8.6" fill="#ccadff"/><rect x="525.6" y="313.3" width="7.1" height="8.6" fill="#fcf9ff"/><rect x="532.4" y="313.3" width="7.1" height="8.6" fill="#ccadff"/><rect x="539.2" y="313.3" width="7.1" height="8.6" fill="#ccadff"/><rect x="546.0" y="313.3" width="7.1" height="8.6" fill="#ccadff"/><rect x="471.1" y="321.6" width="7.1" height="8.6" fill="#ebdcff"/><rect x="477.9" y="321.6" width="7.1" height="8.6" fill="#f5eeff"/><rect x="484.7" y="321.6" width="7.1" height="8.6" fill="#f5eeff"/><rect x="491.5" y="321.6" width="7.1" height="8.6" fill="#f5eeff"/><rect x="498.3" y="321.6" width="7.1" height="8.6" fill="#ebdcff"/><rect x="505.1" y="321.6" width="7.1" height="8.6" fill="#f5eeff"/><rect x="511.9" y="321.6" width="7.1" height="8.6" fill="#f5eeff"/><rect x="518.8" y="321.6" width="7.1" height="8.6" fill="#ebdcff"/><rect x="525.6" y="321.6" width="7.1" height="8.6" fill="#fff2ee"/><rect x="532.4" y="321.6" width="7.1" height="8.6" fill="#dec7ff"/><rect x="539.2" y="321.6" width="7.1" height="8.6" fill="#dec7ff"/><rect x="546.0" y="321.6" width="7.1" height="8.6" fill="#dec7ff"/><rect x="471.1" y="329.8" width="7.1" height="8.6" fill="#ebdcff"/><rect x="477.9" y="329.8" width="7.1" height="8.6" fill="#fff2ee"/><rect x="484.7" y="329.8" width="7.1" height="8.6" fill="#ffdcd0"/><rect x="491.5" y="329.8" width="7.1" height="8.6" fill="#f5eeff"/><rect x="498.3" y="329.8" width="7.1" height="8.6" fill="#dec7ff"/><rect x="505.1" y="329.8" width="7.1" height="8.6" fill="#dec7ff"/><rect x="511.9" y="329.8" width="7.1" height="8.6" fill="#ffbfaa"/><rect x="518.8" y="329.8" width="7.1" height="8.6" fill="#dec7ff"/><rect x="525.6" y="329.8" width="7.1" height="8.6" fill="#ffbfaa"/><rect x="532.4" y="329.8" width="7.1" height="8.6" fill="#ebdcff"/><rect x="539.2" y="329.8" width="7.1" height="8.6" fill="#ffdcd0"/><rect x="546.0" y="329.8" width="7.1" height="8.6" fill="#dec7ff"/></g>
<rect x="471.10" y="60.30" width="81.70" height="16.00" fill="none" stroke="#333" stroke-width="1"/>
<rect x="471.10" y="78.50" width="81.70" height="49.90" fill="none" stroke="#333" stroke-width="1"/>
<rect x="471.10" y="130.70" width="81.70" height="24.50" fill="none" stroke="#333" stroke-width="1"/>
<rect x="471.10" y="157.60" width="81.70" height="41.40" fill="none" stroke="#333" stroke-width="1"/>
<rect x="471.10" y="201.30" width="81.70" height="33.10" fill="none" stroke="#333" stroke-width="1"/>
<rect x="471.10" y="236.60" width="81.70" height="41.50" fill="none" stroke="#333" stroke-width="1"/>
<rect x="471.10" y="280.30" width="81.70" height="57.80" fill="none" stroke="#333" stroke-width="1"/>
<text transform="translate(477.90,340.6) rotate(-90)" font-size="6.8" text-anchor="end">04</text>
<text transform="translate(484.71,340.6) rotate(-90)" font-size="6.8" text-anchor="end">06</text>
<text transform="translate(491.52,340.6) rotate(-90)" font-size="6.8" text-anchor="end">*02</text>
<text transform="translate(498.33,340.6) rotate(-90)" font-size="6.8" text-anchor="end">07</text>
<text transform="translate(505.14,340.6) rotate(-90)" font-size="6.8" text-anchor="end">*09</text>
<text transform="translate(511.95,340.6) rotate(-90)" font-size="6.8" text-anchor="end">01</text>
<text transform="translate(518.75,340.6) rotate(-90)" font-size="6.8" text-anchor="end">16</text>
<text transform="translate(525.56,340.6) rotate(-90)" font-size="6.8" text-anchor="end">05</text>
<text transform="translate(532.37,340.6) rotate(-90)" font-size="6.8" text-anchor="end">08</text>
<text transform="translate(539.18,340.6) rotate(-90)" font-size="6.8" text-anchor="end">10</text>
<text transform="translate(545.99,340.6) rotate(-90)" font-size="6.8" text-anchor="end">11</text>
<text transform="translate(552.80,340.6) rotate(-90)" font-size="6.8" text-anchor="end">*12</text>
<text x="595.7" y="14.8" class="b" font-size="9.3" text-anchor="middle">54M</text>
<path d="M558.92,45.60V30.10H565.75V45.60M579.42,45.60V38.60H586.25V45.60M593.08,45.60V39.50H599.92V45.60M582.83,38.60V38.30H596.50V39.50M627.25,45.60V41.10H634.08V45.60M620.42,45.60V40.30H630.67V41.10M613.58,45.60V39.60H625.54V40.30M606.75,45.60V39.00H619.56V39.60M589.67,38.30V37.40H613.16V39.00M572.58,45.60V33.20H601.41V37.40M562.33,30.10V29.50H587.00V33.20" fill="none" stroke="#222" stroke-width="0.8"/>
<rect x="555.50" y="46.1" width="82.00" height="11.4" fill="#0c2c84" stroke="#2a2a2a" stroke-width="1"/>
<g shape-rendering="crispEdges"><rect x="555.5" y="60.3" width="7.1" height="8.3" fill="#f5eeff"/><rect x="562.3" y="60.3" width="7.1" height="8.3" fill="#fff2ee"/><rect x="569.2" y="60.3" width="7.1" height="8.3" fill="#f5eeff"/><rect x="576.0" y="60.3" width="7.1" height="8.3" fill="#f5eeff"/><rect x="582.8" y="60.3" width="7.1" height="8.3" fill="#f5eeff"/><rect x="589.7" y="60.3" width="7.1" height="8.3" fill="#f5eeff"/><rect x="596.5" y="60.3" width="7.1" height="8.3" fill="#fcf9ff"/><rect x="603.3" y="60.3" width="7.1" height="8.3" fill="#f5eeff"/><rect x="610.2" y="60.3" width="7.1" height="8.3" fill="#f5eeff"/><rect x="617.0" y="60.3" width="7.1" height="8.3" fill="#f5eeff"/><rect x="623.8" y="60.3" width="7.1" height="8.3" fill="#f5eeff"/><rect x="630.7" y="60.3" width="7.1" height="8.3" fill="#f5eeff"/><rect x="555.5" y="68.3" width="7.1" height="8.3" fill="#fff2ee"/><rect x="562.3" y="68.3" width="7.1" height="8.3" fill="#fff2ee"/><rect x="569.2" y="68.3" width="7.1" height="8.3" fill="#ccadff"/><rect x="576.0" y="68.3" width="7.1" height="8.3" fill="#ebdcff"/><rect x="582.8" y="68.3" width="7.1" height="8.3" fill="#fcf9ff"/><rect x="589.7" y="68.3" width="7.1" height="8.3" fill="#dec7ff"/><rect x="596.5" y="68.3" width="7.1" height="8.3" fill="#ccadff"/><rect x="603.3" y="68.3" width="7.1" height="8.3" fill="#ffbfaa"/><rect x="610.2" y="68.3" width="7.1" height="8.3" fill="#ffbfaa"/><rect x="617.0" y="68.3" width="7.1" height="8.3" fill="#ebdcff"/><rect x="623.8" y="68.3" width="7.1" height="8.3" fill="#ffbfaa"/><rect x="630.7" y="68.3" width="7.1" height="8.3" fill="#ffdcd0"/><rect x="555.5" y="78.5" width="7.1" height="8.6" fill="#f5eeff"/><rect x="562.3" y="78.5" width="7.1" height="8.6" fill="#ebdcff"/><rect x="569.2" y="78.5" width="7.1" height="8.6" fill="#ebdcff"/><rect x="576.0" y="78.5" width="7.1" height="8.6" fill="#ff9e81"/><rect x="582.8" y="78.5" width="7.1" height="8.6" fill="#fcf9ff"/><rect x="589.7" y="78.5" width="7.1" height="8.6" fill="#ebdcff"/><rect x="596.5" y="78.5" width="7.1" height="8.6" fill="#ebdcff"/><rect x="603.3" y="78.5" width="7.1" height="8.6" fill="#f5eeff"/><rect x="610.2" y="78.5" width="7.1" height="8.6" fill="#ebdcff"/><rect x="617.0" y="78.5" width="7.1" height="8.6" fill="#f5eeff"/><rect x="623.8" y="78.5" width="7.1" height="8.6" fill="#ebdcff"/><rect x="630.7" y="78.5" width="7.1" height="8.6" fill="#ebdcff"/><rect x="555.5" y="86.8" width="7.1" height="8.6" fill="#ebdcff"/><rect x="562.3" y="86.8" width="7.1" height="8.6" fill="#ebdcff"/><rect x="569.2" y="86.8" width="7.1" height="8.6" fill="#ebdcff"/><rect x="576.0" y="86.8" width="7.1" height="8.6" fill="#ffdcd0"/><rect x="582.8" y="86.8" width="7.1" height="8.6" fill="#ebdcff"/><rect x="589.7" y="86.8" width="7.1" height="8.6" fill="#fff2ee"/><rect x="596.5" y="86.8" width="7.1" height="8.6" fill="#ebdcff"/><rect x="603.3" y="86.8" width="7.1" height="8.6" fill="#ebdcff"/><rect x="610.2" y="86.8" width="7.1" height="8.6" fill="#ebdcff"/><rect x="617.0" y="86.8" width="7.1" height="8.6" fill="#ebdcff"/><rect x="623.8" y="86.8" width="7.1" height="8.6" fill="#f5eeff"/><rect x="630.7" y="86.8" width="7.1" height="8.6" fill="#fcf9ff"/><rect x="555.5" y="95.1" width="7.1" height="8.6" fill="#f5eeff"/><rect x="562.3" y="95.1" width="7.1" height="8.6" fill="#ebdcff"/><rect x="569.2" y="95.1" width="7.1" height="8.6" fill="#dec7ff"/><rect x="576.0" y="95.1" width="7.1" height="8.6" fill="#ffdcd0"/><rect x="582.8" y="95.1" width="7.1" height="8.6" fill="#fcf9ff"/><rect x="589.7" y="95.1" width="7.1" height="8.6" fill="#f5eeff"/><rect x="596.5" y="95.1" width="7.1" height="8.6" fill="#ebdcff"/><rect x="603.3" y="95.1" width="7.1" height="8.6" fill="#ebdcff"/><rect x="610.2" y="95.1" width="7.1" height="8.6" fill="#dec7ff"/><rect x="617.0" y="95.1" width="7.1" height="8.6" fill="#dec7ff"/><rect x="623.8" y="95.1" width="7.1" height="8.6" fill="#dec7ff"/><rect x="630.7" y="95.1" width="7.1" height="8.6" fill="#dec7ff"/><rect x="555.5" y="103.5" width="7.1" height="8.6" fill="#ff0000"/><rect x="562.3" y="103.5" width="7.1" height="8.6" fill="#fff2ee"/><rect x="569.2" y="103.5" width="7.1" height="8.6" fill="#dec7ff"/><rect x="576.0" y="103.5" width="7.1" height="8.6" fill="#f5eeff"/><rect x="582.8" y="103.5" width="7.1" height="8.6" fill="#f5eeff"/><rect x="589.7" y="103.5" width="7.1" height="8.6" fill="#dec7ff"/><rect x="596.5" y="103.5" width="7.1" height="8.6" fill="#ccadff"/><rect x="603.3" y="103.5" width="7.1" height="8.6" fill="#ffdcd0"/><rect x="610.2" y="103.5" width="7.1" height="8.6" fill="#ebdcff"/><rect x="617.0" y="103.5" width="7.1" height="8.6" fill="#ebdcff"/><rect x="623.8" y="103.5" width="7.1" height="8.6" fill="#ccadff"/><rect x="630.7" y="103.5" width="7.1" height="8.6" fill="#ccadff"/><rect x="555.5" y="111.8" width="7.1" height="8.6" fill="#f5eeff"/><rect x="562.3" y="111.8" width="7.1" height="8.6" fill="#fcf9ff"/><rect x="569.2" y="111.8" width="7.1" height="8.6" fill="#f5eeff"/><rect x="576.0" y="111.8" width="7.1" height="8.6" fill="#fcf9ff"/><rect x="582.8" y="111.8" width="7.1" height="8.6" fill="#f5eeff"/><rect x="589.7" y="111.8" width="7.1" height="8.6" fill="#fcf9ff"/><rect x="596.5" y="111.8" width="7.1" height="8.6" fill="#fcf9ff"/><rect x="603.3" y="111.8" width="7.1" height="8.6" fill="#f5eeff"/><rect x="610.2" y="111.8" width="7.1" height="8.6" fill="#fcf9ff"/><rect x="617.0" y="111.8" width="7.1" height="8.6" fill="#f5eeff"/><rect x="623.8" y="111.8" width="7.1" height="8.6" fill="#f5eeff"/><rect x="630.7" y="111.8" width="7.1" height="8.6" fill="#f5eeff"/><rect x="555.5" y="120.1" width="7.1" height="8.6" fill="#f5eeff"/><rect x="562.3" y="120.1" width="7.1" height="8.6" fill="#f5eeff"/><rect x="569.2" y="120.1" width="7.1" height="8.6" fill="#f5eeff"/><rect x="576.0" y="120.1" width="7.1" height="8.6" fill="#f5eeff"/><rect x="582.8" y="120.1" width="7.1" height="8.6" fill="#f5eeff"/><rect x="589.7" y="120.1" width="7.1" height="8.6" fill="#f5eeff"/><rect x="596.5" y="120.1" width="7.1" height="8.6" fill="#f5eeff"/><rect x="603.3" y="120.1" width="7.1" height="8.6" fill="#f5eeff"/><rect x="610.2" y="120.1" width="7.1" height="8.6" fill="#f5eeff"/><rect x="617.0" y="120.1" width="7.1" height="8.6" fill="#f5eeff"/><rect x="623.8" y="120.1" width="7.1" height="8.6" fill="#f5eeff"/><rect x="630.7" y="120.1" width="7.1" height="8.6" fill="#f5eeff"/><rect x="555.5" y="130.7" width="7.1" height="8.5" fill="#ff9e81"/><rect x="562.3" y="130.7" width="7.1" height="8.5" fill="#ffdcd0"/><rect x="569.2" y="130.7" width="7.1" height="8.5" fill="#dec7ff"/><rect x="576.0" y="130.7" width="7.1" height="8.5" fill="#fff2ee"/><rect x="582.8" y="130.7" width="7.1" height="8.5" fill="#fff2ee"/><rect x="589.7" y="130.7" width="7.1" height="8.5" fill="#ff9e81"/><rect x="596.5" y="130.7" width="7.1" height="8.5" fill="#dec7ff"/><rect x="603.3" y="130.7" width="7.1" height="8.5" fill="#fff2ee"/><rect x="610.2" y="130.7" width="7.1" height="8.5" fill="#ffdcd0"/><rect x="617.0" y="130.7" width="7.1" height="8.5" fill="#f5eeff"/><rect x="623.8" y="130.7" width="7.1" height="8.5" fill="#dec7ff"/><rect x="630.7" y="130.7" width="7.1" height="8.5" fill="#ebdcff"/><rect x="555.5" y="138.9" width="7.1" height="8.5" fill="#ff0000"/><rect x="562.3" y="138.9" width="7.1" height="8.5" fill="#fcf9ff"/><rect x="569.2" y="138.9" width="7.1" height="8.5" fill="#ccadff"/><rect x="576.0" y="138.9" width="7.1" height="8.5" fill="#ffdcd0"/><rect x="582.8" y="138.9" width="7.1" height="8.5" fill="#ffdcd0"/><rect x="589.7" y="138.9" width="7.1" height="8.5" fill="#fff2ee"/><rect x="596.5" y="138.9" width="7.1" height="8.5" fill="#dec7ff"/><rect x="603.3" y="138.9" width="7.1" height="8.5" fill="#ff9e81"/><rect x="610.2" y="138.9" width="7.1" height="8.5" fill="#fcf9ff"/><rect x="617.0" y="138.9" width="7.1" height="8.5" fill="#f5eeff"/><rect x="623.8" y="138.9" width="7.1" height="8.5" fill="#ebdcff"/><rect x="630.7" y="138.9" width="7.1" height="8.5" fill="#ffbfaa"/><rect x="555.5" y="147.0" width="7.1" height="8.5" fill="#ff9e81"/><rect x="562.3" y="147.0" width="7.1" height="8.5" fill="#fcf9ff"/><rect x="569.2" y="147.0" width="7.1" height="8.5" fill="#ccadff"/><rect x="576.0" y="147.0" width="7.1" height="8.5" fill="#ebdcff"/><rect x="582.8" y="147.0" width="7.1" height="8.5" fill="#fcf9ff"/><rect x="589.7" y="147.0" width="7.1" height="8.5" fill="#f5eeff"/><rect x="596.5" y="147.0" width="7.1" height="8.5" fill="#ccadff"/><rect x="603.3" y="147.0" width="7.1" height="8.5" fill="#ff5232"/><rect x="610.2" y="147.0" width="7.1" height="8.5" fill="#ffbfaa"/><rect x="617.0" y="147.0" width="7.1" height="8.5" fill="#f5eeff"/><rect x="623.8" y="147.0" width="7.1" height="8.5" fill="#dec7ff"/><rect x="630.7" y="147.0" width="7.1" height="8.5" fill="#fff2ee"/><rect x="555.5" y="157.6" width="7.1" height="8.6" fill="#fcf9ff"/><rect x="562.3" y="157.6" width="7.1" height="8.6" fill="#ffdcd0"/><rect x="569.2" y="157.6" width="7.1" height="8.6" fill="#ebdcff"/><rect x="576.0" y="157.6" width="7.1" height="8.6" fill="#fff2ee"/><rect x="582.8" y="157.6" width="7.1" height="8.6" fill="#dec7ff"/><rect x="589.7" y="157.6" width="7.1" height="8.6" fill="#ff9e81"/><rect x="596.5" y="157.6" width="7.1" height="8.6" fill="#ffdcd0"/><rect x="603.3" y="157.6" width="7.1" height="8.6" fill="#f5eeff"/><rect x="610.2" y="157.6" width="7.1" height="8.6" fill="#f5eeff"/><rect x="617.0" y="157.6" width="7.1" height="8.6" fill="#f5eeff"/><rect x="623.8" y="157.6" width="7.1" height="8.6" fill="#ebdcff"/><rect x="630.7" y="157.6" width="7.1" height="8.6" fill="#dec7ff"/><rect x="555.5" y="165.9" width="7.1" height="8.6" fill="#ffdcd0"/><rect x="562.3" y="165.9" width="7.1" height="8.6" fill="#ffdcd0"/><rect x="569.2" y="165.9" width="7.1" height="8.6" fill="#dec7ff"/><rect x="576.0" y="165.9" width="7.1" height="8.6" fill="#fff2ee"/><rect x="582.8" y="165.9" width="7.1" height="8.6" fill="#ebdcff"/><rect x="589.7" y="165.9" width="7.1" height="8.6" fill="#ebdcff"/><rect x="596.5" y="165.9" width="7.1" height="8.6" fill="#fcf9ff"/><rect x="603.3" y="165.9" width="7.1" height="8.6" fill="#dec7ff"/><rect x="610.2" y="165.9" width="7.1" height="8.6" fill="#ffdcd0"/><rect x="617.0" y="165.9" width="7.1" height="8.6" fill="#ebdcff"/><rect x="623.8" y="165.9" width="7.1" height="8.6" fill="#ebdcff"/><rect x="630.7" y="165.9" width="7.1" height="8.6" fill="#ebdcff"/><rect x="555.5" y="174.2" width="7.1" height="8.6" fill="#ff7b5a"/><rect x="562.3" y="174.2" width="7.1" height="8.6" fill="#ebdcff"/><rect x="569.2" y="174.2" width="7.1" height="8.6" fill="#b993ff"/><rect x="576.0" y="174.2" width="7.1" height="8.6" fill="#f5eeff"/><rect x="582.8" y="174.2" width="7.1" height="8.6" fill="#ffdcd0"/><rect x="589.7" y="174.2" width="7.1" height="8.6" fill="#ffbfaa"/><rect x="596.5" y="174.2" width="7.1" height="8.6" fill="#f5eeff"/><rect x="603.3" y="174.2" width="7.1" height="8.6" fill="#ebdcff"/><rect x="610.2" y="174.2" width="7.1" height="8.6" fill="#dec7ff"/><rect x="617.0" y="174.2" width="7.1" height="8.6" fill="#ebdcff"/><rect x="623.8" y="174.2" width="7.1" height="8.6" fill="#ebdcff"/><rect x="630.7" y="174.2" width="7.1" height="8.6" fill="#ebdcff"/><rect x="555.5" y="182.4" width="7.1" height="8.6" fill="#ffdcd0"/><rect x="562.3" y="182.4" width="7.1" height="8.6" fill="#fff2ee"/><rect x="569.2" y="182.4" width="7.1" height="8.6" fill="#fff2ee"/><rect x="576.0" y="182.4" width="7.1" height="8.6" fill="#ebdcff"/><rect x="582.8" y="182.4" width="7.1" height="8.6" fill="#fff2ee"/><rect x="589.7" y="182.4" width="7.1" height="8.6" fill="#ffdcd0"/><rect x="596.5" y="182.4" width="7.1" height="8.6" fill="#f5eeff"/><rect x="603.3" y="182.4" width="7.1" height="8.6" fill="#dec7ff"/><rect x="610.2" y="182.4" width="7.1" height="8.6" fill="#f5eeff"/><rect x="617.0" y="182.4" width="7.1" height="8.6" fill="#f5eeff"/><rect x="623.8" y="182.4" width="7.1" height="8.6" fill="#ebdcff"/><rect x="630.7" y="182.4" width="7.1" height="8.6" fill="#dec7ff"/><rect x="555.5" y="190.7" width="7.1" height="8.6" fill="#ebdcff"/><rect x="562.3" y="190.7" width="7.1" height="8.6" fill="#fff2ee"/><rect x="569.2" y="190.7" width="7.1" height="8.6" fill="#dec7ff"/><rect x="576.0" y="190.7" width="7.1" height="8.6" fill="#dec7ff"/><rect x="582.8" y="190.7" width="7.1" height="8.6" fill="#f5eeff"/><rect x="589.7" y="190.7" width="7.1" height="8.6" fill="#f5eeff"/><rect x="596.5" y="190.7" width="7.1" height="8.6" fill="#ebdcff"/><rect x="603.3" y="190.7" width="7.1" height="8.6" fill="#ebdcff"/><rect x="610.2" y="190.7" width="7.1" height="8.6" fill="#ffdcd0"/><rect x="617.0" y="190.7" width="7.1" height="8.6" fill="#ebdcff"/><rect x="623.8" y="190.7" width="7.1" height="8.6" fill="#ebdcff"/><rect x="630.7" y="190.7" width="7.1" height="8.6" fill="#dec7ff"/><rect x="555.5" y="201.3" width="7.1" height="8.6" fill="#ebdcff"/><rect x="562.3" y="201.3" width="7.1" height="8.6" fill="#ff0000"/><rect x="569.2" y="201.3" width="7.1" height="8.6" fill="#f5eeff"/><rect x="576.0" y="201.3" width="7.1" height="8.6" fill="#fff2ee"/><rect x="582.8" y="201.3" width="7.1" height="8.6" fill="#ebdcff"/><rect x="589.7" y="201.3" width="7.1" height="8.6" fill="#f5eeff"/><rect x="596.5" y="201.3" width="7.1" height="8.6" fill="#ebdcff"/><rect x="603.3" y="201.3" width="7.1" height="8.6" fill="#ebdcff"/><rect x="610.2" y="201.3" width="7.1" height="8.6" fill="#ebdcff"/><rect x="617.0" y="201.3" width="7.1" height="8.6" fill="#fcf9ff"/><rect x="623.8" y="201.3" width="7.1" height="8.6" fill="#fcf9ff"/><rect x="630.7" y="201.3" width="7.1" height="8.6" fill="#f5eeff"/><rect x="555.5" y="209.6" width="7.1" height="8.6" fill="#f5eeff"/><rect x="562.3" y="209.6" width="7.1" height="8.6" fill="#ff0000"/><rect x="569.2" y="209.6" width="7.1" height="8.6" fill="#f5eeff"/><rect x="576.0" y="209.6" width="7.1" height="8.6" fill="#ff5232"/><rect x="582.8" y="209.6" width="7.1" height="8.6" fill="#f5eeff"/><rect x="589.7" y="209.6" width="7.1" height="8.6" fill="#f5eeff"/><rect x="596.5" y="209.6" width="7.1" height="8.6" fill="#f5eeff"/><rect x="603.3" y="209.6" width="7.1" height="8.6" fill="#f5eeff"/><rect x="610.2" y="209.6" width="7.1" height="8.6" fill="#f5eeff"/><rect x="617.0" y="209.6" width="7.1" height="8.6" fill="#f5eeff"/><rect x="623.8" y="209.6" width="7.1" height="8.6" fill="#f5eeff"/><rect x="630.7" y="209.6" width="7.1" height="8.6" fill="#f5eeff"/><rect x="555.5" y="217.9" width="7.1" height="8.6" fill="#ffdcd0"/><rect x="562.3" y="217.9" width="7.1" height="8.6" fill="#ebdcff"/><rect x="569.2" y="217.9" width="7.1" height="8.6" fill="#dec7ff"/><rect x="576.0" y="217.9" width="7.1" height="8.6" fill="#f5eeff"/><rect x="582.8" y="217.9" width="7.1" height="8.6" fill="#f5eeff"/><rect x="589.7" y="217.9" width="7.1" height="8.6" fill="#ebdcff"/><rect x="596.5" y="217.9" width="7.1" height="8.6" fill="#ebdcff"/><rect x="603.3" y="217.9" width="7.1" height="8.6" fill="#ebdcff"/><rect x="610.2" y="217.9" width="7.1" height="8.6" fill="#ebdcff"/><rect x="617.0" y="217.9" width="7.1" height="8.6" fill="#ebdcff"/><rect x="623.8" y="217.9" width="7.1" height="8.6" fill="#f5eeff"/><rect x="630.7" y="217.9" width="7.1" height="8.6" fill="#ebdcff"/><rect x="555.5" y="226.1" width="7.1" height="8.6" fill="#ffdcd0"/><rect x="562.3" y="226.1" width="7.1" height="8.6" fill="#ffdcd0"/><rect x="569.2" y="226.1" width="7.1" height="8.6" fill="#f5eeff"/><rect x="576.0" y="226.1" width="7.1" height="8.6" fill="#ffbfaa"/><rect x="582.8" y="226.1" width="7.1" height="8.6" fill="#ff0000"/><rect x="589.7" y="226.1" width="7.1" height="8.6" fill="#ccadff"/><rect x="596.5" y="226.1" width="7.1" height="8.6" fill="#ffbfaa"/><rect x="603.3" y="226.1" width="7.1" height="8.6" fill="#ebdcff"/><rect x="610.2" y="226.1" width="7.1" height="8.6" fill="#ebdcff"/><rect x="617.0" y="226.1" width="7.1" height="8.6" fill="#fcf9ff"/><rect x="623.8" y="226.1" width="7.1" height="8.6" fill="#ebdcff"/><rect x="630.7" y="226.1" width="7.1" height="8.6" fill="#dec7ff"/><rect x="555.5" y="236.6" width="7.1" height="8.6" fill="#dec7ff"/><rect x="562.3" y="236.6" width="7.1" height="8.6" fill="#fff2ee"/><rect x="569.2" y="236.6" width="7.1" height="8.6" fill="#ff9e81"/><rect x="576.0" y="236.6" width="7.1" height="8.6" fill="#dec7ff"/><rect x="582.8" y="236.6" width="7.1" height="8.6" fill="#ebdcff"/><rect x="589.7" y="236.6" width="7.1" height="8.6" fill="#ebdcff"/><rect x="596.5" y="236.6" width="7.1" height="8.6" fill="#dec7ff"/><rect x="603.3" y="236.6" width="7.1" height="8.6" fill="#ebdcff"/><rect x="610.2" y="236.6" width="7.1" height="8.6" fill="#ebdcff"/><rect x="617.0" y="236.6" width="7.1" height="8.6" fill="#f5eeff"/><rect x="623.8" y="236.6" width="7.1" height="8.6" fill="#f5eeff"/><rect x="630.7" y="236.6" width="7.1" height="8.6" fill="#dec7ff"/><rect x="555.5" y="244.9" width="7.1" height="8.6" fill="#ebdcff"/><rect x="562.3" y="244.9" width="7.1" height="8.6" fill="#fff2ee"/><rect x="569.2" y="244.9" width="7.1" height="8.6" fill="#ffbfaa"/><rect x="576.0" y="244.9" width="7.1" height="8.6" fill="#ebdcff"/><rect x="582.8" y="244.9" width="7.1" height="8.6" fill="#ebdcff"/><rect x="589.7" y="244.9" width="7.1" height="8.6" fill="#ebdcff"/><rect x="596.5" y="244.9" width="7.1" height="8.6" fill="#ebdcff"/><rect x="603.3" y="244.9" width="7.1" height="8.6" fill="#ccadff"/><rect x="610.2" y="244.9" width="7.1" height="8.6" fill="#f5eeff"/><rect x="617.0" y="244.9" width="7.1" height="8.6" fill="#ebdcff"/><rect x="623.8" y="244.9" width="7.1" height="8.6" fill="#dec7ff"/><rect x="630.7" y="244.9" width="7.1" height="8.6" fill="#dec7ff"/><rect x="555.5" y="253.2" width="7.1" height="8.6" fill="#f5eeff"/><rect x="562.3" y="253.2" width="7.1" height="8.6" fill="#f5eeff"/><rect x="569.2" y="253.2" width="7.1" height="8.6" fill="#ff0000"/><rect x="576.0" y="253.2" width="7.1" height="8.6" fill="#ebdcff"/><rect x="582.8" y="253.2" width="7.1" height="8.6" fill="#fff2ee"/><rect x="589.7" y="253.2" width="7.1" height="8.6" fill="#ebdcff"/><rect x="596.5" y="253.2" width="7.1" height="8.6" fill="#f5eeff"/><rect x="603.3" y="253.2" width="7.1" height="8.6" fill="#f5eeff"/><rect x="610.2" y="253.2" width="7.1" height="8.6" fill="#ebdcff"/><rect x="617.0" y="253.2" width="7.1" height="8.6" fill="#ebdcff"/><rect x="623.8" y="253.2" width="7.1" height="8.6" fill="#ebdcff"/><rect x="630.7" y="253.2" width="7.1" height="8.6" fill="#fff2ee"/><rect x="555.5" y="261.5" width="7.1" height="8.6" fill="#dec7ff"/><rect x="562.3" y="261.5" width="7.1" height="8.6" fill="#dec7ff"/><rect x="569.2" y="261.5" width="7.1" height="8.6" fill="#fcf9ff"/><rect x="576.0" y="261.5" width="7.1" height="8.6" fill="#ffbfaa"/><rect x="582.8" y="261.5" width="7.1" height="8.6" fill="#f5eeff"/><rect x="589.7" y="261.5" width="7.1" height="8.6" fill="#ebdcff"/><rect x="596.5" y="261.5" width="7.1" height="8.6" fill="#dec7ff"/><rect x="603.3" y="261.5" width="7.1" height="8.6" fill="#dec7ff"/><rect x="610.2" y="261.5" width="7.1" height="8.6" fill="#ebdcff"/><rect x="617.0" y="261.5" width="7.1" height="8.6" fill="#dec7ff"/><rect x="623.8" y="261.5" width="7.1" height="8.6" fill="#dec7ff"/><rect x="630.7" y="261.5" width="7.1" height="8.6" fill="#dec7ff"/><rect x="555.5" y="269.8" width="7.1" height="8.6" fill="#fcf9ff"/><rect x="562.3" y="269.8" width="7.1" height="8.6" fill="#fff2ee"/><rect x="569.2" y="269.8" width="7.1" height="8.6" fill="#ebdcff"/><rect x="576.0" y="269.8" width="7.1" height="8.6" fill="#fff2ee"/><rect x="582.8" y="269.8" width="7.1" height="8.6" fill="#dec7ff"/><rect x="589.7" y="269.8" width="7.1" height="8.6" fill="#fcf9ff"/><rect x="596.5" y="269.8" width="7.1" height="8.6" fill="#ccadff"/><rect x="603.3" y="269.8" width="7.1" height="8.6" fill="#f5eeff"/><rect x="610.2" y="269.8" width="7.1" height="8.6" fill="#f5eeff"/><rect x="617.0" y="269.8" width="7.1" height="8.6" fill="#ccadff"/><rect x="623.8" y="269.8" width="7.1" height="8.6" fill="#dec7ff"/><rect x="630.7" y="269.8" width="7.1" height="8.6" fill="#ebdcff"/><rect x="555.5" y="280.3" width="7.1" height="8.6" fill="#fcf9ff"/><rect x="562.3" y="280.3" width="7.1" height="8.6" fill="#f5eeff"/><rect x="569.2" y="280.3" width="7.1" height="8.6" fill="#ebdcff"/><rect x="576.0" y="280.3" width="7.1" height="8.6" fill="#f5eeff"/><rect x="582.8" y="280.3" width="7.1" height="8.6" fill="#b993ff"/><rect x="589.7" y="280.3" width="7.1" height="8.6" fill="#dec7ff"/><rect x="596.5" y="280.3" width="7.1" height="8.6" fill="#f5eeff"/><rect x="603.3" y="280.3" width="7.1" height="8.6" fill="#f5eeff"/><rect x="610.2" y="280.3" width="7.1" height="8.6" fill="#f5eeff"/><rect x="617.0" y="280.3" width="7.1" height="8.6" fill="#f5eeff"/><rect x="623.8" y="280.3" width="7.1" height="8.6" fill="#f5eeff"/><rect x="630.7" y="280.3" width="7.1" height="8.6" fill="#ccadff"/><rect x="555.5" y="288.6" width="7.1" height="8.6" fill="#dec7ff"/><rect x="562.3" y="288.6" width="7.1" height="8.6" fill="#ccadff"/><rect x="569.2" y="288.6" width="7.1" height="8.6" fill="#ffdcd0"/><rect x="576.0" y="288.6" width="7.1" height="8.6" fill="#ebdcff"/><rect x="582.8" y="288.6" width="7.1" height="8.6" fill="#b993ff"/><rect x="589.7" y="288.6" width="7.1" height="8.6" fill="#ebdcff"/><rect x="596.5" y="288.6" width="7.1" height="8.6" fill="#ffdcd0"/><rect x="603.3" y="288.6" width="7.1" height="8.6" fill="#ccadff"/><rect x="610.2" y="288.6" width="7.1" height="8.6" fill="#f5eeff"/><rect x="617.0" y="288.6" width="7.1" height="8.6" fill="#dec7ff"/><rect x="623.8" y="288.6" width="7.1" height="8.6" fill="#ccadff"/><rect x="630.7" y="288.6" width="7.1" height="8.6" fill="#ccadff"/><rect x="555.5" y="296.8" width="7.1" height="8.6" fill="#f5eeff"/><rect x="562.3" y="296.8" width="7.1" height="8.6" fill="#f5eeff"/><rect x="569.2" y="296.8" width="7.1" height="8.6" fill="#fcf9ff"/><rect x="576.0" y="296.8" width="7.1" height="8.6" fill="#f5eeff"/><rect x="582.8" y="296.8" width="7.1" height="8.6" fill="#f5eeff"/><rect x="589.7" y="296.8" width="7.1" height="8.6" fill="#f5eeff"/><rect x="596.5" y="296.8" width="7.1" height="8.6" fill="#f5eeff"/><rect x="603.3" y="296.8" width="7.1" height="8.6" fill="#f5eeff"/><rect x="610.2" y="296.8" width="7.1" height="8.6" fill="#fcf9ff"/><rect x="617.0" y="296.8" width="7.1" height="8.6" fill="#ebdcff"/><rect x="623.8" y="296.8" width="7.1" height="8.6" fill="#ebdcff"/><rect x="630.7" y="296.8" width="7.1" height="8.6" fill="#ebdcff"/><rect x="555.5" y="305.1" width="7.1" height="8.6" fill="#f5eeff"/><rect x="562.3" y="305.1" width="7.1" height="8.6" fill="#fcf9ff"/><rect x="569.2" y="305.1" width="7.1" height="8.6" fill="#dec7ff"/><rect x="576.0" y="305.1" width="7.1" height="8.6" fill="#ebdcff"/><rect x="582.8" y="305.1" width="7.1" height="8.6" fill="#f5eeff"/><rect x="589.7" y="305.1" width="7.1" height="8.6" fill="#dec7ff"/><rect x="596.5" y="305.1" width="7.1" height="8.6" fill="#dec7ff"/><rect x="603.3" y="305.1" width="7.1" height="8.6" fill="#dec7ff"/><rect x="610.2" y="305.1" width="7.1" height="8.6" fill="#ebdcff"/><rect x="617.0" y="305.1" width="7.1" height="8.6" fill="#dec7ff"/><rect x="623.8" y="305.1" width="7.1" height="8.6" fill="#dec7ff"/><rect x="630.7" y="305.1" width="7.1" height="8.6" fill="#dec7ff"/><rect x="555.5" y="313.3" width="7.1" height="8.6" fill="#ff5232"/><rect x="562.3" y="313.3" width="7.1" height="8.6" fill="#ffdcd0"/><rect x="569.2" y="313.3" width="7.1" height="8.6" fill="#dec7ff"/><rect x="576.0" y="313.3" width="7.1" height="8.6" fill="#ccadff"/><rect x="582.8" y="313.3" width="7.1" height="8.6" fill="#ffdcd0"/><rect x="589.7" y="313.3" width="7.1" height="8.6" fill="#dec7ff"/><rect x="596.5" y="313.3" width="7.1" height="8.6" fill="#dec7ff"/><rect x="603.3" y="313.3" width="7.1" height="8.6" fill="#dec7ff"/><rect x="610.2" y="313.3" width="7.1" height="8.6" fill="#ffbfaa"/><rect x="617.0" y="313.3" width="7.1" height="8.6" fill="#f5eeff"/><rect x="623.8" y="313.3" width="7.1" height="8.6" fill="#fff2ee"/><rect x="630.7" y="313.3" width="7.1" height="8.6" fill="#dec7ff"/><rect x="555.5" y="321.6" width="7.1" height="8.6" fill="#ffbfaa"/><rect x="562.3" y="321.6" width="7.1" height="8.6" fill="#f5eeff"/><rect x="569.2" y="321.6" width="7.1" height="8.6" fill="#dec7ff"/><rect x="576.0" y="321.6" width="7.1" height="8.6" fill="#ebdcff"/><rect x="582.8" y="321.6" width="7.1" height="8.6" fill="#fff2ee"/><rect x="589.7" y="321.6" width="7.1" height="8.6" fill="#dec7ff"/><rect x="596.5" y="321.6" width="7.1" height="8.6" fill="#dec7ff"/><rect x="603.3" y="321.6" width="7.1" height="8.6" fill="#dec7ff"/><rect x="610.2" y="321.6" width="7.1" height="8.6" fill="#ebdcff"/><rect x="617.0" y="321.6" width="7.1" height="8.6" fill="#dec7ff"/><rect x="623.8" y="321.6" width="7.1" height="8.6" fill="#ebdcff"/><rect x="630.7" y="321.6" width="7.1" height="8.6" fill="#ebdcff"/><rect x="555.5" y="329.8" width="7.1" height="8.6" fill="#f5eeff"/><rect x="562.3" y="329.8" width="7.1" height="8.6" fill="#fff2ee"/><rect x="569.2" y="329.8" width="7.1" height="8.6" fill="#ebdcff"/><rect x="576.0" y="329.8" width="7.1" height="8.6" fill="#f5eeff"/><rect x="582.8" y="329.8" width="7.1" height="8.6" fill="#ffdcd0"/><rect x="589.7" y="329.8" width="7.1" height="8.6" fill="#dec7ff"/><rect x="596.5" y="329.8" width="7.1" height="8.6" fill="#f5eeff"/><rect x="603.3" y="329.8" width="7.1" height="8.6" fill="#f5eeff"/><rect x="610.2" y="329.8" width="7.1" height="8.6" fill="#ccadff"/><rect x="617.0" y="329.8" width="7.1" height="8.6" fill="#f5eeff"/><rect x="623.8" y="329.8" width="7.1" height="8.6" fill="#ebdcff"/><rect x="630.7" y="329.8" width="7.1" height="8.6" fill="#f5eeff"/></g>
<rect x="555.50" y="60.30" width="82.00" height="16.00" fill="none" stroke="#333" stroke-width="1"/>
<rect x="555.50" y="78.50" width="82.00" height="49.90" fill="none" stroke="#333" stroke-width="1"/>
<rect x="555.50" y="130.70" width="82.00" height="24.50" fill="none" stroke="#333" stroke-width="1"/>
<rect x="555.50" y="157.60" width="82.00" height="41.40" fill="none" stroke="#333" stroke-width="1"/>
<rect x="555.50" y="201.30" width="82.00" height="33.10" fill="none" stroke="#333" stroke-width="1"/>
<rect x="555.50" y="236.60" width="82.00" height="41.50" fill="none" stroke="#333" stroke-width="1"/>
<rect x="555.50" y="280.30" width="82.00" height="57.80" fill="none" stroke="#333" stroke-width="1"/>
<text transform="translate(562.32,340.6) rotate(-90)" font-size="6.8" text-anchor="end">06</text>
<text transform="translate(569.15,340.6) rotate(-90)" font-size="6.8" text-anchor="end">04</text>
<text transform="translate(575.98,340.6) rotate(-90)" font-size="6.8" text-anchor="end">*12</text>
<text transform="translate(582.82,340.6) rotate(-90)" font-size="6.8" text-anchor="end">05</text>
<text transform="translate(589.65,340.6) rotate(-90)" font-size="6.8" text-anchor="end">13</text>
<text transform="translate(596.48,340.6) rotate(-90)" font-size="6.8" text-anchor="end">*02</text>
<text transform="translate(603.32,340.6) rotate(-90)" font-size="6.8" text-anchor="end">11</text>
<text transform="translate(610.15,340.6) rotate(-90)" font-size="6.8" text-anchor="end">07</text>
<text transform="translate(616.98,340.6) rotate(-90)" font-size="6.8" text-anchor="end">*09</text>
<text transform="translate(623.82,340.6) rotate(-90)" font-size="6.8" text-anchor="end">10</text>
<text transform="translate(630.65,340.6) rotate(-90)" font-size="6.8" text-anchor="end">01</text>
<text transform="translate(637.48,340.6) rotate(-90)" font-size="6.8" text-anchor="end">16</text>
<text x="640.8" y="54.6" font-size="6.85">Timepoint</text>
<text x="640.8" y="67.15" font-size="6.85">IL-6</text>
<text x="640.8" y="75.15" font-size="6.85">Eotaxin-3</text>
<text x="640.8" y="85.51" font-size="6.85">IL-12p70</text>
<text x="640.8" y="93.82" font-size="6.85">IL-13</text>
<text x="640.8" y="102.14" font-size="6.85">IL-16</text>
<text x="640.8" y="110.46" font-size="6.85">IL-2</text>
<text x="640.8" y="118.78" font-size="6.85">IL-1b</text>
<text x="640.8" y="127.09" font-size="6.85">IL-8</text>
<text x="640.8" y="137.63" font-size="6.85">MCP-1</text>
<text x="640.8" y="145.80" font-size="6.85">Eotaxin</text>
<text x="640.8" y="153.97" font-size="6.85">MCP-4</text>
<text x="640.8" y="164.59" font-size="6.85">VEGF</text>
<text x="640.8" y="172.87" font-size="6.85">TARC</text>
<text x="640.8" y="181.15" font-size="6.85">MDC</text>
<text x="640.8" y="189.43" font-size="6.85">TNF-a</text>
<text x="640.8" y="197.71" font-size="6.85">IP-10</text>
<text x="640.8" y="208.29" font-size="6.85">CRP</text>
<text x="640.8" y="216.56" font-size="6.85">SAA</text>
<text x="640.8" y="224.84" font-size="6.85">IFN-g</text>
<text x="640.8" y="233.11" font-size="6.85">IL-15</text>
<text x="640.8" y="243.60" font-size="6.85">VCAM-1</text>
<text x="640.8" y="251.90" font-size="6.85">ICAM-1</text>
<text x="640.8" y="260.20" font-size="6.85">IL-10</text>
<text x="640.8" y="268.50" font-size="6.85">MIP-1a</text>
<text x="640.8" y="276.80" font-size="6.85">MIP-1b</text>
<text x="640.8" y="287.28" font-size="6.85">IL-12/IL-23p40</text>
<text x="640.8" y="295.54" font-size="6.85">IL-7</text>
<text x="640.8" y="303.79" font-size="6.85">IL-4</text>
<text x="640.8" y="312.05" font-size="6.85">IL-17A</text>
<text x="640.8" y="320.31" font-size="6.85">IL-5</text>
<text x="640.8" y="328.56" font-size="6.85">GM-CSF</text>
<text x="640.8" y="336.82" font-size="6.85">TNF-b</text>
<path d="M32.60,64.30H9.70V72.30H32.60M32.60,82.66H15.20V90.97H32.60M32.60,115.93H23.40V124.24H32.60M32.60,107.61H11.20V120.08H23.40M32.60,99.29H9.70V113.85H11.20M15.20,86.82H7.30V106.57H9.70M9.70,68.30H3.10V96.69H7.30M32.60,142.95H20.30V151.12H32.60M32.60,134.78H12.50V147.03H20.30M32.60,161.74H16.70V170.02H32.60M32.60,186.58H19.50V194.86H32.60M32.60,178.30H10.20V190.72H19.50M16.70,165.88H6.60V184.51H10.20M12.50,140.91H4.40V175.19H6.60M32.60,205.44H16.10V213.71H32.60M32.60,221.99H11.40V230.26H32.60M16.10,209.57H6.25V226.12H11.40M32.60,240.75H19.20V249.05H32.60M32.60,265.65H15.30V273.95H32.60M32.60,257.35H11.40V269.80H15.30M19.20,244.90H7.80V263.58H11.40M6.25,217.85H5.20V254.24H7.80M32.60,300.94H16.90V309.20H32.60M32.60,292.69H12.50V305.07H16.90M32.60,284.43H11.40V298.88H12.50M32.60,325.71H16.40V333.97H32.60M32.60,317.46H10.60V329.84H16.40M11.40,291.65H7.50V323.65H10.60M5.20,236.04H3.60V307.65H7.50M4.40,158.05H2.60V271.85H3.60M3.10,82.50H1.60V214.95H2.60" fill="none" stroke="#222" stroke-width="0.8"/>
<defs><linearGradient id="cb" x1="0" x2="1" y1="0" y2="0">
<stop offset="0.0000" stop-color="#ff0000"/>
<stop offset="0.0250" stop-color="#ff0000"/>
<stop offset="0.0500" stop-color="#ff0000"/>
<stop offset="0.0750" stop-color="#ff0000"/>
<stop offset="0.1000" stop-color="#ff0000"/>
<stop offset="0.1250" stop-color="#ff0000"/>
<stop offset="0.1500" stop-color="#ff3118"/>
<stop offset="0.1750" stop-color="#ff482a"/>
<stop offset="0.2000" stop-color="#ff5b3a"/>
<stop offset="0.2250" stop-color="#ff6c4a"/>
<stop offset="0.2500" stop-color="#ff7b5a"/>
<stop offset="0.2750" stop-color="#ff8969"/>
<stop offset="0.3000" stop-color="#ff9779"/>
<stop offset="0.3250" stop-color="#ffa589"/>
<stop offset="0.3500" stop-color="#ffb299"/>
<stop offset="0.3750" stop-color="#ffbfaa"/>
<stop offset="0.4000" stop-color="#ffccba"/>
<stop offset="0.4250" stop-color="#ffd9cb"/>
<stop offset="0.4500" stop-color="#ffe6dc"/>
<stop offset="0.4750" stop-color="#fff2ee"/>
<stop offset="0.5000" stop-color="#ffffff"/>
<stop offset="0.5250" stop-color="#f6efff"/>
<stop offset="0.5500" stop-color="#ede0ff"/>
<stop offset="0.5750" stop-color="#e3d0ff"/>
<stop offset="0.6000" stop-color="#d9c1ff"/>
<stop offset="0.6250" stop-color="#cfb1ff"/>
<stop offset="0.6500" stop-color="#c4a2ff"/>
<stop offset="0.6750" stop-color="#b993ff"/>
<stop offset="0.7000" stop-color="#ad84ff"/>
<stop offset="0.7250" stop-color="#a074ff"/>
<stop offset="0.7500" stop-color="#9265ff"/>
<stop offset="0.7750" stop-color="#8255ff"/>
<stop offset="0.8000" stop-color="#7145ff"/>
<stop offset="0.8250" stop-color="#5c34ff"/>
<stop offset="0.8500" stop-color="#4120ff"/>
<stop offset="0.8750" stop-color="#0000ff"/>
<stop offset="0.9000" stop-color="#0000ff"/>
<stop offset="0.9250" stop-color="#0000ff"/>
<stop offset="0.9500" stop-color="#0000ff"/>
<stop offset="0.9750" stop-color="#0000ff"/>
<stop offset="1.0000" stop-color="#0000ff"/>
</linearGradient></defs>
<text x="339" y="362.6" font-size="8.1" text-anchor="middle">Scaled expression:</text>
<rect x="282.2" y="365.9" width="113.6" height="6" fill="url(#cb)" stroke="#222" stroke-width="0.8"/>
<path d="M283.6,365.9v1.2M283.6,371.9v-1.2" stroke="#000" stroke-width="0.7"/>
<text x="283.6" y="380.8" font-size="7.8" text-anchor="middle">-4</text>
<path d="M311.6,365.9v1.2M311.6,371.9v-1.2" stroke="#000" stroke-width="0.7"/>
<text x="311.6" y="380.8" font-size="7.8" text-anchor="middle">-2</text>
<path d="M339.0,365.9v1.2M339.0,371.9v-1.2" stroke="#000" stroke-width="0.7"/>
<text x="339.0" y="380.8" font-size="7.8" text-anchor="middle">0</text>
<path d="M365.6,365.9v1.2M365.6,371.9v-1.2" stroke="#000" stroke-width="0.7"/>
<text x="365.6" y="380.8" font-size="7.8" text-anchor="middle">2</text>
<path d="M391.6,365.9v1.2M391.6,371.9v-1.2" stroke="#000" stroke-width="0.7"/>
<text x="391.6" y="380.8" font-size="7.8" text-anchor="middle">4</text>
<text x="5.7" y="388.7" class="b" font-size="10.5">b</text>
<text x="123.9" y="402.3" class="b" font-size="9.2" text-anchor="middle">Circulating CD4<tspan font-size="5.5" dy="-3.2">+</tspan><tspan dy="3.2"> T-cells</tspan></text>
<text transform="translate(7.4,489.0) rotate(-90)" class="b" font-size="9.4" text-anchor="middle">% Positive cells</text>
<path d="M42.45,420.4V555.6M37.9,554.80H42.5M37.9,528.08H42.5M37.9,501.36H42.5M37.9,474.64H42.5M37.9,447.92H42.5M37.9,421.20H42.5M39.9,541.44H42.5M39.9,514.72H42.5M39.9,488.00H42.5M39.9,461.28H42.5M39.9,434.56H42.5" stroke="#000" stroke-width="1.6" fill="none"/>
<text x="33.0" y="558.00" font-size="7.9" text-anchor="end">0</text>
<text x="33.0" y="531.28" font-size="7.9" text-anchor="end">20</text>
<text x="33.0" y="504.56" font-size="7.9" text-anchor="end">40</text>
<text x="33.0" y="477.84" font-size="7.9" text-anchor="end">60</text>
<text x="33.0" y="451.12" font-size="7.9" text-anchor="end">80</text>
<text x="33.0" y="424.40" font-size="7.9" text-anchor="end">100</text>
<g><path d="M69.8,435.9L84.7,435.9L99.5,437.9L114.4,435.9L129.3,438.6L144.1,439.9L159.0,451.9L173.9,442.6L188.8,445.2" fill="none" stroke="#c9ccd1" stroke-width="0.7"/><path d="M69.8,490.7L84.7,482.7L99.5,498.7L114.4,502.7L129.3,496.0L144.1,496.0L159.0,497.4L173.9,504.0L188.8,502.7" fill="none" stroke="#c9ccd1" stroke-width="0.7"/><path d="M69.8,464.0L84.7,470.6L99.5,505.4L114.4,509.4L129.3,528.1L144.1,504.0L159.0,494.7L173.9,508.0L188.8,481.3" fill="none" stroke="#c9ccd1" stroke-width="0.7"/><path d="M69.8,446.6L84.7,447.9L99.5,453.3L114.4,449.3L129.3,450.6L144.1,525.4L159.0,526.7L173.9,509.4L188.8,458.6" fill="none" stroke="#c9ccd1" stroke-width="0.7"/><path d="M69.8,442.6L84.7,441.2L99.5,443.9L114.4,450.6L129.3,450.6L144.1,454.6L159.0,461.3L173.9,457.3L188.8,455.9" fill="none" stroke="#c9ccd1" stroke-width="0.7"/><path d="M69.8,466.6L84.7,461.3L99.5,489.3L114.4,477.3L129.3,474.6L144.1,474.6L159.0,477.3L173.9,478.6L188.8,472.0" fill="none" stroke="#c9ccd1" stroke-width="0.7"/><path d="M69.8,449.3L84.7,445.2L99.5,453.3L114.4,458.6L129.3,453.3L144.1,454.6L159.0,454.6L173.9,458.6L188.8,461.3" fill="none" stroke="#c9ccd1" stroke-width="0.7"/><path d="M69.8,454.6L84.7,453.3L99.5,447.9L114.4,447.9L129.3,464.0L144.1,461.3L159.0,451.9L173.9,457.3L188.8,465.3" fill="none" stroke="#c9ccd1" stroke-width="0.7"/><path d="M69.8,457.3L84.7,458.6L99.5,464.0L114.4,468.0L129.3,458.6L144.1,468.0L159.0,469.3L173.9,468.0L188.8,474.6" fill="none" stroke="#c9ccd1" stroke-width="0.7"/><path d="M69.8,472.0L84.7,464.0L99.5,468.0L114.4,472.0L129.3,477.3L144.1,481.3L159.0,485.3L173.9,477.3L188.8,470.6" fill="none" stroke="#c9ccd1" stroke-width="0.7"/><path d="M69.8,450.6L84.7,447.9L99.5,457.3L114.4,461.3L129.3,454.6L144.1,450.6L159.0,459.9L173.9,465.3L188.8,464.0" fill="none" stroke="#c9ccd1" stroke-width="0.7"/><path d="M69.8,461.3L84.7,455.9L99.5,461.3L114.4,465.3L129.3,466.6L144.1,472.0L159.0,465.3L173.9,461.3L188.8,466.6" fill="none" stroke="#c9ccd1" stroke-width="0.7"/><path d="M69.8,453.3L84.7,451.9L99.5,465.3L114.4,470.6L129.3,474.6L144.1,480.0L159.0,472.0L173.9,469.3L188.8,477.3" fill="none" stroke="#c9ccd1" stroke-width="0.7"/><circle cx="69.8" cy="435.9" r="2.2" fill="#c9ccd1"/><circle cx="84.7" cy="435.9" r="2.2" fill="#c9ccd1"/><circle cx="99.5" cy="437.9" r="2.2" fill="#c9ccd1"/><circle cx="114.4" cy="435.9" r="2.2" fill="#c9ccd1"/><circle cx="129.3" cy="438.6" r="2.2" fill="#c9ccd1"/><circle cx="144.1" cy="439.9" r="2.2" fill="#c9ccd1"/><circle cx="159.0" cy="451.9" r="2.2" fill="#c9ccd1"/><circle cx="173.9" cy="442.6" r="2.2" fill="#c9ccd1"/><circle cx="188.8" cy="445.2" r="2.2" fill="#c9ccd1"/><rect x="67.5" y="488.4" width="4.5" height="4.5" fill="#fff" stroke="#c9ccd1" stroke-width="1.0"/><rect x="82.4" y="480.4" width="4.5" height="4.5" fill="#fff" stroke="#c9ccd1" stroke-width="1.0"/><rect x="97.3" y="496.4" width="4.5" height="4.5" fill="#fff" stroke="#c9ccd1" stroke-width="1.0"/><rect x="112.2" y="500.4" width="4.5" height="4.5" fill="#fff" stroke="#c9ccd1" stroke-width="1.0"/><rect x="127.0" y="493.8" width="4.5" height="4.5" fill="#fff" stroke="#c9ccd1" stroke-width="1.0"/><rect x="141.9" y="493.8" width="4.5" height="4.5" fill="#fff" stroke="#c9ccd1" stroke-width="1.0"/><rect x="156.8" y="495.1" width="4.5" height="4.5" fill="#fff" stroke="#c9ccd1" stroke-width="1.0"/><rect x="171.6" y="501.8" width="4.5" height="4.5" fill="#fff" stroke="#c9ccd1" stroke-width="1.0"/><rect x="186.5" y="500.4" width="4.5" height="4.5" fill="#fff" stroke="#c9ccd1" stroke-width="1.0"/><path d="M69.8,461.3L72.5,464.0L69.8,466.6L67.1,464.0Z" fill="#fff" stroke="#c9ccd1" stroke-width="1.0"/><path d="M84.7,468.0L87.3,470.6L84.7,473.3L82.0,470.6Z" fill="#fff" stroke="#c9ccd1" stroke-width="1.0"/><path d="M99.5,502.7L102.2,505.4L99.5,508.0L96.9,505.4Z" fill="#fff" stroke="#c9ccd1" stroke-width="1.0"/><path d="M114.4,506.7L117.1,509.4L114.4,512.0L111.8,509.4Z" fill="#fff" stroke="#c9ccd1" stroke-width="1.0"/><path d="M129.3,525.4L131.9,528.1L129.3,530.7L126.6,528.1Z" fill="#fff" stroke="#c9ccd1" stroke-width="1.0"/><path d="M144.1,501.4L146.8,504.0L144.1,506.7L141.5,504.0Z" fill="#fff" stroke="#c9ccd1" stroke-width="1.0"/><path d="M159.0,492.0L161.7,494.7L159.0,497.3L156.4,494.7Z" fill="#fff" stroke="#c9ccd1" stroke-width="1.0"/><path d="M173.9,505.4L176.5,508.0L173.9,510.7L171.2,508.0Z" fill="#fff" stroke="#c9ccd1" stroke-width="1.0"/><path d="M188.8,478.7L191.4,481.3L188.8,484.0L186.1,481.3Z" fill="#fff" stroke="#c9ccd1" stroke-width="1.0"/><circle cx="69.8" cy="446.6" r="2.2" fill="#fff" stroke="#c9ccd1" stroke-width="1.0"/><circle cx="84.7" cy="447.9" r="2.2" fill="#fff" stroke="#c9ccd1" stroke-width="1.0"/><circle cx="99.5" cy="453.3" r="2.2" fill="#fff" stroke="#c9ccd1" stroke-width="1.0"/><circle cx="114.4" cy="449.3" r="2.2" fill="#fff" stroke="#c9ccd1" stroke-width="1.0"/><circle cx="129.3" cy="450.6" r="2.2" fill="#fff" stroke="#c9ccd1" stroke-width="1.0"/><circle cx="144.1" cy="525.4" r="2.2" fill="#fff" stroke="#c9ccd1" stroke-width="1.0"/><circle cx="159.0" cy="526.7" r="2.2" fill="#fff" stroke="#c9ccd1" stroke-width="1.0"/><circle cx="173.9" cy="509.4" r="2.2" fill="#fff" stroke="#c9ccd1" stroke-width="1.0"/><circle cx="188.8" cy="458.6" r="2.2" fill="#fff" stroke="#c9ccd1" stroke-width="1.0"/><path d="M69.8,445.1L72.2,440.8H67.3Z" fill="#c9ccd1"/><path d="M84.7,443.8L87.1,439.4H82.2Z" fill="#c9ccd1"/><path d="M99.5,446.5L102.0,442.1H97.1Z" fill="#c9ccd1"/><path d="M114.4,453.1L116.9,448.8H112.0Z" fill="#c9ccd1"/><path d="M129.3,453.1L131.7,448.8H126.8Z" fill="#c9ccd1"/><path d="M144.1,457.1L146.6,452.8H141.7Z" fill="#c9ccd1"/><path d="M159.0,463.8L161.5,459.5H156.6Z" fill="#c9ccd1"/><path d="M173.9,459.8L176.3,455.5H171.4Z" fill="#c9ccd1"/><path d="M188.8,458.5L191.2,454.1H186.3Z" fill="#c9ccd1"/><path d="M69.8,464.1L72.2,468.4H67.3Z" fill="#c9ccd1"/><path d="M84.7,458.7L87.1,463.1H82.2Z" fill="#c9ccd1"/><path d="M99.5,486.8L102.0,491.1H97.1Z" fill="#c9ccd1"/><path d="M114.4,474.8L116.9,479.1H112.0Z" fill="#c9ccd1"/><path d="M129.3,472.1L131.7,476.4H126.8Z" fill="#c9ccd1"/><path d="M144.1,472.1L146.6,476.4H141.7Z" fill="#c9ccd1"/><path d="M159.0,474.8L161.5,479.1H156.6Z" fill="#c9ccd1"/><path d="M173.9,476.1L176.3,480.4H171.4Z" fill="#c9ccd1"/><path d="M188.8,469.4L191.2,473.8H186.3Z" fill="#c9ccd1"/><rect x="67.5" y="447.0" width="4.5" height="4.5" fill="#c9ccd1"/><rect x="82.4" y="443.0" width="4.5" height="4.5" fill="#c9ccd1"/><rect x="97.3" y="451.0" width="4.5" height="4.5" fill="#c9ccd1"/><rect x="112.2" y="456.4" width="4.5" height="4.5" fill="#c9ccd1"/><rect x="127.0" y="451.0" width="4.5" height="4.5" fill="#c9ccd1"/><rect x="141.9" y="452.3" width="4.5" height="4.5" fill="#c9ccd1"/><rect x="156.8" y="452.3" width="4.5" height="4.5" fill="#c9ccd1"/><rect x="171.6" y="456.4" width="4.5" height="4.5" fill="#c9ccd1"/><rect x="186.5" y="459.0" width="4.5" height="4.5" fill="#c9ccd1"/><path d="M69.8,451.9L72.5,454.6L69.8,457.2L67.1,454.6Z" fill="#c9ccd1"/><path d="M84.7,450.6L87.3,453.3L84.7,455.9L82.0,453.3Z" fill="#c9ccd1"/><path d="M99.5,445.3L102.2,447.9L99.5,450.6L96.9,447.9Z" fill="#c9ccd1"/><path d="M114.4,445.3L117.1,447.9L114.4,450.6L111.8,447.9Z" fill="#c9ccd1"/><path d="M129.3,461.3L131.9,464.0L129.3,466.6L126.6,464.0Z" fill="#c9ccd1"/><path d="M144.1,458.6L146.8,461.3L144.1,463.9L141.5,461.3Z" fill="#c9ccd1"/><path d="M159.0,449.3L161.7,451.9L159.0,454.6L156.4,451.9Z" fill="#c9ccd1"/><path d="M173.9,454.6L176.5,457.3L173.9,459.9L171.2,457.3Z" fill="#c9ccd1"/><path d="M188.8,462.6L191.4,465.3L188.8,467.9L186.1,465.3Z" fill="#c9ccd1"/><path d="M69.8,454.7L72.2,459.1H67.3Z" fill="#fff" stroke="#c9ccd1" stroke-width="1.0"/><path d="M84.7,456.1L87.1,460.4H82.2Z" fill="#fff" stroke="#c9ccd1" stroke-width="1.0"/><path d="M99.5,461.4L102.0,465.8H97.1Z" fill="#fff" stroke="#c9ccd1" stroke-width="1.0"/><path d="M114.4,465.4L116.9,469.8H112.0Z" fill="#fff" stroke="#c9ccd1" stroke-width="1.0"/><path d="M129.3,456.1L131.7,460.4H126.8Z" fill="#fff" stroke="#c9ccd1" stroke-width="1.0"/><path d="M144.1,465.4L146.6,469.8H141.7Z" fill="#fff" stroke="#c9ccd1" stroke-width="1.0"/><path d="M159.0,466.7L161.5,471.1H156.6Z" fill="#fff" stroke="#c9ccd1" stroke-width="1.0"/><path d="M173.9,465.4L176.3,469.8H171.4Z" fill="#fff" stroke="#c9ccd1" stroke-width="1.0"/><path d="M188.8,472.1L191.2,476.4H186.3Z" fill="#fff" stroke="#c9ccd1" stroke-width="1.0"/><circle cx="69.8" cy="472.0" r="2.2" fill="#c9ccd1"/><circle cx="84.7" cy="464.0" r="2.2" fill="#c9ccd1"/><circle cx="99.5" cy="468.0" r="2.2" fill="#c9ccd1"/><circle cx="114.4" cy="472.0" r="2.2" fill="#c9ccd1"/><circle cx="129.3" cy="477.3" r="2.2" fill="#c9ccd1"/><circle cx="144.1" cy="481.3" r="2.2" fill="#c9ccd1"/><circle cx="159.0" cy="485.3" r="2.2" fill="#c9ccd1"/><circle cx="173.9" cy="477.3" r="2.2" fill="#c9ccd1"/><circle cx="188.8" cy="470.6" r="2.2" fill="#c9ccd1"/><circle cx="69.8" cy="450.6" r="2.2" fill="#fff" stroke="#c9ccd1" stroke-width="1.0"/><circle cx="84.7" cy="447.9" r="2.2" fill="#fff" stroke="#c9ccd1" stroke-width="1.0"/><circle cx="99.5" cy="457.3" r="2.2" fill="#fff" stroke="#c9ccd1" stroke-width="1.0"/><circle cx="114.4" cy="461.3" r="2.2" fill="#fff" stroke="#c9ccd1" stroke-width="1.0"/><circle cx="129.3" cy="454.6" r="2.2" fill="#fff" stroke="#c9ccd1" stroke-width="1.0"/><circle cx="144.1" cy="450.6" r="2.2" fill="#fff" stroke="#c9ccd1" stroke-width="1.0"/><circle cx="159.0" cy="459.9" r="2.2" fill="#fff" stroke="#c9ccd1" stroke-width="1.0"/><circle cx="173.9" cy="465.3" r="2.2" fill="#fff" stroke="#c9ccd1" stroke-width="1.0"/><circle cx="188.8" cy="464.0" r="2.2" fill="#fff" stroke="#c9ccd1" stroke-width="1.0"/><rect x="67.5" y="459.0" width="4.5" height="4.5" fill="#c9ccd1"/><rect x="82.4" y="453.7" width="4.5" height="4.5" fill="#c9ccd1"/><rect x="97.3" y="459.0" width="4.5" height="4.5" fill="#c9ccd1"/><rect x="112.2" y="463.0" width="4.5" height="4.5" fill="#c9ccd1"/><rect x="127.0" y="464.4" width="4.5" height="4.5" fill="#c9ccd1"/><rect x="141.9" y="469.7" width="4.5" height="4.5" fill="#c9ccd1"/><rect x="156.8" y="463.0" width="4.5" height="4.5" fill="#c9ccd1"/><rect x="171.6" y="459.0" width="4.5" height="4.5" fill="#c9ccd1"/><rect x="186.5" y="464.4" width="4.5" height="4.5" fill="#c9ccd1"/><rect x="67.5" y="451.0" width="4.5" height="4.5" fill="#fff" stroke="#c9ccd1" stroke-width="1.0"/><rect x="82.4" y="449.7" width="4.5" height="4.5" fill="#fff" stroke="#c9ccd1" stroke-width="1.0"/><rect x="97.3" y="463.0" width="4.5" height="4.5" fill="#fff" stroke="#c9ccd1" stroke-width="1.0"/><rect x="112.2" y="468.4" width="4.5" height="4.5" fill="#fff" stroke="#c9ccd1" stroke-width="1.0"/><rect x="127.0" y="472.4" width="4.5" height="4.5" fill="#fff" stroke="#c9ccd1" stroke-width="1.0"/><rect x="141.9" y="477.7" width="4.5" height="4.5" fill="#fff" stroke="#c9ccd1" stroke-width="1.0"/><rect x="156.8" y="469.7" width="4.5" height="4.5" fill="#fff" stroke="#c9ccd1" stroke-width="1.0"/><rect x="171.6" y="467.0" width="4.5" height="4.5" fill="#fff" stroke="#c9ccd1" stroke-width="1.0"/><rect x="186.5" y="475.1" width="4.5" height="4.5" fill="#fff" stroke="#c9ccd1" stroke-width="1.0"/></g>
<path d="M69.8,450.1V478.6M66.7,450.1h6.2M66.7,478.6h6.2M84.7,442.7V482.1M81.6,442.7h6.2M81.6,482.1h6.2M99.5,451.5V484.8M96.4,451.5h6.2M96.4,484.8h6.2M114.4,467.4V490.9M111.3,467.4h6.2M111.3,490.9h6.2M129.3,465.8V486.8M126.2,465.8h6.2M126.2,486.8h6.2M144.1,477.4V512.8M141.0,477.4h6.2M141.0,512.8h6.2M159.0,478.6V513.9M155.9,478.6h6.2M155.9,513.9h6.2M173.9,477.4V502.6M170.8,477.4h6.2M170.8,502.6h6.2M188.8,475.0V500.0M185.7,475.0h6.2M185.7,500.0h6.2" stroke="#17961b" stroke-width="1.65" fill="none"/>
<path d="M69.8,464.8L84.7,462.7L99.5,467.8L114.4,478.6L129.3,476.6L144.1,495.1L159.0,493.9L173.9,490.4L188.8,487.6" stroke="#17961b" stroke-width="1.95" fill="none" stroke-dasharray="5,3"/>
<path d="M69.8,450.1V467.4M66.7,450.1h6.2M66.7,467.4h6.2M84.7,444.7V462.7M81.6,444.7h6.2M81.6,462.7h6.2M99.5,453.5V480.0M96.4,453.5h6.2M96.4,480.0h6.2M114.4,456.2V481.2M111.3,456.2h6.2M111.3,481.2h6.2M129.3,455.0V483.6M126.2,455.0h6.2M126.2,483.6h6.2M144.1,458.6V490.9M141.0,458.6h6.2M141.0,490.9h6.2M159.0,460.1V487.9M155.9,460.1h6.2M155.9,487.9h6.2M173.9,458.6V484.8M170.8,458.6h6.2M170.8,484.8h6.2M188.8,460.7V485.2M185.7,460.7h6.2M185.7,485.2h6.2" stroke="#3b6a84" stroke-width="1.65" fill="none"/>
<path d="M69.8,458.2L84.7,454.6L99.5,467.8L114.4,468.9L129.3,468.9L144.1,474.6L159.0,473.6L173.9,472.0L188.8,472.5" stroke="#3b6a84" stroke-width="1.95" fill="none" />
<circle cx="69.8" cy="458.2" r="2.7" fill="#3b6a84"/>
<circle cx="84.7" cy="454.6" r="2.7" fill="#3b6a84"/>
<circle cx="99.5" cy="467.8" r="2.7" fill="#3b6a84"/>
<circle cx="114.4" cy="468.9" r="2.7" fill="#3b6a84"/>
<circle cx="129.3" cy="468.9" r="2.7" fill="#3b6a84"/>
<circle cx="144.1" cy="474.6" r="2.7" fill="#3b6a84"/>
<circle cx="159.0" cy="473.6" r="2.7" fill="#3b6a84"/>
<circle cx="173.9" cy="472.0" r="2.7" fill="#3b6a84"/>
<circle cx="188.8" cy="472.5" r="2.7" fill="#3b6a84"/>
<path d="M63.0,576.2H196.4M69.8,576.2v4M84.7,576.2v4M99.5,576.2v4M114.4,576.2v4M129.3,576.2v4M144.1,576.2v4M159.0,576.2v4M173.9,576.2v4M188.8,576.2v4" stroke="#000" stroke-width="1.2" fill="none"/>
<path d="M104.9,579.0L108.9,573.4M119.0,579.0L123.0,573.4M122.2,579.0L126.2,573.4" stroke="#000" stroke-width="1.35" fill="none"/>
<path d="M69.8,564.6V569.0" stroke="#000" stroke-width="0.9"/>
<path d="M66.9,567.9H72.7L69.8,572.4Z" fill="#000"/>
<path d="M84.7,564.6V569.0" stroke="#000" stroke-width="0.9"/>
<path d="M81.8,567.9H87.6L84.7,572.4Z" fill="#000"/>
<text x="69.8" y="592.3" font-size="8.0" text-anchor="middle">-7</text>
<text x="84.7" y="592.3" font-size="8.0" text-anchor="middle">0</text>
<text x="99.5" y="592.3" font-size="8.0" text-anchor="middle">1</text>
<text x="114.4" y="592.3" font-size="8.0" text-anchor="middle">3</text>
<text x="129.3" y="592.3" font-size="8.0" text-anchor="middle">6</text>
<text x="144.1" y="592.3" font-size="8.0" text-anchor="middle">12</text>
<text x="159.0" y="592.3" font-size="8.0" text-anchor="middle">18</text>
<text x="173.9" y="592.3" font-size="8.0" text-anchor="middle">30</text>
<text x="188.8" y="592.3" font-size="8.0" text-anchor="middle">54</text>
<path d="M69.8,595.2V598.4H84.7V595.2M99.5,595.2V598.4H188.8V595.2" stroke="#000" stroke-width="1.1" fill="none"/>
<text x="77.2" y="611.4" font-size="8.0" text-anchor="middle">Day</text>
<text x="143.1" y="611.4" font-size="8.0" text-anchor="middle">Month</text>
<text transform="translate(69.6,620.6) rotate(-45)" font-size="8.2" text-anchor="end">Infusion</text>
<text transform="translate(83.9,621.8) rotate(-45)" font-size="8.2" text-anchor="end">Transplant</text>
<text x="354.5" y="402.3" class="b" font-size="9.2" text-anchor="middle">Circulating CD8<tspan font-size="5.5" dy="-3.2">+</tspan><tspan dy="3.2"> T-cells</tspan></text>
<text transform="translate(239.2,489.0) rotate(-90)" class="b" font-size="9.4" text-anchor="middle">% Positive cells</text>
<path d="M273.05,420.4V555.6M268.4,554.80H273.1M268.4,528.08H273.1M268.4,501.36H273.1M268.4,474.64H273.1M268.4,447.92H273.1M268.4,421.20H273.1M270.4,541.44H273.1M270.4,514.72H273.1M270.4,488.00H273.1M270.4,461.28H273.1M270.4,434.56H273.1" stroke="#000" stroke-width="1.6" fill="none"/>
<text x="263.6" y="558.00" font-size="7.9" text-anchor="end">0</text>
<text x="263.6" y="531.28" font-size="7.9" text-anchor="end">20</text>
<text x="263.6" y="504.56" font-size="7.9" text-anchor="end">40</text>
<text x="263.6" y="477.84" font-size="7.9" text-anchor="end">60</text>
<text x="263.6" y="451.12" font-size="7.9" text-anchor="end">80</text>
<text x="263.6" y="424.40" font-size="7.9" text-anchor="end">100</text>
<g><path d="M300.4,540.1L315.3,538.8L330.1,537.4L345.0,540.1L359.9,536.1L374.8,536.1L389.6,528.1L404.5,533.4L419.4,530.8" fill="none" stroke="#c9ccd1" stroke-width="0.7"/><path d="M300.4,504.0L315.3,506.7L330.1,469.3L345.0,466.6L359.9,447.9L374.8,472.0L389.6,488.0L404.5,496.0L419.4,474.6" fill="none" stroke="#c9ccd1" stroke-width="0.7"/><path d="M300.4,484.0L315.3,493.3L330.1,476.0L345.0,472.0L359.9,478.6L374.8,472.0L389.6,474.6L404.5,480.0L419.4,472.0" fill="none" stroke="#c9ccd1" stroke-width="0.7"/><path d="M300.4,521.4L315.3,525.4L330.1,514.7L345.0,517.4L359.9,520.1L374.8,514.7L389.6,510.7L404.5,518.7L419.4,517.4" fill="none" stroke="#c9ccd1" stroke-width="0.7"/><path d="M300.4,528.1L315.3,530.8L330.1,521.4L345.0,518.7L359.9,522.7L374.8,520.1L389.6,521.4L404.5,517.4L419.4,514.7" fill="none" stroke="#c9ccd1" stroke-width="0.7"/><path d="M300.4,514.7L315.3,517.4L330.1,504.0L345.0,501.4L359.9,498.7L374.8,506.7L389.6,494.7L404.5,501.4L419.4,494.7" fill="none" stroke="#c9ccd1" stroke-width="0.7"/><path d="M300.4,525.4L315.3,528.1L330.1,517.4L345.0,514.7L359.9,512.0L374.8,517.4L389.6,514.7L404.5,510.7L419.4,512.0" fill="none" stroke="#c9ccd1" stroke-width="0.7"/><path d="M300.4,530.8L315.3,533.4L330.1,525.4L345.0,525.4L359.9,528.1L374.8,525.4L389.6,522.7L404.5,514.7L419.4,520.1" fill="none" stroke="#c9ccd1" stroke-width="0.7"/><path d="M300.4,508.0L315.3,514.7L330.1,500.0L345.0,498.7L359.9,501.4L374.8,494.7L389.6,492.0L404.5,494.7L419.4,490.7" fill="none" stroke="#c9ccd1" stroke-width="0.7"/><path d="M300.4,517.4L315.3,520.1L330.1,508.0L345.0,504.0L359.9,506.7L374.8,501.4L389.6,504.0L404.5,498.7L419.4,501.4" fill="none" stroke="#c9ccd1" stroke-width="0.7"/><path d="M300.4,522.7L315.3,528.1L330.1,512.0L345.0,510.7L359.9,514.7L374.8,509.4L389.6,508.0L404.5,506.7L419.4,508.0" fill="none" stroke="#c9ccd1" stroke-width="0.7"/><path d="M300.4,529.4L315.3,526.7L330.1,520.1L345.0,521.4L359.9,524.1L374.8,524.1L389.6,525.4L404.5,517.4L419.4,521.4" fill="none" stroke="#c9ccd1" stroke-width="0.7"/><path d="M300.4,510.7L315.3,509.4L330.1,496.0L345.0,490.7L359.9,493.3L374.8,485.3L389.6,481.3L404.5,488.0L419.4,481.3" fill="none" stroke="#c9ccd1" stroke-width="0.7"/><circle cx="300.4" cy="540.1" r="2.2" fill="#c9ccd1"/><circle cx="315.3" cy="538.8" r="2.2" fill="#c9ccd1"/><circle cx="330.1" cy="537.4" r="2.2" fill="#c9ccd1"/><circle cx="345.0" cy="540.1" r="2.2" fill="#c9ccd1"/><circle cx="359.9" cy="536.1" r="2.2" fill="#c9ccd1"/><circle cx="374.8" cy="536.1" r="2.2" fill="#c9ccd1"/><circle cx="389.6" cy="528.1" r="2.2" fill="#c9ccd1"/><circle cx="404.5" cy="533.4" r="2.2" fill="#c9ccd1"/><circle cx="419.4" cy="530.8" r="2.2" fill="#c9ccd1"/><circle cx="300.4" cy="504.0" r="2.2" fill="#fff" stroke="#c9ccd1" stroke-width="1.0"/><circle cx="315.3" cy="506.7" r="2.2" fill="#fff" stroke="#c9ccd1" stroke-width="1.0"/><circle cx="330.1" cy="469.3" r="2.2" fill="#fff" stroke="#c9ccd1" stroke-width="1.0"/><circle cx="345.0" cy="466.6" r="2.2" fill="#fff" stroke="#c9ccd1" stroke-width="1.0"/><circle cx="359.9" cy="447.9" r="2.2" fill="#fff" stroke="#c9ccd1" stroke-width="1.0"/><circle cx="374.8" cy="472.0" r="2.2" fill="#fff" stroke="#c9ccd1" stroke-width="1.0"/><circle cx="389.6" cy="488.0" r="2.2" fill="#fff" stroke="#c9ccd1" stroke-width="1.0"/><circle cx="404.5" cy="496.0" r="2.2" fill="#fff" stroke="#c9ccd1" stroke-width="1.0"/><circle cx="419.4" cy="474.6" r="2.2" fill="#fff" stroke="#c9ccd1" stroke-width="1.0"/><rect x="298.1" y="481.7" width="4.5" height="4.5" fill="#fff" stroke="#c9ccd1" stroke-width="1.0"/><rect x="313.0" y="491.1" width="4.5" height="4.5" fill="#fff" stroke="#c9ccd1" stroke-width="1.0"/><rect x="327.9" y="473.7" width="4.5" height="4.5" fill="#fff" stroke="#c9ccd1" stroke-width="1.0"/><rect x="342.8" y="469.7" width="4.5" height="4.5" fill="#fff" stroke="#c9ccd1" stroke-width="1.0"/><rect x="357.6" y="476.4" width="4.5" height="4.5" fill="#fff" stroke="#c9ccd1" stroke-width="1.0"/><rect x="372.5" y="469.7" width="4.5" height="4.5" fill="#fff" stroke="#c9ccd1" stroke-width="1.0"/><rect x="387.4" y="472.4" width="4.5" height="4.5" fill="#fff" stroke="#c9ccd1" stroke-width="1.0"/><rect x="402.2" y="477.7" width="4.5" height="4.5" fill="#fff" stroke="#c9ccd1" stroke-width="1.0"/><rect x="417.1" y="469.7" width="4.5" height="4.5" fill="#fff" stroke="#c9ccd1" stroke-width="1.0"/><rect x="298.1" y="519.1" width="4.5" height="4.5" fill="#c9ccd1"/><rect x="313.0" y="523.2" width="4.5" height="4.5" fill="#c9ccd1"/><rect x="327.9" y="512.5" width="4.5" height="4.5" fill="#c9ccd1"/><rect x="342.8" y="515.1" width="4.5" height="4.5" fill="#c9ccd1"/><rect x="357.6" y="517.8" width="4.5" height="4.5" fill="#c9ccd1"/><rect x="372.5" y="512.5" width="4.5" height="4.5" fill="#c9ccd1"/><rect x="387.4" y="508.5" width="4.5" height="4.5" fill="#c9ccd1"/><rect x="402.2" y="516.5" width="4.5" height="4.5" fill="#c9ccd1"/><rect x="417.1" y="515.1" width="4.5" height="4.5" fill="#c9ccd1"/><path d="M300.4,525.5L302.8,529.9H297.9Z" fill="#c9ccd1"/><path d="M315.3,528.2L317.7,532.6H312.8Z" fill="#c9ccd1"/><path d="M330.1,518.9L332.6,523.2H327.7Z" fill="#c9ccd1"/><path d="M345.0,516.2L347.5,520.5H342.6Z" fill="#c9ccd1"/><path d="M359.9,520.2L362.3,524.5H357.4Z" fill="#c9ccd1"/><path d="M374.8,517.5L377.2,521.9H372.3Z" fill="#c9ccd1"/><path d="M389.6,518.9L392.1,523.2H387.2Z" fill="#c9ccd1"/><path d="M404.5,514.8L406.9,519.2H402.0Z" fill="#c9ccd1"/><path d="M419.4,512.2L421.8,516.5H416.9Z" fill="#c9ccd1"/><path d="M300.4,512.1L303.0,514.7L300.4,517.4L297.8,514.7Z" fill="#c9ccd1"/><path d="M315.3,514.7L317.9,517.4L315.3,520.0L312.6,517.4Z" fill="#c9ccd1"/><path d="M330.1,501.4L332.8,504.0L330.1,506.7L327.5,504.0Z" fill="#c9ccd1"/><path d="M345.0,498.7L347.7,501.4L345.0,504.0L342.4,501.4Z" fill="#c9ccd1"/><path d="M359.9,496.0L362.5,498.7L359.9,501.3L357.2,498.7Z" fill="#c9ccd1"/><path d="M374.8,504.1L377.4,506.7L374.8,509.4L372.1,506.7Z" fill="#c9ccd1"/><path d="M389.6,492.0L392.3,494.7L389.6,497.3L387.0,494.7Z" fill="#c9ccd1"/><path d="M404.5,498.7L407.1,501.4L404.5,504.0L401.8,501.4Z" fill="#c9ccd1"/><path d="M419.4,492.0L422.0,494.7L419.4,497.3L416.7,494.7Z" fill="#c9ccd1"/><path d="M300.4,522.8L303.0,525.4L300.4,528.1L297.8,525.4Z" fill="#fff" stroke="#c9ccd1" stroke-width="1.0"/><path d="M315.3,525.4L317.9,528.1L315.3,530.7L312.6,528.1Z" fill="#fff" stroke="#c9ccd1" stroke-width="1.0"/><path d="M330.1,514.7L332.8,517.4L330.1,520.0L327.5,517.4Z" fill="#fff" stroke="#c9ccd1" stroke-width="1.0"/><path d="M345.0,512.1L347.7,514.7L345.0,517.4L342.4,514.7Z" fill="#fff" stroke="#c9ccd1" stroke-width="1.0"/><path d="M359.9,509.4L362.5,512.0L359.9,514.7L357.2,512.0Z" fill="#fff" stroke="#c9ccd1" stroke-width="1.0"/><path d="M374.8,514.7L377.4,517.4L374.8,520.0L372.1,517.4Z" fill="#fff" stroke="#c9ccd1" stroke-width="1.0"/><path d="M389.6,512.1L392.3,514.7L389.6,517.4L387.0,514.7Z" fill="#fff" stroke="#c9ccd1" stroke-width="1.0"/><path d="M404.5,508.1L407.1,510.7L404.5,513.4L401.8,510.7Z" fill="#fff" stroke="#c9ccd1" stroke-width="1.0"/><path d="M419.4,509.4L422.0,512.0L419.4,514.7L416.7,512.0Z" fill="#fff" stroke="#c9ccd1" stroke-width="1.0"/><path d="M300.4,533.3L302.8,529.0H297.9Z" fill="#c9ccd1"/><path d="M315.3,536.0L317.7,531.6H312.8Z" fill="#c9ccd1"/><path d="M330.1,528.0L332.6,523.6H327.7Z" fill="#c9ccd1"/><path d="M345.0,528.0L347.5,523.6H342.6Z" fill="#c9ccd1"/><path d="M359.9,530.6L362.3,526.3H357.4Z" fill="#c9ccd1"/><path d="M374.8,528.0L377.2,523.6H372.3Z" fill="#c9ccd1"/><path d="M389.6,525.3L392.1,520.9H387.2Z" fill="#c9ccd1"/><path d="M404.5,517.3L406.9,512.9H402.0Z" fill="#c9ccd1"/><path d="M419.4,522.6L421.8,518.3H416.9Z" fill="#c9ccd1"/><path d="M300.4,505.5L302.8,509.8H297.9Z" fill="#fff" stroke="#c9ccd1" stroke-width="1.0"/><path d="M315.3,512.2L317.7,516.5H312.8Z" fill="#fff" stroke="#c9ccd1" stroke-width="1.0"/><path d="M330.1,497.5L332.6,501.8H327.7Z" fill="#fff" stroke="#c9ccd1" stroke-width="1.0"/><path d="M345.0,496.1L347.5,500.5H342.6Z" fill="#fff" stroke="#c9ccd1" stroke-width="1.0"/><path d="M359.9,498.8L362.3,503.2H357.4Z" fill="#fff" stroke="#c9ccd1" stroke-width="1.0"/><path d="M374.8,492.1L377.2,496.5H372.3Z" fill="#fff" stroke="#c9ccd1" stroke-width="1.0"/><path d="M389.6,489.5L392.1,493.8H387.2Z" fill="#fff" stroke="#c9ccd1" stroke-width="1.0"/><path d="M404.5,492.1L406.9,496.5H402.0Z" fill="#fff" stroke="#c9ccd1" stroke-width="1.0"/><path d="M419.4,488.1L421.8,492.5H416.9Z" fill="#fff" stroke="#c9ccd1" stroke-width="1.0"/><circle cx="300.4" cy="517.4" r="2.2" fill="#c9ccd1"/><circle cx="315.3" cy="520.1" r="2.2" fill="#c9ccd1"/><circle cx="330.1" cy="508.0" r="2.2" fill="#c9ccd1"/><circle cx="345.0" cy="504.0" r="2.2" fill="#c9ccd1"/><circle cx="359.9" cy="506.7" r="2.2" fill="#c9ccd1"/><circle cx="374.8" cy="501.4" r="2.2" fill="#c9ccd1"/><circle cx="389.6" cy="504.0" r="2.2" fill="#c9ccd1"/><circle cx="404.5" cy="498.7" r="2.2" fill="#c9ccd1"/><circle cx="419.4" cy="501.4" r="2.2" fill="#c9ccd1"/><circle cx="300.4" cy="522.7" r="2.2" fill="#fff" stroke="#c9ccd1" stroke-width="1.0"/><circle cx="315.3" cy="528.1" r="2.2" fill="#fff" stroke="#c9ccd1" stroke-width="1.0"/><circle cx="330.1" cy="512.0" r="2.2" fill="#fff" stroke="#c9ccd1" stroke-width="1.0"/><circle cx="345.0" cy="510.7" r="2.2" fill="#fff" stroke="#c9ccd1" stroke-width="1.0"/><circle cx="359.9" cy="514.7" r="2.2" fill="#fff" stroke="#c9ccd1" stroke-width="1.0"/><circle cx="374.8" cy="509.4" r="2.2" fill="#fff" stroke="#c9ccd1" stroke-width="1.0"/><circle cx="389.6" cy="508.0" r="2.2" fill="#fff" stroke="#c9ccd1" stroke-width="1.0"/><circle cx="404.5" cy="506.7" r="2.2" fill="#fff" stroke="#c9ccd1" stroke-width="1.0"/><circle cx="419.4" cy="508.0" r="2.2" fill="#fff" stroke="#c9ccd1" stroke-width="1.0"/><rect x="298.1" y="527.2" width="4.5" height="4.5" fill="#c9ccd1"/><rect x="313.0" y="524.5" width="4.5" height="4.5" fill="#c9ccd1"/><rect x="327.9" y="517.8" width="4.5" height="4.5" fill="#c9ccd1"/><rect x="342.8" y="519.1" width="4.5" height="4.5" fill="#c9ccd1"/><rect x="357.6" y="521.8" width="4.5" height="4.5" fill="#c9ccd1"/><rect x="372.5" y="521.8" width="4.5" height="4.5" fill="#c9ccd1"/><rect x="387.4" y="523.2" width="4.5" height="4.5" fill="#c9ccd1"/><rect x="402.2" y="515.1" width="4.5" height="4.5" fill="#c9ccd1"/><rect x="417.1" y="519.1" width="4.5" height="4.5" fill="#c9ccd1"/><rect x="298.1" y="508.5" width="4.5" height="4.5" fill="#fff" stroke="#c9ccd1" stroke-width="1.0"/><rect x="313.0" y="507.1" width="4.5" height="4.5" fill="#fff" stroke="#c9ccd1" stroke-width="1.0"/><rect x="327.9" y="493.8" width="4.5" height="4.5" fill="#fff" stroke="#c9ccd1" stroke-width="1.0"/><rect x="342.8" y="488.4" width="4.5" height="4.5" fill="#fff" stroke="#c9ccd1" stroke-width="1.0"/><rect x="357.6" y="491.1" width="4.5" height="4.5" fill="#fff" stroke="#c9ccd1" stroke-width="1.0"/><rect x="372.5" y="483.1" width="4.5" height="4.5" fill="#fff" stroke="#c9ccd1" stroke-width="1.0"/><rect x="387.4" y="479.1" width="4.5" height="4.5" fill="#fff" stroke="#c9ccd1" stroke-width="1.0"/><rect x="402.2" y="485.8" width="4.5" height="4.5" fill="#fff" stroke="#c9ccd1" stroke-width="1.0"/><rect x="417.1" y="479.1" width="4.5" height="4.5" fill="#fff" stroke="#c9ccd1" stroke-width="1.0"/></g>
<path d="M300.4,487.1V535.4M297.3,487.1h6.2M297.3,535.4h6.2M315.3,485.5V541.8M312.2,485.5h6.2M312.2,541.8h6.2M330.1,478.4V536.1M327.0,478.4h6.2M327.0,536.1h6.2M345.0,475.8V517.7M341.9,475.8h6.2M341.9,517.7h6.2M359.9,481.3V517.7M356.8,481.3h6.2M356.8,517.7h6.2M374.8,449.8V511.5M371.6,449.8h6.2M371.6,511.5h6.2M389.6,447.3V517.3M386.5,447.3h6.2M386.5,517.3h6.2M404.5,464.1V507.4M401.4,464.1h6.2M401.4,507.4h6.2M419.4,467.0V510.0M416.3,467.0h6.2M416.3,510.0h6.2" stroke="#17961b" stroke-width="1.65" fill="none"/>
<path d="M300.4,511.5L315.3,512.6L330.1,507.4L345.0,496.1L359.9,499.4L374.8,480.9L389.6,481.9L404.5,485.1L419.4,488.0" stroke="#17961b" stroke-width="1.95" fill="none" stroke-dasharray="5,3"/>
<path d="M300.4,508.4V527.9M297.3,508.4h6.2M297.3,527.9h6.2M315.3,512.6V530.5M312.2,512.6h6.2M312.2,530.5h6.2M330.1,497.6V521.7M327.0,497.6h6.2M327.0,521.7h6.2M345.0,492.7V518.7M341.9,492.7h6.2M341.9,518.7h6.2M359.9,493.5V521.3M356.8,493.5h6.2M356.8,521.3h6.2M374.8,485.5V517.3M371.6,485.5h6.2M371.6,517.3h6.2M389.6,487.1V515.7M386.5,487.1h6.2M386.5,515.7h6.2M404.5,491.5V515.3M401.4,491.5h6.2M401.4,515.3h6.2M419.4,490.1V515.3M416.3,490.1h6.2M416.3,515.3h6.2" stroke="#3b6a84" stroke-width="1.65" fill="none"/>
<path d="M300.4,517.7L315.3,521.3L330.1,509.5L345.0,505.8L359.9,507.0L374.8,501.4L389.6,501.0L404.5,503.4L419.4,503.0" stroke="#3b6a84" stroke-width="1.95" fill="none" />
<circle cx="300.4" cy="517.7" r="2.7" fill="#3b6a84"/>
<circle cx="315.3" cy="521.3" r="2.7" fill="#3b6a84"/>
<circle cx="330.1" cy="509.5" r="2.7" fill="#3b6a84"/>
<circle cx="345.0" cy="505.8" r="2.7" fill="#3b6a84"/>
<circle cx="359.9" cy="507.0" r="2.7" fill="#3b6a84"/>
<circle cx="374.8" cy="501.4" r="2.7" fill="#3b6a84"/>
<circle cx="389.6" cy="501.0" r="2.7" fill="#3b6a84"/>
<circle cx="404.5" cy="503.4" r="2.7" fill="#3b6a84"/>
<circle cx="419.4" cy="503.0" r="2.7" fill="#3b6a84"/>
<path d="M293.6,576.2H427.0M300.4,576.2v4M315.3,576.2v4M330.1,576.2v4M345.0,576.2v4M359.9,576.2v4M374.8,576.2v4M389.6,576.2v4M404.5,576.2v4M419.4,576.2v4" stroke="#000" stroke-width="1.2" fill="none"/>
<path d="M335.5,579.0L339.5,573.4M349.6,579.0L353.6,573.4M352.8,579.0L356.8,573.4" stroke="#000" stroke-width="1.35" fill="none"/>
<path d="M300.4,564.6V569.0" stroke="#000" stroke-width="0.9"/>
<path d="M297.5,567.9H303.3L300.4,572.4Z" fill="#000"/>
<path d="M315.3,564.6V569.0" stroke="#000" stroke-width="0.9"/>
<path d="M312.4,567.9H318.2L315.3,572.4Z" fill="#000"/>
<text x="300.4" y="592.3" font-size="8.0" text-anchor="middle">-7</text>
<text x="315.3" y="592.3" font-size="8.0" text-anchor="middle">0</text>
<text x="330.1" y="592.3" font-size="8.0" text-anchor="middle">1</text>
<text x="345.0" y="592.3" font-size="8.0" text-anchor="middle">3</text>
<text x="359.9" y="592.3" font-size="8.0" text-anchor="middle">6</text>
<text x="374.8" y="592.3" font-size="8.0" text-anchor="middle">12</text>
<text x="389.6" y="592.3" font-size="8.0" text-anchor="middle">18</text>
<text x="404.5" y="592.3" font-size="8.0" text-anchor="middle">30</text>
<text x="419.4" y="592.3" font-size="8.0" text-anchor="middle">54</text>
<path d="M300.4,595.2V598.4H315.3V595.2M330.1,595.2V598.4H419.4V595.2" stroke="#000" stroke-width="1.1" fill="none"/>
<text x="307.8" y="611.4" font-size="8.0" text-anchor="middle">Day</text>
<text x="373.8" y="611.4" font-size="8.0" text-anchor="middle">Month</text>
<text x="123.9" y="656.2" class="b" font-size="9.2" text-anchor="middle">Circulating Tregs</text>
<text transform="translate(7.4,742.9) rotate(-90)" class="b" font-size="9.4" text-anchor="middle">% Positive cells</text>
<path d="M42.45,674.3V809.5M37.9,808.70H42.5M37.9,786.43H42.5M37.9,764.17H42.5M37.9,741.90H42.5M37.9,719.63H42.5M37.9,697.37H42.5M37.9,675.10H42.5M39.9,797.57H42.5M39.9,775.30H42.5M39.9,753.03H42.5M39.9,730.77H42.5M39.9,708.50H42.5M39.9,686.23H42.5" stroke="#000" stroke-width="1.6" fill="none"/>
<text x="33.0" y="811.90" font-size="7.9" text-anchor="end">0.0</text>
<text x="33.0" y="789.63" font-size="7.9" text-anchor="end">2.5</text>
<text x="33.0" y="767.37" font-size="7.9" text-anchor="end">5.0</text>
<text x="33.0" y="745.10" font-size="7.9" text-anchor="end">7.5</text>
<text x="33.0" y="722.83" font-size="7.9" text-anchor="end">10.0</text>
<text x="33.0" y="700.57" font-size="7.9" text-anchor="end">12.5</text>
<text x="33.0" y="678.30" font-size="7.9" text-anchor="end">15.0</text>
<g><path d="M69.8,684.0L84.7,786.4L99.5,773.1L114.4,750.8L129.3,782.0L144.1,782.0L159.0,790.9L173.9,786.4L188.8,782.0" fill="none" stroke="#c9ccd1" stroke-width="0.7"/><path d="M69.8,754.4L84.7,780.2L99.5,741.0L114.4,759.7L129.3,768.6L144.1,764.2L159.0,777.5L173.9,783.8L188.8,777.5" fill="none" stroke="#c9ccd1" stroke-width="0.7"/><path d="M69.8,777.5L84.7,799.8L99.5,782.0L114.4,774.9L129.3,790.9L144.1,725.0L159.0,795.3L173.9,734.8L188.8,786.4" fill="none" stroke="#c9ccd1" stroke-width="0.7"/><path d="M69.8,790.9L84.7,795.3L99.5,773.1L114.4,792.7L129.3,795.3L144.1,782.0L159.0,786.4L173.9,783.8L188.8,751.7" fill="none" stroke="#c9ccd1" stroke-width="0.7"/><path d="M69.8,768.6L84.7,777.5L99.5,752.6L114.4,730.3L129.3,773.1L144.1,748.1L159.0,780.2L173.9,782.0L188.8,771.3" fill="none" stroke="#c9ccd1" stroke-width="0.7"/><path d="M69.8,786.4L84.7,790.9L99.5,800.7L114.4,782.0L129.3,804.2L144.1,773.1L159.0,789.1L173.9,786.4L188.8,764.2" fill="none" stroke="#c9ccd1" stroke-width="0.7"/><path d="M69.8,799.8L84.7,801.6L99.5,786.4L114.4,759.7L129.3,777.5L144.1,768.6L159.0,804.2L173.9,795.3L188.8,799.8" fill="none" stroke="#c9ccd1" stroke-width="0.7"/><path d="M69.8,782.0L84.7,789.1L99.5,777.5L114.4,768.6L129.3,759.7L144.1,777.5L159.0,803.4L173.9,790.9L188.8,792.7" fill="none" stroke="#c9ccd1" stroke-width="0.7"/><path d="M69.8,773.1L84.7,782.0L99.5,768.6L114.4,746.4L129.3,786.4L144.1,746.4L159.0,773.1L173.9,795.3L188.8,783.8" fill="none" stroke="#c9ccd1" stroke-width="0.7"/><path d="M69.8,790.9L84.7,798.0L99.5,787.3L114.4,780.2L129.3,789.1L144.1,795.3L159.0,801.6L173.9,780.2L188.8,779.3" fill="none" stroke="#c9ccd1" stroke-width="0.7"/><path d="M69.8,764.2L84.7,768.6L99.5,762.4L114.4,755.3L129.3,764.2L144.1,759.7L159.0,783.8L173.9,776.6L188.8,773.1" fill="none" stroke="#c9ccd1" stroke-width="0.7"/><path d="M69.8,780.2L84.7,786.4L99.5,774.9L114.4,786.4L129.3,799.8L144.1,786.4L159.0,792.7L173.9,788.2L188.8,790.9" fill="none" stroke="#c9ccd1" stroke-width="0.7"/><path d="M69.8,681.5L72.2,685.8H67.3Z" fill="#c9ccd1"/><path d="M84.7,783.9L87.1,788.2H82.2Z" fill="#c9ccd1"/><path d="M99.5,770.5L102.0,774.9H97.1Z" fill="#c9ccd1"/><path d="M114.4,748.3L116.9,752.6H112.0Z" fill="#c9ccd1"/><path d="M129.3,779.4L131.7,783.8H126.8Z" fill="#c9ccd1"/><path d="M144.1,779.4L146.6,783.8H141.7Z" fill="#c9ccd1"/><path d="M159.0,788.3L161.5,792.7H156.6Z" fill="#c9ccd1"/><path d="M173.9,783.9L176.3,788.2H171.4Z" fill="#c9ccd1"/><path d="M188.8,779.4L191.2,783.8H186.3Z" fill="#c9ccd1"/><circle cx="69.8" cy="754.4" r="2.2" fill="#c9ccd1"/><circle cx="84.7" cy="780.2" r="2.2" fill="#c9ccd1"/><circle cx="99.5" cy="741.0" r="2.2" fill="#c9ccd1"/><circle cx="114.4" cy="759.7" r="2.2" fill="#c9ccd1"/><circle cx="129.3" cy="768.6" r="2.2" fill="#c9ccd1"/><circle cx="144.1" cy="764.2" r="2.2" fill="#c9ccd1"/><circle cx="159.0" cy="777.5" r="2.2" fill="#c9ccd1"/><circle cx="173.9" cy="783.8" r="2.2" fill="#c9ccd1"/><circle cx="188.8" cy="777.5" r="2.2" fill="#c9ccd1"/><circle cx="69.8" cy="777.5" r="2.2" fill="#fff" stroke="#c9ccd1" stroke-width="1.0"/><circle cx="84.7" cy="799.8" r="2.2" fill="#fff" stroke="#c9ccd1" stroke-width="1.0"/><circle cx="99.5" cy="782.0" r="2.2" fill="#fff" stroke="#c9ccd1" stroke-width="1.0"/><circle cx="114.4" cy="774.9" r="2.2" fill="#fff" stroke="#c9ccd1" stroke-width="1.0"/><circle cx="129.3" cy="790.9" r="2.2" fill="#fff" stroke="#c9ccd1" stroke-width="1.0"/><circle cx="144.1" cy="725.0" r="2.2" fill="#fff" stroke="#c9ccd1" stroke-width="1.0"/><circle cx="159.0" cy="795.3" r="2.2" fill="#fff" stroke="#c9ccd1" stroke-width="1.0"/><circle cx="173.9" cy="734.8" r="2.2" fill="#fff" stroke="#c9ccd1" stroke-width="1.0"/><circle cx="188.8" cy="786.4" r="2.2" fill="#fff" stroke="#c9ccd1" stroke-width="1.0"/><rect x="67.5" y="788.6" width="4.5" height="4.5" fill="#c9ccd1"/><rect x="82.4" y="793.1" width="4.5" height="4.5" fill="#c9ccd1"/><rect x="97.3" y="770.8" width="4.5" height="4.5" fill="#c9ccd1"/><rect x="112.2" y="790.4" width="4.5" height="4.5" fill="#c9ccd1"/><rect x="127.0" y="793.1" width="4.5" height="4.5" fill="#c9ccd1"/><rect x="141.9" y="779.7" width="4.5" height="4.5" fill="#c9ccd1"/><rect x="156.8" y="784.2" width="4.5" height="4.5" fill="#c9ccd1"/><rect x="171.6" y="781.5" width="4.5" height="4.5" fill="#c9ccd1"/><rect x="186.5" y="749.4" width="4.5" height="4.5" fill="#c9ccd1"/><path d="M69.8,766.0L72.5,768.6L69.8,771.3L67.1,768.6Z" fill="#c9ccd1"/><path d="M84.7,774.9L87.3,777.5L84.7,780.2L82.0,777.5Z" fill="#c9ccd1"/><path d="M99.5,749.9L102.2,752.6L99.5,755.2L96.9,752.6Z" fill="#c9ccd1"/><path d="M114.4,727.7L117.1,730.3L114.4,733.0L111.8,730.3Z" fill="#c9ccd1"/><path d="M129.3,770.4L131.9,773.1L129.3,775.7L126.6,773.1Z" fill="#c9ccd1"/><path d="M144.1,745.5L146.8,748.1L144.1,750.8L141.5,748.1Z" fill="#c9ccd1"/><path d="M159.0,777.5L161.7,780.2L159.0,782.8L156.4,780.2Z" fill="#c9ccd1"/><path d="M173.9,779.3L176.5,782.0L173.9,784.6L171.2,782.0Z" fill="#c9ccd1"/><path d="M188.8,768.6L191.4,771.3L188.8,773.9L186.1,771.3Z" fill="#c9ccd1"/><path d="M69.8,783.8L72.5,786.4L69.8,789.1L67.1,786.4Z" fill="#fff" stroke="#c9ccd1" stroke-width="1.0"/><path d="M84.7,788.2L87.3,790.9L84.7,793.5L82.0,790.9Z" fill="#fff" stroke="#c9ccd1" stroke-width="1.0"/><path d="M99.5,798.0L102.2,800.7L99.5,803.3L96.9,800.7Z" fill="#fff" stroke="#c9ccd1" stroke-width="1.0"/><path d="M114.4,779.3L117.1,782.0L114.4,784.6L111.8,782.0Z" fill="#fff" stroke="#c9ccd1" stroke-width="1.0"/><path d="M129.3,801.6L131.9,804.2L129.3,806.9L126.6,804.2Z" fill="#fff" stroke="#c9ccd1" stroke-width="1.0"/><path d="M144.1,770.4L146.8,773.1L144.1,775.7L141.5,773.1Z" fill="#fff" stroke="#c9ccd1" stroke-width="1.0"/><path d="M159.0,786.5L161.7,789.1L159.0,791.8L156.4,789.1Z" fill="#fff" stroke="#c9ccd1" stroke-width="1.0"/><path d="M173.9,783.8L176.5,786.4L173.9,789.1L171.2,786.4Z" fill="#fff" stroke="#c9ccd1" stroke-width="1.0"/><path d="M188.8,761.5L191.4,764.2L188.8,766.8L186.1,764.2Z" fill="#fff" stroke="#c9ccd1" stroke-width="1.0"/><path d="M69.8,802.3L72.2,798.0H67.3Z" fill="#c9ccd1"/><path d="M84.7,804.1L87.1,799.8H82.2Z" fill="#c9ccd1"/><path d="M99.5,789.0L102.0,784.6H97.1Z" fill="#c9ccd1"/><path d="M114.4,762.3L116.9,757.9H112.0Z" fill="#c9ccd1"/><path d="M129.3,780.1L131.7,775.7H126.8Z" fill="#c9ccd1"/><path d="M144.1,771.2L146.6,766.8H141.7Z" fill="#c9ccd1"/><path d="M159.0,806.8L161.5,802.4H156.6Z" fill="#c9ccd1"/><path d="M173.9,797.9L176.3,793.5H171.4Z" fill="#c9ccd1"/><path d="M188.8,802.3L191.2,798.0H186.3Z" fill="#c9ccd1"/><rect x="67.5" y="779.7" width="4.5" height="4.5" fill="#fff" stroke="#c9ccd1" stroke-width="1.0"/><rect x="82.4" y="786.9" width="4.5" height="4.5" fill="#fff" stroke="#c9ccd1" stroke-width="1.0"/><rect x="97.3" y="775.3" width="4.5" height="4.5" fill="#fff" stroke="#c9ccd1" stroke-width="1.0"/><rect x="112.2" y="766.4" width="4.5" height="4.5" fill="#fff" stroke="#c9ccd1" stroke-width="1.0"/><rect x="127.0" y="757.5" width="4.5" height="4.5" fill="#fff" stroke="#c9ccd1" stroke-width="1.0"/><rect x="141.9" y="775.3" width="4.5" height="4.5" fill="#fff" stroke="#c9ccd1" stroke-width="1.0"/><rect x="156.8" y="801.1" width="4.5" height="4.5" fill="#fff" stroke="#c9ccd1" stroke-width="1.0"/><rect x="171.6" y="788.6" width="4.5" height="4.5" fill="#fff" stroke="#c9ccd1" stroke-width="1.0"/><rect x="186.5" y="790.4" width="4.5" height="4.5" fill="#fff" stroke="#c9ccd1" stroke-width="1.0"/><path d="M69.8,770.5L72.2,774.9H67.3Z" fill="#c9ccd1"/><path d="M84.7,779.4L87.1,783.8H82.2Z" fill="#c9ccd1"/><path d="M99.5,766.1L102.0,770.4H97.1Z" fill="#c9ccd1"/><path d="M114.4,743.8L116.9,748.2H112.0Z" fill="#c9ccd1"/><path d="M129.3,783.9L131.7,788.2H126.8Z" fill="#c9ccd1"/><path d="M144.1,743.8L146.6,748.2H141.7Z" fill="#c9ccd1"/><path d="M159.0,770.5L161.5,774.9H156.6Z" fill="#c9ccd1"/><path d="M173.9,792.8L176.3,797.1H171.4Z" fill="#c9ccd1"/><path d="M188.8,781.2L191.2,785.6H186.3Z" fill="#c9ccd1"/><circle cx="69.8" cy="790.9" r="2.2" fill="#c9ccd1"/><circle cx="84.7" cy="798.0" r="2.2" fill="#c9ccd1"/><circle cx="99.5" cy="787.3" r="2.2" fill="#c9ccd1"/><circle cx="114.4" cy="780.2" r="2.2" fill="#c9ccd1"/><circle cx="129.3" cy="789.1" r="2.2" fill="#c9ccd1"/><circle cx="144.1" cy="795.3" r="2.2" fill="#c9ccd1"/><circle cx="159.0" cy="801.6" r="2.2" fill="#c9ccd1"/><circle cx="173.9" cy="780.2" r="2.2" fill="#c9ccd1"/><circle cx="188.8" cy="779.3" r="2.2" fill="#c9ccd1"/><circle cx="69.8" cy="764.2" r="2.2" fill="#fff" stroke="#c9ccd1" stroke-width="1.0"/><circle cx="84.7" cy="768.6" r="2.2" fill="#fff" stroke="#c9ccd1" stroke-width="1.0"/><circle cx="99.5" cy="762.4" r="2.2" fill="#fff" stroke="#c9ccd1" stroke-width="1.0"/><circle cx="114.4" cy="755.3" r="2.2" fill="#fff" stroke="#c9ccd1" stroke-width="1.0"/><circle cx="129.3" cy="764.2" r="2.2" fill="#fff" stroke="#c9ccd1" stroke-width="1.0"/><circle cx="144.1" cy="759.7" r="2.2" fill="#fff" stroke="#c9ccd1" stroke-width="1.0"/><circle cx="159.0" cy="783.8" r="2.2" fill="#fff" stroke="#c9ccd1" stroke-width="1.0"/><circle cx="173.9" cy="776.6" r="2.2" fill="#fff" stroke="#c9ccd1" stroke-width="1.0"/><circle cx="188.8" cy="773.1" r="2.2" fill="#fff" stroke="#c9ccd1" stroke-width="1.0"/><rect x="67.5" y="777.9" width="4.5" height="4.5" fill="#c9ccd1"/><rect x="82.4" y="784.2" width="4.5" height="4.5" fill="#c9ccd1"/><rect x="97.3" y="772.6" width="4.5" height="4.5" fill="#c9ccd1"/><rect x="112.2" y="784.2" width="4.5" height="4.5" fill="#c9ccd1"/><rect x="127.0" y="797.5" width="4.5" height="4.5" fill="#c9ccd1"/><rect x="141.9" y="784.2" width="4.5" height="4.5" fill="#c9ccd1"/><rect x="156.8" y="790.4" width="4.5" height="4.5" fill="#c9ccd1"/><rect x="171.6" y="786.0" width="4.5" height="4.5" fill="#c9ccd1"/><rect x="186.5" y="788.6" width="4.5" height="4.5" fill="#c9ccd1"/></g>
<path d="M69.8,780.8V808.7M66.7,780.8h6.2M66.7,808.7h6.2M84.7,753.6V800.6M81.6,753.6h6.2M81.6,800.6h6.2M99.5,762.4V786.3M96.4,762.4h6.2M96.4,786.3h6.2M114.4,735.2V781.6M111.3,735.2h6.2M111.3,781.6h6.2M129.3,761.3V805.7M126.2,761.3h6.2M126.2,805.7h6.2M144.1,730.1V800.0M141.0,730.1h6.2M141.0,800.0h6.2M159.0,768.9V796.1M155.9,768.9h6.2M155.9,796.1h6.2M173.9,778.4V790.0M170.8,778.4h6.2M170.8,790.0h6.2M188.8,789.1V798.9M185.7,789.1h6.2M185.7,798.9h6.2" stroke="#17961b" stroke-width="1.65" fill="none"/>
<path d="M69.8,794.4L84.7,777.7L99.5,774.0L114.4,757.7L129.3,782.2L144.1,765.4L159.0,782.2L173.9,785.3L188.8,794.0" stroke="#17961b" stroke-width="1.95" fill="none" stroke-dasharray="5,3"/>
<path d="M69.8,755.6V797.1M66.7,755.6h6.2M66.7,797.1h6.2M84.7,774.0V796.1M81.6,774.0h6.2M81.6,796.1h6.2M99.5,761.7V781.6M96.4,761.7h6.2M96.4,781.6h6.2M114.4,757.7V785.3M111.3,757.7h6.2M111.3,785.3h6.2M129.3,780.2V795.5M126.2,780.2h6.2M126.2,795.5h6.2M144.1,762.8V789.3M141.0,762.8h6.2M141.0,789.3h6.2M159.0,785.3V798.1M155.9,785.3h6.2M155.9,798.1h6.2M173.9,773.6V794.4M170.8,773.6h6.2M170.8,794.4h6.2M188.8,769.5V790.4M185.7,769.5h6.2M185.7,790.4h6.2" stroke="#3b6a84" stroke-width="1.65" fill="none"/>
<path d="M69.8,776.1L84.7,784.8L99.5,771.6L114.4,771.6L129.3,787.3L144.1,776.1L159.0,792.0L173.9,784.2L188.8,779.7" stroke="#3b6a84" stroke-width="1.95" fill="none" />
<circle cx="69.8" cy="776.1" r="2.7" fill="#3b6a84"/>
<circle cx="84.7" cy="784.8" r="2.7" fill="#3b6a84"/>
<circle cx="99.5" cy="771.6" r="2.7" fill="#3b6a84"/>
<circle cx="114.4" cy="771.6" r="2.7" fill="#3b6a84"/>
<circle cx="129.3" cy="787.3" r="2.7" fill="#3b6a84"/>
<circle cx="144.1" cy="776.1" r="2.7" fill="#3b6a84"/>
<circle cx="159.0" cy="792.0" r="2.7" fill="#3b6a84"/>
<circle cx="173.9" cy="784.2" r="2.7" fill="#3b6a84"/>
<circle cx="188.8" cy="779.7" r="2.7" fill="#3b6a84"/>
<path d="M63.0,830.1H196.4M69.8,830.1v4M84.7,830.1v4M99.5,830.1v4M114.4,830.1v4M129.3,830.1v4M144.1,830.1v4M159.0,830.1v4M173.9,830.1v4M188.8,830.1v4" stroke="#000" stroke-width="1.2" fill="none"/>
<path d="M104.9,832.9L108.9,827.3M119.0,832.9L123.0,827.3M122.2,832.9L126.2,827.3" stroke="#000" stroke-width="1.35" fill="none"/>
<path d="M69.8,818.5V822.9" stroke="#000" stroke-width="0.9"/>
<path d="M66.9,821.8H72.7L69.8,826.3Z" fill="#000"/>
<path d="M84.7,818.5V822.9" stroke="#000" stroke-width="0.9"/>
<path d="M81.8,821.8H87.6L84.7,826.3Z" fill="#000"/>
<text x="69.8" y="846.2" font-size="8.0" text-anchor="middle">-7</text>
<text x="84.7" y="846.2" font-size="8.0" text-anchor="middle">0</text>
<text x="99.5" y="846.2" font-size="8.0" text-anchor="middle">1</text>
<text x="114.4" y="846.2" font-size="8.0" text-anchor="middle">3</text>
<text x="129.3" y="846.2" font-size="8.0" text-anchor="middle">6</text>
<text x="144.1" y="846.2" font-size="8.0" text-anchor="middle">12</text>
<text x="159.0" y="846.2" font-size="8.0" text-anchor="middle">18</text>
<text x="173.9" y="846.2" font-size="8.0" text-anchor="middle">30</text>
<text x="188.8" y="846.2" font-size="8.0" text-anchor="middle">54</text>
<path d="M69.8,849.1V852.3H84.7V849.1M99.5,849.1V852.3H188.8V849.1" stroke="#000" stroke-width="1.1" fill="none"/>
<text x="77.2" y="865.3" font-size="8.0" text-anchor="middle">Day</text>
<text x="143.1" y="865.3" font-size="8.0" text-anchor="middle">Month</text>
<text x="354.5" y="656.2" class="b" font-size="9.2" text-anchor="middle">Circulating CD8<tspan font-size="5.5" dy="-3.2">+</tspan><tspan dy="3.2"> PD1</tspan><tspan font-size="5.5" dy="-3.2">+</tspan></text>
<text transform="translate(239.2,742.9) rotate(-90)" class="b" font-size="9.4" text-anchor="middle">% Positive cells</text>
<path d="M273.05,674.3V809.5M268.4,808.70H273.1M268.4,781.98H273.1M268.4,755.26H273.1M268.4,728.54H273.1M268.4,701.82H273.1M268.4,675.10H273.1M270.4,795.34H273.1M270.4,768.62H273.1M270.4,741.90H273.1M270.4,715.18H273.1M270.4,688.46H273.1" stroke="#000" stroke-width="1.6" fill="none"/>
<text x="263.6" y="811.90" font-size="7.9" text-anchor="end">0</text>
<text x="263.6" y="785.18" font-size="7.9" text-anchor="end">20</text>
<text x="263.6" y="758.46" font-size="7.9" text-anchor="end">40</text>
<text x="263.6" y="731.74" font-size="7.9" text-anchor="end">60</text>
<text x="263.6" y="705.02" font-size="7.9" text-anchor="end">80</text>
<text x="263.6" y="678.30" font-size="7.9" text-anchor="end">100</text>
<g><path d="M300.4,712.5L315.3,708.5L330.1,728.5L345.0,727.2L359.9,723.2L374.8,708.5L389.6,725.9L404.5,755.3L419.4,719.2" fill="none" stroke="#c9ccd1" stroke-width="0.7"/><path d="M300.4,755.3L315.3,715.2L330.1,755.3L345.0,741.9L359.9,761.9L374.8,721.9L389.6,723.2L404.5,760.6L419.4,755.3" fill="none" stroke="#c9ccd1" stroke-width="0.7"/><path d="M300.4,794.0L315.3,792.7L330.1,791.3L345.0,791.3L359.9,792.7L374.8,790.0L389.6,788.7L404.5,791.3L419.4,798.0" fill="none" stroke="#c9ccd1" stroke-width="0.7"/><path d="M300.4,801.4L315.3,801.4L330.1,799.3L345.0,794.0L359.9,792.7L374.8,791.3L389.6,786.0L404.5,800.4L419.4,798.0" fill="none" stroke="#c9ccd1" stroke-width="0.7"/><path d="M300.4,784.7L315.3,787.3L330.1,776.6L345.0,771.3L359.9,779.3L374.8,768.6L389.6,774.0L404.5,784.7L419.4,784.7" fill="none" stroke="#c9ccd1" stroke-width="0.7"/><path d="M300.4,768.6L315.3,765.9L330.1,776.6L345.0,782.0L359.9,779.3L374.8,774.0L389.6,771.3L404.5,782.0L419.4,779.3" fill="none" stroke="#c9ccd1" stroke-width="0.7"/><path d="M300.4,753.9L315.3,748.6L330.1,765.9L345.0,761.9L359.9,757.9L374.8,755.3L389.6,760.6L404.5,771.3L419.4,760.6" fill="none" stroke="#c9ccd1" stroke-width="0.7"/><path d="M300.4,761.9L315.3,768.6L330.1,774.0L345.0,771.3L359.9,775.3L374.8,768.6L389.6,768.6L404.5,784.7L419.4,782.0" fill="none" stroke="#c9ccd1" stroke-width="0.7"/><path d="M300.4,774.0L315.3,776.6L330.1,779.3L345.0,776.6L359.9,782.0L374.8,779.3L389.6,776.6L404.5,787.3L419.4,790.0" fill="none" stroke="#c9ccd1" stroke-width="0.7"/><path d="M300.4,744.6L315.3,741.9L330.1,761.9L345.0,757.9L359.9,752.6L374.8,752.6L389.6,755.3L404.5,775.3L419.4,755.3" fill="none" stroke="#c9ccd1" stroke-width="0.7"/><path d="M300.4,779.3L315.3,779.3L330.1,768.6L345.0,774.0L359.9,771.3L374.8,763.3L389.6,757.9L404.5,779.3L419.4,768.6" fill="none" stroke="#c9ccd1" stroke-width="0.7"/><path d="M300.4,760.6L315.3,755.3L330.1,768.6L345.0,765.9L359.9,768.6L374.8,761.9L389.6,771.3L404.5,776.6L419.4,775.3" fill="none" stroke="#c9ccd1" stroke-width="0.7"/><rect x="298.1" y="710.3" width="4.5" height="4.5" fill="#fff" stroke="#c9ccd1" stroke-width="1.0"/><rect x="313.0" y="706.2" width="4.5" height="4.5" fill="#fff" stroke="#c9ccd1" stroke-width="1.0"/><rect x="327.9" y="726.3" width="4.5" height="4.5" fill="#fff" stroke="#c9ccd1" stroke-width="1.0"/><rect x="342.8" y="725.0" width="4.5" height="4.5" fill="#fff" stroke="#c9ccd1" stroke-width="1.0"/><rect x="357.6" y="720.9" width="4.5" height="4.5" fill="#fff" stroke="#c9ccd1" stroke-width="1.0"/><rect x="372.5" y="706.2" width="4.5" height="4.5" fill="#fff" stroke="#c9ccd1" stroke-width="1.0"/><rect x="387.4" y="723.6" width="4.5" height="4.5" fill="#fff" stroke="#c9ccd1" stroke-width="1.0"/><rect x="402.2" y="753.0" width="4.5" height="4.5" fill="#fff" stroke="#c9ccd1" stroke-width="1.0"/><rect x="417.1" y="716.9" width="4.5" height="4.5" fill="#fff" stroke="#c9ccd1" stroke-width="1.0"/><circle cx="300.4" cy="755.3" r="2.2" fill="#fff" stroke="#c9ccd1" stroke-width="1.0"/><circle cx="315.3" cy="715.2" r="2.2" fill="#fff" stroke="#c9ccd1" stroke-width="1.0"/><circle cx="330.1" cy="755.3" r="2.2" fill="#fff" stroke="#c9ccd1" stroke-width="1.0"/><circle cx="345.0" cy="741.9" r="2.2" fill="#fff" stroke="#c9ccd1" stroke-width="1.0"/><circle cx="359.9" cy="761.9" r="2.2" fill="#fff" stroke="#c9ccd1" stroke-width="1.0"/><circle cx="374.8" cy="721.9" r="2.2" fill="#fff" stroke="#c9ccd1" stroke-width="1.0"/><circle cx="389.6" cy="723.2" r="2.2" fill="#fff" stroke="#c9ccd1" stroke-width="1.0"/><circle cx="404.5" cy="760.6" r="2.2" fill="#fff" stroke="#c9ccd1" stroke-width="1.0"/><circle cx="419.4" cy="755.3" r="2.2" fill="#fff" stroke="#c9ccd1" stroke-width="1.0"/><circle cx="300.4" cy="794.0" r="2.2" fill="#c9ccd1"/><circle cx="315.3" cy="792.7" r="2.2" fill="#c9ccd1"/><circle cx="330.1" cy="791.3" r="2.2" fill="#c9ccd1"/><circle cx="345.0" cy="791.3" r="2.2" fill="#c9ccd1"/><circle cx="359.9" cy="792.7" r="2.2" fill="#c9ccd1"/><circle cx="374.8" cy="790.0" r="2.2" fill="#c9ccd1"/><circle cx="389.6" cy="788.7" r="2.2" fill="#c9ccd1"/><circle cx="404.5" cy="791.3" r="2.2" fill="#c9ccd1"/><circle cx="419.4" cy="798.0" r="2.2" fill="#c9ccd1"/><path d="M300.4,798.8L302.8,803.2H297.9Z" fill="#fff" stroke="#c9ccd1" stroke-width="1.0"/><path d="M315.3,798.8L317.7,803.2H312.8Z" fill="#fff" stroke="#c9ccd1" stroke-width="1.0"/><path d="M330.1,796.8L332.6,801.1H327.7Z" fill="#fff" stroke="#c9ccd1" stroke-width="1.0"/><path d="M345.0,791.5L347.5,795.8H342.6Z" fill="#fff" stroke="#c9ccd1" stroke-width="1.0"/><path d="M359.9,790.1L362.3,794.5H357.4Z" fill="#fff" stroke="#c9ccd1" stroke-width="1.0"/><path d="M374.8,788.8L377.2,793.1H372.3Z" fill="#fff" stroke="#c9ccd1" stroke-width="1.0"/><path d="M389.6,783.4L392.1,787.8H387.2Z" fill="#fff" stroke="#c9ccd1" stroke-width="1.0"/><path d="M404.5,797.9L406.9,802.2H402.0Z" fill="#fff" stroke="#c9ccd1" stroke-width="1.0"/><path d="M419.4,795.5L421.8,799.8H416.9Z" fill="#fff" stroke="#c9ccd1" stroke-width="1.0"/><path d="M300.4,782.0L303.0,784.7L300.4,787.3L297.8,784.7Z" fill="#fff" stroke="#c9ccd1" stroke-width="1.0"/><path d="M315.3,784.7L317.9,787.3L315.3,790.0L312.6,787.3Z" fill="#fff" stroke="#c9ccd1" stroke-width="1.0"/><path d="M330.1,774.0L332.8,776.6L330.1,779.3L327.5,776.6Z" fill="#fff" stroke="#c9ccd1" stroke-width="1.0"/><path d="M345.0,768.6L347.7,771.3L345.0,773.9L342.4,771.3Z" fill="#fff" stroke="#c9ccd1" stroke-width="1.0"/><path d="M359.9,776.7L362.5,779.3L359.9,782.0L357.2,779.3Z" fill="#fff" stroke="#c9ccd1" stroke-width="1.0"/><path d="M374.8,766.0L377.4,768.6L374.8,771.3L372.1,768.6Z" fill="#fff" stroke="#c9ccd1" stroke-width="1.0"/><path d="M389.6,771.3L392.3,774.0L389.6,776.6L387.0,774.0Z" fill="#fff" stroke="#c9ccd1" stroke-width="1.0"/><path d="M404.5,782.0L407.1,784.7L404.5,787.3L401.8,784.7Z" fill="#fff" stroke="#c9ccd1" stroke-width="1.0"/><path d="M419.4,782.0L422.0,784.7L419.4,787.3L416.7,784.7Z" fill="#fff" stroke="#c9ccd1" stroke-width="1.0"/><rect x="298.1" y="766.4" width="4.5" height="4.5" fill="#c9ccd1"/><rect x="313.0" y="763.7" width="4.5" height="4.5" fill="#c9ccd1"/><rect x="327.9" y="774.4" width="4.5" height="4.5" fill="#c9ccd1"/><rect x="342.8" y="779.7" width="4.5" height="4.5" fill="#c9ccd1"/><rect x="357.6" y="777.1" width="4.5" height="4.5" fill="#c9ccd1"/><rect x="372.5" y="771.7" width="4.5" height="4.5" fill="#c9ccd1"/><rect x="387.4" y="769.0" width="4.5" height="4.5" fill="#c9ccd1"/><rect x="402.2" y="779.7" width="4.5" height="4.5" fill="#c9ccd1"/><rect x="417.1" y="777.1" width="4.5" height="4.5" fill="#c9ccd1"/><path d="M300.4,751.3L303.0,753.9L300.4,756.6L297.8,753.9Z" fill="#c9ccd1"/><path d="M315.3,745.9L317.9,748.6L315.3,751.2L312.6,748.6Z" fill="#c9ccd1"/><path d="M330.1,763.3L332.8,765.9L330.1,768.6L327.5,765.9Z" fill="#c9ccd1"/><path d="M345.0,759.3L347.7,761.9L345.0,764.6L342.4,761.9Z" fill="#c9ccd1"/><path d="M359.9,755.3L362.5,757.9L359.9,760.6L357.2,757.9Z" fill="#c9ccd1"/><path d="M374.8,752.6L377.4,755.3L374.8,757.9L372.1,755.3Z" fill="#c9ccd1"/><path d="M389.6,758.0L392.3,760.6L389.6,763.3L387.0,760.6Z" fill="#c9ccd1"/><path d="M404.5,768.6L407.1,771.3L404.5,773.9L401.8,771.3Z" fill="#c9ccd1"/><path d="M419.4,758.0L422.0,760.6L419.4,763.3L416.7,760.6Z" fill="#c9ccd1"/><path d="M300.4,759.4L302.8,763.7H297.9Z" fill="#c9ccd1"/><path d="M315.3,766.1L317.7,770.4H312.8Z" fill="#c9ccd1"/><path d="M330.1,771.4L332.6,775.8H327.7Z" fill="#c9ccd1"/><path d="M345.0,768.7L347.5,773.1H342.6Z" fill="#c9ccd1"/><path d="M359.9,772.8L362.3,777.1H357.4Z" fill="#c9ccd1"/><path d="M374.8,766.1L377.2,770.4H372.3Z" fill="#c9ccd1"/><path d="M389.6,766.1L392.1,770.4H387.2Z" fill="#c9ccd1"/><path d="M404.5,782.1L406.9,786.5H402.0Z" fill="#c9ccd1"/><path d="M419.4,779.4L421.8,783.8H416.9Z" fill="#c9ccd1"/><path d="M300.4,776.5L302.8,772.2H297.9Z" fill="#c9ccd1"/><path d="M315.3,779.2L317.7,774.8H312.8Z" fill="#c9ccd1"/><path d="M330.1,781.9L332.6,777.5H327.7Z" fill="#c9ccd1"/><path d="M345.0,779.2L347.5,774.8H342.6Z" fill="#c9ccd1"/><path d="M359.9,784.5L362.3,780.2H357.4Z" fill="#c9ccd1"/><path d="M374.8,781.9L377.2,777.5H372.3Z" fill="#c9ccd1"/><path d="M389.6,779.2L392.1,774.8H387.2Z" fill="#c9ccd1"/><path d="M404.5,789.9L406.9,785.5H402.0Z" fill="#c9ccd1"/><path d="M419.4,792.5L421.8,788.2H416.9Z" fill="#c9ccd1"/><circle cx="300.4" cy="744.6" r="2.2" fill="#c9ccd1"/><circle cx="315.3" cy="741.9" r="2.2" fill="#c9ccd1"/><circle cx="330.1" cy="761.9" r="2.2" fill="#c9ccd1"/><circle cx="345.0" cy="757.9" r="2.2" fill="#c9ccd1"/><circle cx="359.9" cy="752.6" r="2.2" fill="#c9ccd1"/><circle cx="374.8" cy="752.6" r="2.2" fill="#c9ccd1"/><circle cx="389.6" cy="755.3" r="2.2" fill="#c9ccd1"/><circle cx="404.5" cy="775.3" r="2.2" fill="#c9ccd1"/><circle cx="419.4" cy="755.3" r="2.2" fill="#c9ccd1"/><circle cx="300.4" cy="779.3" r="2.2" fill="#fff" stroke="#c9ccd1" stroke-width="1.0"/><circle cx="315.3" cy="779.3" r="2.2" fill="#fff" stroke="#c9ccd1" stroke-width="1.0"/><circle cx="330.1" cy="768.6" r="2.2" fill="#fff" stroke="#c9ccd1" stroke-width="1.0"/><circle cx="345.0" cy="774.0" r="2.2" fill="#fff" stroke="#c9ccd1" stroke-width="1.0"/><circle cx="359.9" cy="771.3" r="2.2" fill="#fff" stroke="#c9ccd1" stroke-width="1.0"/><circle cx="374.8" cy="763.3" r="2.2" fill="#fff" stroke="#c9ccd1" stroke-width="1.0"/><circle cx="389.6" cy="757.9" r="2.2" fill="#fff" stroke="#c9ccd1" stroke-width="1.0"/><circle cx="404.5" cy="779.3" r="2.2" fill="#fff" stroke="#c9ccd1" stroke-width="1.0"/><circle cx="419.4" cy="768.6" r="2.2" fill="#fff" stroke="#c9ccd1" stroke-width="1.0"/><rect x="298.1" y="758.4" width="4.5" height="4.5" fill="#c9ccd1"/><rect x="313.0" y="753.0" width="4.5" height="4.5" fill="#c9ccd1"/><rect x="327.9" y="766.4" width="4.5" height="4.5" fill="#c9ccd1"/><rect x="342.8" y="763.7" width="4.5" height="4.5" fill="#c9ccd1"/><rect x="357.6" y="766.4" width="4.5" height="4.5" fill="#c9ccd1"/><rect x="372.5" y="759.7" width="4.5" height="4.5" fill="#c9ccd1"/><rect x="387.4" y="769.0" width="4.5" height="4.5" fill="#c9ccd1"/><rect x="402.2" y="774.4" width="4.5" height="4.5" fill="#c9ccd1"/><rect x="417.1" y="773.0" width="4.5" height="4.5" fill="#c9ccd1"/></g>
<path d="M300.4,715.4V782.0M297.3,715.4h6.2M297.3,782.0h6.2M315.3,698.6V777.4M312.2,698.6h6.2M312.2,777.4h6.2M330.1,728.8V778.9M327.0,728.8h6.2M327.0,778.9h6.2M345.0,728.4V773.8M341.9,728.4h6.2M341.9,773.8h6.2M359.9,722.7V795.7M356.8,722.7h6.2M356.8,795.7h6.2M374.8,713.4V781.0M371.6,713.4h6.2M371.6,781.0h6.2M389.6,726.8V792.1M386.5,726.8h6.2M386.5,792.1h6.2M404.5,775.8V786.0M401.4,775.8h6.2M401.4,786.0h6.2M419.4,724.7V803.4M416.3,724.7h6.2M416.3,803.4h6.2" stroke="#17961b" stroke-width="1.65" fill="none"/>
<path d="M300.4,748.2L315.3,738.6L330.1,753.8L345.0,751.3L359.9,757.9L374.8,747.6L389.6,759.5L404.5,778.2L419.4,765.5" stroke="#17961b" stroke-width="1.95" fill="none" stroke-dasharray="5,3"/>
<path d="M300.4,751.7V779.4M297.3,751.7h6.2M297.3,779.4h6.2M315.3,738.6V777.4M312.2,738.6h6.2M312.2,777.4h6.2M330.1,761.1V781.6M327.0,761.1h6.2M327.0,781.6h6.2M345.0,753.4V777.8M341.9,753.4h6.2M341.9,777.8h6.2M359.9,755.0V779.8M356.8,755.0h6.2M356.8,779.8h6.2M374.8,746.6V778.2M371.6,746.6h6.2M371.6,778.2h6.2M389.6,750.9V779.8M386.5,750.9h6.2M386.5,779.8h6.2M404.5,773.8V789.1M401.4,773.8h6.2M401.4,789.1h6.2M419.4,758.5V795.3M416.3,758.5h6.2M416.3,795.3h6.2" stroke="#3b6a84" stroke-width="1.65" fill="none"/>
<path d="M300.4,765.5L315.3,757.9L330.1,771.7L345.0,765.9L359.9,767.7L374.8,762.1L389.6,765.5L404.5,781.6L419.4,776.9" stroke="#3b6a84" stroke-width="1.95" fill="none" />
<circle cx="300.4" cy="765.5" r="2.7" fill="#3b6a84"/>
<circle cx="315.3" cy="757.9" r="2.7" fill="#3b6a84"/>
<circle cx="330.1" cy="771.7" r="2.7" fill="#3b6a84"/>
<circle cx="345.0" cy="765.9" r="2.7" fill="#3b6a84"/>
<circle cx="359.9" cy="767.7" r="2.7" fill="#3b6a84"/>
<circle cx="374.8" cy="762.1" r="2.7" fill="#3b6a84"/>
<circle cx="389.6" cy="765.5" r="2.7" fill="#3b6a84"/>
<circle cx="404.5" cy="781.6" r="2.7" fill="#3b6a84"/>
<circle cx="419.4" cy="776.9" r="2.7" fill="#3b6a84"/>
<path d="M293.6,830.1H427.0M300.4,830.1v4M315.3,830.1v4M330.1,830.1v4M345.0,830.1v4M359.9,830.1v4M374.8,830.1v4M389.6,830.1v4M404.5,830.1v4M419.4,830.1v4" stroke="#000" stroke-width="1.2" fill="none"/>
<path d="M335.5,832.9L339.5,827.3M349.6,832.9L353.6,827.3M352.8,832.9L356.8,827.3" stroke="#000" stroke-width="1.35" fill="none"/>
<path d="M300.4,818.5V822.9" stroke="#000" stroke-width="0.9"/>
<path d="M297.5,821.8H303.3L300.4,826.3Z" fill="#000"/>
<path d="M315.3,818.5V822.9" stroke="#000" stroke-width="0.9"/>
<path d="M312.4,821.8H318.2L315.3,826.3Z" fill="#000"/>
<text x="300.4" y="846.2" font-size="8.0" text-anchor="middle">-7</text>
<text x="315.3" y="846.2" font-size="8.0" text-anchor="middle">0</text>
<text x="330.1" y="846.2" font-size="8.0" text-anchor="middle">1</text>
<text x="345.0" y="846.2" font-size="8.0" text-anchor="middle">3</text>
<text x="359.9" y="846.2" font-size="8.0" text-anchor="middle">6</text>
<text x="374.8" y="846.2" font-size="8.0" text-anchor="middle">12</text>
<text x="389.6" y="846.2" font-size="8.0" text-anchor="middle">18</text>
<text x="404.5" y="846.2" font-size="8.0" text-anchor="middle">30</text>
<text x="419.4" y="846.2" font-size="8.0" text-anchor="middle">54</text>
<path d="M300.4,849.1V852.3H315.3V849.1M330.1,849.1V852.3H419.4V849.1" stroke="#000" stroke-width="1.1" fill="none"/>
<text x="307.8" y="865.3" font-size="8.0" text-anchor="middle">Day</text>
<text x="373.8" y="865.3" font-size="8.0" text-anchor="middle">Month</text>
<text x="470.9" y="388.7" class="b" font-size="10.6">c</text>
<text x="591.0" y="402.4" class="b" font-size="9.2" text-anchor="middle">Proliferating IFNγ<tspan font-size="5.5" dy="-3.2">+</tspan><tspan dy="3.2"> CD4</tspan><tspan font-size="5.5" dy="-3.2">+</tspan><tspan dy="3.2"> T-cells</tspan></text>
<text transform="translate(474.6,488.6) rotate(-90)" class="b" font-size="9.1" text-anchor="middle">% IFN-γ<tspan font-size="5.5" dy="-3.2">+</tspan><tspan dy="3.2"> CD4</tspan><tspan font-size="5.5" dy="-3.2">+</tspan></text>
<text transform="translate(486.2,488.6) rotate(-90)" class="b" font-size="9.1" text-anchor="middle">proliferating T cells</text>
<path d="M520.20,420.4V555.6M514.4,554.80H520.2M514.4,532.53H520.2M514.4,510.27H520.2M514.4,488.00H520.2M514.4,465.73H520.2M514.4,443.47H520.2M514.4,421.20H520.2M517.1,543.67H520.2M517.1,521.40H520.2M517.1,499.13H520.2M517.1,476.87H520.2M517.1,454.60H520.2M517.1,432.33H520.2" stroke="#000" stroke-width="1.6" fill="none"/>
<text x="509.2" y="557.80" font-size="8" text-anchor="end">-20</text>
<text x="509.2" y="535.53" font-size="8" text-anchor="end">0</text>
<text x="509.2" y="513.27" font-size="8" text-anchor="end">20</text>
<text x="509.2" y="491.00" font-size="8" text-anchor="end">40</text>
<text x="509.2" y="468.73" font-size="8" text-anchor="end">60</text>
<text x="509.2" y="446.47" font-size="8" text-anchor="end">80</text>
<text x="509.2" y="424.20" font-size="8" text-anchor="end">100</text>
<path d="M520.8,532.53H664" stroke="#222" stroke-width="0.7" stroke-dasharray="1,1.3" fill="none"/>
<path d="M565.98,516.95C566.11,517.22 566.51,518.06 566.78,518.62C567.05,519.17 567.40,519.73 567.58,520.29C567.76,520.84 567.68,521.46 567.88,521.96C568.08,522.46 568.10,522.87 568.78,523.29C569.46,523.72 571.95,524.16 571.98,524.52C572.01,524.87 569.76,525.07 568.98,525.41C568.20,525.74 567.78,526.13 567.28,526.52C566.78,526.91 566.20,527.54 565.98,527.75C565.76,527.95 566.20,527.95 565.98,527.75C565.76,527.54 565.18,526.91 564.68,526.52C564.18,526.13 563.76,525.74 562.98,525.41C562.20,525.07 559.95,524.87 559.98,524.52C560.01,524.16 562.50,523.72 563.18,523.29C563.86,522.87 563.88,522.46 564.08,521.96C564.28,521.46 564.20,520.84 564.38,520.29C564.56,519.73 564.91,519.17 565.18,518.62C565.45,518.06 565.85,517.22 565.98,516.95C566.11,516.67 565.85,516.67 565.98,516.95Z" fill="#f2a93b" stroke="#111" stroke-width="0.6"/>
<path d="M587.16,521.62C587.28,521.96 587.64,523.01 587.86,523.63C588.08,524.24 588.18,524.74 588.46,525.30C588.74,525.85 589.01,526.41 589.56,526.97C590.11,527.52 591.09,528.08 591.76,528.64C592.43,529.19 593.18,529.75 593.56,530.31C593.94,530.86 594.38,531.46 594.06,531.98C593.74,532.50 592.48,533.03 591.66,533.42C590.84,533.81 589.91,534.04 589.16,534.31C588.41,534.59 587.49,534.96 587.16,535.09C586.83,535.22 587.49,535.22 587.16,535.09C586.83,534.96 585.91,534.59 585.16,534.31C584.41,534.04 583.48,533.81 582.66,533.42C581.84,533.03 580.58,532.50 580.26,531.98C579.94,531.46 580.38,530.86 580.76,530.31C581.14,529.75 581.89,529.19 582.56,528.64C583.23,528.08 584.21,527.52 584.76,526.97C585.31,526.41 585.58,525.85 585.86,525.30C586.14,524.74 586.24,524.24 586.46,523.63C586.68,523.01 587.04,521.96 587.16,521.62C587.28,521.29 587.04,521.29 587.16,521.62Z" fill="#6b93d6" stroke="#111" stroke-width="0.6"/>
<path d="M608.34,486.89C608.44,487.63 608.69,490.04 608.94,491.34C609.19,492.64 609.66,493.66 609.84,494.68C610.02,495.70 610.16,496.44 610.04,497.46C609.92,498.48 609.34,499.60 609.14,500.80C608.94,502.01 608.77,503.49 608.84,504.70C608.91,505.91 609.39,506.93 609.54,508.04C609.69,509.15 609.79,510.27 609.74,511.38C609.69,512.49 609.04,513.61 609.24,514.72C609.44,515.83 610.29,516.95 610.94,518.06C611.59,519.17 612.59,520.38 613.14,521.40C613.69,522.42 614.17,523.16 614.24,524.18C614.31,525.20 614.02,526.41 613.54,527.52C613.06,528.64 612.04,529.79 611.34,530.86C610.64,531.94 609.77,532.96 609.34,533.98C608.91,535.00 608.91,535.78 608.74,536.99C608.57,538.19 608.41,540.51 608.34,541.22C608.27,541.92 608.41,541.92 608.34,541.22C608.27,540.51 608.11,538.19 607.94,536.99C607.77,535.78 607.77,535.00 607.34,533.98C606.91,532.96 606.04,531.94 605.34,530.86C604.64,529.79 603.62,528.64 603.14,527.52C602.66,526.41 602.37,525.20 602.44,524.18C602.51,523.16 602.99,522.42 603.54,521.40C604.09,520.38 605.09,519.17 605.74,518.06C606.39,516.95 607.24,515.83 607.44,514.72C607.64,513.61 606.99,512.49 606.94,511.38C606.89,510.27 606.99,509.15 607.14,508.04C607.29,506.93 607.77,505.91 607.84,504.70C607.91,503.49 607.74,502.01 607.54,500.80C607.34,499.60 606.76,498.48 606.64,497.46C606.52,496.44 606.66,495.70 606.84,494.68C607.02,493.66 607.49,492.64 607.74,491.34C607.99,490.04 608.24,487.63 608.34,486.89C608.44,486.14 608.24,486.14 608.34,486.89Z" fill="#f2a93b" stroke="#111" stroke-width="0.6"/>
<path d="M629.52,475.09C629.62,476.12 629.89,479.17 630.12,481.32C630.35,483.47 630.72,486.03 630.92,488.00C631.12,489.97 631.34,491.45 631.32,493.12C631.30,494.79 630.99,496.09 630.82,498.02C630.65,499.95 630.40,502.29 630.32,504.70C630.24,507.11 630.25,510.55 630.32,512.49C630.39,514.44 630.42,515.09 630.72,516.39C631.02,517.69 631.52,518.99 632.12,520.29C632.72,521.59 633.67,522.88 634.32,524.18C634.97,525.48 635.89,526.87 636.02,528.08C636.15,529.29 635.64,530.31 635.12,531.42C634.60,532.53 633.52,533.78 632.92,534.76C632.32,535.74 631.95,536.21 631.52,537.32C631.09,538.43 630.60,540.01 630.32,541.44C630.04,542.87 629.95,544.50 629.82,545.89C629.69,547.28 629.57,549.14 629.52,549.79C629.47,550.44 629.57,550.44 629.52,549.79C629.47,549.14 629.35,547.28 629.22,545.89C629.09,544.50 629.00,542.87 628.72,541.44C628.44,540.01 627.95,538.43 627.52,537.32C627.09,536.21 626.72,535.74 626.12,534.76C625.52,533.78 624.44,532.53 623.92,531.42C623.40,530.31 622.89,529.29 623.02,528.08C623.15,526.87 624.07,525.48 624.72,524.18C625.37,522.88 626.32,521.59 626.92,520.29C627.52,518.99 628.02,517.69 628.32,516.39C628.62,515.09 628.65,514.44 628.72,512.49C628.79,510.55 628.80,507.11 628.72,504.70C628.64,502.29 628.39,499.95 628.22,498.02C628.05,496.09 627.74,494.79 627.72,493.12C627.70,491.45 627.92,489.97 628.12,488.00C628.32,486.03 628.69,483.47 628.92,481.32C629.15,479.17 629.42,476.12 629.52,475.09C629.62,474.05 629.42,474.05 629.52,475.09Z" fill="#6b93d6" stroke="#111" stroke-width="0.6"/>
<path d="M650.70,447.03C650.82,447.92 651.10,450.37 651.40,452.37C651.70,454.38 652.27,456.83 652.50,459.05C652.73,461.28 652.82,463.51 652.80,465.73C652.78,467.96 652.58,470.56 652.40,472.41C652.22,474.27 651.85,475.51 651.70,476.87C651.55,478.22 651.43,479.24 651.50,480.54C651.57,481.84 651.77,483.23 652.10,484.66C652.43,486.09 652.93,487.26 653.50,489.11C654.07,490.97 654.95,493.57 655.50,495.79C656.05,498.02 656.52,500.58 656.80,502.47C657.08,504.37 657.28,505.48 657.20,507.15C657.12,508.82 656.75,510.67 656.30,512.49C655.85,514.31 655.13,516.39 654.50,518.06C653.87,519.73 653.03,521.03 652.50,522.51C651.97,524.00 651.56,525.67 651.30,526.97C651.04,528.27 651.05,529.47 650.95,530.31C650.85,531.14 650.74,531.70 650.70,531.98C650.66,532.25 650.74,532.25 650.70,531.98C650.66,531.70 650.55,531.14 650.45,530.31C650.35,529.47 650.36,528.27 650.10,526.97C649.84,525.67 649.43,524.00 648.90,522.51C648.37,521.03 647.53,519.73 646.90,518.06C646.27,516.39 645.55,514.31 645.10,512.49C644.65,510.67 644.28,508.82 644.20,507.15C644.12,505.48 644.32,504.37 644.60,502.47C644.88,500.58 645.35,498.02 645.90,495.79C646.45,493.57 647.33,490.97 647.90,489.11C648.47,487.26 648.97,486.09 649.30,484.66C649.63,483.23 649.83,481.84 649.90,480.54C649.97,479.24 649.85,478.22 649.70,476.87C649.55,475.51 649.18,474.27 649.00,472.41C648.82,470.56 648.62,467.96 648.60,465.73C648.58,463.51 648.67,461.28 648.90,459.05C649.13,456.83 649.70,454.38 650.00,452.37C650.30,450.37 650.58,447.92 650.70,447.03C650.82,446.14 650.58,446.14 650.70,447.03Z" fill="#f2a93b" stroke="#111" stroke-width="0.6"/>
<path d="M539.6,522.0H550.0" stroke="#000" stroke-width="1.3"/>
<path d="M561.0,524.1H571.0" stroke="#222" stroke-width="0.55" stroke-dasharray="1.2,0.6"/>
<path d="M581.2,531.2H593.2" stroke="#222" stroke-width="0.55" stroke-dasharray="1.2,0.6"/>
<path d="M602.8,523.1H613.8" stroke="#222" stroke-width="0.55" stroke-dasharray="1.2,0.6"/>
<path d="M604.3,529.8H612.3" stroke="#222" stroke-width="0.55" stroke-dasharray="1.2,0.6"/>
<path d="M623.5,527.0H635.5" stroke="#222" stroke-width="0.55" stroke-dasharray="1.2,0.6"/>
<path d="M623.7,530.9H635.3" stroke="#222" stroke-width="0.55" stroke-dasharray="1.2,0.6"/>
<path d="M643.9,504.7H657.5" stroke="#222" stroke-width="0.55" stroke-dasharray="1.2,0.6"/>
<path d="M644.7,510.3H656.7" stroke="#222" stroke-width="0.55" stroke-dasharray="1.2,0.6"/>
<circle cx="539.8" cy="522.0" r="1.55" fill="#000"/>
<circle cx="545.3" cy="522.0" r="1.55" fill="#000"/>
<circle cx="549.8" cy="522.0" r="1.55" fill="#000"/>
<circle cx="566.0" cy="520.5" r="1.55" fill="#000"/>
<circle cx="566.0" cy="523.0" r="1.55" fill="#000"/>
<circle cx="560.8" cy="524.7" r="1.55" fill="#000"/>
<circle cx="571.7" cy="524.7" r="1.55" fill="#000"/>
<circle cx="587.2" cy="524.4" r="1.55" fill="#000"/>
<circle cx="581.7" cy="528.6" r="1.55" fill="#000"/>
<circle cx="583.2" cy="530.9" r="1.55" fill="#000"/>
<circle cx="588.7" cy="529.6" r="1.55" fill="#000"/>
<circle cx="592.2" cy="532.0" r="1.55" fill="#000"/>
<circle cx="581.7" cy="532.8" r="1.55" fill="#000"/>
<circle cx="585.2" cy="533.1" r="1.55" fill="#000"/>
<circle cx="588.7" cy="533.4" r="1.55" fill="#000"/>
<circle cx="593.2" cy="531.9" r="1.55" fill="#000"/>
<circle cx="608.3" cy="496.9" r="1.55" fill="#000"/>
<circle cx="608.3" cy="510.9" r="1.55" fill="#000"/>
<circle cx="602.8" cy="523.0" r="1.55" fill="#000"/>
<circle cx="613.3" cy="523.0" r="1.55" fill="#000"/>
<circle cx="610.3" cy="525.4" r="1.55" fill="#000"/>
<circle cx="608.3" cy="530.6" r="1.55" fill="#000"/>
<circle cx="610.3" cy="529.9" r="1.55" fill="#000"/>
<circle cx="604.8" cy="528.1" r="1.55" fill="#000"/>
<circle cx="627.3" cy="492.5" r="1.55" fill="#000"/>
<circle cx="631.5" cy="492.5" r="1.55" fill="#000"/>
<circle cx="631.5" cy="507.1" r="1.55" fill="#000"/>
<circle cx="624.3" cy="527.7" r="1.55" fill="#000"/>
<circle cx="627.5" cy="526.1" r="1.55" fill="#000"/>
<circle cx="632.8" cy="527.3" r="1.55" fill="#000"/>
<circle cx="634.8" cy="527.3" r="1.55" fill="#000"/>
<circle cx="624.3" cy="531.2" r="1.55" fill="#000"/>
<circle cx="627.5" cy="531.2" r="1.55" fill="#000"/>
<circle cx="634.8" cy="531.2" r="1.55" fill="#000"/>
<circle cx="650.7" cy="461.6" r="1.55" fill="#000"/>
<circle cx="650.7" cy="472.1" r="1.55" fill="#000"/>
<circle cx="653.6" cy="493.8" r="1.55" fill="#000"/>
<circle cx="650.7" cy="498.5" r="1.55" fill="#000"/>
<circle cx="645.5" cy="504.0" r="1.55" fill="#000"/>
<circle cx="656.4" cy="505.6" r="1.55" fill="#000"/>
<circle cx="650.7" cy="508.3" r="1.55" fill="#000"/>
<circle cx="656.7" cy="509.5" r="1.55" fill="#000"/>
<circle cx="647.2" cy="511.5" r="1.55" fill="#000"/>
<circle cx="653.8" cy="515.4" r="1.55" fill="#000"/>
<circle cx="648.2" cy="517.4" r="1.55" fill="#000"/>
<path d="M586.9,443.8V434.0H608.4V443.8" stroke="#000" stroke-width="1.3" fill="none"/>
<text x="595.9" y="421.2" font-size="8.3" text-anchor="middle">(1.2)</text>
<text x="597.9" y="438.6" font-size="16.7" class="b" text-anchor="middle">*</text>
<path d="M629.2,443.8V434.0H650.8V443.8" stroke="#000" stroke-width="1.3" fill="none"/>
<text x="638.3" y="421.2" font-size="8.3" text-anchor="middle">(1.4)</text>
<text x="640.2" y="438.6" font-size="16.7" class="b" text-anchor="middle">*</text>
<text x="555.4" y="570.8" font-size="8.2" text-anchor="middle">Pre</text>
<path d="M544.8,580.0V576.5H566.0V580.0" stroke="#000" stroke-width="1.1" fill="none"/>
<text x="597.8" y="570.8" font-size="8.2" text-anchor="middle">12M</text>
<path d="M587.2,580.0V576.5H608.3V580.0" stroke="#000" stroke-width="1.1" fill="none"/>
<text x="640.1" y="570.8" font-size="8.2" text-anchor="middle">54M</text>
<path d="M629.5,580.0V576.5H650.7V580.0" stroke="#000" stroke-width="1.1" fill="none"/>
<text transform="translate(542.2,586.2) rotate(-45)" font-size="8.2" text-anchor="end">CD4 Donor</text>
<text transform="translate(563.4,586.2) rotate(-45)" font-size="8.2" text-anchor="end">CD4 3rdP</text>
<text transform="translate(584.6,586.2) rotate(-45)" font-size="8.2" text-anchor="end">CD4 Donor</text>
<text transform="translate(605.7,586.2) rotate(-45)" font-size="8.2" text-anchor="end">CD4 3rdP</text>
<text transform="translate(626.9,586.2) rotate(-45)" font-size="8.2" text-anchor="end">CD4 Donor</text>
<text transform="translate(648.1,586.2) rotate(-45)" font-size="8.2" text-anchor="end">CD4 3rdP</text>
<text x="591.0" y="656.3" class="b" font-size="9.2" text-anchor="middle">Proliferating IFNγ<tspan font-size="5.5" dy="-3.2">+</tspan><tspan dy="3.2"> CD8</tspan><tspan font-size="5.5" dy="-3.2">+</tspan><tspan dy="3.2"> T-cells</tspan></text>
<text transform="translate(474.6,742.5) rotate(-90)" class="b" font-size="9.1" text-anchor="middle">% IFN-γ<tspan font-size="5.5" dy="-3.2">+</tspan><tspan dy="3.2"> CD8</tspan><tspan font-size="5.5" dy="-3.2">+</tspan></text>
<text transform="translate(486.2,742.5) rotate(-90)" class="b" font-size="9.1" text-anchor="middle">proliferating T cells</text>
<path d="M520.20,674.5V810.4M514.4,809.60H520.2M514.4,782.74H520.2M514.4,755.88H520.2M514.4,729.02H520.2M514.4,702.16H520.2M514.4,675.30H520.2M517.1,796.17H520.2M517.1,769.31H520.2M517.1,742.45H520.2M517.1,715.59H520.2M517.1,688.73H520.2" stroke="#000" stroke-width="1.6" fill="none"/>
<text x="509.2" y="812.60" font-size="8" text-anchor="end">-20</text>
<text x="509.2" y="785.74" font-size="8" text-anchor="end">0</text>
<text x="509.2" y="758.88" font-size="8" text-anchor="end">20</text>
<text x="509.2" y="732.02" font-size="8" text-anchor="end">40</text>
<text x="509.2" y="705.16" font-size="8" text-anchor="end">60</text>
<text x="509.2" y="678.30" font-size="8" text-anchor="end">80</text>
<path d="M520.8,782.74H664" stroke="#222" stroke-width="0.7" stroke-dasharray="1,1.3" fill="none"/>
<path d="M544.80,735.47C545.10,736.41 545.93,739.27 546.60,741.11C547.27,742.94 548.25,744.91 548.80,746.48C549.35,748.05 549.87,748.94 549.90,750.51C549.93,752.07 549.32,754.31 549.00,755.88C548.68,757.45 547.90,758.57 548.00,759.91C548.10,761.25 549.10,762.60 549.60,763.94C550.10,765.28 550.97,766.40 551.00,767.97C551.03,769.53 550.42,771.66 549.80,773.34C549.18,775.02 547.97,776.47 547.30,778.04C546.63,779.61 546.22,781.40 545.80,782.74C545.38,784.08 544.97,785.54 544.80,786.10C544.63,786.66 544.97,786.66 544.80,786.10C544.63,785.54 544.22,784.08 543.80,782.74C543.38,781.40 542.97,779.61 542.30,778.04C541.63,776.47 540.42,775.02 539.80,773.34C539.18,771.66 538.57,769.53 538.60,767.97C538.63,766.40 539.50,765.28 540.00,763.94C540.50,762.60 541.50,761.25 541.60,759.91C541.70,758.57 540.92,757.45 540.60,755.88C540.28,754.31 539.67,752.07 539.70,750.51C539.73,748.94 540.25,748.05 540.80,746.48C541.35,744.91 542.33,742.94 543.00,741.11C543.67,739.27 544.50,736.41 544.80,735.47C545.10,734.53 544.50,734.53 544.80,735.47Z" fill="#6b93d6" stroke="#111" stroke-width="0.6"/>
<path d="M565.98,742.18C566.28,743.12 567.15,745.99 567.78,747.82C568.41,749.66 569.33,751.63 569.78,753.19C570.23,754.76 570.51,755.88 570.48,757.22C570.45,758.57 569.60,759.91 569.58,761.25C569.56,762.59 569.98,763.71 570.38,765.28C570.78,766.85 571.88,768.86 571.98,770.65C572.08,772.44 571.65,774.35 570.98,776.02C570.31,777.70 568.68,779.27 567.98,780.73C567.28,782.18 567.11,783.52 566.78,784.75C566.45,785.99 566.11,787.55 565.98,788.11C565.85,788.67 566.11,788.67 565.98,788.11C565.85,787.55 565.51,785.99 565.18,784.75C564.85,783.52 564.68,782.18 563.98,780.73C563.28,779.27 561.65,777.70 560.98,776.02C560.31,774.35 559.88,772.44 559.98,770.65C560.08,768.86 561.18,766.85 561.58,765.28C561.98,763.71 562.40,762.59 562.38,761.25C562.36,759.91 561.51,758.57 561.48,757.22C561.45,755.88 561.73,754.76 562.18,753.19C562.63,751.63 563.55,749.66 564.18,747.82C564.81,745.99 565.68,743.12 565.98,742.18C566.28,741.24 565.68,741.24 565.98,742.18Z" fill="#f2a93b" stroke="#111" stroke-width="0.6"/>
<path d="M587.16,757.49C587.43,758.23 588.26,760.51 588.76,761.92C589.26,763.33 590.13,764.61 590.16,765.95C590.19,767.30 589.24,768.75 588.96,769.98C588.68,771.21 588.18,772.22 588.46,773.34C588.74,774.46 589.71,775.58 590.66,776.70C591.61,777.82 593.49,779.05 594.16,780.05C594.83,781.06 595.16,781.84 594.66,782.74C594.16,783.64 592.24,784.53 591.16,785.43C590.08,786.32 588.83,787.33 588.16,788.11C587.49,788.90 587.33,789.79 587.16,790.13C586.99,790.46 587.33,790.46 587.16,790.13C586.99,789.79 586.83,788.90 586.16,788.11C585.49,787.33 584.24,786.32 583.16,785.43C582.08,784.53 580.16,783.64 579.66,782.74C579.16,781.84 579.49,781.06 580.16,780.05C580.83,779.05 582.71,777.82 583.66,776.70C584.61,775.58 585.58,774.46 585.86,773.34C586.14,772.22 585.64,771.21 585.36,769.98C585.08,768.75 584.13,767.30 584.16,765.95C584.19,764.61 585.06,763.33 585.56,761.92C586.06,760.51 586.89,758.23 587.16,757.49C587.43,756.75 586.89,756.75 587.16,757.49Z" fill="#6b93d6" stroke="#111" stroke-width="0.6"/>
<path d="M608.34,749.70C608.49,750.51 608.94,753.06 609.24,754.54C609.54,756.01 609.96,757.33 610.14,758.57C610.32,759.80 610.42,760.80 610.34,761.92C610.26,763.04 609.47,764.16 609.64,765.28C609.81,766.40 610.59,767.52 611.34,768.64C612.09,769.76 613.47,770.99 614.14,772.00C614.81,773.00 615.39,773.79 615.34,774.68C615.29,775.58 614.67,776.36 613.84,777.37C613.01,778.38 611.16,779.49 610.34,780.73C609.52,781.96 609.27,783.68 608.94,784.75C608.61,785.83 608.44,786.77 608.34,787.17C608.24,787.57 608.44,787.57 608.34,787.17C608.24,786.77 608.07,785.83 607.74,784.75C607.41,783.68 607.16,781.96 606.34,780.73C605.52,779.49 603.67,778.38 602.84,777.37C602.01,776.36 601.39,775.58 601.34,774.68C601.29,773.79 601.87,773.00 602.54,772.00C603.21,770.99 604.59,769.76 605.34,768.64C606.09,767.52 606.87,766.40 607.04,765.28C607.21,764.16 606.42,763.04 606.34,761.92C606.26,760.80 606.36,759.80 606.54,758.57C606.72,757.33 607.14,756.01 607.44,754.54C607.74,753.06 608.19,750.51 608.34,749.70C608.49,748.90 608.19,748.90 608.34,749.70Z" fill="#f2a93b" stroke="#111" stroke-width="0.6"/>
<path d="M629.52,748.22C629.58,749.50 629.81,752.37 629.87,755.88C629.93,759.39 629.85,765.73 629.87,769.31C629.89,772.89 629.66,775.58 630.02,777.37C630.38,779.16 631.02,779.27 632.02,780.05C633.02,780.84 635.77,781.51 636.02,782.07C636.27,782.63 634.60,782.96 633.52,783.41C632.44,783.86 630.19,784.53 629.52,784.75C628.85,784.98 630.19,784.98 629.52,784.75C628.85,784.53 626.60,783.86 625.52,783.41C624.44,782.96 622.77,782.63 623.02,782.07C623.27,781.51 626.02,780.84 627.02,780.05C628.02,779.27 628.66,779.16 629.02,777.37C629.38,775.58 629.14,772.89 629.17,769.31C629.19,765.73 629.11,759.39 629.17,755.88C629.23,752.37 629.46,749.50 629.52,748.22C629.58,746.95 629.46,746.95 629.52,748.22Z" fill="#6b93d6" stroke="#111" stroke-width="0.6"/>
<path d="M650.70,696.12C650.85,697.57 651.30,702.05 651.60,704.85C651.90,707.64 652.35,709.77 652.50,712.90C652.65,716.04 652.60,720.51 652.50,723.65C652.40,726.78 652.07,729.24 651.90,731.71C651.73,734.17 651.33,736.18 651.50,738.42C651.67,740.66 652.33,742.67 652.90,745.14C653.47,747.60 654.30,750.73 654.90,753.19C655.50,755.66 656.10,757.67 656.50,759.91C656.90,762.15 657.43,764.39 657.30,766.62C657.17,768.86 656.33,771.32 655.70,773.34C655.07,775.35 654.13,777.14 653.50,778.71C652.87,780.28 652.30,781.17 651.90,782.74C651.50,784.31 651.30,786.19 651.10,788.11C650.90,790.04 650.77,793.26 650.70,794.29C650.63,795.32 650.77,795.32 650.70,794.29C650.63,793.26 650.50,790.04 650.30,788.11C650.10,786.19 649.90,784.31 649.50,782.74C649.10,781.17 648.53,780.28 647.90,778.71C647.27,777.14 646.33,775.35 645.70,773.34C645.07,771.32 644.23,768.86 644.10,766.62C643.97,764.39 644.50,762.15 644.90,759.91C645.30,757.67 645.90,755.66 646.50,753.19C647.10,750.73 647.93,747.60 648.50,745.14C649.07,742.67 649.73,740.66 649.90,738.42C650.07,736.18 649.67,734.17 649.50,731.71C649.33,729.24 649.00,726.78 648.90,723.65C648.80,720.51 648.75,716.04 648.90,712.90C649.05,709.77 649.50,707.64 649.80,704.85C650.10,702.05 650.55,697.57 650.70,696.12C650.85,694.66 650.55,694.66 650.70,696.12Z" fill="#f2a93b" stroke="#111" stroke-width="0.6"/>
<path d="M539.3,764.9H550.3" stroke="#222" stroke-width="0.55" stroke-dasharray="1.2,0.6"/>
<path d="M539.0,771.2H550.6" stroke="#222" stroke-width="0.55" stroke-dasharray="1.2,0.6"/>
<path d="M562.2,761.3H569.8" stroke="#222" stroke-width="0.55" stroke-dasharray="1.2,0.6"/>
<path d="M560.2,771.3H571.8" stroke="#222" stroke-width="0.55" stroke-dasharray="1.2,0.6"/>
<path d="M580.2,781.1H594.2" stroke="#222" stroke-width="0.55" stroke-dasharray="1.2,0.6"/>
<path d="M601.8,772.7H614.8" stroke="#222" stroke-width="0.55" stroke-dasharray="1.2,0.6"/>
<path d="M602.7,776.7H613.9" stroke="#222" stroke-width="0.55" stroke-dasharray="1.2,0.6"/>
<path d="M644.3,763.3H657.1" stroke="#222" stroke-width="0.55" stroke-dasharray="1.2,0.6"/>
<path d="M645.7,772.0H655.7" stroke="#222" stroke-width="0.55" stroke-dasharray="1.2,0.6"/>
<circle cx="544.8" cy="750.9" r="1.55" fill="#000"/>
<circle cx="544.8" cy="764.9" r="1.55" fill="#000"/>
<circle cx="544.8" cy="771.2" r="1.55" fill="#000"/>
<circle cx="566.0" cy="756.0" r="1.55" fill="#000"/>
<circle cx="566.0" cy="768.4" r="1.55" fill="#000"/>
<circle cx="566.0" cy="773.9" r="1.55" fill="#000"/>
<circle cx="587.2" cy="766.1" r="1.55" fill="#000"/>
<circle cx="584.2" cy="780.5" r="1.55" fill="#000"/>
<circle cx="586.2" cy="781.1" r="1.55" fill="#000"/>
<circle cx="589.2" cy="781.7" r="1.55" fill="#000"/>
<circle cx="591.2" cy="782.1" r="1.55" fill="#000"/>
<circle cx="582.2" cy="782.1" r="1.55" fill="#000"/>
<circle cx="584.7" cy="783.0" r="1.55" fill="#000"/>
<circle cx="588.0" cy="783.0" r="1.55" fill="#000"/>
<circle cx="608.3" cy="756.6" r="1.55" fill="#000"/>
<circle cx="608.3" cy="761.8" r="1.55" fill="#000"/>
<circle cx="608.3" cy="772.5" r="1.55" fill="#000"/>
<circle cx="603.7" cy="774.4" r="1.55" fill="#000"/>
<circle cx="611.9" cy="774.4" r="1.55" fill="#000"/>
<circle cx="608.3" cy="776.2" r="1.55" fill="#000"/>
<circle cx="605.7" cy="777.1" r="1.55" fill="#000"/>
<circle cx="610.8" cy="778.2" r="1.55" fill="#000"/>
<circle cx="608.3" cy="779.7" r="1.55" fill="#000"/>
<circle cx="629.5" cy="748.2" r="1.55" fill="#000"/>
<circle cx="624.0" cy="780.7" r="1.55" fill="#000"/>
<circle cx="626.0" cy="781.7" r="1.55" fill="#000"/>
<circle cx="630.0" cy="781.7" r="1.55" fill="#000"/>
<circle cx="633.1" cy="778.2" r="1.55" fill="#000"/>
<circle cx="634.1" cy="781.7" r="1.55" fill="#000"/>
<circle cx="628.0" cy="782.5" r="1.55" fill="#000"/>
<circle cx="650.7" cy="713.6" r="1.55" fill="#000"/>
<circle cx="650.7" cy="729.7" r="1.55" fill="#000"/>
<circle cx="653.4" cy="752.1" r="1.55" fill="#000"/>
<circle cx="646.6" cy="761.7" r="1.55" fill="#000"/>
<circle cx="650.7" cy="763.0" r="1.55" fill="#000"/>
<circle cx="655.1" cy="764.7" r="1.55" fill="#000"/>
<circle cx="650.7" cy="766.2" r="1.55" fill="#000"/>
<circle cx="645.7" cy="768.5" r="1.55" fill="#000"/>
<circle cx="656.7" cy="766.2" r="1.55" fill="#000"/>
<circle cx="651.7" cy="769.0" r="1.55" fill="#000"/>
<circle cx="650.7" cy="773.2" r="1.55" fill="#000"/>
<circle cx="656.7" cy="772.1" r="1.55" fill="#000"/>
<circle cx="650.7" cy="778.2" r="1.55" fill="#000"/>
<path d="M586.9,693.6V683.8H608.4V693.6" stroke="#000" stroke-width="1.3" fill="none"/>
<text x="595.9" y="671.9" font-size="8.3" text-anchor="middle">(0.9)</text>
<text x="597.9" y="689.1" font-size="16.7" class="b" text-anchor="middle">*</text>
<path d="M629.2,693.6V683.8H650.8V693.6" stroke="#000" stroke-width="1.3" fill="none"/>
<text x="638.3" y="671.9" font-size="8.3" text-anchor="middle">(1.4)</text>
<text x="640.2" y="689.1" font-size="16.7" class="b" text-anchor="middle">***</text>
<text x="555.4" y="824.7" font-size="8.2" text-anchor="middle">Pre</text>
<path d="M544.8,833.9V830.4H566.0V833.9" stroke="#000" stroke-width="1.1" fill="none"/>
<text x="597.8" y="824.7" font-size="8.2" text-anchor="middle">12M</text>
<path d="M587.2,833.9V830.4H608.3V833.9" stroke="#000" stroke-width="1.1" fill="none"/>
<text x="640.1" y="824.7" font-size="8.2" text-anchor="middle">54M</text>
<path d="M629.5,833.9V830.4H650.7V833.9" stroke="#000" stroke-width="1.1" fill="none"/>
<text transform="translate(542.2,840.1) rotate(-45)" font-size="8.2" text-anchor="end">CD8 Donor</text>
<text transform="translate(563.4,840.1) rotate(-45)" font-size="8.2" text-anchor="end">CD8 3rdP</text>
<text transform="translate(584.6,840.1) rotate(-45)" font-size="8.2" text-anchor="end">CD8 Donor</text>
<text transform="translate(605.7,840.1) rotate(-45)" font-size="8.2" text-anchor="end">CD8 3rdP</text>
<text transform="translate(626.9,840.1) rotate(-45)" font-size="8.2" text-anchor="end">CD8 Donor</text>
<text transform="translate(648.1,840.1) rotate(-45)" font-size="8.2" text-anchor="end">CD8 3rdP</text>
<path d="M243.8,895.4H257.4" stroke="#366a82" stroke-width="2.8" stroke-linecap="round"/><circle cx="250.6" cy="895.4" r="2.5" fill="#366a82"/>
<text x="260.9" y="897.9" class="b" font-size="7.85">All patients</text>
<path d="M333.7,895.4H352" stroke="#18994a" stroke-width="2.3" stroke-linecap="round" stroke-dasharray="3.9,3.8"/>
<text x="354.9" y="897.9" class="b" font-size="7.85">Operational tolerance</text>
<path d="M155.1,912.3H178.7" stroke="#d3d6da" stroke-width="1.1"/>
<circle cx="166.9" cy="912.3" r="2.9" fill="#c9ccd1"/>
<text x="183.5" y="915.3" font-size="8.1" fill="#222">01</text>
<path d="M214.0,912.3H237.6" stroke="#d3d6da" stroke-width="1.1"/>
<path d="M225.8,909.1L228.9,914.6H222.7Z" fill="#c9ccd1"/>
<text x="242.4" y="915.3" font-size="8.1" fill="#222">08</text>
<path d="M272.9,912.3H296.5" stroke="#d3d6da" stroke-width="1.1"/>
<circle cx="284.7" cy="912.3" r="2.9" fill="#c9ccd1"/>
<text x="301.3" y="915.3" font-size="8.1" fill="#222">16</text>
<path d="M331.8,912.3H355.4" stroke="#d3d6da" stroke-width="1.1"/>
<rect x="340.7" y="909.4" width="5.8" height="5.8" fill="#fff" stroke="#c9ccd1" stroke-width="1.0"/>
<text x="360.2" y="915.3" font-size="8.1" fill="#222">09</text>
<path d="M390.7,912.3H414.3" stroke="#d3d6da" stroke-width="1.1"/>
<path d="M402.5,909.0L405.8,912.3L402.5,915.6L399.2,912.3Z" fill="#fff" stroke="#c9ccd1" stroke-width="1.0"/>
<text x="419.1" y="915.3" font-size="8.1" fill="#222">13</text>
<path d="M449.6,912.3H473.2" stroke="#d3d6da" stroke-width="1.1"/>
<circle cx="461.4" cy="912.3" r="2.9" fill="#fff" stroke="#c9ccd1" stroke-width="1.0"/>
<text x="478.0" y="915.3" font-size="8.1" fill="#222">05</text>
<path d="M508.5,912.3H532.1" stroke="#d3d6da" stroke-width="1.1"/>
<path d="M520.3,909.1L523.4,914.6H517.2Z" fill="#fff" stroke="#c9ccd1" stroke-width="1.0"/>
<text x="536.9" y="915.3" font-size="8.1" fill="#222">10</text>
<path d="M155.1,925.9H178.7" stroke="#d3d6da" stroke-width="1.1"/>
<rect x="164.0" y="923.0" width="5.8" height="5.8" fill="#c9ccd1"/>
<text x="183.5" y="928.9" font-size="8.1" fill="#222">06</text>
<path d="M214.0,925.9H237.6" stroke="#d3d6da" stroke-width="1.1"/>
<path d="M225.8,922.6L229.1,925.9L225.8,929.2L222.5,925.9Z" fill="#c9ccd1"/>
<text x="242.4" y="928.9" font-size="8.1" fill="#222">11</text>
<path d="M272.9,925.9H296.5" stroke="#d3d6da" stroke-width="1.1"/>
<circle cx="284.7" cy="925.9" r="2.9" fill="#fff" stroke="#c9ccd1" stroke-width="1.0"/>
<text x="301.3" y="928.9" font-size="8.1" fill="#222">02</text>
<path d="M331.8,925.9H355.4" stroke="#d3d6da" stroke-width="1.1"/>
<path d="M343.6,929.1L346.7,923.6H340.5Z" fill="#c9ccd1"/>
<text x="360.2" y="928.9" font-size="8.1" fill="#222">12</text>
<path d="M390.7,925.9H414.3" stroke="#d3d6da" stroke-width="1.1"/>
<circle cx="402.5" cy="925.9" r="2.9" fill="#fff" stroke="#c9ccd1" stroke-width="1.0"/>
<text x="419.1" y="928.9" font-size="8.1" fill="#222">04</text>
<path d="M449.6,925.9H473.2" stroke="#d3d6da" stroke-width="1.1"/>
<rect x="458.5" y="923.0" width="5.8" height="5.8" fill="#fff" stroke="#c9ccd1" stroke-width="1.0"/>
<text x="478.0" y="928.9" font-size="8.1" fill="#222">07</text>
</svg></body></html>
